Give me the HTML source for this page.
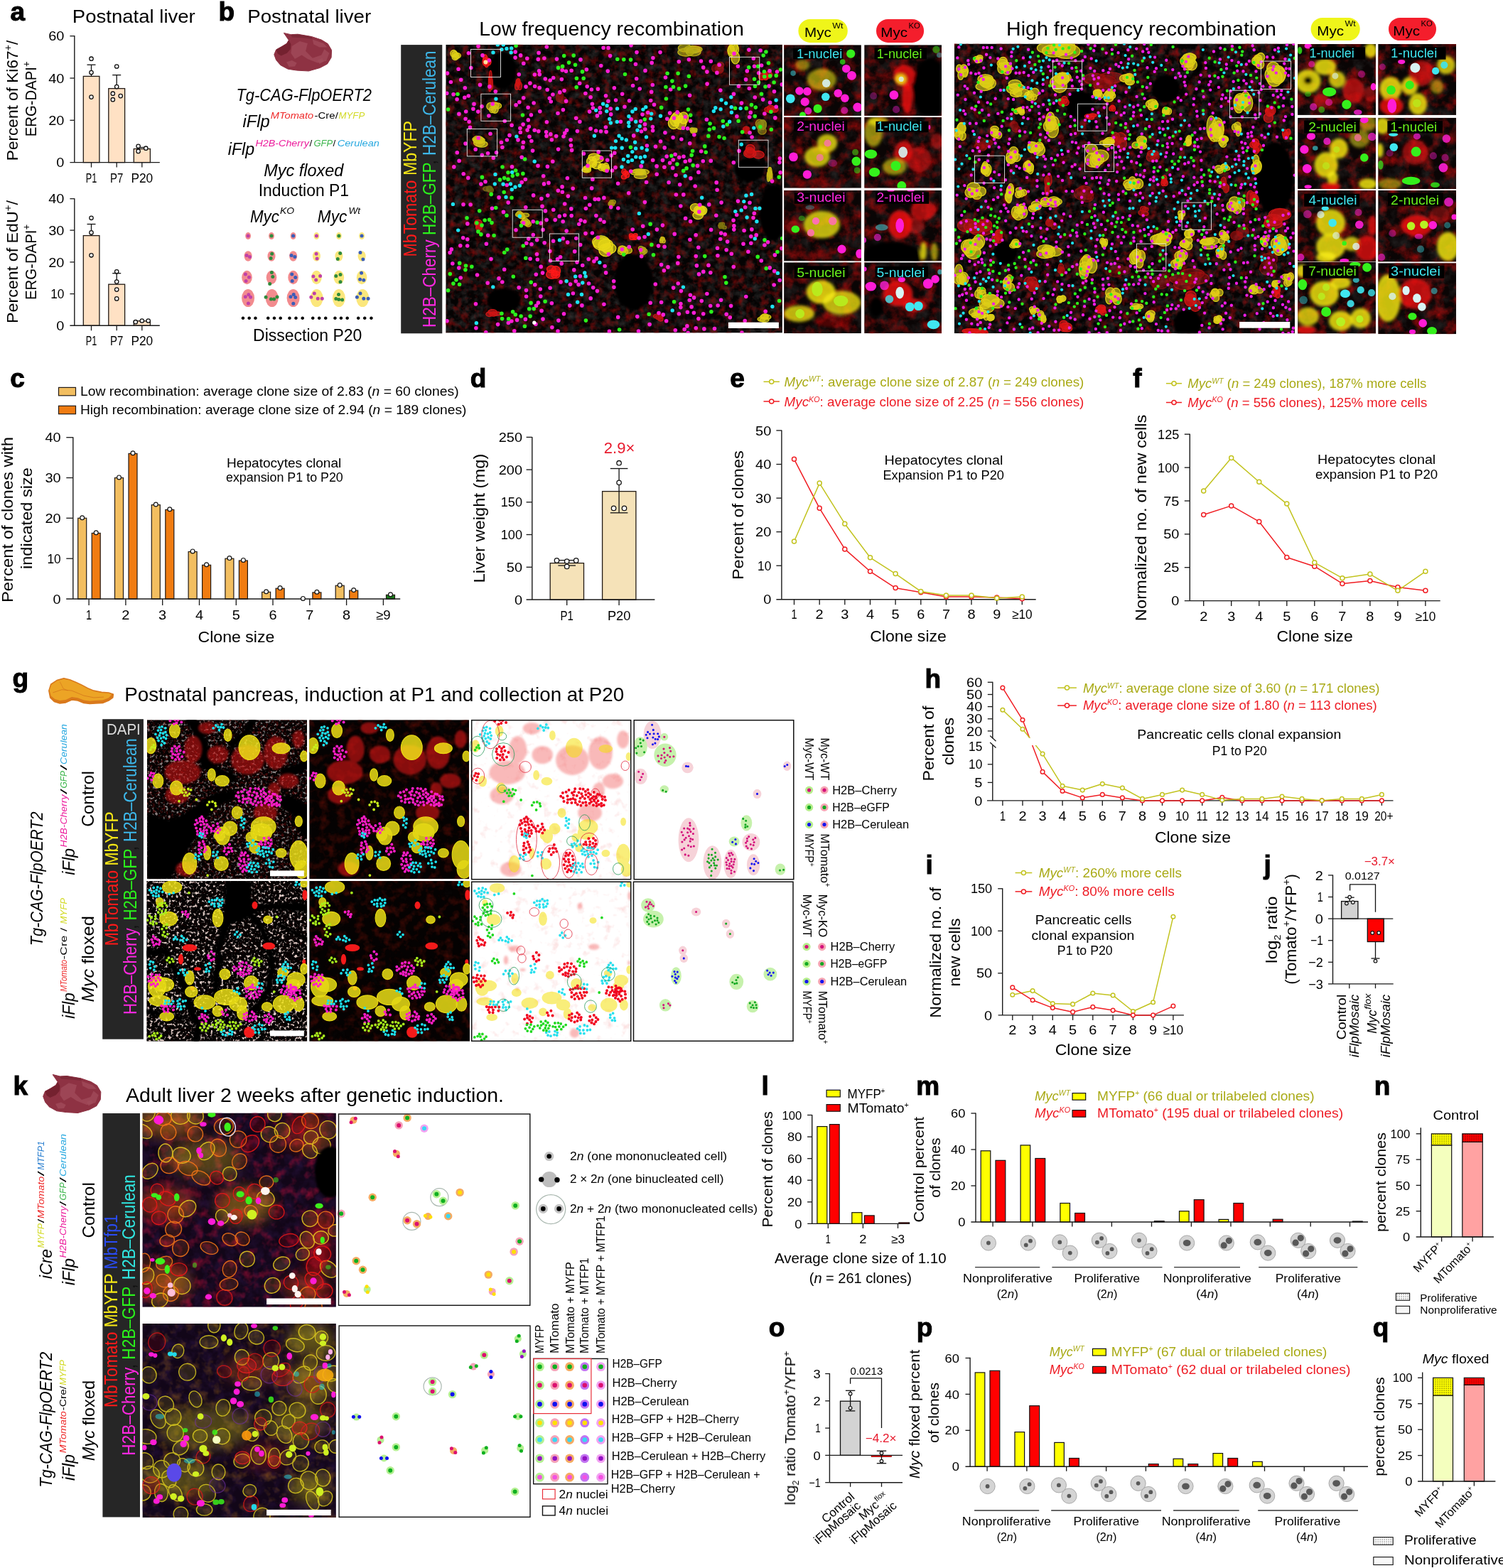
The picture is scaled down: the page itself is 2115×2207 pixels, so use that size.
<!DOCTYPE html>
<html><head><meta charset="utf-8"><title>Figure</title>
<style>html,body{margin:0;padding:0;background:#fff}svg{display:block}text{font-family:'Liberation Sans', sans-serif;white-space:pre}</style>
</head><body>
<svg width="2115" height="2207" viewBox="0 0 2115 2207">
<text x="14.5" y="29.1" font-size="37" fill="#000" font-weight="bold" stroke="#000" stroke-width="1">a</text>
<text x="101.8" y="31.8" font-size="25.6" textLength="173" lengthAdjust="spacingAndGlyphs">Postnatal liver</text>
<rect x="117.3" y="107.4" width="22.6" height="121.2" fill="#FFE1C4" stroke="#221a14" stroke-width="1.3"/>
<rect x="152.8" y="124.6" width="22.8" height="104" fill="#FFE1C4" stroke="#221a14" stroke-width="1.3"/>
<rect x="188.3" y="209.5" width="23.1" height="19.1" fill="#FFE1C4" stroke="#221a14" stroke-width="1.3"/>
<line x1="128.5" y1="91.2" x2="128.5" y2="107.4" stroke="#111" stroke-width="1.3"/>
<line x1="122.5" y1="91.2" x2="134.5" y2="91.2" stroke="#111" stroke-width="1.3"/>
<line x1="164.2" y1="105.6" x2="164.2" y2="124.6" stroke="#111" stroke-width="1.3"/>
<line x1="158.2" y1="105.6" x2="170.2" y2="105.6" stroke="#111" stroke-width="1.3"/>
<line x1="194.6" y1="207.5" x2="205.3" y2="207.5" stroke="#111" stroke-width="1.3"/>
<circle cx="128.5" cy="82.7" r="2.7" fill="#fff" stroke="#111" stroke-width="1.3"/>
<circle cx="128.5" cy="102" r="2.7" fill="#fff" stroke="#111" stroke-width="1.3"/>
<circle cx="128.5" cy="136.6" r="2.7" fill="#fff" stroke="#111" stroke-width="1.3"/>
<circle cx="164.2" cy="93.5" r="2.7" fill="#fff" stroke="#111" stroke-width="1.3"/>
<circle cx="164.2" cy="122.1" r="2.7" fill="#fff" stroke="#111" stroke-width="1.3"/>
<circle cx="158.8" cy="131.7" r="2.7" fill="#fff" stroke="#111" stroke-width="1.3"/>
<circle cx="169.7" cy="135.1" r="2.7" fill="#fff" stroke="#111" stroke-width="1.3"/>
<circle cx="158.8" cy="140.2" r="2.7" fill="#fff" stroke="#111" stroke-width="1.3"/>
<circle cx="194.6" cy="205.8" r="2.7" fill="#fff" stroke="#111" stroke-width="1.3"/>
<circle cx="205.3" cy="208.7" r="2.7" fill="#fff" stroke="#111" stroke-width="1.3"/>
<circle cx="194.6" cy="212.9" r="2.7" fill="#fff" stroke="#111" stroke-width="1.3"/>
<line x1="104.8" y1="50.1" x2="104.8" y2="228.6" stroke="#1a1a1a" stroke-width="1.4"/>
<line x1="98.4" y1="228.6" x2="224.8" y2="228.6" stroke="#1a1a1a" stroke-width="1.4"/>
<line x1="98.4" y1="169.3" x2="104.8" y2="169.3" stroke="#1a1a1a" stroke-width="1.3"/>
<line x1="98.4" y1="110" x2="104.8" y2="110" stroke="#1a1a1a" stroke-width="1.3"/>
<line x1="98.4" y1="50.7" x2="104.8" y2="50.7" stroke="#1a1a1a" stroke-width="1.3"/>
<text x="79.3" y="235.2" font-size="18.5" textLength="11.1" lengthAdjust="spacingAndGlyphs">0</text>
<text x="68.2" y="175.9" font-size="18.5" textLength="22.2" lengthAdjust="spacingAndGlyphs">20</text>
<text x="68.2" y="116.6" font-size="18.5" textLength="22.2" lengthAdjust="spacingAndGlyphs">40</text>
<text x="68.2" y="57.3" font-size="18.5" textLength="22.2" lengthAdjust="spacingAndGlyphs">60</text>
<line x1="128.5" y1="228.6" x2="128.5" y2="235.6" stroke="#1a1a1a" stroke-width="1.3"/>
<text x="120.8" y="256.9" font-size="17.5" textLength="15.5" lengthAdjust="spacingAndGlyphs">P1</text>
<line x1="164.2" y1="228.6" x2="164.2" y2="235.6" stroke="#1a1a1a" stroke-width="1.3"/>
<text x="155" y="256.9" font-size="17.5" textLength="18.3" lengthAdjust="spacingAndGlyphs">P7</text>
<line x1="199.8" y1="228.6" x2="199.8" y2="235.6" stroke="#1a1a1a" stroke-width="1.3"/>
<text x="184.4" y="256.9" font-size="17.5" textLength="30.8" lengthAdjust="spacingAndGlyphs">P20</text>
<text font-size="22" textLength="169.5" lengthAdjust="spacingAndGlyphs" transform="translate(25 226.2) rotate(-90)"><tspan>Percent of Ki67</tspan><tspan font-size="14" dy="-9">+</tspan><tspan dy="9">/</tspan></text>
<text font-size="22" textLength="105.8" lengthAdjust="spacingAndGlyphs" transform="translate(51 192.3) rotate(-90)"><tspan>ERG-DAPI</tspan><tspan font-size="14" dy="-9">+</tspan><tspan dy="9"></tspan></text>
<rect x="117.3" y="331.6" width="22.6" height="126.7" fill="#FFE1C4" stroke="#221a14" stroke-width="1.3"/>
<rect x="152.8" y="400.2" width="22.8" height="58.1" fill="#FFE1C4" stroke="#221a14" stroke-width="1.3"/>
<rect x="188.3" y="451.8" width="23.1" height="6.5" fill="#FFE1C4" stroke="#221a14" stroke-width="1.3"/>
<line x1="128.5" y1="315.5" x2="128.5" y2="331.6" stroke="#111" stroke-width="1.3"/>
<line x1="122.5" y1="315.5" x2="134.5" y2="315.5" stroke="#111" stroke-width="1.3"/>
<line x1="164.2" y1="384.7" x2="164.2" y2="400.2" stroke="#111" stroke-width="1.3"/>
<line x1="158.2" y1="384.7" x2="170.2" y2="384.7" stroke="#111" stroke-width="1.3"/>
<circle cx="128.5" cy="306.8" r="2.7" fill="#fff" stroke="#111" stroke-width="1.3"/>
<circle cx="128.5" cy="327.4" r="2.7" fill="#fff" stroke="#111" stroke-width="1.3"/>
<circle cx="128.5" cy="359.3" r="2.7" fill="#fff" stroke="#111" stroke-width="1.3"/>
<circle cx="164.2" cy="382.3" r="2.7" fill="#fff" stroke="#111" stroke-width="1.3"/>
<circle cx="164.2" cy="396.6" r="2.7" fill="#fff" stroke="#111" stroke-width="1.3"/>
<circle cx="164.2" cy="407.6" r="2.7" fill="#fff" stroke="#111" stroke-width="1.3"/>
<circle cx="164.2" cy="420.4" r="2.7" fill="#fff" stroke="#111" stroke-width="1.3"/>
<circle cx="190.8" cy="453.2" r="2.7" fill="#fff" stroke="#111" stroke-width="1.3"/>
<circle cx="199.8" cy="451.5" r="2.7" fill="#fff" stroke="#111" stroke-width="1.3"/>
<circle cx="208.7" cy="451.5" r="2.7" fill="#fff" stroke="#111" stroke-width="1.3"/>
<line x1="104.8" y1="279.2" x2="104.8" y2="458.3" stroke="#1a1a1a" stroke-width="1.4"/>
<line x1="98.4" y1="458.3" x2="224.8" y2="458.3" stroke="#1a1a1a" stroke-width="1.4"/>
<line x1="98.4" y1="413.6" x2="104.8" y2="413.6" stroke="#1a1a1a" stroke-width="1.3"/>
<line x1="98.4" y1="368.9" x2="104.8" y2="368.9" stroke="#1a1a1a" stroke-width="1.3"/>
<line x1="98.4" y1="324.1" x2="104.8" y2="324.1" stroke="#1a1a1a" stroke-width="1.3"/>
<line x1="98.4" y1="279.7" x2="104.8" y2="279.7" stroke="#1a1a1a" stroke-width="1.3"/>
<text x="79.3" y="464.9" font-size="18.5" textLength="11.1" lengthAdjust="spacingAndGlyphs">0</text>
<text x="71.2" y="420.2" font-size="18.5" textLength="19.2" lengthAdjust="spacingAndGlyphs">10</text>
<text x="68.2" y="375.5" font-size="18.5" textLength="22.2" lengthAdjust="spacingAndGlyphs">20</text>
<text x="68.2" y="330.7" font-size="18.5" textLength="22.2" lengthAdjust="spacingAndGlyphs">30</text>
<text x="68.2" y="286.3" font-size="18.5" textLength="22.2" lengthAdjust="spacingAndGlyphs">40</text>
<line x1="128.5" y1="458.3" x2="128.5" y2="465.3" stroke="#1a1a1a" stroke-width="1.3"/>
<text x="120.8" y="486.4" font-size="17.5" textLength="15.5" lengthAdjust="spacingAndGlyphs">P1</text>
<line x1="164.2" y1="458.3" x2="164.2" y2="465.3" stroke="#1a1a1a" stroke-width="1.3"/>
<text x="155" y="486.4" font-size="17.5" textLength="18.3" lengthAdjust="spacingAndGlyphs">P7</text>
<line x1="199.8" y1="458.3" x2="199.8" y2="465.3" stroke="#1a1a1a" stroke-width="1.3"/>
<text x="184.4" y="486.4" font-size="17.5" textLength="30.8" lengthAdjust="spacingAndGlyphs">P20</text>
<text font-size="22" textLength="173" lengthAdjust="spacingAndGlyphs" transform="translate(25 455) rotate(-90)"><tspan>Percent of EdU</tspan><tspan font-size="14" dy="-9">+</tspan><tspan dy="9">/</tspan></text>
<text font-size="22" textLength="106" lengthAdjust="spacingAndGlyphs" transform="translate(51 422) rotate(-90)"><tspan>ERG-DAPI</tspan><tspan font-size="14" dy="-9">+</tspan><tspan dy="9"></tspan></text>
<text x="307.4" y="29.1" font-size="37" fill="#000" font-weight="bold" stroke="#000" stroke-width="1">b</text>
<text x="348.2" y="31.6" font-size="25.6" textLength="174" lengthAdjust="spacingAndGlyphs">Postnatal liver</text>
<polygon points="399.4,46.4 409.4,48.7 419.1,48.2 438.4,51.5 452.3,56.1 461.3,61.6 466.6,70.6 466.1,81 460.6,90 450.2,95.5 434.3,100 417.7,99.1 405.2,97.2 394.8,91.7 388.6,84.5 385.8,76.8 388.6,69.9 396.9,65.3 403.6,61.2 406.3,56.5 402.7,51.2" fill="#8E3243" stroke="#8E3243" stroke-width="1" stroke-linejoin="round"/>
<polygon points="410.8,65.1 421.8,58.1 432.9,60.9 430.1,72 439.8,81.7 452.3,77.5 456.4,69.2 463.4,74.8 459.2,85.8 446.8,88.6 432.9,83.1 424.6,77.5 414.9,83.1 409.4,74.8" fill="#A24C5B" opacity="0.75"/>
<polygon points="439.8,55.4 455.1,60.9 460.6,66.5 449.5,66.5 441.2,62.3" fill="#A24C5B" opacity="0.75"/>
<polygon points="403.1,87.2 410.8,85.1 417.7,88.6 414.9,93.5 406.6,94.1" fill="#A24C5B" opacity="0.75"/>
<polygon points="446.8,84.5 453.7,81.7 455.8,86.5 449.5,90" fill="#A24C5B" opacity="0.75"/>
<polygon points="388.6,69.9 396.9,65.3 403.6,61.2 406.3,56.5 409.4,62.3 408.7,69.2 403.8,74.8 395.5,78.6 390.7,75.5" fill="#74212F"/>
<polygon points="409.4,48.7 419.1,48.2 438.4,51.5 439.8,54.7 424.6,53.3 410.8,52.6" fill="#7D2938"/>
<text x="332.5" y="141.9" font-size="24" font-style="italic" textLength="190.4" lengthAdjust="spacingAndGlyphs">Tg-CAG-FlpOERT2</text>
<text x="341.5" y="179.3" font-size="24" font-style="italic" textLength="38.1" lengthAdjust="spacingAndGlyphs">iFlp</text>
<text x="380.7" y="166.8" font-size="13.5" fill="#ee2a2a" font-style="italic" textLength="60.5" lengthAdjust="spacingAndGlyphs">MTomato</text>
<text x="442.6" y="166.8" font-size="13.5" textLength="33.2" lengthAdjust="spacingAndGlyphs">-Cre/</text>
<text x="476.5" y="166.8" font-size="13.5" fill="#d2da26" font-style="italic" textLength="36.7" lengthAdjust="spacingAndGlyphs">MYFP</text>
<text x="320.8" y="217.6" font-size="24" font-style="italic" textLength="37.3" lengthAdjust="spacingAndGlyphs">iFlp</text>
<text x="359.5" y="205.6" font-size="13.5" fill="#ec1c9c" font-style="italic" textLength="75.5" lengthAdjust="spacingAndGlyphs">H2B-Cherry</text>
<text x="435.6" y="205.6" font-size="13.5">/</text>
<text x="441.5" y="205.6" font-size="13.5" fill="#3ab54a" font-style="italic" textLength="26.7" lengthAdjust="spacingAndGlyphs">GFP</text>
<text x="468.6" y="205.6" font-size="13.5">/</text>
<text x="474.7" y="205.6" font-size="13.5" fill="#29a9e0" font-style="italic" textLength="59.3" lengthAdjust="spacingAndGlyphs">Cerulean</text>
<text x="371.3" y="248.4" font-size="24" font-style="italic" textLength="112.1" lengthAdjust="spacingAndGlyphs">Myc floxed</text>
<text x="363.7" y="276.3" font-size="23" textLength="127.4" lengthAdjust="spacingAndGlyphs">Induction P1</text>
<text x="351.9" y="313" font-size="24" font-style="italic" textLength="40.9" lengthAdjust="spacingAndGlyphs">Myc</text>
<text x="394.1" y="301.2" font-size="13.5" font-style="italic" textLength="20.1" lengthAdjust="spacingAndGlyphs">KO</text>
<text x="446.8" y="313" font-size="24" font-style="italic" textLength="41.5" lengthAdjust="spacingAndGlyphs">Myc</text>
<text x="490.4" y="301.2" font-size="13.5" font-style="italic" textLength="16.6" lengthAdjust="spacingAndGlyphs">Wt</text>
<ellipse cx="349.1" cy="332.1" rx="3.9" ry="5" fill="#F28B8E"/>
<ellipse cx="382" cy="332.1" rx="3.9" ry="5" fill="#F28B8E"/>
<ellipse cx="412.6" cy="332.1" rx="3.9" ry="5" fill="#F28B8E"/>
<ellipse cx="445.4" cy="332.1" rx="3.9" ry="5" fill="#FBE77C"/>
<ellipse cx="476.9" cy="332.1" rx="3.9" ry="5" fill="#FBE77C"/>
<ellipse cx="509.1" cy="332.1" rx="3.9" ry="5" fill="#FBE77C"/>
<ellipse cx="349.1" cy="360.5" rx="5.5" ry="7.3" fill="#F28B8E"/>
<ellipse cx="382" cy="360.5" rx="5.5" ry="7.3" fill="#F28B8E"/>
<ellipse cx="412.6" cy="360.5" rx="5.5" ry="7.3" fill="#F28B8E"/>
<ellipse cx="445.4" cy="360.5" rx="5.5" ry="7.3" fill="#FBE77C"/>
<ellipse cx="476.9" cy="360.5" rx="5.5" ry="7.3" fill="#FBE77C"/>
<ellipse cx="509.1" cy="360.5" rx="5.5" ry="7.3" fill="#FBE77C"/>
<ellipse cx="347.5" cy="390.5" rx="7.3" ry="9.7" fill="#F28B8E"/>
<ellipse cx="382" cy="390.5" rx="7.3" ry="9.7" fill="#F28B8E"/>
<ellipse cx="412.6" cy="390.5" rx="7.3" ry="9.7" fill="#F28B8E"/>
<ellipse cx="445.4" cy="390.5" rx="7.3" ry="9.7" fill="#FBE77C"/>
<ellipse cx="476.9" cy="390.5" rx="7.3" ry="9.7" fill="#FBE77C"/>
<ellipse cx="509.1" cy="390.5" rx="7.3" ry="9.7" fill="#FBE77C"/>
<ellipse cx="349.1" cy="419.6" rx="9" ry="12.5" fill="#F28B8E"/>
<ellipse cx="382.7" cy="419.6" rx="9" ry="12.5" fill="#F28B8E"/>
<ellipse cx="412.6" cy="419.6" rx="9" ry="12.5" fill="#F28B8E"/>
<ellipse cx="445.6" cy="419.6" rx="9" ry="12.5" fill="#FBE77C"/>
<ellipse cx="476.9" cy="419.6" rx="9" ry="12.5" fill="#FBE77C"/>
<ellipse cx="510.2" cy="419.6" rx="9" ry="12.5" fill="#FBE77C"/>
<path d="M349.1 332.1h0M347.1 359.4h0M351.5 361.4h0M345.4 386.1h0M350.5 390.2h0M346.1 395.4h0M345.3 417.8h0M349.8 414.8h0M352.6 418.2h0M349.4 426.9h0" stroke="#C040A8" stroke-width="5" stroke-linecap="round" fill="none"/>
<path d="M382 332.1h0M382.7 357.3h0M381.1 363.5h0M382.4 383.6h0M383.8 389.4h0M379.7 399.5h0M374.1 418.2h0M381.4 421h0M385.6 421h0M390 417.9h0" stroke="#2E8B3C" stroke-width="5" stroke-linecap="round" fill="none"/>
<path d="M412.6 332.1h0M410.1 359.4h0M414.9 361.4h0M410.8 386.1h0M415.7 390.5h0M411.2 395.4h0M409 417.8h0M413.2 414.5h0M415.7 418.5h0M412.8 427.2h0" stroke="#3A5DB8" stroke-width="5" stroke-linecap="round" fill="none"/>
<path d="M445.4 332.1h0M445.1 357.3h0M446.1 363.9h0M440.9 389.1h0M450.6 388.4h0M444.7 394h0M437.8 418.2h0M442.3 413h0M447.2 420.3h0M453.3 420.3h0" stroke="#C040A8" stroke-width="5" stroke-linecap="round" fill="none"/>
<path d="M476.9 332.1h0M478.7 356.6h0M475.3 364.5h0M472.8 388.4h0M479 386.4h0M479 396.8h0M476.5 414.5h0M472.8 420.6h0M476.8 421.4h0M481.6 422h0" stroke="#2E8B3C" stroke-width="5" stroke-linecap="round" fill="none"/>
<path d="M509.1 332.1h0M507 355.5h0M510.9 364.9h0M508.6 384.3h0M506.6 393.3h0M511.8 394.3h0M502.4 418.2h0M507 413h0M511.8 420.3h0M518.1 420.3h0" stroke="#3A5DB8" stroke-width="5" stroke-linecap="round" fill="none"/>
<text x="350.7" y="453.4" font-size="17" text-anchor="middle" fill="#000" textLength="23.6" lengthAdjust="spacing">•••</text>
<text x="386" y="453.4" font-size="17" text-anchor="middle" fill="#000" textLength="23.6" lengthAdjust="spacing">•••</text>
<text x="416.6" y="453.4" font-size="17" text-anchor="middle" fill="#000" textLength="24" lengthAdjust="spacing">•••</text>
<text x="449.2" y="453.4" font-size="17" text-anchor="middle" fill="#000" textLength="24" lengthAdjust="spacing">•••</text>
<text x="480" y="453.4" font-size="17" text-anchor="middle" fill="#000" textLength="23.2" lengthAdjust="spacing">•••</text>
<text x="513.3" y="453.4" font-size="17" text-anchor="middle" fill="#000" textLength="24.3" lengthAdjust="spacing">•••</text>
<text x="356.1" y="479.8" font-size="23" textLength="153.2" lengthAdjust="spacingAndGlyphs">Dissection P20</text>
<text x="674.2" y="49.8" font-size="27.5" textLength="372.6" lengthAdjust="spacingAndGlyphs">Low frequency recombination</text>
<rect x="564.2" y="63.1" width="58.1" height="406.2" fill="#262626"/>
<text font-size="25" textLength="191.5" lengthAdjust="spacingAndGlyphs" transform="translate(586 361.5) rotate(-90)"><tspan fill="#ff1a1a">MbTomato</tspan><tspan fill="#f5e616"> MbYFP</tspan></text>
<text font-size="25" textLength="389.5" lengthAdjust="spacingAndGlyphs" transform="translate(613.3 461) rotate(-90)"><tspan fill="#ff28e0">H2B–Cherry</tspan><tspan fill="#2bf21c"> H2B–GFP</tspan><tspan fill="#111">,</tspan><tspan fill="#3db7e9"> H2B–Cerulean</tspan></text>
<rect x="1123.4" y="27" width="69.4" height="32.9" fill="#eff51a" rx="16.45"/>
<text x="1132.1" y="52.3" font-size="18.5" fill="#000" textLength="37.8" lengthAdjust="spacingAndGlyphs">Myc</text>
<text x="1171.3" y="39.5" font-size="11" fill="#000" textLength="15.3" lengthAdjust="spacingAndGlyphs">Wt</text>
<rect x="1233" y="27" width="67.1" height="32.9" fill="#f41e2c" rx="16.45"/>
<text x="1239.3" y="52.3" font-size="18.5" fill="#000" textLength="37.8" lengthAdjust="spacingAndGlyphs">Myc</text>
<text x="1278.5" y="39.5" font-size="11" fill="#000" textLength="16.4" lengthAdjust="spacingAndGlyphs">KO</text>
<defs><filter id="texlow" x="0" y="0" width="100%" height="100%" color-interpolation-filters="sRGB"><feTurbulence type="fractalNoise" baseFrequency="0.1" numOctaves="3" seed="3" result="n"/><feColorMatrix in="n" type="matrix" values="0 0 0 0 0.25  0 0 0 0 0.25  0 0 0 0 0.25  0 1.3 0 0 -0.5" result="g"/><feColorMatrix in="n" type="matrix" values="0 0 0 0 0.5  0 0 0 0 0.04  0 0 0 0 0.04  2.0 0 0 0 -0.92" result="r"/><feMerge><feMergeNode in="g"/><feMergeNode in="r"/></feMerge></filter></defs>
<defs><filter id="bl1" x="-20%" y="-20%" width="140%" height="140%"><feGaussianBlur stdDeviation="0.7"/></filter><filter id="bl2" x="-30%" y="-30%" width="160%" height="160%"><feGaussianBlur stdDeviation="1.6"/></filter></defs>
<clipPath id="m1"><rect x="627.3" y="62.8" width="473.6" height="405.8"/></clipPath>
<g clip-path="url(#m1)">
<rect x="627.3" y="62.8" width="473.6" height="405.8" fill="#050303"/>
<rect x="627.3" y="62.8" width="473.6" height="405.8" filter="url(#texlow)"/>
<ellipse cx="707.4" cy="99.4" rx="19.6" ry="26.1" fill="#000" filter="url(#bl2)"/>
<ellipse cx="1054.4" cy="238.9" rx="20.9" ry="17" fill="#000" filter="url(#bl2)"/>
<ellipse cx="1088.3" cy="299" rx="19.6" ry="39.1" fill="#000" filter="url(#bl2)"/>
<ellipse cx="891.3" cy="396.8" rx="27.4" ry="39.1" fill="#000" filter="url(#bl2)"/>
<ellipse cx="708.7" cy="422.9" rx="23.5" ry="17" fill="#000" filter="url(#bl2)"/>
<ellipse cx="956.6" cy="62.8" rx="15.7" ry="4.7" fill="#000" filter="url(#bl2)"/>
<g fill="#ff1a1a" opacity="0.8" filter="url(#bl1)" stroke="#ff1a1a" stroke-width="1.3" fill-opacity="0.65"><ellipse cx="1055.2" cy="215.7" rx="8.6" ry="6.4"/><ellipse cx="1054.8" cy="213.9" rx="6.4" ry="6.6"/><ellipse cx="1055.8" cy="209.3" rx="6.1" ry="6"/><ellipse cx="1067.3" cy="217.8" rx="7.9" ry="5.3"/></g>
<g fill="#ff1a1a" opacity="0.9" filter="url(#bl1)" stroke="#ff1a1a" stroke-width="1.3" fill-opacity="0.65"><ellipse cx="1081.9" cy="105.3" rx="4.8" ry="4.8"/><ellipse cx="1077.4" cy="107.1" rx="4.6" ry="3.8"/><ellipse cx="1077.5" cy="108.1" rx="3.7" ry="4.5"/><ellipse cx="1072.1" cy="107.6" rx="4.6" ry="4.8"/></g>
<g fill="#ff1a1a" opacity="0.8" filter="url(#bl1)" stroke="#ff1a1a" stroke-width="1.3" fill-opacity="0.65"><ellipse cx="1080.3" cy="154.2" rx="4.5" ry="3.3"/><ellipse cx="1089.9" cy="154.1" rx="5.2" ry="3.9"/><ellipse cx="1083.5" cy="155.9" rx="4.2" ry="3"/><ellipse cx="1084.7" cy="151.7" rx="5.2" ry="3.4"/></g>
<g fill="#ff1a1a" opacity="0.7" filter="url(#bl1)" stroke="#ff1a1a" stroke-width="1.3" fill-opacity="0.65"><ellipse cx="1051.6" cy="181.9" rx="2.9" ry="3.2"/><ellipse cx="1050.1" cy="181.4" rx="4.3" ry="3.4"/><ellipse cx="1050.7" cy="184.2" rx="4" ry="3.3"/><ellipse cx="1049.8" cy="184" rx="4.3" ry="4"/></g>
<g fill="#ff1a1a" opacity="0.8" filter="url(#bl1)" stroke="#ff1a1a" stroke-width="1.3" fill-opacity="0.65"><ellipse cx="674.2" cy="317.6" rx="4.4" ry="3.8"/><ellipse cx="672.9" cy="313.8" rx="5.3" ry="4.5"/><ellipse cx="674" cy="320" rx="4.4" ry="4.8"/><ellipse cx="674.9" cy="318" rx="4.6" ry="4.1"/></g>
<g fill="#ff1a1a" opacity="1" filter="url(#bl1)" stroke="#ff1a1a" stroke-width="1.3" fill-opacity="0.65"><ellipse cx="782.2" cy="381.4" rx="6.3" ry="6.8"/><ellipse cx="776.4" cy="386.2" rx="7.8" ry="6.2"/><ellipse cx="781.8" cy="386.6" rx="6.1" ry="5.3"/><ellipse cx="775.8" cy="378.9" rx="6.3" ry="4.9"/></g>
<g fill="#ff1a1a" opacity="1" filter="url(#bl1)" stroke="#ff1a1a" stroke-width="1.3" fill-opacity="0.65"><ellipse cx="893.6" cy="334.2" rx="2.9" ry="3.1"/><ellipse cx="889.7" cy="334.4" rx="3.9" ry="2.9"/><ellipse cx="888.2" cy="331.4" rx="2.8" ry="2.5"/><ellipse cx="894.2" cy="331.2" rx="2.9" ry="2.6"/></g>
<g fill="#ff1a1a" opacity="1" filter="url(#bl1)" stroke="#ff1a1a" stroke-width="1.3" fill-opacity="0.65"><ellipse cx="878" cy="241.7" rx="3.2" ry="3.8"/><ellipse cx="880.6" cy="243.6" rx="3.5" ry="2.7"/><ellipse cx="882.4" cy="246.4" rx="3.2" ry="3.5"/><ellipse cx="878.1" cy="248.9" rx="3.7" ry="3"/></g>
<g fill="#ff1a1a" opacity="0.7" filter="url(#bl1)" stroke="#ff1a1a" stroke-width="1.3" fill-opacity="0.65"><ellipse cx="929.6" cy="449.1" rx="3.4" ry="2.9"/><ellipse cx="923.8" cy="445.1" rx="4.3" ry="3"/><ellipse cx="929.6" cy="445.6" rx="3.3" ry="3"/><ellipse cx="926.4" cy="446.8" rx="3.5" ry="3.1"/></g>
<g fill="#ff1a1a" opacity="1" filter="url(#bl1)" stroke="#ff1a1a" stroke-width="1.3" fill-opacity="0.65"><ellipse cx="682.5" cy="86.7" rx="3.4" ry="5.7"/><ellipse cx="687.1" cy="87.1" rx="3.9" ry="5.1"/><ellipse cx="684.7" cy="88.9" rx="2.9" ry="5.7"/><ellipse cx="682.7" cy="82.2" rx="2.9" ry="5.2"/></g>
<g fill="#ff1a1a" opacity="0.8" filter="url(#bl1)" stroke="#ff1a1a" stroke-width="1.3" fill-opacity="0.65"><ellipse cx="688.9" cy="115.8" rx="1.5" ry="8.8"/><ellipse cx="691.6" cy="117.7" rx="1.8" ry="8.5"/><ellipse cx="690.3" cy="108.1" rx="1.8" ry="8.6"/><ellipse cx="689.5" cy="120.4" rx="1.9" ry="8.4"/></g>
<g fill="#ff1a1a" opacity="0.8" filter="url(#bl1)" stroke="#ff1a1a" stroke-width="1.3" fill-opacity="0.65"><ellipse cx="727.4" cy="121.4" rx="2.8" ry="5"/><ellipse cx="728.4" cy="116.7" rx="2.5" ry="5.1"/><ellipse cx="731.5" cy="121" rx="2.9" ry="5.6"/><ellipse cx="729.4" cy="115.7" rx="2.7" ry="5.1"/></g>
<g fill="#ff1a1a" opacity="0.8" filter="url(#bl1)" stroke="#ff1a1a" stroke-width="1.3" fill-opacity="0.65"><ellipse cx="688.7" cy="442.3" rx="4.8" ry="3.2"/><ellipse cx="699.1" cy="441.6" rx="5.7" ry="2.6"/><ellipse cx="693" cy="439" rx="6" ry="3.4"/><ellipse cx="694.3" cy="442.1" rx="5.3" ry="3.1"/></g>
<g fill="#ff1a1a" opacity="0.5" filter="url(#bl1)" stroke="#ff1a1a" stroke-width="1.3" fill-opacity="0.65"><ellipse cx="1012" cy="96.3" rx="5.7" ry="5.2"/><ellipse cx="1006.3" cy="96.1" rx="4.6" ry="5.2"/><ellipse cx="1012.5" cy="97.4" rx="5.5" ry="5.7"/><ellipse cx="1013.7" cy="91.9" rx="5.1" ry="4.5"/></g>
<g fill="#ff1a1a" opacity="0.45" filter="url(#bl1)" stroke="#ff1a1a" stroke-width="1.3" fill-opacity="0.65"><ellipse cx="792" cy="140.8" rx="5.6" ry="4.6"/><ellipse cx="788.2" cy="133.9" rx="4.5" ry="3.5"/><ellipse cx="787" cy="139.2" rx="4.3" ry="3.9"/><ellipse cx="787" cy="136.3" rx="4.5" ry="4.6"/></g>
<g fill="#ff1a1a" opacity="0.4" filter="url(#bl1)" stroke="#ff1a1a" stroke-width="1.3" fill-opacity="0.65"><ellipse cx="918.3" cy="159" rx="4.1" ry="4"/><ellipse cx="916" cy="158.1" rx="5.3" ry="5"/><ellipse cx="913" cy="164" rx="4" ry="4.2"/><ellipse cx="913.2" cy="159.8" rx="5.5" ry="4.4"/></g>
<g fill="#f2e31a" opacity="0.9" filter="url(#bl1)" stroke="#f2e31a" stroke-width="1.3" fill-opacity="0.65"><ellipse cx="641.8" cy="79.1" rx="4.3" ry="4"/><ellipse cx="638.4" cy="75.3" rx="4.6" ry="4.8"/><ellipse cx="640.1" cy="76.1" rx="4" ry="3.6"/><ellipse cx="643.9" cy="78.2" rx="4.4" ry="3.6"/><ellipse cx="640.5" cy="80.5" rx="4.4" ry="4.1"/></g>
<g fill="#f2e31a" opacity="0.75" filter="url(#bl1)" stroke="#f2e31a" stroke-width="1.3" fill-opacity="0.65"><ellipse cx="963.7" cy="67.5" rx="9.4" ry="5.5"/><ellipse cx="974.2" cy="69.6" rx="11.5" ry="5.3"/><ellipse cx="975.7" cy="73.2" rx="10.3" ry="5.7"/><ellipse cx="965.2" cy="73.5" rx="11.3" ry="5.5"/><ellipse cx="977.6" cy="69.4" rx="10.4" ry="4.3"/></g>
<g fill="#f2e31a" opacity="0.9" filter="url(#bl1)" stroke="#f2e31a" stroke-width="1.3" fill-opacity="0.65"><ellipse cx="1032.7" cy="65.7" rx="5.2" ry="8"/><ellipse cx="1034.8" cy="81.2" rx="5.8" ry="8.7"/><ellipse cx="1028.7" cy="71.5" rx="4.5" ry="8.5"/><ellipse cx="1035.4" cy="69.6" rx="4.1" ry="7.2"/><ellipse cx="1028.9" cy="71" rx="4.9" ry="6"/></g>
<g fill="#f2e31a" opacity="0.85" filter="url(#bl1)" stroke="#f2e31a" stroke-width="1.3" fill-opacity="0.65"><ellipse cx="696.4" cy="148.5" rx="5.8" ry="4.3"/><ellipse cx="693" cy="154.5" rx="4.5" ry="4.2"/><ellipse cx="690.7" cy="149.7" rx="5.9" ry="5.3"/><ellipse cx="699.4" cy="149" rx="6.2" ry="4.1"/><ellipse cx="696.4" cy="154" rx="4.8" ry="5.3"/></g>
<g fill="#f2e31a" opacity="0.85" filter="url(#bl1)" stroke="#f2e31a" stroke-width="1.3" fill-opacity="0.65"><ellipse cx="672.7" cy="196" rx="7.8" ry="4.3"/><ellipse cx="674.4" cy="201.1" rx="7.8" ry="4.9"/><ellipse cx="678" cy="202.9" rx="8.1" ry="4.3"/><ellipse cx="673" cy="197.6" rx="6.9" ry="4.2"/><ellipse cx="674.2" cy="197.6" rx="8.1" ry="4.3"/></g>
<g fill="#f2e31a" opacity="0.95" filter="url(#bl1)" stroke="#f2e31a" stroke-width="1.3" fill-opacity="0.65"><ellipse cx="947.9" cy="173.4" rx="7.5" ry="8.1"/><ellipse cx="953" cy="165.6" rx="7.5" ry="7.9"/><ellipse cx="962" cy="166" rx="6.7" ry="8.1"/><ellipse cx="957.6" cy="172.6" rx="8.3" ry="9.5"/><ellipse cx="949.6" cy="169.2" rx="6.4" ry="8.5"/></g>
<g fill="#f2e31a" opacity="0.8" filter="url(#bl1)" stroke="#f2e31a" stroke-width="1.3" fill-opacity="0.65"><ellipse cx="977.4" cy="182.3" rx="3.6" ry="2.1"/><ellipse cx="976.7" cy="184.1" rx="3.5" ry="2.4"/><ellipse cx="974.4" cy="184.6" rx="2.7" ry="2.9"/><ellipse cx="977.9" cy="184.2" rx="2.9" ry="2.3"/><ellipse cx="973.9" cy="182.5" rx="3.1" ry="2.5"/></g>
<g fill="#f2e31a" opacity="0.55" filter="url(#bl1)" stroke="#f2e31a" stroke-width="1.3" fill-opacity="0.65"><ellipse cx="1069.2" cy="177.1" rx="4.3" ry="6"/><ellipse cx="1068.9" cy="174.2" rx="5.6" ry="6"/><ellipse cx="1073" cy="175.3" rx="5.4" ry="6.4"/><ellipse cx="1073.8" cy="175.7" rx="4.5" ry="6.7"/><ellipse cx="1072.5" cy="184.3" rx="5.7" ry="4.9"/></g>
<g fill="#f2e31a" opacity="0.95" filter="url(#bl1)" stroke="#f2e31a" stroke-width="1.3" fill-opacity="0.65"><ellipse cx="839.6" cy="232.8" rx="6.2" ry="4.9"/><ellipse cx="841.5" cy="223.7" rx="7.6" ry="5"/><ellipse cx="834" cy="230.3" rx="5.5" ry="5.2"/><ellipse cx="836" cy="221.2" rx="8.1" ry="5"/><ellipse cx="832.4" cy="227" rx="6.9" ry="6.3"/></g>
<g fill="#f2e31a" opacity="0.9" filter="url(#bl1)" stroke="#f2e31a" stroke-width="1.3" fill-opacity="0.65"><ellipse cx="851.6" cy="236.5" rx="4.1" ry="3.3"/><ellipse cx="847.3" cy="234" rx="5" ry="3.5"/><ellipse cx="851.9" cy="236.9" rx="5.6" ry="4.9"/><ellipse cx="852.7" cy="234.3" rx="4" ry="4.8"/><ellipse cx="846.2" cy="236" rx="4.6" ry="4"/></g>
<g fill="#f2e31a" opacity="0.9" filter="url(#bl1)" stroke="#f2e31a" stroke-width="1.3" fill-opacity="0.65"><ellipse cx="824" cy="239.5" rx="5.1" ry="2.4"/><ellipse cx="825.9" cy="236.8" rx="4.3" ry="2.9"/><ellipse cx="827.2" cy="237.7" rx="4.3" ry="2.5"/><ellipse cx="825.8" cy="239.6" rx="5.7" ry="3.3"/><ellipse cx="825.9" cy="236.7" rx="5.1" ry="2.8"/></g>
<g fill="#f2e31a" opacity="0.85" filter="url(#bl1)" stroke="#f2e31a" stroke-width="1.3" fill-opacity="0.65"><ellipse cx="896.7" cy="242.7" rx="9.7" ry="3.7"/><ellipse cx="901.3" cy="247.8" rx="9" ry="3.6"/><ellipse cx="904" cy="242.1" rx="9.4" ry="3.8"/><ellipse cx="899" cy="241.1" rx="9" ry="3.1"/><ellipse cx="901.3" cy="242.9" rx="7.6" ry="3.2"/></g>
<g fill="#f2e31a" opacity="0.95" filter="url(#bl1)" stroke="#f2e31a" stroke-width="1.3" fill-opacity="0.65"><ellipse cx="985.7" cy="296.6" rx="7.2" ry="6.2"/><ellipse cx="982.2" cy="303.1" rx="7.3" ry="5.5"/><ellipse cx="978.3" cy="292.3" rx="6.9" ry="5.6"/><ellipse cx="987.4" cy="296.3" rx="7.4" ry="6.5"/><ellipse cx="983.7" cy="296.1" rx="7.2" ry="6.4"/></g>
<g fill="#f2e31a" opacity="0.8" filter="url(#bl1)" stroke="#f2e31a" stroke-width="1.3" fill-opacity="0.65"><ellipse cx="734.7" cy="305.1" rx="4" ry="2.9"/><ellipse cx="733.4" cy="303.8" rx="4.4" ry="3.8"/><ellipse cx="731.2" cy="302.1" rx="5.8" ry="3.4"/><ellipse cx="739.1" cy="302.8" rx="5.5" ry="2.7"/><ellipse cx="730.8" cy="301" rx="4" ry="3.8"/></g>
<g fill="#f2e31a" opacity="0.8" filter="url(#bl1)" stroke="#f2e31a" stroke-width="1.3" fill-opacity="0.65"><ellipse cx="743.3" cy="315.5" rx="4.2" ry="3.6"/><ellipse cx="739.9" cy="312.4" rx="5.8" ry="3.5"/><ellipse cx="737.2" cy="312.8" rx="4.6" ry="3.3"/><ellipse cx="739.1" cy="310.9" rx="4.5" ry="3.9"/><ellipse cx="740.9" cy="314.4" rx="4.4" ry="2.9"/></g>
<g fill="#f2e31a" opacity="0.95" filter="url(#bl1)" stroke="#f2e31a" stroke-width="1.3" fill-opacity="0.65"><ellipse cx="852.5" cy="352.1" rx="9.7" ry="8.7"/><ellipse cx="847" cy="343.2" rx="12.1" ry="8.8"/><ellipse cx="857.1" cy="349.7" rx="9.8" ry="7.4"/><ellipse cx="852.3" cy="345.2" rx="10.2" ry="8.8"/><ellipse cx="845.7" cy="340.5" rx="12" ry="8.5"/></g>
<g fill="#f2e31a" opacity="0.85" filter="url(#bl1)" stroke="#f2e31a" stroke-width="1.3" fill-opacity="0.65"><ellipse cx="876.7" cy="351.2" rx="5.1" ry="4.8"/><ellipse cx="878.8" cy="354.2" rx="4.9" ry="4.2"/><ellipse cx="874.1" cy="354" rx="4.8" ry="4.4"/><ellipse cx="875.4" cy="350.8" rx="5.4" ry="5"/><ellipse cx="884" cy="352.4" rx="5.4" ry="4.4"/></g>
<g fill="#f2e31a" opacity="0.7" filter="url(#bl1)" stroke="#f2e31a" stroke-width="1.3" fill-opacity="0.65"><ellipse cx="907.1" cy="353.5" rx="3.6" ry="3.4"/><ellipse cx="903.2" cy="352.5" rx="3.5" ry="3.3"/><ellipse cx="902" cy="349.6" rx="3.6" ry="2.9"/><ellipse cx="904.4" cy="355" rx="3.8" ry="3.8"/><ellipse cx="905.6" cy="351.4" rx="3" ry="3.2"/></g>
<g fill="#f2e31a" opacity="0.8" filter="url(#bl1)" stroke="#f2e31a" stroke-width="1.3" fill-opacity="0.65"><ellipse cx="931.1" cy="337.4" rx="2.5" ry="2"/><ellipse cx="933.7" cy="339.2" rx="2.5" ry="2.6"/><ellipse cx="930.5" cy="339.4" rx="2.2" ry="2.3"/><ellipse cx="931.7" cy="335.5" rx="2" ry="2.1"/><ellipse cx="932.6" cy="336.1" rx="2.7" ry="2.2"/></g>
<g fill="#f2e31a" opacity="0.5" filter="url(#bl1)" stroke="#f2e31a" stroke-width="1.3" fill-opacity="0.65"><ellipse cx="1015" cy="319.2" rx="3.7" ry="2.5"/><ellipse cx="1014.4" cy="316" rx="3" ry="2.7"/><ellipse cx="1016.5" cy="315.6" rx="3.2" ry="2.5"/><ellipse cx="1019.5" cy="320.2" rx="2.7" ry="2.2"/><ellipse cx="1014.3" cy="317.8" rx="3.5" ry="2.4"/></g>
<g fill="#f2e31a" opacity="0.6" filter="url(#bl1)" stroke="#f2e31a" stroke-width="1.3" fill-opacity="0.65"><ellipse cx="860.2" cy="284.8" rx="2.6" ry="3.1"/><ellipse cx="861.5" cy="286.8" rx="3.2" ry="3.2"/><ellipse cx="859.8" cy="287.2" rx="2.8" ry="3.2"/><ellipse cx="859.2" cy="286.8" rx="3.2" ry="3"/><ellipse cx="863" cy="284.3" rx="3.4" ry="2.9"/></g>
<g fill="#f2e31a" opacity="0.9" filter="url(#bl1)" stroke="#f2e31a" stroke-width="1.3" fill-opacity="0.65"><ellipse cx="1075.1" cy="445.9" rx="5.3" ry="3.1"/><ellipse cx="1079.8" cy="446.2" rx="5.1" ry="3.1"/><ellipse cx="1071.6" cy="449.2" rx="5.5" ry="3.1"/><ellipse cx="1075.6" cy="450.2" rx="6.4" ry="3.3"/><ellipse cx="1076.4" cy="445.4" rx="5" ry="3.6"/></g>
<g fill="#f2e31a" opacity="0.4" filter="url(#bl1)" stroke="#f2e31a" stroke-width="1.3" fill-opacity="0.65"><ellipse cx="689.5" cy="265.2" rx="3.3" ry="3"/><ellipse cx="684.6" cy="265.7" rx="4.8" ry="3.1"/><ellipse cx="688.4" cy="265.3" rx="4.2" ry="3.3"/><ellipse cx="689.2" cy="266.9" rx="4.5" ry="3.4"/><ellipse cx="690.9" cy="267.6" rx="3.5" ry="3.2"/></g>
<g fill="#f2e31a" opacity="0.8" filter="url(#bl1)" stroke="#f2e31a" stroke-width="1.3" fill-opacity="0.65"><ellipse cx="1082.5" cy="246.2" rx="1.7" ry="8.1"/><ellipse cx="1081.2" cy="248.4" rx="1.9" ry="6.9"/><ellipse cx="1084.9" cy="248.1" rx="2" ry="7.4"/><ellipse cx="1082.8" cy="242.6" rx="2.3" ry="7.1"/><ellipse cx="1083.9" cy="243.5" rx="2.2" ry="8.2"/></g>
<g filter="url(#bl1)">
<path d="M1048.2 451.5h0M875.4 351h0M827 233.4h0M829.8 288.3h0M645.8 377.1h0M731.9 180.5h0M962 220.3h0M678 149.8h0M775.3 143h0M764 323.4h0M655.1 167.2h0M964.6 307.3h0M852.6 383.9h0M940 375.9h0M773.8 353.6h0M1000.3 86.3h0M1049.8 417.5h0M840.4 162.9h0M761.1 314.1h0M901.6 170.6h0M804.6 211.4h0M964.3 227.2h0M953.2 157.9h0M1029.3 357.2h0M743.3 168.9h0M833.4 146.3h0M774.8 188.9h0M1052.9 354.3h0M732.3 186.3h0M645.1 97.3h0M739.8 291.7h0M1054.3 124.5h0M1071.3 367h0M984.8 288.3h0M686.2 398.2h0M839.4 363.9h0M1089.5 128.7h0M814.8 315.5h0M908 99.4h0M789.1 396.9h0M693.2 146.2h0M1013.8 127.1h0M971.6 311.6h0M769.1 309.6h0M968.2 468.6h0M1083.6 144.4h0M907.5 174.9h0M1055 285.3h0M942.6 229.3h0M1100.1 349.6h0M896 73.6h0M995.1 118.1h0M841.4 125.3h0M798.4 250.7h0M961.8 273.9h0M717 190.4h0M1097.2 394.5h0M715.2 285.1h0M736.4 200.3h0M1100.4 118.9h0M1028.6 430.6h0M930.6 372.6h0M834.4 152h0M1092.2 150.3h0M1005.5 462.5h0M1000.3 226.4h0M891.7 190.9h0M953.8 370.4h0M857.4 466.4h0M1032.3 228.8h0M948.4 166.3h0M844.2 151.9h0M1038.4 93.3h0M739.3 252.5h0M750.3 330.6h0M1044 468.3h0M1040 212.4h0M810.8 335.5h0M777.8 227.3h0M667 146.4h0M1080.6 340.8h0M1043.5 145.1h0M955.3 86.7h0M754.5 430.3h0M957.8 290h0M810.3 395.8h0M902.2 233.9h0M757 233.4h0M785.9 451.1h0M823.9 131.5h0M684.4 343.3h0M766.2 341.8h0M791.4 270.3h0M669.9 461.7h0M729 196.9h0M982.8 348.2h0M792.3 335.7h0M1061.3 300.2h0M1060 306.6h0M1058.1 193h0M951.4 274h0M709.7 379.2h0M852.4 179h0M999.8 383.8h0M997.8 287.9h0M751.1 145h0M652.2 244.8h0M781.2 309.6h0M1009.1 267.2h0M1033 75.4h0M770.8 275.1h0M740 122.1h0M759.2 123.6h0M997 373.4h0M787.3 304.4h0M672.8 157.1h0M652 287.7h0M978.2 262h0M645.9 160.4h0M694.3 222.2h0M918.3 119.5h0M966.9 458.9h0M767.3 111h0M825.4 97.7h0M970.3 422.5h0M646.1 226.4h0M655 202.1h0M1036.7 302.5h0M846.4 222.3h0M807.8 379.9h0M854.7 225.2h0M979.3 360.6h0M713.3 260.5h0M888.1 167.9h0M856.4 357.8h0M869.8 293h0M730.3 104.8h0M764 449.1h0M683.8 467.8h0M840.4 409.6h0M885.3 347.5h0M1051.3 99.9h0M982.9 242.4h0M924.1 233.9h0M638.1 132.7h0M851.1 374.5h0M753.9 456.3h0M706.8 397h0M856 67.4h0M979.2 330.8h0M647.8 345.7h0M873.4 171.2h0M1090.8 165.9h0M743.8 336.1h0M1008.2 256.9h0M1009.5 349.3h0M802.6 400.1h0M1039.4 121.3h0M967.4 439.3h0M987.3 423.6h0M785.4 268.3h0M793.5 441.8h0M710.2 170.5h0M859.3 153h0M950.1 217.2h0M788.6 361.7h0M989.7 94.9h0M1046 343.3h0M752.4 105h0M657.8 314.9h0M859.7 291.6h0M983.5 385.9h0M761.2 375.4h0M976.6 418.9h0M1014.6 422.2h0M855.9 142.2h0M1075.9 160h0M932.5 225.6h0M922.3 400h0M686.6 215.8h0M736.7 137.7h0M956.7 259.8h0M799.4 276.1h0M989.8 382.4h0M818.9 429.9h0M1032.5 132.3h0M662.8 95.5h0M1071.6 92h0M1067.7 102.8h0M909.6 256.5h0M902.7 360.8h0M745.9 117.1h0M1073.6 140.1h0M769.3 66h0M794.7 303h0M1096.9 228.6h0M760.3 407h0M869.7 446.4h0M1098.2 242.7h0M970.6 134.2h0M761.9 279.6h0M758.1 74.4h0M899.2 335h0M816.4 388.7h0M990.9 462.9h0M1014.7 328.1h0M765.9 82h0M924.2 245.3h0M757.8 184.7h0M963.2 463.6h0M918.7 225.5h0M935.2 207.9h0M783.5 83.1h0M1010.2 430h0M740.8 342.2h0M1012.1 91.2h0M994.9 413.5h0M774.2 113h0M785.6 210.1h0M1032.9 317.9h0M833.9 252.4h0M864.8 215.2h0M769.4 171.7h0M838.9 303.6h0M976.8 189.8h0M814.1 400.6h0M964.3 164.5h0M842.3 280.4h0M720.1 176.3h0M662.1 288h0M859.7 160.9h0M1032.3 375.6h0M742.1 183.1h0M887.7 241.1h0M812.4 184.6h0M1027.3 446.7h0M726.1 147.8h0M708.5 298.4h0M930.6 425.5h0M796.6 142.4h0M954.9 361.6h0M1013.7 336.5h0M834.7 404.8h0M655.7 157h0M853.1 185.6h0M1022.2 351.7h0M734.2 256.6h0M831.1 181.1h0M816.6 344.6h0M863.7 395.8h0M907.8 181.8h0M669.2 210.3h0M801.8 430.1h0M943.7 126h0M778.8 295.2h0M914.1 456.6h0M1097.4 223.1h0M935.1 347.3h0M658.8 250.4h0M635.3 350.9h0M946.7 236.4h0M629 451.7h0M999.7 430.5h0M1086.6 255.1h0M832.4 126h0M806.4 413h0M719.8 452h0M994.9 101.1h0M894.4 90.3h0M713.4 197h0M790.2 370.9h0M657.7 346h0M700.6 456.6h0M796.5 100.3h0M915.7 141.5h0M904 161.1h0M723.8 465.8h0M749.6 212.1h0M1020.2 329.7h0M970.7 201.8h0M1049.6 111.9h0M918.4 178.5h0M755.6 337.7h0M804.2 303.6h0M776.4 426.8h0M760.8 417.1h0M653.8 137.3h0M762.1 437.4h0M904.7 318.3h0M804.1 99.2h0M989.3 226.7h0M782.7 191.6h0M1000.6 323.4h0M955.4 441.8h0M983.8 298.1h0M1061.5 93.2h0M835.9 367.8h0M773.3 138.2h0M911.8 158.5h0M936.5 109h0M673.2 194.3h0M866.6 141h0M861.5 240h0M869.6 258.3h0M806.2 265.3h0M951.1 246.5h0M1056.2 158.4h0M863.9 404.3h0M744.4 178.2h0M636.8 371h0M875.6 132.3h0M864.4 123.8h0M794 127.6h0M1090.4 358.9h0M1008.9 102.4h0M730.8 143.7h0M785 466.1h0M740.5 408.6h0M967.6 180.8h0M971.5 170.2h0M777.9 133h0M763 290.4h0M734.2 221.2h0M970.8 225.9h0M1032.1 310.1h0M994.4 168.2h0M730.2 404.8h0M739.4 449.4h0M755.5 357.7h0M757.4 426.1h0M659.4 74.8h0M698.5 214.8h0M702 391.9h0M675.5 119.4h0M669.5 427.8h0M1077.2 438.3h0M1070.1 71h0M794.8 187.3h0M736.8 89.3h0M747.9 198.5h0M1089.2 401h0M741.8 82.2h0M933.3 442.9h0M671.5 387h0M785 159.5h0M750.6 274.9h0M758.6 99.7h0M957.9 427.5h0M778.6 339.2h0M743.1 151.2h0M941.1 256.7h0M763.6 384.1h0M949.2 329.4h0M757.3 83.4h0M854 240.5h0M976.4 440.2h0M822.9 311.7h0M842.2 213.9h0M915.2 426.2h0M970.9 337.3h0M648.7 112.2h0M665.9 153.3h0M1075.9 345h0M715.4 454.5h0M676.9 259.1h0M910.4 205h0M858.6 78.6h0M817 83.9h0M638.8 234.9h0M917.2 88.4h0M982.9 448.6h0M901.7 351.8h0M746.1 364.3h0M986.7 213h0M643.3 214.7h0M767.4 296.9h0M989.7 441.8h0M918.6 183.8h0M1060.3 82.3h0M1015.1 285.1h0M720.5 234.7h0M981.5 233.4h0M735.7 207.4h0M1083 99.7h0M866 235.7h0M705.4 200.5h0M838.6 184h0M687.9 163h0M683 255.8h0M648.2 391h0M947.2 225h0M1037.2 459h0M765.5 258.9h0M958.9 196h0M855.3 100.1h0M896.8 445.6h0M860.3 218.8h0M736.6 313.7h0M934.9 235.2h0M824.4 293.5h0M1083.2 376.9h0M898.5 466h0M942.6 159.1h0M774.1 405.2h0M844.6 158.4h0M879 150.2h0M810.7 166.3h0M890.2 323h0M1054.7 164.7h0M732.6 77.9h0M654.3 123.8h0M754.3 386.3h0M1057.9 322.9h0M888 63.7h0M756.3 365.2h0M918.9 81.6h0M688.2 85h0M920.5 147.2h0M929.5 199h0M845.7 92.5h0M787.8 129.9h0M740.6 417.2h0M651.7 334.8h0M706.9 207.3h0M1089.7 381.6h0M736.1 175.1h0M833.4 328h0M661.5 179.4h0M750.2 311.8h0M1055.1 186.8h0M832.7 264.9h0M686.7 331.2h0M958.4 409.6h0M770.2 126.2h0M971.4 415.3h0M927 440.6h0M1038.5 283.1h0M826.2 121.7h0M797.6 183.2h0M954.2 399h0M727.6 450.4h0M725.2 73.1h0M929 73.6h0M1023.6 340.1h0M688.9 121.9h0M659.3 135h0M973.1 431.9h0M748 343.8h0M980.4 373.9h0M752.8 400.8h0M794.7 287h0M1009.9 359.7h0M831.1 136.8h0M634.4 115.5h0M1062.3 137h0M784.5 364.9h0M759.8 156.7h0M629.5 103.1h0M691 364.6h0M884.7 271.7h0M926.5 346.1h0M935.9 186.8h0M907.4 284.6h0M844.7 309.2h0M1056.8 332.7h0M1022.2 442.3h0M633.1 355.6h0M837.2 280.4h0M798.7 341.1h0M986.5 86h0M1047.1 324.5h0M778.7 109.5h0M792.4 154.6h0M938.2 220.1h0M824 328.6h0M961.4 180.2h0M808.7 353.9h0M745 192.3h0M803.1 196.7h0M803.8 293.9h0M932.4 317.1h0M1048.7 291.7h0M643.1 139.7h0M815.7 117.3h0M969.4 83.7h0M697.3 128.7h0M752.6 121.5h0M793 192h0M1007.8 303.3h0M850 312.3h0M821.4 216.3h0M673 65.1h0M759.3 104.8h0M752.2 183.3h0M900.2 125h0M1093.5 101h0M916.7 129.4h0M934.4 380.8h0M1082.1 121.1h0M770.4 234.4h0M828.6 399h0M957.8 432.6h0M924.4 323.1h0M791.2 98.8h0M1064.2 330.9h0M845.5 184.7h0M937.7 451.8h0M791.1 262.9h0M885.6 141.8h0M797.2 325.1h0M803.5 204.7h0M828.2 364.8h0M776.9 460.8h0M790.4 111.6h0M817.1 310.1h0M849.1 67.2h0M950.3 464.8h0M764.7 247.7h0M831.2 419.9h0M1053.9 70.1h0M947.1 193.6h0M792.2 311.8h0M628.8 131.3h0M841.3 334.2h0M657.8 336.8h0M678.3 218.3h0M768.6 185.8h0M679 77.9h0M849.9 428.3h0M725.1 81.1h0M726 323.8h0M890.6 120.5h0M812 369.1h0M1036.9 163.8h0M774.4 367h0M971.9 250.9h0M922.5 206.2h0M1032.8 323.1h0M819.7 373.5h0M815.9 171.3h0M852.5 134.8h0M947.6 405.1h0M776.4 196.8h0M823.6 278.5h0M895.7 110.8h0M690 188.2h0M938.8 167.3h0M692.5 293.3h0M772 257.4h0M747.4 161.8h0M829.6 157.1h0M955.8 221.6h0M902.5 185h0M769 191.4h0M1056.8 342.3h0M702.1 277.9h0M849.9 278.4h0M979.3 461.7h0M660.1 171.2h0M907.1 333.5h0" stroke="#ff1fd6" stroke-width="5.6" stroke-linecap="round" fill="none"/>
<path d="M682.2 310h0M1034.6 152.2h0M1057.5 147.6h0M746.1 445.1h0M973.2 218.3h0M709.7 355.5h0M678 317.1h0M1044.6 185.8h0M807.2 78.1h0M1042.1 457.1h0M657 306.7h0M821.2 110.3h0M744.7 434.7h0M637.9 399.1h0M733.4 317.6h0M1039.1 170.3h0M1092.2 106.4h0M1071.5 132.2h0M722.3 389.3h0M811.2 122.8h0M868.8 83.3h0M1081.5 88.7h0M955.6 124.8h0M1061.6 111.2h0M998.3 182.2h0M676.9 329.9h0M1075.4 100.8h0M721.3 247.6h0M993.3 214.2h0M871.6 464h0M1021.8 398.1h0M728.1 245.6h0M964.6 121.1h0M630.6 154h0M811.4 110.3h0M975.2 232.7h0M709.6 250.6h0M713 303.2h0M735.5 162h0M715.7 448.8h0M1084.9 157.3h0M939.1 103.3h0M654.9 379.8h0M1098.5 98h0M1066.2 361.4h0M707 235h0M1050.2 152.4h0M936.9 122.5h0M747.1 426.4h0M969.4 107.3h0M954.1 103.3h0M674.7 296.7h0M1066.7 93.4h0M887.6 84.1h0M1096.2 249.3h0M1004.5 180.4h0M800.6 88.1h0M691.2 273.4h0M819.5 100.9h0M945.9 114.1h0M720 278.2h0M670.9 313.8h0M785.6 95.4h0M1078.2 377.7h0M725.7 240h0M996.9 191.4h0M791.6 93.4h0M809.5 91.2h0M1083.7 106.8h0M937.4 139h0M1096.6 423.5h0M747.2 397.2h0M1017.3 170.5h0M688.6 309.3h0M991.8 360.6h0M705.9 441.2h0M642 394h0M738.6 224h0M1062.5 121.5h0M1075.8 107.8h0M695.1 331.5h0M735.9 244.4h0M879.5 104.5h0M999.1 174h0M739.8 363.2h0M971.7 162.1h0M991.8 205.9h0M736.3 346h0M713.7 351.1h0M646.6 400.3h0M1069.8 178.6h0M633.3 385.6h0M877.8 83.7h0M974.6 212.5h0M726.1 64.5h0M630.6 408.7h0M824.4 451.1h0M1089.1 116h0M1019.1 194.5h0M944.8 219.3h0M706.6 448.6h0M1020 389.8h0M1077.9 73h0M756 313.1h0M751.3 434.6h0M646.7 370.4h0M655.5 374h0M692 313.6h0M721.6 438.8h0M907.3 168.1h0M709.2 270.5h0M947.5 122.3h0M877.7 358.2h0M948.6 424.7h0M715 242.7h0M1074.2 78h0M697.8 292.5h0M913.2 442.3h0M1077 122h0M968.5 154.1h0M767.1 424.2h0M644 132.5h0M1012 192.6h0M916.9 344.4h0M1093.9 354.5h0M703.5 252.9h0M1053.8 94.7h0M887.4 207.3h0M678.4 249.4h0M793.7 78.6h0M733.1 445h0M1076 337.8h0M1063.3 151.1h0M930.6 151.4h0M1067.5 116.1h0M738.4 459.2h0M966.1 236.9h0M1023.3 175.3h0M725.3 442.7h0M1100.8 335.5h0M915.1 315.4h0M952.9 231.1h0M715 252.2h0M1085.3 182.2h0M1000.9 438.8h0M672.9 325.9h0M919.5 358.7h0M663.8 375.2h0M961.7 240.4h0M1062.3 163.6h0" stroke="#2bf21c" stroke-width="5.6" stroke-linecap="round" fill="none"/>
<path d="M836.4 191.3h0M875.1 195.1h0M857.7 167.5h0M889.9 157h0M812.7 425.2h0M706 69.6h0M752.2 227.2h0M1046.8 283.6h0M819.8 398h0M865.8 208.1h0M885 177.6h0M881.3 197h0M894.8 220.9h0M712 277.4h0M1015.1 140.8h0M1004.3 156.5h0M866.5 198.6h0M818.5 414.5h0M1043.2 295.9h0M719.2 73.9h0M637.4 287.4h0M903.9 228h0M1026.6 171.2h0M822.8 384h0M696.3 259h0M883.9 227.5h0M912.3 329.5h0M883.7 219.5h0M848.6 146.2h0M910.3 211h0M1029.4 158.3h0M1049.9 275.2h0M1021.6 145.2h0M897 183.3h0M875 235h0M961.4 404.1h0M915.8 167.1h0M1068.9 293.3h0M1042.1 152.6h0M797.1 395.7h0M1051.1 306h0M908.8 150.7h0M720.3 266.7h0M946.2 436.9h0M853.7 156.6h0M894.2 153.4h0M964.2 247.7h0M719.7 67.9h0M904.9 154.1h0M1014.1 153.7h0M838.7 155.3h0M1028.8 136.7h0M1034.8 297.6h0M694 73.9h0M884.7 172.5h0M884.9 163.8h0M868.6 152.9h0M903.2 208.2h0M889.4 225.4h0M868.3 171.5h0M809.7 389.2h0M712.9 68.5h0M854.1 148.7h0M1086.9 431.5h0M1043.3 203.3h0M1060.8 180.1h0M693.8 403.9h0M731.3 261.2h0M893.6 200.3h0M1092.1 141h0M1094.4 384.4h0M1062.3 336h0M987.7 278.2h0M894.7 171.2h0M787.5 337.9h0M875.2 208.3h0M889.8 213.6h0M1017.8 178h0M731.3 304.2h0M1063 293.4h0M799.5 414.5h0M644.7 324.1h0M877.4 224.5h0M901.2 221.7h0M720.7 242.4h0M871.1 191.2h0M708.1 259.3h0M1057.6 273.5h0M1006.8 151.8h0M1029.2 150.7h0M697 245.4h0M670.4 454.7h0M909.5 192.9h0M708.3 62.9h0M1064.9 311.8h0M894.6 208.9h0M697.9 139.3h0M725 263.2h0M899.4 300.4h0M916.7 160.1h0M907.5 220.3h0M929.5 163.3h0M900.2 177.8h0M860.6 208.1h0M700.3 62.9h0M824.1 388.9h0M859.4 173h0M726.9 192.1h0M843.9 369.5h0M718.4 259h0" stroke="#1fe3f2" stroke-width="5.4" stroke-linecap="round" fill="none"/>
</g>
<circle cx="751.8" cy="454.2" r="2.6" fill="#fff"/>
<circle cx="683.4" cy="87.6" r="3" fill="#ffe0a0"/>
<rect x="662.5" y="69.4" width="42" height="39.1" fill="none" stroke="#e8e8e8" stroke-width="0.9"/>
<rect x="676.9" y="132.2" width="41.7" height="38.1" fill="none" stroke="#e8e8e8" stroke-width="0.9"/>
<rect x="657.3" y="181.5" width="42.3" height="38.4" fill="none" stroke="#e8e8e8" stroke-width="0.9"/>
<rect x="819.3" y="212.1" width="41.2" height="38.1" fill="none" stroke="#e8e8e8" stroke-width="0.9"/>
<rect x="721.2" y="295.3" width="42" height="38.9" fill="none" stroke="#e8e8e8" stroke-width="0.9"/>
<rect x="773.4" y="329" width="41.2" height="38.4" fill="none" stroke="#e8e8e8" stroke-width="0.9"/>
<rect x="1026.5" y="80.3" width="42.3" height="38.9" fill="none" stroke="#e8e8e8" stroke-width="0.9"/>
<rect x="1039.3" y="197.2" width="41.7" height="38.1" fill="none" stroke="#e8e8e8" stroke-width="0.9"/>
<rect x="1024.9" y="453.7" width="71" height="8.3" fill="#fff"/>
</g>
<text x="1416" y="49.8" font-size="27.5" textLength="380" lengthAdjust="spacingAndGlyphs">High frequency recombination</text>
<rect x="1844.6" y="24.9" width="69.1" height="32.2" fill="#eff51a" rx="16.1"/>
<text x="1853.3" y="49.5" font-size="18.5" fill="#000" textLength="37.8" lengthAdjust="spacingAndGlyphs">Myc</text>
<text x="1892.5" y="36.7" font-size="11" fill="#000" textLength="15.3" lengthAdjust="spacingAndGlyphs">Wt</text>
<rect x="1954" y="24.9" width="67" height="32.2" fill="#f41e2c" rx="16.1"/>
<text x="1960.3" y="49.5" font-size="18.5" fill="#000" textLength="37.8" lengthAdjust="spacingAndGlyphs">Myc</text>
<text x="1999.5" y="36.7" font-size="11" fill="#000" textLength="16.4" lengthAdjust="spacingAndGlyphs">KO</text>
<defs><filter id="texhigh" x="0" y="0" width="100%" height="100%" color-interpolation-filters="sRGB"><feTurbulence type="fractalNoise" baseFrequency="0.1" numOctaves="3" seed="9" result="n"/><feColorMatrix in="n" type="matrix" values="0 0 0 0 0.25  0 0 0 0 0.25  0 0 0 0 0.25  0 1.3 0 0 -0.5" result="g"/><feColorMatrix in="n" type="matrix" values="0 0 0 0 0.55  0 0 0 0 0.04  0 0 0 0 0.05  2.0 0 0 0 -0.92" result="r"/><feMerge><feMergeNode in="g"/><feMergeNode in="r"/></feMerge></filter></defs>
<clipPath id="m2"><rect x="1342.9" y="61.6" width="479.2" height="407.7"/></clipPath>
<g clip-path="url(#m2)">
<rect x="1342.9" y="61.6" width="479.2" height="407.7" fill="#050303"/>
<rect x="1342.9" y="61.6" width="479.2" height="407.7" filter="url(#texhigh)"/>
<ellipse cx="1640.7" cy="124.8" rx="19.8" ry="19.8" fill="#000" filter="url(#bl2)"/>
<ellipse cx="1519.5" cy="147.3" rx="18.5" ry="19.8" fill="#000" filter="url(#bl2)"/>
<ellipse cx="1793.6" cy="251.4" rx="26.4" ry="51.4" fill="#000" filter="url(#bl2)"/>
<ellipse cx="1415.4" cy="355.5" rx="15.8" ry="17.1" fill="#000" filter="url(#bl2)"/>
<ellipse cx="1671.1" cy="455.6" rx="19.8" ry="19.8" fill="#000" filter="url(#bl2)"/>
<ellipse cx="1516.9" cy="470.1" rx="13.2" ry="7.9" fill="#000" filter="url(#bl2)"/>
<ellipse cx="1686.9" cy="94.5" rx="6.6" ry="6.6" fill="#000" filter="url(#bl2)"/>
<g fill="#ff1a1a" opacity="0.51" filter="url(#bl1)" stroke="#ff1a1a" stroke-width="1.3" fill-opacity="0.65"><ellipse cx="1563.7" cy="109.5" rx="17.2" ry="7.6"/><ellipse cx="1539.9" cy="110.9" rx="15" ry="7.7"/><ellipse cx="1552.3" cy="120.3" rx="13.2" ry="8.9"/><ellipse cx="1554.3" cy="114.9" rx="16.1" ry="8.8"/></g>
<g fill="#ff1a1a" opacity="0.85" filter="url(#bl1)" stroke="#ff1a1a" stroke-width="1.3" fill-opacity="0.65"><ellipse cx="1493.1" cy="144.2" rx="3.9" ry="4.1"/><ellipse cx="1497.8" cy="140.6" rx="4.4" ry="5.2"/><ellipse cx="1499.7" cy="144" rx="4.5" ry="4.7"/><ellipse cx="1493.8" cy="142.7" rx="3.8" ry="4.1"/></g>
<g fill="#ff1a1a" opacity="0.85" filter="url(#bl1)" stroke="#ff1a1a" stroke-width="1.3" fill-opacity="0.65"><ellipse cx="1563.3" cy="153" rx="2.6" ry="3.2"/><ellipse cx="1564.9" cy="151.3" rx="2.2" ry="3.1"/><ellipse cx="1566.1" cy="151" rx="2.1" ry="2.8"/><ellipse cx="1567" cy="153" rx="2.5" ry="3.7"/></g>
<g fill="#ff1a1a" opacity="0.85" filter="url(#bl1)" stroke="#ff1a1a" stroke-width="1.3" fill-opacity="0.65"><ellipse cx="1535.1" cy="165.8" rx="4.5" ry="2.3"/><ellipse cx="1537.3" cy="162.4" rx="4.5" ry="2.1"/><ellipse cx="1537.6" cy="162.1" rx="5.6" ry="2.2"/><ellipse cx="1531.3" cy="163.6" rx="5.1" ry="2.9"/></g>
<g fill="#ff1a1a" opacity="0.85" filter="url(#bl1)" stroke="#ff1a1a" stroke-width="1.3" fill-opacity="0.65"><ellipse cx="1767.5" cy="211.6" rx="4.1" ry="4.8"/><ellipse cx="1769.7" cy="207.3" rx="5.3" ry="5.9"/><ellipse cx="1766.6" cy="201.2" rx="5" ry="5.9"/><ellipse cx="1764.6" cy="203.5" rx="5.9" ry="4.7"/></g>
<g fill="#ff1a1a" opacity="0.85" filter="url(#bl1)" stroke="#ff1a1a" stroke-width="1.3" fill-opacity="0.65"><ellipse cx="1809.9" cy="189.9" rx="3.2" ry="4.3"/><ellipse cx="1812.9" cy="185.8" rx="2.9" ry="4.2"/><ellipse cx="1807.9" cy="187.7" rx="3.4" ry="5.6"/><ellipse cx="1809.4" cy="191.5" rx="3.8" ry="4.8"/></g>
<g fill="#ff1a1a" opacity="0.765" filter="url(#bl1)" stroke="#ff1a1a" stroke-width="1.3" fill-opacity="0.65"><ellipse cx="1784.8" cy="165.7" rx="6.5" ry="6.7"/><ellipse cx="1786.8" cy="156.8" rx="6.2" ry="6.5"/><ellipse cx="1786.4" cy="158.1" rx="5.3" ry="5.6"/><ellipse cx="1789" cy="155.8" rx="5.9" ry="6.5"/></g>
<g fill="#ff1a1a" opacity="0.68" filter="url(#bl1)" stroke="#ff1a1a" stroke-width="1.3" fill-opacity="0.65"><ellipse cx="1579.3" cy="201.9" rx="6.1" ry="8.4"/><ellipse cx="1576.7" cy="193.5" rx="7.8" ry="6.8"/><ellipse cx="1570" cy="194.8" rx="5.9" ry="8.4"/><ellipse cx="1570.2" cy="198.4" rx="7.2" ry="6.6"/></g>
<g fill="#ff1a1a" opacity="0.85" filter="url(#bl1)" stroke="#ff1a1a" stroke-width="1.3" fill-opacity="0.65"><ellipse cx="1637" cy="256.9" rx="2.8" ry="4.7"/><ellipse cx="1640.3" cy="257.6" rx="2.9" ry="4"/><ellipse cx="1638.3" cy="254.8" rx="3.6" ry="4.1"/><ellipse cx="1638.4" cy="251" rx="3.4" ry="4.2"/></g>
<g fill="#ff1a1a" opacity="0.68" filter="url(#bl1)" stroke="#ff1a1a" stroke-width="1.3" fill-opacity="0.65"><ellipse cx="1473.6" cy="266.7" rx="2.7" ry="9.5"/><ellipse cx="1476.3" cy="253.2" rx="3.7" ry="8.8"/><ellipse cx="1473.2" cy="255" rx="3.1" ry="7.7"/><ellipse cx="1473.5" cy="267" rx="3.1" ry="7.9"/></g>
<g fill="#ff1a1a" opacity="0.425" filter="url(#bl1)" stroke="#ff1a1a" stroke-width="1.3" fill-opacity="0.65"><ellipse cx="1521.1" cy="272.6" rx="9.8" ry="8.4"/><ellipse cx="1529.9" cy="273.1" rx="8.3" ry="7.3"/><ellipse cx="1529.1" cy="277.3" rx="9.9" ry="7"/><ellipse cx="1525.9" cy="269.3" rx="10.1" ry="8"/></g>
<g fill="#ff1a1a" opacity="0.595" filter="url(#bl1)" stroke="#ff1a1a" stroke-width="1.3" fill-opacity="0.65"><ellipse cx="1621.9" cy="216.3" rx="7.5" ry="4.4"/><ellipse cx="1625.4" cy="217.9" rx="5.4" ry="5.5"/><ellipse cx="1619" cy="221.5" rx="5.7" ry="5.6"/><ellipse cx="1625" cy="221" rx="6.3" ry="5.3"/></g>
<g fill="#ff1a1a" opacity="0.68" filter="url(#bl1)" stroke="#ff1a1a" stroke-width="1.3" fill-opacity="0.65"><ellipse cx="1371.8" cy="319" rx="15.4" ry="8.7"/><ellipse cx="1380.7" cy="324.4" rx="15.3" ry="7.2"/><ellipse cx="1384.4" cy="316.8" rx="11.3" ry="9"/><ellipse cx="1361" cy="317.4" rx="13.5" ry="9.1"/></g>
<g fill="#ff1a1a" opacity="0.765" filter="url(#bl1)" stroke="#ff1a1a" stroke-width="1.3" fill-opacity="0.65"><ellipse cx="1405.4" cy="329.3" rx="5.1" ry="6.1"/><ellipse cx="1404.8" cy="336.4" rx="5.6" ry="5.8"/><ellipse cx="1400.9" cy="336.1" rx="5.2" ry="6.7"/><ellipse cx="1405.7" cy="330.8" rx="4.7" ry="7"/></g>
<g fill="#ff1a1a" opacity="0.595" filter="url(#bl1)" stroke="#ff1a1a" stroke-width="1.3" fill-opacity="0.65"><ellipse cx="1477.1" cy="313" rx="4.6" ry="5.7"/><ellipse cx="1483.1" cy="317.9" rx="4.2" ry="4.7"/><ellipse cx="1478.1" cy="313.4" rx="4" ry="4.7"/><ellipse cx="1476.5" cy="313.8" rx="5" ry="4.4"/></g>
<g fill="#ff1a1a" opacity="0.765" filter="url(#bl1)" stroke="#ff1a1a" stroke-width="1.3" fill-opacity="0.65"><ellipse cx="1792.2" cy="309.7" rx="12.2" ry="8"/><ellipse cx="1801.1" cy="301.8" rx="12.7" ry="7.4"/><ellipse cx="1791.5" cy="314.9" rx="12.9" ry="7.2"/><ellipse cx="1801" cy="301.9" rx="15.6" ry="8.4"/></g>
<g fill="#ff1a1a" opacity="0.765" filter="url(#bl1)" stroke="#ff1a1a" stroke-width="1.3" fill-opacity="0.65"><ellipse cx="1759.5" cy="277.7" rx="5.2" ry="9.6"/><ellipse cx="1766.4" cy="280.8" rx="4.8" ry="6.8"/><ellipse cx="1763.8" cy="277.1" rx="4.7" ry="6.8"/><ellipse cx="1765.2" cy="282.8" rx="5.9" ry="9"/></g>
<g fill="#ff1a1a" opacity="0.765" filter="url(#bl1)" stroke="#ff1a1a" stroke-width="1.3" fill-opacity="0.65"><ellipse cx="1675.7" cy="416.8" rx="7.5" ry="7.1"/><ellipse cx="1675.2" cy="422.1" rx="8.5" ry="8.3"/><ellipse cx="1674.3" cy="423.1" rx="6.8" ry="8.1"/><ellipse cx="1682.1" cy="429.8" rx="7.6" ry="8.6"/></g>
<g fill="#ff1a1a" opacity="0.51" filter="url(#bl1)" stroke="#ff1a1a" stroke-width="1.3" fill-opacity="0.65"><ellipse cx="1677.7" cy="385.3" rx="16.7" ry="7.2"/><ellipse cx="1666.5" cy="400.3" rx="14.9" ry="7.5"/><ellipse cx="1664.5" cy="392.7" rx="18.4" ry="7.6"/><ellipse cx="1683.1" cy="391.7" rx="18.4" ry="8.5"/></g>
<g fill="#ff1a1a" opacity="0.85" filter="url(#bl1)" stroke="#ff1a1a" stroke-width="1.3" fill-opacity="0.65"><ellipse cx="1550.3" cy="436.1" rx="5.3" ry="4.9"/><ellipse cx="1547.5" cy="435.7" rx="5.8" ry="4.9"/><ellipse cx="1552.5" cy="440" rx="4.1" ry="3.4"/><ellipse cx="1549.8" cy="433.4" rx="5.8" ry="4.3"/></g>
<g fill="#ff1a1a" opacity="0.85" filter="url(#bl1)" stroke="#ff1a1a" stroke-width="1.3" fill-opacity="0.65"><ellipse cx="1497.4" cy="460.7" rx="6.8" ry="5.9"/><ellipse cx="1496.7" cy="456.6" rx="5.8" ry="5.4"/><ellipse cx="1500.8" cy="459" rx="7.4" ry="4.3"/><ellipse cx="1501.6" cy="462.7" rx="7" ry="4.2"/></g>
<g fill="#ff1a1a" opacity="0.85" filter="url(#bl1)" stroke="#ff1a1a" stroke-width="1.3" fill-opacity="0.65"><ellipse cx="1377.7" cy="466.1" rx="11.1" ry="2.7"/><ellipse cx="1367.2" cy="465.3" rx="11.1" ry="2.6"/><ellipse cx="1381" cy="468.1" rx="9.3" ry="2.6"/><ellipse cx="1363.5" cy="466" rx="9.5" ry="2.8"/></g>
<g fill="#ff1a1a" opacity="0.68" filter="url(#bl1)" stroke="#ff1a1a" stroke-width="1.3" fill-opacity="0.65"><ellipse cx="1454.5" cy="402.2" rx="7" ry="6.9"/><ellipse cx="1452.6" cy="397.4" rx="7.4" ry="7.4"/><ellipse cx="1452.8" cy="402.6" rx="6.8" ry="7.8"/><ellipse cx="1447.5" cy="397.3" rx="6.6" ry="7.4"/></g>
<g fill="#ff1a1a" opacity="0.85" filter="url(#bl1)" stroke="#ff1a1a" stroke-width="1.3" fill-opacity="0.65"><ellipse cx="1793.7" cy="411.6" rx="3.4" ry="5.8"/><ellipse cx="1797.3" cy="407.2" rx="3" ry="5.1"/><ellipse cx="1797.6" cy="407.9" rx="3.9" ry="5.8"/><ellipse cx="1798" cy="414.9" rx="3.1" ry="4.4"/></g>
<g fill="#ff1a1a" opacity="0.68" filter="url(#bl1)" stroke="#ff1a1a" stroke-width="1.3" fill-opacity="0.65"><ellipse cx="1721.2" cy="260.5" rx="3.6" ry="5.5"/><ellipse cx="1725.1" cy="264.8" rx="3.8" ry="6.5"/><ellipse cx="1726.5" cy="265.1" rx="3" ry="5.4"/><ellipse cx="1721.8" cy="256.3" rx="3.7" ry="7.2"/></g>
<g fill="#ff1a1a" opacity="0.595" filter="url(#bl1)" stroke="#ff1a1a" stroke-width="1.3" fill-opacity="0.65"><ellipse cx="1494.7" cy="382.5" rx="3.5" ry="5.5"/><ellipse cx="1492" cy="379.8" rx="3.9" ry="4.5"/><ellipse cx="1493" cy="375.6" rx="3.7" ry="4.6"/><ellipse cx="1495.1" cy="381.1" rx="3.3" ry="5.5"/></g>
<g fill="#ff1a1a" opacity="0.68" filter="url(#bl1)" stroke="#ff1a1a" stroke-width="1.3" fill-opacity="0.65"><ellipse cx="1606" cy="299.2" rx="3.9" ry="3.6"/><ellipse cx="1611.2" cy="300.7" rx="4.9" ry="2.7"/><ellipse cx="1611.7" cy="294.9" rx="4.4" ry="2.8"/><ellipse cx="1608.7" cy="294.2" rx="4.3" ry="3.9"/></g>
<g fill="#ff1a1a" opacity="0.425" filter="url(#bl1)" stroke="#ff1a1a" stroke-width="1.3" fill-opacity="0.65"><ellipse cx="1389.2" cy="201.2" rx="7.7" ry="4.2"/><ellipse cx="1382.2" cy="206.3" rx="6.6" ry="5.8"/><ellipse cx="1380" cy="199.4" rx="6.9" ry="5.8"/><ellipse cx="1378.6" cy="205.4" rx="6.9" ry="4.7"/></g>
<g fill="#ff1a1a" opacity="0.425" filter="url(#bl1)" stroke="#ff1a1a" stroke-width="1.3" fill-opacity="0.65"><ellipse cx="1738.9" cy="331.7" rx="6.6" ry="6.2"/><ellipse cx="1739.9" cy="331.6" rx="8.2" ry="6.2"/><ellipse cx="1748.3" cy="326.1" rx="8.8" ry="7.5"/><ellipse cx="1740.4" cy="331.9" rx="8.6" ry="5.9"/></g>
<g fill="#ff1a1a" opacity="0.34" filter="url(#bl1)" stroke="#ff1a1a" stroke-width="1.3" fill-opacity="0.65"><ellipse cx="1631.8" cy="397.2" rx="11.4" ry="5.9"/><ellipse cx="1632.1" cy="400.8" rx="10.6" ry="5.9"/><ellipse cx="1635.4" cy="394.2" rx="10.6" ry="7.9"/><ellipse cx="1629.4" cy="397.3" rx="10.8" ry="7.2"/></g>
<g fill="#ff1a1a" opacity="0.425" filter="url(#bl1)" stroke="#ff1a1a" stroke-width="1.3" fill-opacity="0.65"><ellipse cx="1426.9" cy="175.8" rx="5" ry="5.1"/><ellipse cx="1428.3" cy="177.4" rx="4.7" ry="4.6"/><ellipse cx="1427.8" cy="176.9" rx="4.1" ry="4.2"/><ellipse cx="1429.8" cy="181.2" rx="5.7" ry="4.7"/></g>
<g fill="#ff1a1a" opacity="0.3825" filter="url(#bl1)" stroke="#ff1a1a" stroke-width="1.3" fill-opacity="0.65"><ellipse cx="1789.1" cy="375.7" rx="7.7" ry="8.5"/><ellipse cx="1783" cy="365.3" rx="9" ry="8.6"/><ellipse cx="1787.9" cy="364.7" rx="9.6" ry="9"/><ellipse cx="1781.8" cy="377.5" rx="9.1" ry="9.2"/></g>
<g fill="#ff1a1a" opacity="0.2975" filter="url(#bl1)" stroke="#ff1a1a" stroke-width="1.3" fill-opacity="0.65"><ellipse cx="1570.9" cy="377.5" rx="11.2" ry="6.7"/><ellipse cx="1570" cy="382.6" rx="9.8" ry="7.2"/><ellipse cx="1581.2" cy="380.8" rx="9.6" ry="5.9"/><ellipse cx="1578.9" cy="380.6" rx="8.7" ry="5.4"/></g>
<g fill="#f2e31a" opacity="0.9" filter="url(#bl1)" stroke="#f2e31a" stroke-width="1.3" fill-opacity="0.65"><ellipse cx="1499.9" cy="67" rx="13.3" ry="10.6"/><ellipse cx="1477.2" cy="67.6" rx="17.8" ry="8"/><ellipse cx="1483.1" cy="71.5" rx="16.5" ry="8.7"/><ellipse cx="1492.2" cy="68.5" rx="14" ry="8.5"/><ellipse cx="1501.2" cy="72.2" rx="18.7" ry="10.2"/></g>
<g fill="#f2e31a" opacity="0.9" filter="url(#bl1)" stroke="#f2e31a" stroke-width="1.3" fill-opacity="0.65"><ellipse cx="1417.2" cy="98.1" rx="6.2" ry="7.1"/><ellipse cx="1411.5" cy="87.1" rx="6.1" ry="6.6"/><ellipse cx="1415.6" cy="94" rx="8.1" ry="6.5"/><ellipse cx="1410.7" cy="89.6" rx="7.5" ry="6.3"/><ellipse cx="1409.4" cy="96.1" rx="5.6" ry="7.6"/></g>
<g fill="#f2e31a" opacity="0.9" filter="url(#bl1)" stroke="#f2e31a" stroke-width="1.3" fill-opacity="0.65"><ellipse cx="1375.8" cy="85.3" rx="4.2" ry="3.3"/><ellipse cx="1378.6" cy="81" rx="4.4" ry="3.4"/><ellipse cx="1378.8" cy="83.8" rx="3.3" ry="3.6"/><ellipse cx="1378.2" cy="83.9" rx="4.5" ry="4"/><ellipse cx="1374.1" cy="82.7" rx="4.4" ry="3.2"/></g>
<g fill="#f2e31a" opacity="0.9" filter="url(#bl1)" stroke="#f2e31a" stroke-width="1.3" fill-opacity="0.65"><ellipse cx="1357.7" cy="102.6" rx="4" ry="5.9"/><ellipse cx="1349.7" cy="96.7" rx="4" ry="5.7"/><ellipse cx="1351.9" cy="105.7" rx="4" ry="6.5"/><ellipse cx="1357.3" cy="99.9" rx="5.3" ry="6.7"/><ellipse cx="1356.3" cy="96" rx="4.9" ry="5"/></g>
<g fill="#f2e31a" opacity="0.9" filter="url(#bl1)" stroke="#f2e31a" stroke-width="1.3" fill-opacity="0.65"><ellipse cx="1386.7" cy="111.2" rx="10.7" ry="6.4"/><ellipse cx="1392.2" cy="117.3" rx="9.1" ry="7.7"/><ellipse cx="1384.6" cy="121.9" rx="11.5" ry="5.7"/><ellipse cx="1388.3" cy="114.9" rx="10.2" ry="7.4"/><ellipse cx="1387.9" cy="116.2" rx="8.3" ry="7"/></g>
<g fill="#f2e31a" opacity="0.9" filter="url(#bl1)" stroke="#f2e31a" stroke-width="1.3" fill-opacity="0.65"><ellipse cx="1429.7" cy="130.9" rx="8.3" ry="5.8"/><ellipse cx="1425.3" cy="125.1" rx="9" ry="6.6"/><ellipse cx="1437" cy="130.2" rx="11.5" ry="5.6"/><ellipse cx="1430.2" cy="123.1" rx="10.8" ry="5.7"/><ellipse cx="1428.2" cy="118.3" rx="8.9" ry="6"/></g>
<g fill="#f2e31a" opacity="0.9" filter="url(#bl1)" stroke="#f2e31a" stroke-width="1.3" fill-opacity="0.65"><ellipse cx="1449.4" cy="137.2" rx="5.5" ry="4.3"/><ellipse cx="1456.2" cy="130" rx="5.8" ry="5.9"/><ellipse cx="1454.9" cy="136.7" rx="4" ry="4.3"/><ellipse cx="1449.8" cy="132.2" rx="4.4" ry="4.7"/><ellipse cx="1446.9" cy="134.2" rx="5.1" ry="5.1"/></g>
<g fill="#f2e31a" opacity="0.9" filter="url(#bl1)" stroke="#f2e31a" stroke-width="1.3" fill-opacity="0.65"><ellipse cx="1495" cy="110.5" rx="10" ry="8.7"/><ellipse cx="1498.3" cy="109.1" rx="9" ry="6.6"/><ellipse cx="1488.2" cy="116.1" rx="10.5" ry="9.2"/><ellipse cx="1491.1" cy="120.9" rx="10.2" ry="9.4"/><ellipse cx="1493.5" cy="109.9" rx="10.2" ry="6.4"/></g>
<g fill="#f2e31a" opacity="0.9" filter="url(#bl1)" stroke="#f2e31a" stroke-width="1.3" fill-opacity="0.65"><ellipse cx="1583.5" cy="110.2" rx="8" ry="5.2"/><ellipse cx="1589" cy="113.9" rx="5.6" ry="5.4"/><ellipse cx="1589" cy="108.5" rx="6.2" ry="5.1"/><ellipse cx="1589.9" cy="115.3" rx="6.5" ry="4.6"/><ellipse cx="1586.7" cy="109.2" rx="6.5" ry="5.1"/></g>
<g fill="#f2e31a" opacity="0.9" filter="url(#bl1)" stroke="#f2e31a" stroke-width="1.3" fill-opacity="0.65"><ellipse cx="1564.2" cy="134.6" rx="5.5" ry="4.5"/><ellipse cx="1559.9" cy="138.8" rx="6.7" ry="4.3"/><ellipse cx="1560.9" cy="132" rx="6.1" ry="4.9"/><ellipse cx="1559.4" cy="134" rx="6.2" ry="4.7"/><ellipse cx="1562.7" cy="131.3" rx="5.7" ry="5.9"/></g>
<g fill="#f2e31a" opacity="0.9" filter="url(#bl1)" stroke="#f2e31a" stroke-width="1.3" fill-opacity="0.65"><ellipse cx="1545.2" cy="133.9" rx="4.2" ry="4.3"/><ellipse cx="1548.5" cy="134.8" rx="4.1" ry="3.6"/><ellipse cx="1543.3" cy="131.8" rx="4.8" ry="4.7"/><ellipse cx="1544.1" cy="130.2" rx="5.7" ry="4.1"/><ellipse cx="1545.7" cy="130.5" rx="4.7" ry="4.3"/></g>
<g fill="#f2e31a" opacity="0.9" filter="url(#bl1)" stroke="#f2e31a" stroke-width="1.3" fill-opacity="0.65"><ellipse cx="1674.3" cy="81.5" rx="7.7" ry="6.7"/><ellipse cx="1671.8" cy="91.2" rx="7.5" ry="7.6"/><ellipse cx="1677.2" cy="91.3" rx="7.2" ry="7.5"/><ellipse cx="1671.3" cy="86" rx="10.5" ry="8.3"/><ellipse cx="1673.7" cy="80.8" rx="9.6" ry="5.6"/></g>
<g fill="#f2e31a" opacity="0.9" filter="url(#bl1)" stroke="#f2e31a" stroke-width="1.3" fill-opacity="0.65"><ellipse cx="1624.5" cy="148.5" rx="4.8" ry="5.2"/><ellipse cx="1621.7" cy="144.2" rx="6.5" ry="4.4"/><ellipse cx="1624.5" cy="148" rx="5.3" ry="5.6"/><ellipse cx="1619.2" cy="146.2" rx="6.8" ry="5.3"/><ellipse cx="1620.5" cy="150.4" rx="4.9" ry="4.8"/></g>
<g fill="#f2e31a" opacity="0.9" filter="url(#bl1)" stroke="#f2e31a" stroke-width="1.3" fill-opacity="0.65"><ellipse cx="1644.8" cy="156.7" rx="3.7" ry="4.5"/><ellipse cx="1642.3" cy="155.3" rx="3.6" ry="4.2"/><ellipse cx="1639.7" cy="155.6" rx="4" ry="4.6"/><ellipse cx="1641.7" cy="157.2" rx="4.1" ry="3.5"/><ellipse cx="1640.3" cy="157.5" rx="4.7" ry="3.7"/></g>
<g fill="#f2e31a" opacity="0.9" filter="url(#bl1)" stroke="#f2e31a" stroke-width="1.3" fill-opacity="0.65"><ellipse cx="1774.1" cy="80.6" rx="5.6" ry="6.1"/><ellipse cx="1772.9" cy="90.5" rx="5.8" ry="6.4"/><ellipse cx="1769.8" cy="86.5" rx="6.3" ry="6"/><ellipse cx="1768.4" cy="86" rx="6.8" ry="6.3"/><ellipse cx="1770.2" cy="82.8" rx="5.7" ry="5.8"/></g>
<g fill="#f2e31a" opacity="0.9" filter="url(#bl1)" stroke="#f2e31a" stroke-width="1.3" fill-opacity="0.65"><ellipse cx="1791.6" cy="96.8" rx="9" ry="9.7"/><ellipse cx="1798.7" cy="105.1" rx="10.3" ry="10.3"/><ellipse cx="1789.7" cy="105.2" rx="9.7" ry="10.6"/><ellipse cx="1793.4" cy="109.5" rx="10.8" ry="12"/><ellipse cx="1798.3" cy="105.1" rx="10.6" ry="12.6"/></g>
<g fill="#f2e31a" opacity="0.9" filter="url(#bl1)" stroke="#f2e31a" stroke-width="1.3" fill-opacity="0.65"><ellipse cx="1745.4" cy="143.4" rx="9.4" ry="11.7"/><ellipse cx="1752.6" cy="138.3" rx="6.4" ry="9.5"/><ellipse cx="1750.1" cy="141.6" rx="9.2" ry="9"/><ellipse cx="1755.1" cy="145" rx="7.6" ry="12.3"/><ellipse cx="1743.2" cy="146.8" rx="6.9" ry="12.1"/></g>
<g fill="#f2e31a" opacity="0.9" filter="url(#bl1)" stroke="#f2e31a" stroke-width="1.3" fill-opacity="0.65"><ellipse cx="1712.1" cy="187.9" rx="6.6" ry="11.2"/><ellipse cx="1708.4" cy="186.3" rx="7.8" ry="13"/><ellipse cx="1715" cy="182.7" rx="7.2" ry="12.4"/><ellipse cx="1704.6" cy="179.3" rx="6.5" ry="16.2"/><ellipse cx="1713.4" cy="180.2" rx="8.4" ry="14.3"/></g>
<g fill="#f2e31a" opacity="0.9" filter="url(#bl1)" stroke="#f2e31a" stroke-width="1.3" fill-opacity="0.65"><ellipse cx="1721.2" cy="202.6" rx="4.5" ry="4.5"/><ellipse cx="1719.4" cy="199.2" rx="4.4" ry="5.9"/><ellipse cx="1721.5" cy="195.6" rx="5.9" ry="4.6"/><ellipse cx="1722.9" cy="196.2" rx="5.7" ry="4.8"/><ellipse cx="1722.6" cy="197.1" rx="4.7" ry="4.6"/></g>
<g fill="#f2e31a" opacity="0.9" filter="url(#bl1)" stroke="#f2e31a" stroke-width="1.3" fill-opacity="0.65"><ellipse cx="1673.2" cy="194.5" rx="3.4" ry="3.8"/><ellipse cx="1673.1" cy="200" rx="3.4" ry="3.3"/><ellipse cx="1671.5" cy="201.3" rx="4.6" ry="4.2"/><ellipse cx="1672.5" cy="196.2" rx="3.7" ry="3.8"/><ellipse cx="1672.5" cy="200" rx="3.6" ry="4.6"/></g>
<g fill="#f2e31a" opacity="0.9" filter="url(#bl1)" stroke="#f2e31a" stroke-width="1.3" fill-opacity="0.65"><ellipse cx="1742.5" cy="182.7" rx="3.5" ry="5.5"/><ellipse cx="1742.5" cy="182.4" rx="4.3" ry="4.9"/><ellipse cx="1742.3" cy="185.8" rx="3.2" ry="5.8"/><ellipse cx="1741.4" cy="176.6" rx="4.5" ry="4.7"/><ellipse cx="1737.6" cy="178.9" rx="4.1" ry="4.7"/></g>
<g fill="#f2e31a" opacity="0.9" filter="url(#bl1)" stroke="#f2e31a" stroke-width="1.3" fill-opacity="0.65"><ellipse cx="1435.3" cy="154.6" rx="4.1" ry="3.3"/><ellipse cx="1437.9" cy="158" rx="3.7" ry="3.8"/><ellipse cx="1437.6" cy="156.1" rx="3.4" ry="4"/><ellipse cx="1430.5" cy="156.8" rx="3.6" ry="3.6"/><ellipse cx="1437" cy="155.3" rx="4" ry="4.3"/></g>
<g fill="#f2e31a" opacity="0.9" filter="url(#bl1)" stroke="#f2e31a" stroke-width="1.3" fill-opacity="0.65"><ellipse cx="1478.7" cy="172.8" rx="7.7" ry="9.8"/><ellipse cx="1481.1" cy="182.4" rx="8.3" ry="11.2"/><ellipse cx="1483" cy="173.3" rx="7.3" ry="9.5"/><ellipse cx="1478.1" cy="169.8" rx="6.5" ry="11.8"/><ellipse cx="1476.2" cy="177.5" rx="7.8" ry="8.3"/></g>
<g fill="#f2e31a" opacity="0.9" filter="url(#bl1)" stroke="#f2e31a" stroke-width="1.3" fill-opacity="0.65"><ellipse cx="1457.9" cy="210.1" rx="6.1" ry="6.8"/><ellipse cx="1453.8" cy="207.2" rx="7.3" ry="7.4"/><ellipse cx="1462.4" cy="206.4" rx="5.9" ry="6.5"/><ellipse cx="1451.7" cy="207.2" rx="5.6" ry="7.8"/><ellipse cx="1462.6" cy="210.8" rx="7.9" ry="8.3"/></g>
<g fill="#f2e31a" opacity="0.9" filter="url(#bl1)" stroke="#f2e31a" stroke-width="1.3" fill-opacity="0.65"><ellipse cx="1400.6" cy="186" rx="4.5" ry="4.8"/><ellipse cx="1399.6" cy="181.6" rx="5.7" ry="4.1"/><ellipse cx="1405.3" cy="190" rx="4.4" ry="5.1"/><ellipse cx="1398.3" cy="186.6" rx="4.6" ry="5.8"/><ellipse cx="1401.4" cy="189.8" rx="4.3" ry="4.5"/></g>
<g fill="#f2e31a" opacity="0.9" filter="url(#bl1)" stroke="#f2e31a" stroke-width="1.3" fill-opacity="0.65"><ellipse cx="1354.3" cy="191.3" rx="4.8" ry="6.2"/><ellipse cx="1353.1" cy="179.9" rx="5.6" ry="7.6"/><ellipse cx="1352.8" cy="181" rx="6.2" ry="7.6"/><ellipse cx="1349.3" cy="190.6" rx="5.4" ry="6.2"/><ellipse cx="1346.1" cy="186.3" rx="5.2" ry="5.8"/></g>
<g fill="#f2e31a" opacity="0.9" filter="url(#bl1)" stroke="#f2e31a" stroke-width="1.3" fill-opacity="0.65"><ellipse cx="1427.6" cy="219" rx="5.1" ry="7.3"/><ellipse cx="1426.4" cy="213.4" rx="6.3" ry="6.7"/><ellipse cx="1429.8" cy="221.5" rx="6.6" ry="5.9"/><ellipse cx="1422.6" cy="224.3" rx="6.4" ry="6"/><ellipse cx="1421.6" cy="221.4" rx="6" ry="7.8"/></g>
<g fill="#f2e31a" opacity="0.9" filter="url(#bl1)" stroke="#f2e31a" stroke-width="1.3" fill-opacity="0.65"><ellipse cx="1449.9" cy="235.2" rx="4.6" ry="6"/><ellipse cx="1450.1" cy="237.9" rx="4.1" ry="6.9"/><ellipse cx="1446.9" cy="232.3" rx="4.2" ry="6.3"/><ellipse cx="1444.1" cy="234.4" rx="3.9" ry="6.6"/><ellipse cx="1447" cy="234.8" rx="4.1" ry="7.5"/></g>
<g fill="#f2e31a" opacity="0.9" filter="url(#bl1)" stroke="#f2e31a" stroke-width="1.3" fill-opacity="0.65"><ellipse cx="1388.9" cy="241.2" rx="4.7" ry="6.8"/><ellipse cx="1385.9" cy="237.4" rx="5" ry="7.8"/><ellipse cx="1390.6" cy="238.7" rx="4.5" ry="7.4"/><ellipse cx="1386.3" cy="236" rx="4.4" ry="8.6"/><ellipse cx="1385.9" cy="238.9" rx="5.6" ry="6.7"/></g>
<g fill="#f2e31a" opacity="0.9" filter="url(#bl1)" stroke="#f2e31a" stroke-width="1.3" fill-opacity="0.65"><ellipse cx="1537" cy="225.2" rx="9.7" ry="9.8"/><ellipse cx="1544.6" cy="224.8" rx="8.6" ry="7.5"/><ellipse cx="1536.1" cy="210" rx="8.3" ry="7.2"/><ellipse cx="1541.8" cy="225.4" rx="8" ry="10.5"/><ellipse cx="1548.8" cy="219.4" rx="11.1" ry="8.5"/></g>
<g fill="#f2e31a" opacity="0.9" filter="url(#bl1)" stroke="#f2e31a" stroke-width="1.3" fill-opacity="0.65"><ellipse cx="1558.8" cy="199.6" rx="6.6" ry="4.1"/><ellipse cx="1561.3" cy="198" rx="6.6" ry="4.5"/><ellipse cx="1557.7" cy="202.7" rx="5.2" ry="4.3"/><ellipse cx="1553.3" cy="201" rx="5.9" ry="3.2"/><ellipse cx="1562.1" cy="199.8" rx="6.1" ry="3.9"/></g>
<g fill="#f2e31a" opacity="0.9" filter="url(#bl1)" stroke="#f2e31a" stroke-width="1.3" fill-opacity="0.65"><ellipse cx="1607.1" cy="198.9" rx="6" ry="5.5"/><ellipse cx="1607.5" cy="205.4" rx="6.2" ry="4.6"/><ellipse cx="1606.6" cy="204.4" rx="5.4" ry="4"/><ellipse cx="1606.5" cy="197" rx="6.9" ry="5.5"/><ellipse cx="1598.3" cy="204.4" rx="5.3" ry="4.5"/></g>
<g fill="#f2e31a" opacity="0.9" filter="url(#bl1)" stroke="#f2e31a" stroke-width="1.3" fill-opacity="0.65"><ellipse cx="1588.4" cy="261.8" rx="5.8" ry="5.7"/><ellipse cx="1596.7" cy="259.6" rx="7.6" ry="6.8"/><ellipse cx="1601.8" cy="258.7" rx="6.8" ry="7"/><ellipse cx="1593.4" cy="257" rx="5.6" ry="8.3"/><ellipse cx="1587.8" cy="258.7" rx="7" ry="5.7"/></g>
<g fill="#f2e31a" opacity="0.9" filter="url(#bl1)" stroke="#f2e31a" stroke-width="1.3" fill-opacity="0.65"><ellipse cx="1769.3" cy="234.1" rx="5.9" ry="8.9"/><ellipse cx="1766.3" cy="237" rx="5.9" ry="7.9"/><ellipse cx="1765.7" cy="237.3" rx="4.3" ry="8.1"/><ellipse cx="1770.7" cy="234.3" rx="4.2" ry="6.4"/><ellipse cx="1767.4" cy="225.6" rx="4.3" ry="7.6"/></g>
<g fill="#f2e31a" opacity="0.9" filter="url(#bl1)" stroke="#f2e31a" stroke-width="1.3" fill-opacity="0.65"><ellipse cx="1722.2" cy="235.2" rx="4.5" ry="3.9"/><ellipse cx="1723.2" cy="234.8" rx="4.9" ry="4.2"/><ellipse cx="1716.4" cy="240.5" rx="4.5" ry="3.5"/><ellipse cx="1714.8" cy="237.2" rx="5.5" ry="4.2"/><ellipse cx="1724.9" cy="236.9" rx="5.8" ry="3.4"/></g>
<g fill="#f2e31a" opacity="0.9" filter="url(#bl1)" stroke="#f2e31a" stroke-width="1.3" fill-opacity="0.65"><ellipse cx="1374.6" cy="274.5" rx="6.7" ry="5.9"/><ellipse cx="1365.9" cy="271" rx="7.8" ry="7"/><ellipse cx="1370" cy="264.5" rx="9.4" ry="7.5"/><ellipse cx="1370.3" cy="271.2" rx="7.3" ry="6.1"/><ellipse cx="1380.6" cy="269.4" rx="6.7" ry="6.5"/></g>
<g fill="#f2e31a" opacity="0.9" filter="url(#bl1)" stroke="#f2e31a" stroke-width="1.3" fill-opacity="0.65"><ellipse cx="1418.9" cy="277" rx="4.7" ry="7.4"/><ellipse cx="1421.1" cy="268.6" rx="4.6" ry="7.9"/><ellipse cx="1422.3" cy="267.2" rx="4.3" ry="8.7"/><ellipse cx="1419.8" cy="277.3" rx="4.1" ry="8.6"/><ellipse cx="1419.9" cy="271" rx="3.9" ry="7.9"/></g>
<g fill="#f2e31a" opacity="0.9" filter="url(#bl1)" stroke="#f2e31a" stroke-width="1.3" fill-opacity="0.65"><ellipse cx="1434.7" cy="272.7" rx="3.3" ry="3.3"/><ellipse cx="1437.4" cy="272.4" rx="3.8" ry="4.7"/><ellipse cx="1432.9" cy="273.7" rx="4.3" ry="4.6"/><ellipse cx="1433.8" cy="267.4" rx="4.4" ry="3.3"/><ellipse cx="1441.1" cy="271.2" rx="3.7" ry="4.2"/></g>
<g fill="#f2e31a" opacity="0.9" filter="url(#bl1)" stroke="#f2e31a" stroke-width="1.3" fill-opacity="0.65"><ellipse cx="1486.3" cy="283.9" rx="8" ry="4.6"/><ellipse cx="1471.1" cy="283.1" rx="6.6" ry="5.5"/><ellipse cx="1482.6" cy="285.7" rx="9" ry="5.7"/><ellipse cx="1482.9" cy="281.6" rx="7.8" ry="4.8"/><ellipse cx="1471.3" cy="286.1" rx="7" ry="4.7"/></g>
<g fill="#f2e31a" opacity="0.9" filter="url(#bl1)" stroke="#f2e31a" stroke-width="1.3" fill-opacity="0.65"><ellipse cx="1455.6" cy="292.4" rx="6.1" ry="3.3"/><ellipse cx="1455.5" cy="291.7" rx="5.2" ry="3.9"/><ellipse cx="1458" cy="287.5" rx="6.6" ry="4.5"/><ellipse cx="1453.3" cy="293.4" rx="6" ry="4.7"/><ellipse cx="1458.7" cy="291.1" rx="6.4" ry="4.3"/></g>
<g fill="#f2e31a" opacity="0.9" filter="url(#bl1)" stroke="#f2e31a" stroke-width="1.3" fill-opacity="0.65"><ellipse cx="1437.7" cy="293.8" rx="5.7" ry="6.7"/><ellipse cx="1432.8" cy="302.2" rx="6.8" ry="7.6"/><ellipse cx="1434.3" cy="295.1" rx="6.6" ry="5.6"/><ellipse cx="1429" cy="298.8" rx="5.5" ry="8.3"/><ellipse cx="1439.4" cy="299" rx="6.3" ry="8.3"/></g>
<g fill="#f2e31a" opacity="0.9" filter="url(#bl1)" stroke="#f2e31a" stroke-width="1.3" fill-opacity="0.65"><ellipse cx="1733.2" cy="289.9" rx="7.1" ry="7.1"/><ellipse cx="1736.9" cy="282.9" rx="7.2" ry="6"/><ellipse cx="1746.1" cy="287" rx="5.6" ry="8.1"/><ellipse cx="1740.7" cy="293.3" rx="6.4" ry="7.5"/><ellipse cx="1736.2" cy="291.1" rx="6" ry="6.2"/></g>
<g fill="#f2e31a" opacity="0.9" filter="url(#bl1)" stroke="#f2e31a" stroke-width="1.3" fill-opacity="0.65"><ellipse cx="1661.5" cy="306.1" rx="3.4" ry="3.8"/><ellipse cx="1665.1" cy="300.3" rx="2.5" ry="4.1"/><ellipse cx="1662.3" cy="303.8" rx="2.7" ry="3.5"/><ellipse cx="1660.5" cy="300.4" rx="2.8" ry="3.4"/><ellipse cx="1661.5" cy="305.4" rx="2.7" ry="4.7"/></g>
<g fill="#f2e31a" opacity="0.9" filter="url(#bl1)" stroke="#f2e31a" stroke-width="1.3" fill-opacity="0.65"><ellipse cx="1639.7" cy="333.3" rx="9.8" ry="7"/><ellipse cx="1634.1" cy="336.1" rx="12" ry="7.4"/><ellipse cx="1637.4" cy="339.3" rx="10.3" ry="7.1"/><ellipse cx="1629.9" cy="337" rx="11.2" ry="6.9"/><ellipse cx="1638.8" cy="334.1" rx="9.8" ry="7.9"/></g>
<g fill="#f2e31a" opacity="0.9" filter="url(#bl1)" stroke="#f2e31a" stroke-width="1.3" fill-opacity="0.65"><ellipse cx="1677.4" cy="327.6" rx="3.3" ry="4.3"/><ellipse cx="1676.6" cy="328.3" rx="3.8" ry="4.1"/><ellipse cx="1672.5" cy="329.2" rx="4.7" ry="5.9"/><ellipse cx="1670.8" cy="329" rx="4.2" ry="4.9"/><ellipse cx="1675.2" cy="327.4" rx="3.4" ry="5.6"/></g>
<g fill="#f2e31a" opacity="0.9" filter="url(#bl1)" stroke="#f2e31a" stroke-width="1.3" fill-opacity="0.65"><ellipse cx="1666.9" cy="343.1" rx="6.2" ry="5.6"/><ellipse cx="1672.3" cy="346" rx="5.4" ry="5.7"/><ellipse cx="1666.5" cy="343.5" rx="6.6" ry="4.6"/><ellipse cx="1671.9" cy="338.6" rx="6" ry="5"/><ellipse cx="1668.2" cy="344.3" rx="5.2" ry="5.1"/></g>
<g fill="#f2e31a" opacity="0.9" filter="url(#bl1)" stroke="#f2e31a" stroke-width="1.3" fill-opacity="0.65"><ellipse cx="1707" cy="338.9" rx="8.6" ry="4.7"/><ellipse cx="1701.1" cy="346.4" rx="9.7" ry="4.1"/><ellipse cx="1698.5" cy="340.7" rx="8.4" ry="4.2"/><ellipse cx="1699.5" cy="339.1" rx="9.5" ry="4.2"/><ellipse cx="1697.7" cy="340.6" rx="9.4" ry="4.1"/></g>
<g fill="#f2e31a" opacity="0.9" filter="url(#bl1)" stroke="#f2e31a" stroke-width="1.3" fill-opacity="0.65"><ellipse cx="1723.4" cy="330.6" rx="4.5" ry="4.3"/><ellipse cx="1723.1" cy="332.9" rx="5.1" ry="4.6"/><ellipse cx="1719.3" cy="339.2" rx="4.2" ry="4.3"/><ellipse cx="1725.6" cy="334.6" rx="4.1" ry="4"/><ellipse cx="1720.1" cy="329.2" rx="4.3" ry="5.1"/></g>
<g fill="#f2e31a" opacity="0.9" filter="url(#bl1)" stroke="#f2e31a" stroke-width="1.3" fill-opacity="0.65"><ellipse cx="1800.4" cy="339.9" rx="7.7" ry="9.9"/><ellipse cx="1803.3" cy="343.6" rx="10.1" ry="11.4"/><ellipse cx="1801.7" cy="346.2" rx="8.9" ry="9.7"/><ellipse cx="1799.3" cy="348.7" rx="7.7" ry="10.6"/><ellipse cx="1798.7" cy="342.7" rx="10.2" ry="9.2"/></g>
<g fill="#f2e31a" opacity="0.9" filter="url(#bl1)" stroke="#f2e31a" stroke-width="1.3" fill-opacity="0.65"><ellipse cx="1777.9" cy="341.3" rx="3.9" ry="3.2"/><ellipse cx="1782.4" cy="335.4" rx="3.6" ry="3.6"/><ellipse cx="1779.8" cy="343.2" rx="4" ry="4"/><ellipse cx="1778.8" cy="338.3" rx="4" ry="4"/><ellipse cx="1778" cy="337.2" rx="4.7" ry="3.4"/></g>
<g fill="#f2e31a" opacity="0.9" filter="url(#bl1)" stroke="#f2e31a" stroke-width="1.3" fill-opacity="0.65"><ellipse cx="1361" cy="347" rx="8.5" ry="9.4"/><ellipse cx="1369.5" cy="355.5" rx="10.7" ry="9"/><ellipse cx="1364.4" cy="348.7" rx="9.5" ry="11.8"/><ellipse cx="1374.1" cy="343.5" rx="9.3" ry="8.6"/><ellipse cx="1377.5" cy="340" rx="8.1" ry="9.7"/></g>
<g fill="#f2e31a" opacity="0.9" filter="url(#bl1)" stroke="#f2e31a" stroke-width="1.3" fill-opacity="0.65"><ellipse cx="1427.8" cy="343.5" rx="5.3" ry="4.5"/><ellipse cx="1425.9" cy="345.7" rx="5.2" ry="3.5"/><ellipse cx="1429" cy="340.7" rx="4.8" ry="4.1"/><ellipse cx="1430.7" cy="343.8" rx="4.7" ry="4.5"/><ellipse cx="1430.9" cy="345.1" rx="5.2" ry="3.5"/></g>
<g fill="#f2e31a" opacity="0.9" filter="url(#bl1)" stroke="#f2e31a" stroke-width="1.3" fill-opacity="0.65"><ellipse cx="1469.8" cy="357.4" rx="11" ry="6.1"/><ellipse cx="1475.1" cy="351.5" rx="8.8" ry="5.6"/><ellipse cx="1484" cy="354.3" rx="10.3" ry="6.3"/><ellipse cx="1471.4" cy="350" rx="11.2" ry="5.3"/><ellipse cx="1475.8" cy="355.8" rx="9.1" ry="6.8"/></g>
<g fill="#f2e31a" opacity="0.9" filter="url(#bl1)" stroke="#f2e31a" stroke-width="1.3" fill-opacity="0.65"><ellipse cx="1594.8" cy="363.4" rx="5.9" ry="8.5"/><ellipse cx="1599.7" cy="358.7" rx="5.9" ry="8.4"/><ellipse cx="1597.2" cy="361.4" rx="6.3" ry="9.4"/><ellipse cx="1605.8" cy="360.8" rx="5.7" ry="8.4"/><ellipse cx="1603.6" cy="369.2" rx="5.2" ry="8"/></g>
<g fill="#f2e31a" opacity="0.9" filter="url(#bl1)" stroke="#f2e31a" stroke-width="1.3" fill-opacity="0.65"><ellipse cx="1654.3" cy="371.6" rx="6.9" ry="6"/><ellipse cx="1658.8" cy="368.7" rx="7.8" ry="5.5"/><ellipse cx="1658.2" cy="371.3" rx="5.8" ry="7.2"/><ellipse cx="1660.5" cy="360.4" rx="7.5" ry="7.1"/><ellipse cx="1663.9" cy="359.2" rx="7.2" ry="7.5"/></g>
<g fill="#f2e31a" opacity="0.9" filter="url(#bl1)" stroke="#f2e31a" stroke-width="1.3" fill-opacity="0.65"><ellipse cx="1718.7" cy="350.5" rx="3.8" ry="5.2"/><ellipse cx="1716.2" cy="358.2" rx="4.5" ry="4.6"/><ellipse cx="1715.3" cy="353.9" rx="4.3" ry="4.4"/><ellipse cx="1718.3" cy="355.7" rx="3.6" ry="5.5"/><ellipse cx="1721.3" cy="359.3" rx="4.4" ry="5.8"/></g>
<g fill="#f2e31a" opacity="0.9" filter="url(#bl1)" stroke="#f2e31a" stroke-width="1.3" fill-opacity="0.65"><ellipse cx="1526.1" cy="378" rx="7.7" ry="9.4"/><ellipse cx="1529.3" cy="367" rx="6.5" ry="8.7"/><ellipse cx="1528.2" cy="371.6" rx="8.9" ry="10.6"/><ellipse cx="1525.5" cy="383.2" rx="6.5" ry="9.5"/><ellipse cx="1536.3" cy="373.9" rx="7.4" ry="10.4"/></g>
<g fill="#f2e31a" opacity="0.9" filter="url(#bl1)" stroke="#f2e31a" stroke-width="1.3" fill-opacity="0.65"><ellipse cx="1556.2" cy="341.1" rx="2.4" ry="4.8"/><ellipse cx="1553.6" cy="343.1" rx="3.4" ry="5.6"/><ellipse cx="1552.4" cy="340.5" rx="3" ry="4.4"/><ellipse cx="1551.2" cy="339.6" rx="3.5" ry="4.4"/><ellipse cx="1553.6" cy="343.4" rx="3.5" ry="5.5"/></g>
<g fill="#f2e31a" opacity="0.9" filter="url(#bl1)" stroke="#f2e31a" stroke-width="1.3" fill-opacity="0.65"><ellipse cx="1417.3" cy="402.3" rx="5.6" ry="6.1"/><ellipse cx="1416.5" cy="396.9" rx="5.1" ry="4.7"/><ellipse cx="1421.7" cy="404.6" rx="5.8" ry="6.1"/><ellipse cx="1417.5" cy="395.5" rx="4.7" ry="6.1"/><ellipse cx="1420.4" cy="392.5" rx="4.5" ry="5.8"/></g>
<g fill="#f2e31a" opacity="0.9" filter="url(#bl1)" stroke="#f2e31a" stroke-width="1.3" fill-opacity="0.65"><ellipse cx="1376.2" cy="413.9" rx="4.5" ry="5.9"/><ellipse cx="1378.2" cy="408.5" rx="3.3" ry="4.1"/><ellipse cx="1383.2" cy="412.7" rx="4.1" ry="4"/><ellipse cx="1382.5" cy="409.1" rx="4.3" ry="4.4"/><ellipse cx="1378.8" cy="415.9" rx="3.7" ry="5"/></g>
<g fill="#f2e31a" opacity="0.9" filter="url(#bl1)" stroke="#f2e31a" stroke-width="1.3" fill-opacity="0.65"><ellipse cx="1349.3" cy="381.6" rx="5.5" ry="9.5"/><ellipse cx="1352" cy="393.5" rx="5.7" ry="6.4"/><ellipse cx="1348.9" cy="392.8" rx="6.8" ry="7.6"/><ellipse cx="1354.9" cy="392.9" rx="4.9" ry="8"/><ellipse cx="1356.3" cy="392" rx="6.5" ry="8.8"/></g>
<g fill="#f2e31a" opacity="0.9" filter="url(#bl1)" stroke="#f2e31a" stroke-width="1.3" fill-opacity="0.65"><ellipse cx="1388.8" cy="433.3" rx="9.9" ry="7.1"/><ellipse cx="1393" cy="422.7" rx="11.7" ry="8.9"/><ellipse cx="1403.4" cy="427.1" rx="9.7" ry="6.5"/><ellipse cx="1386.1" cy="427.8" rx="8" ry="6.8"/><ellipse cx="1394.9" cy="422.3" rx="11.3" ry="7.6"/></g>
<g fill="#f2e31a" opacity="0.9" filter="url(#bl1)" stroke="#f2e31a" stroke-width="1.3" fill-opacity="0.65"><ellipse cx="1377" cy="437.1" rx="6.4" ry="5.3"/><ellipse cx="1378.2" cy="443.7" rx="8.5" ry="5"/><ellipse cx="1381.2" cy="441.9" rx="8.9" ry="5.7"/><ellipse cx="1376.3" cy="443.5" rx="9.4" ry="4.3"/><ellipse cx="1371.8" cy="439.6" rx="8.4" ry="5.1"/></g>
<g fill="#f2e31a" opacity="0.9" filter="url(#bl1)" stroke="#f2e31a" stroke-width="1.3" fill-opacity="0.65"><ellipse cx="1455.6" cy="435.3" rx="3.5" ry="2.7"/><ellipse cx="1453.8" cy="439.1" rx="3.4" ry="3.4"/><ellipse cx="1452.7" cy="435" rx="4.2" ry="3.3"/><ellipse cx="1452.9" cy="437.7" rx="3.5" ry="2.5"/><ellipse cx="1458.5" cy="436.6" rx="4.2" ry="3.1"/></g>
<g fill="#f2e31a" opacity="0.9" filter="url(#bl1)" stroke="#f2e31a" stroke-width="1.3" fill-opacity="0.65"><ellipse cx="1490.3" cy="421.3" rx="3.2" ry="4.3"/><ellipse cx="1491.7" cy="420.7" rx="4.7" ry="4"/><ellipse cx="1495.2" cy="420.3" rx="3.7" ry="3.9"/><ellipse cx="1495.8" cy="420.1" rx="4.2" ry="4.2"/><ellipse cx="1491.1" cy="423.2" rx="3.4" ry="3.2"/></g>
<g fill="#f2e31a" opacity="0.9" filter="url(#bl1)" stroke="#f2e31a" stroke-width="1.3" fill-opacity="0.65"><ellipse cx="1568.4" cy="417.8" rx="6.7" ry="6.4"/><ellipse cx="1570.4" cy="413.7" rx="6.6" ry="8.2"/><ellipse cx="1562.4" cy="412.3" rx="6.7" ry="7.4"/><ellipse cx="1560.7" cy="420.2" rx="4.9" ry="7.7"/><ellipse cx="1571.9" cy="420.5" rx="6.3" ry="8.1"/></g>
<g fill="#f2e31a" opacity="0.9" filter="url(#bl1)" stroke="#f2e31a" stroke-width="1.3" fill-opacity="0.65"><ellipse cx="1764.7" cy="404.8" rx="5.9" ry="3.9"/><ellipse cx="1772.5" cy="409.2" rx="5.1" ry="3.5"/><ellipse cx="1764.6" cy="410.1" rx="5.7" ry="3.7"/><ellipse cx="1764.2" cy="405.7" rx="5.2" ry="4.4"/><ellipse cx="1762" cy="407.9" rx="4.8" ry="4.7"/></g>
<g fill="#f2e31a" opacity="0.9" filter="url(#bl1)" stroke="#f2e31a" stroke-width="1.3" fill-opacity="0.65"><ellipse cx="1813.7" cy="397.3" rx="4.3" ry="4.6"/><ellipse cx="1812.8" cy="389.9" rx="5.9" ry="4.2"/><ellipse cx="1816" cy="389.8" rx="4.6" ry="5.8"/><ellipse cx="1811.3" cy="398.3" rx="4.6" ry="5"/><ellipse cx="1808.4" cy="389.9" rx="4.6" ry="4.1"/></g>
<g fill="#f2e31a" opacity="0.9" filter="url(#bl1)" stroke="#f2e31a" stroke-width="1.3" fill-opacity="0.65"><ellipse cx="1711" cy="419.5" rx="4.6" ry="4.9"/><ellipse cx="1710" cy="412" rx="5.7" ry="4.8"/><ellipse cx="1706.6" cy="415.3" rx="4.1" ry="4.7"/><ellipse cx="1709.8" cy="410.9" rx="4.8" ry="4.8"/><ellipse cx="1716.5" cy="411.8" rx="4.5" ry="4.8"/></g>
<g fill="#f2e31a" opacity="0.9" filter="url(#bl1)" stroke="#f2e31a" stroke-width="1.3" fill-opacity="0.65"><ellipse cx="1619.1" cy="446.5" rx="4.6" ry="4.7"/><ellipse cx="1616.4" cy="444.3" rx="4.8" ry="5.6"/><ellipse cx="1618.9" cy="448.1" rx="4.7" ry="5.1"/><ellipse cx="1619.3" cy="445.5" rx="4.9" ry="5.1"/><ellipse cx="1619.5" cy="441.4" rx="5.7" ry="4.3"/></g>
<g fill="#f2e31a" opacity="0.9" filter="url(#bl1)" stroke="#f2e31a" stroke-width="1.3" fill-opacity="0.65"><ellipse cx="1599" cy="432.8" rx="4" ry="2.8"/><ellipse cx="1596" cy="432.9" rx="5.8" ry="2.5"/><ellipse cx="1604.4" cy="431.3" rx="4.2" ry="3.2"/><ellipse cx="1601.3" cy="432.7" rx="5.3" ry="2.5"/><ellipse cx="1598.1" cy="430.1" rx="5.3" ry="2.7"/></g>
<g fill="#f2e31a" opacity="0.9" filter="url(#bl1)" stroke="#f2e31a" stroke-width="1.3" fill-opacity="0.65"><ellipse cx="1794" cy="398.2" rx="3.4" ry="3.3"/><ellipse cx="1793.2" cy="401" rx="2.5" ry="3.1"/><ellipse cx="1795.2" cy="402.4" rx="2.5" ry="2.4"/><ellipse cx="1797.1" cy="397.2" rx="3.1" ry="2.5"/><ellipse cx="1792.3" cy="400" rx="2.5" ry="3.3"/></g>
<g fill="#f2e31a" opacity="0.9" filter="url(#bl1)" stroke="#f2e31a" stroke-width="1.3" fill-opacity="0.65"><ellipse cx="1713.1" cy="450.8" rx="4" ry="3.8"/><ellipse cx="1715.5" cy="448.6" rx="4.5" ry="4.4"/><ellipse cx="1712.6" cy="451.7" rx="4.7" ry="3.7"/><ellipse cx="1711.7" cy="448.6" rx="3.5" ry="3.2"/><ellipse cx="1715.5" cy="448" rx="3.4" ry="3.6"/></g>
<g fill="#f2e31a" opacity="0.9" filter="url(#bl1)" stroke="#f2e31a" stroke-width="1.3" fill-opacity="0.65"><ellipse cx="1464.4" cy="442.3" rx="4.5" ry="4.9"/><ellipse cx="1468.3" cy="449.6" rx="3.8" ry="4.5"/><ellipse cx="1468.1" cy="447.2" rx="3.4" ry="4.3"/><ellipse cx="1465.1" cy="444.9" rx="3.4" ry="5.3"/><ellipse cx="1468.4" cy="449.5" rx="3.2" ry="4.6"/></g>
<g fill="#f2e31a" opacity="0.9" filter="url(#bl1)" stroke="#f2e31a" stroke-width="1.3" fill-opacity="0.65"><ellipse cx="1393.5" cy="447.6" rx="3.9" ry="4.3"/><ellipse cx="1387.8" cy="446.8" rx="3.3" ry="4.1"/><ellipse cx="1394" cy="446" rx="4.6" ry="3.5"/><ellipse cx="1396" cy="446.8" rx="3.2" ry="4.1"/><ellipse cx="1393.7" cy="447.8" rx="4.5" ry="3.4"/></g>
<g filter="url(#bl1)">
<path d="M1783.6 337.9h0M1400.7 138.8h0M1530.1 381.9h0M1757.6 137h0M1759.7 312.4h0M1359.7 279.6h0M1477.8 293.8h0M1714.3 109.3h0M1380.2 85.3h0M1600.3 361.8h0M1472.3 356.2h0M1759.9 260h0M1389 66.9h0M1394.1 366.6h0M1733.9 64.9h0M1647.7 434.8h0M1485.4 452.7h0M1719 139.3h0M1432.5 404.3h0M1482.6 74.4h0M1350.8 338.6h0M1669.2 132.6h0M1778 204.7h0M1462.4 159.7h0M1655.2 372.8h0M1753.8 90.5h0M1645.8 193.6h0M1384 328.3h0M1424.5 96.5h0M1808.5 83h0M1575.3 221.1h0M1426.9 463.5h0M1374.1 86.2h0M1496.9 301.2h0M1611.6 350.4h0M1618.7 252.7h0M1813.2 106.2h0M1567.3 193.5h0M1582.4 382.5h0M1816.4 334.5h0M1361.2 124.8h0M1404.3 82.5h0M1359.9 449.7h0M1538.8 366.3h0M1468.1 147.3h0M1814.5 96.7h0M1757.9 86h0M1572.1 242.1h0M1613.9 309.4h0M1403.5 415.5h0M1440.3 165.4h0M1367.5 152.2h0M1623.3 254.4h0M1800 396.4h0M1513.1 187.9h0M1584.1 174h0M1514.8 327.4h0M1450.6 447.5h0M1766.4 335.2h0M1687.9 467.8h0M1572.4 231.8h0M1654 378.3h0M1553.8 151.5h0M1820.5 353.6h0M1667 97.3h0M1538.9 314.5h0M1760.8 186.3h0M1384.9 355.7h0M1754.7 285.2h0M1684.6 196.2h0M1495.1 109.5h0M1392.3 384.8h0M1734.5 294.5h0M1604.7 271.8h0M1726 96.4h0M1446.6 123.2h0M1681.4 186.6h0M1731.5 379.2h0M1532.6 468.1h0M1815.1 370.9h0M1506.4 447.4h0M1515.8 316.8h0M1488.3 218.5h0M1574.1 281h0M1787 325.3h0M1559 259.3h0M1723.1 320.1h0M1543.3 215.2h0M1697.9 327.5h0M1508.9 121.1h0M1423.5 73.4h0M1686.9 404.8h0M1616.3 73.7h0M1389.4 311.1h0M1752.5 404.3h0M1731.6 164.5h0M1694.6 180.8h0M1509.2 375.3h0M1352.3 313.5h0M1495 254h0M1452.4 143.5h0M1444.5 326.1h0M1765.3 263.2h0M1623.2 396.2h0M1766.4 251.8h0M1613.7 123.3h0M1417.4 454.4h0M1458.9 282.1h0M1447.4 106.2h0M1470.4 234.6h0M1460.4 436.6h0M1484.5 433.4h0M1658.2 430.5h0M1564.8 69.8h0M1415.1 93.5h0M1459.5 262.2h0M1661.8 141.2h0M1393.5 346.4h0M1383.9 67h0M1714.5 279.9h0M1631.4 180.5h0M1415.6 293.1h0M1490.1 464.6h0M1723.9 426.5h0M1428.6 213.7h0M1524.6 110.8h0M1573 307.5h0M1485.1 133.5h0M1356.1 155.9h0M1576.9 465h0M1684.7 163.5h0M1762.6 64.2h0M1779.6 376.4h0M1485.7 289.3h0M1393.1 456.6h0M1540.8 320.3h0M1805 428.7h0M1736.6 312.9h0M1522.1 277.8h0M1704.5 190.6h0M1793.6 312.7h0M1787.2 122.5h0M1580.5 269.5h0M1581.8 209.8h0M1467.8 272.2h0M1530.2 163.6h0M1366.8 246.5h0M1666.6 115.6h0M1772.9 117.6h0M1393.4 81.1h0M1731.5 138.1h0M1372.4 343.9h0M1458.1 205.4h0M1617.4 178h0M1766.5 233.4h0M1646 332.1h0M1605.8 366.5h0M1560.4 400.6h0M1571.2 255h0M1772.1 405.1h0M1798.2 352.8h0M1667.2 230.5h0M1455.6 412.2h0M1442.3 364.9h0M1552.2 401.2h0M1636.8 181.7h0M1694.3 319.1h0M1699.6 414.3h0M1409.1 418.1h0M1704.3 387.9h0M1805.5 303h0M1716.5 262.5h0M1599.2 68.6h0M1539.6 111.3h0M1346.7 274.6h0M1377.5 103h0M1805.8 149h0M1504.1 359h0M1360 412.8h0M1570.4 90.7h0M1389.2 191.1h0M1659.8 271.5h0M1490.2 89.8h0M1560 232.6h0M1616.4 445.2h0M1473.5 322.5h0M1666.3 370.6h0M1542.5 437.6h0M1573.5 420.2h0M1569.8 353.9h0M1449 155h0M1601.1 318.1h0M1585.2 406h0M1755.1 237.1h0M1378.3 212.9h0M1419.2 398.1h0M1471.9 336.1h0M1690.6 249.5h0M1764.9 213h0M1566.2 446.6h0M1435.3 343h0M1358.3 160.5h0M1577.3 439.3h0M1760 382.8h0M1408.3 297.6h0M1478.2 99.6h0M1697.1 395.2h0M1552.9 298.7h0M1508.9 199.9h0M1381.4 365h0M1689 181.2h0M1483.4 464.7h0M1447 269.6h0M1377.5 438.7h0M1705.9 278.4h0M1522.1 125.3h0M1421.7 327.5h0M1564.6 208h0M1601.3 148.1h0M1405.6 207.3h0M1399.1 264.3h0M1557.9 146.3h0M1814.1 348.6h0M1522.6 313.1h0M1650.3 98.1h0M1590 303.8h0M1654.8 323.9h0M1773.3 141.3h0M1516.5 417.8h0M1384.4 95.5h0M1373.7 173.8h0M1419.1 213h0M1577.7 161.9h0M1620.8 346.9h0M1495.7 120h0M1380.7 107.1h0M1690.6 239.1h0M1792.1 366h0M1382.2 369.8h0M1805.3 468.9h0M1750.3 316.9h0M1784.5 385.8h0M1543.6 178.7h0M1349.4 97.2h0M1534.4 95.9h0M1406 246h0M1465.8 455h0M1431.8 288.5h0M1592.1 227.2h0M1721.5 450h0M1742.8 87.8h0M1512.7 231.7h0M1780.2 343h0M1521.3 353.5h0M1809.8 96.5h0M1809.1 102.7h0M1347.3 81.4h0M1756 187.9h0M1367.3 455.6h0M1420.2 447.4h0M1769.4 283.8h0M1701.9 146.6h0M1552.3 99.2h0M1747.2 200.2h0M1355 359.4h0M1672.6 265h0M1730.3 390.8h0M1568.8 370.7h0M1484.9 284.5h0M1641.3 84.8h0M1630 391.7h0M1813.3 469.2h0M1540.7 303.8h0M1391.6 461.1h0M1365.9 323.3h0M1559 391.8h0M1787.8 441h0M1809.4 432.7h0M1352.2 105.1h0M1573.3 333.2h0M1752.2 396.5h0M1702.7 254.8h0M1439.8 151.3h0M1377.6 336.2h0M1621 339.5h0M1571 158.7h0M1616.5 329.9h0M1347.8 133.6h0M1632.4 235.1h0M1697.4 418.9h0M1717.3 67.8h0M1756 207.7h0M1746 264.3h0M1583.1 400.9h0M1494.5 399.9h0M1413.2 288.5h0M1353 363.9h0M1384.9 236h0M1486.5 340.6h0M1608.7 303.4h0M1364.4 367.7h0M1355.7 432.7h0M1542.3 171.2h0M1391.3 161.9h0M1731.6 128h0M1539.5 423.2h0M1483.6 407.3h0M1398.9 196.2h0M1523.5 85.3h0M1418.6 297.7h0M1531.4 62.3h0M1462.9 167.8h0M1541 288.1h0M1552.6 406.8h0M1746.5 349.5h0M1561.6 437.2h0M1482 232.1h0M1819.9 461.8h0M1489.1 248.1h0M1459.4 254.2h0M1716.7 176h0M1818.8 466.9h0M1701.2 119.2h0M1375.8 457h0M1807.4 315.3h0M1468.5 164.5h0M1752.3 128h0M1584.5 129.8h0M1433.7 421.5h0M1771.7 308.8h0M1383.7 111.8h0M1482 86h0M1483.7 122.2h0M1662.9 353.1h0M1803.4 127.6h0M1740 398.8h0M1770.5 332.9h0M1728.8 405.7h0M1751.7 443.8h0M1646.4 246.3h0M1522.8 284.9h0M1530.5 230.3h0M1742.3 352h0M1554.1 349.3h0M1576.3 212h0M1818.4 161h0M1453.2 461.4h0M1704.2 167.6h0M1691.8 426.1h0M1636.1 171.1h0M1473.4 272.3h0M1546.6 469h0M1500.1 76.8h0M1375.1 449.3h0M1542 346.4h0M1599 245.8h0M1581.5 236.5h0M1753.8 117.6h0M1487.2 84.8h0M1761.4 191.4h0M1708 72.5h0M1702 107h0M1503.1 213h0M1604.1 394.3h0M1785.1 363.1h0M1654.8 434.4h0M1524.7 205.7h0M1374.7 268.3h0M1725.8 90.5h0M1595.4 334.6h0M1557.4 165.8h0M1788.8 376.8h0M1364.9 173.8h0M1578.3 227.4h0M1661.5 195.4h0M1461.4 149.7h0M1540.5 411.2h0M1595.2 150.5h0M1568.1 127.1h0M1440.9 287.3h0M1767.7 400.3h0M1791.9 433.2h0M1771.6 428.3h0M1389.6 144.4h0M1474.2 386.7h0M1467.7 118.7h0M1730.8 447.2h0M1539 209.6h0M1390.9 218.4h0M1706.7 159.1h0M1401.6 344.1h0M1718.5 149.7h0M1680.1 233.5h0M1636.7 326.3h0M1778.6 333.3h0M1371.7 154.3h0M1388 76.7h0M1393.6 337.7h0M1649.6 202h0M1791.4 80.8h0M1582.3 455.7h0M1778.7 407.3h0M1665.8 339.8h0M1749.5 100.2h0M1778.3 454.2h0M1786.2 370.4h0M1445.4 151.1h0M1608.2 72.5h0M1479.3 269h0M1798.3 136.4h0M1689.1 289.7h0M1680.8 375.9h0M1731.7 354.5h0M1460.6 468.1h0M1422.8 240.4h0M1788.3 417.1h0M1505.5 132.7h0M1420.9 411.8h0M1515.4 372.4h0M1398.2 330.1h0M1455.8 431.7h0M1473.9 372.6h0M1351.4 381.3h0M1785.2 316.8h0M1575.8 447.3h0M1429.7 102.8h0M1725 137.9h0M1763.9 323.4h0M1750.1 370h0M1610.1 323h0M1685.8 338.3h0M1532.3 361.6h0M1514.1 200.9h0M1595.3 158.1h0M1349.3 66.4h0M1587.2 184.7h0M1376.1 295.8h0M1695.8 306.9h0M1716.9 83.4h0M1358.5 140h0M1668.2 290.1h0M1614.2 68.9h0M1382 155h0M1494.8 92.5h0M1367.8 415.5h0M1659.8 317.1h0M1481.1 115.1h0M1440.7 102h0M1625.1 80.6h0M1754.7 455.7h0M1545.9 109.5h0M1643.3 449.4h0M1651.2 216.5h0M1794 70.2h0M1779.9 193.4h0M1748 164.6h0M1654 109.4h0M1543.1 250h0M1508.6 234.4h0M1365.6 406.3h0M1712.5 301.3h0M1623.7 425.3h0M1416.8 109.7h0M1726.4 220.6h0M1559.4 210h0M1391.9 206.5h0M1649.3 429.1h0M1540 428.2h0M1818.3 150h0M1741.2 99.8h0M1680.5 260.3h0M1774.8 87.1h0M1353.3 303h0M1373 104.1h0M1434.2 399.3h0M1659.4 348.6h0M1583.8 195.1h0M1807.2 89.5h0M1729.1 399.6h0M1811 63.1h0M1500 383.7h0M1678.7 367h0M1798.8 67.8h0M1379.8 453.9h0M1695.8 348.6h0M1363 391h0M1680.3 249.8h0M1548.3 450.4h0M1451.8 420.8h0M1650.4 326.9h0M1814.9 435.2h0M1428.7 434.1h0M1383.4 315.9h0M1776.1 350.2h0M1683.5 125.2h0M1684.9 256.8h0M1465.1 333.8h0M1604.5 246.4h0M1743.5 224.7h0M1629.8 465h0M1422.6 221.4h0M1372.6 396.8h0M1694.8 334h0M1601.8 256.4h0M1422 89.5h0M1605.6 339.9h0M1530.6 212.3h0M1636.7 268.7h0M1796.1 325h0M1415 253.2h0M1395.7 66.9h0M1539.2 71.2h0M1722.4 379.7h0M1692.2 261.3h0M1528.6 257.9h0M1669.4 318.5h0M1406.8 188.5h0M1785.2 332.2h0M1526.1 431.2h0M1592 427.6h0M1667.7 107.7h0M1767.1 166.6h0M1684.1 156.6h0M1494.2 310.6h0M1549.9 316h0M1761.5 115h0M1527 169.1h0M1594.7 163.2h0M1750.3 113.5h0M1597.2 376h0M1641.6 214.9h0M1519.5 237.8h0M1609.1 380.4h0M1643.4 400.8h0M1743 272.2h0M1574.6 142.2h0M1368.9 212.3h0M1512.7 449.5h0M1721.4 196.2h0M1468.6 420.1h0M1803.1 444.4h0M1611.4 413.1h0M1767.9 458.7h0M1434.7 236.6h0M1448.2 378.5h0M1364 266.9h0M1574 273.7h0M1409.7 177.7h0M1474 187.3h0M1606.9 462.2h0M1563.6 371.6h0M1681.4 397.3h0M1529.1 387.5h0M1642.6 202.2h0M1371.8 372.4h0M1718.8 328.8h0M1532.7 421h0M1503.2 347.2h0M1813.1 424.5h0M1722.7 172.1h0M1504 402h0M1559.9 102.1h0M1417.6 166.6h0M1644.1 311.7h0M1714.9 122.9h0M1599.6 136h0M1803.4 389.7h0M1573.6 74.2h0M1354.2 414.7h0M1643.2 337.7h0M1661.2 311.5h0M1454.3 101.7h0M1357.9 407h0M1763.3 179h0M1390.4 291.7h0M1357.7 350.6h0M1369.3 184.6h0M1669.2 356.7h0M1379.5 382.5h0M1809.9 193.7h0M1544 337.2h0M1376.8 199h0M1500.4 269.1h0M1665.7 435.6h0M1732.5 286h0M1390.1 226.4h0M1561.9 96.9h0M1394.6 251.8h0M1661.5 161.3h0M1821.7 246.6h0M1813.7 392.2h0M1574.4 93.5h0M1537.5 136h0M1463.6 290.3h0M1476.4 459.1h0M1608.1 278.5h0M1671.5 282.6h0M1627 96.3h0M1587.5 364.4h0M1496.6 228.8h0M1770.7 92.1h0M1399.3 242.1h0M1512.2 169.3h0M1504.6 244.2h0M1509 269.2h0M1640.7 357.6h0M1733.5 152.7h0M1357.3 261.1h0M1552.2 126.9h0M1629.5 198.2h0M1526.9 80h0M1408.4 267.3h0M1407.4 464.9h0M1730.4 248.7h0M1560.6 253.7h0M1506.8 163.9h0M1517.6 208.3h0M1727.8 326.5h0M1772.6 463.2h0M1478.4 281.5h0M1519.3 114.3h0M1733.4 85.1h0M1481.7 414.8h0M1768.2 270.5h0M1711.8 371.3h0M1634.8 465.7h0M1445.1 249.9h0M1408.6 68.5h0M1572.8 364h0M1780.2 306.1h0M1632.6 387.1h0M1382.1 440.9h0M1420.7 195.8h0M1690.4 225.8h0M1659 103.1h0M1547.4 139h0M1679.6 147.4h0M1813.3 301h0M1756 192.7h0M1803.7 417.1h0M1795.9 339h0M1737.9 224.4h0M1657.7 137.7h0M1790.9 411.2h0M1403.8 410.2h0M1602.4 219.9h0M1521.2 99.8h0M1706.6 419.9h0M1560.8 174.8h0M1434.6 102.7h0M1669 86.7h0M1750 300.7h0M1729.4 372.3h0M1442.9 292.5h0M1590.7 374.5h0M1643.1 207.1h0M1796.7 127.9h0M1819.6 328.2h0M1408 127h0M1703.2 126.6h0M1474 154.4h0M1755.6 369.4h0M1477.5 161.2h0M1789.5 387.3h0M1687.7 115.4h0M1754.5 415.6h0M1418.7 139.1h0M1627 456.1h0M1456.6 216h0M1697 95.9h0M1619.8 325.4h0M1468.7 220h0M1794.5 423h0M1448.4 200.6h0M1555.7 323.1h0M1743.3 123.3h0M1439.8 325.3h0M1357.7 121.3h0M1420.3 263.7h0M1482.8 145.2h0M1808.9 164.1h0M1623.5 249.4h0M1564.9 343.4h0M1786.7 402.5h0M1606.7 188.4h0M1695.1 440.6h0M1441.1 301.3h0M1419.4 202.2h0M1486.5 347.5h0M1418.4 431.9h0M1551.3 219.5h0M1602.3 399.4h0M1743.3 219.5h0M1525.4 268.7h0M1479.6 223h0M1488.2 396.4h0M1454.3 366.7h0M1522.1 118.9h0M1423.2 160.6h0M1820.1 61.7h0M1802.6 133.3h0M1689 213.6h0M1660.8 360.3h0M1556.7 74.6h0M1719.8 430.5h0M1589.7 453.1h0M1564.3 314.5h0M1605.7 214h0M1541.9 463h0M1748.6 208.5h0M1363.1 90.5h0M1507 439.7h0M1462.7 443.3h0M1445.6 403.5h0M1772.9 160.2h0M1448.9 463.1h0M1526 250.1h0M1387.2 283.3h0M1767.5 100.5h0M1753.8 390.9h0M1599.6 440.4h0M1506.2 177.9h0M1643.2 298.2h0M1560.5 274.2h0M1555.2 239.8h0M1545.5 158.8h0M1780.6 327h0M1783.1 80.3h0M1642 436.3h0M1640.3 220.6h0M1384.6 257.8h0M1440 81.4h0M1475.9 197.8h0M1721.2 295.8h0M1524 398.3h0M1677 329.9h0M1765.7 345.8h0M1809 325h0M1777.4 121.4h0M1504.8 461.5h0M1705.4 347.8h0M1359.8 311.2h0M1672.4 228.8h0M1358.1 94.9h0M1690.6 194.7h0M1528.3 395.5h0M1533.5 448.7h0M1540.3 446h0M1400.6 201.5h0M1544.9 366.7h0M1687.2 325.2h0M1570.2 214.4h0M1419.3 379.6h0M1771.5 130.5h0M1704.4 399h0M1664.8 248.3h0M1796.9 192.7h0M1531 225.1h0M1507.1 189.3h0M1388.4 336.5h0M1637.7 377.8h0M1766.2 161.5h0M1464.4 321h0M1506.2 331.4h0M1703.7 182.3h0M1651.7 276.3h0M1703.4 115h0M1537 393.7h0M1792.2 93.8h0M1610.6 240h0M1364.5 468.5h0M1467.3 127.7h0M1653.4 348.2h0M1740.9 299.5h0M1615.3 385.1h0M1668.4 273.8h0M1547.3 257.2h0M1599.4 229.3h0M1786.4 177.4h0M1508.4 96h0M1655.5 397.7h0M1448.5 87.7h0M1806.5 137.9h0M1515.7 332.3h0M1447.1 69.8h0M1701.5 461.4h0M1789.4 151.5h0M1462.5 131.2h0M1577.5 88.1h0M1378.2 193.8h0M1614.5 95.3h0M1376.9 369.1h0M1494.8 217.3h0M1687.9 432.9h0M1618.8 117.7h0M1737.7 184.9h0M1448.4 231.9h0M1806.8 169.5h0M1595.6 339.4h0M1795.8 102.6h0M1368 272.7h0M1468.4 246.4h0M1749.5 214.5h0M1532.4 201.3h0M1557.8 468.3h0M1720.4 289h0M1375.8 207.9h0M1350.8 206.2h0M1588.2 83.2h0M1452.8 318.9h0M1537.1 250.8h0M1377.7 224.8h0M1569.2 120.9h0M1621.7 272.1h0M1475.5 93.8h0M1446.5 167.1h0M1774.7 126.1h0M1680 139h0M1711.4 346.8h0M1580 306.1h0M1595.2 400.5h0M1621.6 371.2h0M1551.5 187.8h0M1404.2 277.8h0M1742.5 186.1h0M1667.9 120.5h0M1398.1 427.6h0M1581.8 158.9h0M1524 443.2h0M1429.5 321h0M1758.2 145.1h0M1471.4 193.5h0M1623.6 241.7h0M1508.1 112.8h0M1720.5 133.5h0M1759.9 409.3h0M1563.4 424.3h0M1552 392.9h0M1689.7 105.6h0M1546.5 224.6h0M1349.2 195.7h0M1811.4 450.3h0M1476.3 169h0M1604.5 325h0M1598.3 274.1h0M1683.1 392.7h0M1657.7 238h0M1768.8 441.3h0M1629.4 259.8h0M1740.2 140.5h0M1560.4 126.4h0M1749.7 294h0M1475.1 287.1h0M1535.7 82.4h0M1650 167.7h0M1673.6 176.5h0M1583.2 150.4h0M1451.5 332.3h0M1672.3 79.6h0M1728.9 142.6h0M1380.7 128.8h0M1513.4 85.3h0M1692.7 410.6h0M1643.5 465.8h0M1372.8 319.9h0M1415.2 310.8h0M1766.1 351.4h0M1542.2 355.3h0M1372.6 314.7h0M1464 189.4h0M1691.3 457.9h0M1540.7 64.4h0M1664.4 93.1h0M1716.2 274.3h0M1606 162.3h0M1581.4 333.4h0M1791.7 134h0M1434.8 184.5h0M1627.4 226.4h0M1569.3 417.6h0M1515.6 215.5h0M1549.1 250.3h0M1476.2 245.1h0M1574 206.4h0M1484.3 315.4h0M1593.8 317.2h0M1377.1 143.8h0M1470.3 280.5h0M1590 282.9h0M1467.9 463h0M1506.1 304.4h0M1735.7 114.8h0M1454.2 300.7h0M1760.7 417.3h0M1421.1 270.9h0M1553.7 272.4h0M1537.5 153.7h0M1470.8 396.3h0M1764 198h0M1435.7 265.2h0M1722.5 259.7h0M1610.2 62h0M1536.1 270.2h0M1610.6 138.6h0M1725.1 440.7h0M1360 422.8h0M1718 455.4h0M1543.9 235h0M1775.5 190.4h0M1395.3 186.8h0M1464 358.2h0M1791 98.3h0M1764.7 70.2h0M1619.2 390.7h0M1752.3 201.9h0M1532.1 375.9h0M1587.4 70.2h0M1661.1 107.3h0M1590.3 207.4h0M1540.2 100h0M1362.3 85.3h0M1681 205.4h0M1732.9 429.7h0M1408.8 430.9h0M1441.8 238h0M1494.9 354.7h0M1720.7 463.4h0M1418 102h0M1491 201.5h0M1783.7 424.8h0M1350 416.5h0M1709.7 255.6h0M1442.3 185.8h0M1558 369.6h0M1544.9 117.9h0M1453 306.9h0M1747.3 259.7h0M1812 321.2h0M1696.3 88.2h0M1410.5 337.9h0M1440 355.2h0M1423.3 79.2h0M1471.2 223.9h0M1515.8 108.7h0M1374.4 384.6h0M1437.3 387.8h0M1568.5 432.2h0M1430.4 233.9h0M1624.7 100.9h0M1600.7 176.2h0M1404.3 159.9h0M1398 281.1h0M1578.1 341.9h0M1492.4 333.4h0M1507.8 81.6h0M1366.3 102.8h0M1662.1 209.7h0M1426.1 140h0M1643.2 170.7h0M1643.4 323.8h0M1665.6 298.1h0M1574.9 375.6h0M1570.2 221.6h0M1396.2 393.8h0M1606.2 207.7h0M1418.8 231.9h0M1343.6 387.6h0M1371 130.7h0M1730.3 290.7h0M1609.4 248.8h0M1538 106.5h0M1415.6 392.6h0M1693.7 136.3h0M1685.9 206.4h0M1707.8 235.5h0M1617.6 286.5h0M1783.4 107.5h0M1713.4 360.3h0M1791.7 445.1h0M1622.3 226.7h0" stroke="#f01fe6" stroke-width="4.4" stroke-linecap="round" fill="none"/>
<path d="M1588.8 400.3h0M1700.7 364.3h0M1631.9 367.5h0M1345.9 342.8h0M1571.4 312.6h0M1569.4 319.1h0M1450.5 369.5h0M1438.5 427.7h0M1591.3 167.4h0M1419.1 373.2h0M1363.6 401.5h0M1523.2 390.7h0M1792.6 381.8h0M1452 150.1h0M1544.5 417.8h0M1638.9 439.9h0M1357.3 297.8h0M1588.5 308.8h0M1636.8 364.5h0M1447.9 315.3h0M1743 279.6h0M1397.9 369.3h0M1534.6 68.2h0M1610.2 150.3h0M1640.3 389.5h0M1598.8 423.4h0M1602.9 450.4h0M1526.3 424h0M1522.1 72h0M1691.7 255.7h0M1747.3 77.6h0M1777.3 318h0M1650.7 191.6h0M1452.9 73.8h0M1548.5 265.6h0M1783.9 149.5h0M1520.1 408.2h0M1663.3 85.8h0M1723 307.6h0M1626.3 149.9h0M1373.9 433.8h0M1409.1 327.3h0M1604.6 155h0M1524.1 106.1h0M1384.8 170h0M1764.4 88h0M1483.1 63.3h0M1504.1 89.1h0M1767.6 294h0M1372.4 228.2h0M1406.4 384.8h0M1709.6 87.2h0M1458.1 372.8h0M1430.3 343.8h0M1753.3 134.6h0M1570 62.8h0M1679.5 226.3h0M1636.1 205.1h0M1462.6 86.3h0M1392.9 412.9h0M1693.1 155.5h0M1684 408.5h0M1477.2 120.7h0M1803 463.2h0M1730.9 305.4h0M1607.1 424.1h0M1642.9 430.4h0M1740.3 92.6h0M1419.9 183.5h0M1569.8 299h0M1658.1 384.6h0M1565 75.9h0M1709.4 106.8h0M1640.1 98.1h0M1485.5 428.5h0M1594.3 110.9h0M1394.3 372.9h0M1670.9 101.9h0M1425.1 154.3h0M1420.3 425.5h0M1660.7 377.3h0M1659.7 184.6h0M1434.4 362.3h0M1447.6 352.9h0M1701.9 455.6h0M1603.7 436.7h0M1637.5 162.3h0M1768.3 109.6h0M1750.7 275.7h0M1394.1 303.1h0M1610.8 198.7h0M1511.8 431.6h0M1410.1 157.7h0M1472.4 74.2h0M1417.2 407.5h0M1365.7 341.8h0M1583.8 179.6h0M1641.1 329.3h0M1649.3 227.1h0M1516.1 426.9h0M1509.3 324.3h0M1485.7 69.7h0M1645.2 381.3h0M1456.4 91h0M1397.2 433.7h0M1667 202.9h0M1403.1 312.8h0M1414.9 380.8h0M1765.5 360.1h0M1577.2 175.9h0M1750.9 321.6h0M1623.3 417.7h0M1403.3 320.2h0M1677.7 190.3h0M1760 105.9h0M1803.5 402.4h0M1463.3 197.2h0M1626.3 406.8h0M1750.2 282.1h0M1484.6 94.6h0M1641.7 239.3h0M1669.5 396h0M1462.2 449h0M1817.4 139.6h0M1743.7 317.9h0M1619.8 62.9h0M1721.9 345.5h0M1702.2 267h0M1692.6 128.1h0M1488 155.7h0M1503.9 426.1h0M1720.4 107.8h0M1658.6 226.7h0M1816.5 194.8h0M1376.6 360.6h0M1591.2 342.4h0M1424.5 390.7h0M1595.4 326.9h0M1405.8 307.3h0M1582.2 250.7h0M1639.2 190.3h0M1366.6 354.4h0M1808.7 335h0M1450.1 186.9h0M1763 459.6h0M1343.8 323.5h0M1791.7 321.9h0M1498.2 330.2h0M1398.1 338.9h0M1552.4 331.2h0M1766.3 309.3h0M1799.5 150.8h0M1702 272h0M1660.8 221.5h0M1594.3 452.4h0M1551.5 69h0M1676.3 221.9h0M1746.8 391h0M1762.9 288.2h0M1586 108.9h0M1618.3 192.6h0M1821.8 82h0M1604.9 457.5h0M1754.5 212.3h0M1390.9 379.8h0M1373.3 149.5h0M1744.4 66.7h0M1410.5 101.3h0M1491.2 140.6h0M1496 148.5h0M1617.2 375.7h0M1657.1 366.1h0M1611.2 331.7h0M1664.1 385.1h0M1370.9 82.1h0M1515.3 100.6h0M1593.5 389.9h0M1613.3 426.8h0M1495.7 68.4h0M1520.8 378.4h0M1574.9 384.3h0M1411.6 169.9h0M1512.9 413.4h0M1742.4 113h0M1694.2 246.3h0M1604.6 232.2h0M1783.8 311.6h0M1586.4 441.2h0M1629.5 240.6h0M1418.2 123.2h0M1650.2 386.4h0M1640.8 152.5h0M1408.8 396.6h0M1650.6 66h0M1494.2 386.9h0M1701.3 239.5h0M1376.5 331.5h0M1777.5 427.3h0M1558.5 310.6h0M1590 189.6h0M1570.2 172.9h0M1484.9 225.5h0M1628.1 321.8h0M1565.5 327h0M1599.5 382.6h0M1361.4 326.1h0M1632.8 358.5h0M1607.7 85.8h0M1540.4 406.3h0M1584.3 272.2h0M1691.2 330.1h0M1512.7 176.8h0M1490.7 175.4h0M1474.6 412.5h0M1633.6 447.1h0M1667.1 409.1h0M1429.6 376.8h0M1429.1 156.9h0M1775 340.2h0M1380.5 417.2h0M1701.7 81.8h0M1498.1 160.6h0M1540 293.5h0M1346.5 168.8h0M1600.9 115.4h0M1557.1 443.7h0M1526.4 329.3h0M1395.3 326.2h0M1699.7 287.1h0M1593.2 434h0M1738.7 260.8h0M1577.9 313.1h0M1601.5 462.7h0M1621.5 385.7h0M1793.9 172.6h0M1504.3 67.2h0M1762.4 331.2h0M1397.4 381.9h0M1438.2 460.6h0M1534.2 119.9h0M1595.7 257.8h0M1653 230.9h0M1464.2 174.8h0M1776 211.1h0M1399.1 317.9h0M1387.2 320.1h0M1624.2 236h0M1430.3 85.2h0M1634.7 414.2h0M1382 405.8h0M1579.3 323h0M1565.6 186.8h0M1681.3 200.2h0M1596.5 98.9h0M1545.6 455.6h0M1533.1 297.5h0M1546.8 445.1h0M1615.3 109h0M1376.5 116h0M1382.5 306.6h0M1526.9 404.7h0M1607.8 122h0M1736.6 102.6h0M1738.4 368.7h0M1562.1 288.9h0M1602.3 389.4h0M1551.9 358.6h0M1607.7 132.5h0M1563.3 414.4h0M1349.2 333.9h0M1462.3 179.5h0M1344.6 434.3h0M1467.9 104h0M1474.3 67.8h0M1611.8 390h0M1536.6 398.4h0M1573.6 425.7h0M1652.6 143.5h0M1726.9 127.8h0M1394.2 146.5h0M1403.3 394.7h0M1512.4 73.8h0M1434.7 120.1h0M1527.8 351.9h0M1693.4 323.7h0M1378.2 158.6h0M1376.3 311.3h0M1565.7 285.7h0M1612.1 181.2h0M1599.5 203.8h0M1765 280.7h0M1705.2 283.5h0M1371.7 309.1h0M1733.9 69.7h0M1680.9 210.7h0M1514.3 95.1h0M1723.6 69.5h0M1442.9 375.5h0M1536.2 306h0M1561.8 381.8h0M1620.8 168h0M1699.4 359h0M1584.1 326.8h0M1588.7 195.5h0M1748.4 151.3h0M1468.5 339.5h0M1718.4 97.9h0M1504.4 379.4h0M1461.1 79.1h0M1409.2 273.4h0M1515.8 385.7h0M1621 380.3h0M1555 460.1h0M1379.4 462.6h0M1415 412.6h0M1385.7 373.2h0M1530 315.9h0M1629.5 402.9h0M1427.6 408.1h0M1748.2 72.6h0M1636.4 249.8h0M1793.7 144.4h0M1394.8 294.3h0M1593.2 78.7h0M1703.1 247.8h0M1477.3 146.5h0M1577 457.5h0M1364.5 223.1h0M1729 309.8h0M1475.4 258.6h0M1662 422.4h0M1723.3 240.2h0M1717.2 257.2h0M1497.1 446.7h0M1689.8 351.8h0M1641.8 414.7h0M1674.4 387.6h0M1427.7 371h0M1435 191.2h0M1400.2 304.4h0" stroke="#2bf21c" stroke-width="4.4" stroke-linecap="round" fill="none"/>
<path d="M1702.8 371.2h0M1379.9 136.5h0M1734 234.6h0M1735.5 388h0M1509.1 342.2h0M1613.8 168h0M1762.9 237.8h0M1485 380.2h0M1753.4 104.8h0M1590.5 256.8h0M1728.6 80.5h0M1490.3 319.7h0M1351.8 444.7h0M1655.9 312.3h0M1464.5 306.6h0M1649.1 407.8h0M1807.1 358.4h0M1589.7 293.4h0M1746.9 90.9h0M1688.2 310.7h0M1695.5 283h0M1672.1 293.5h0M1437.3 219.3h0M1609.7 447h0M1799.2 72.5h0M1554.6 289.8h0M1618.5 275.5h0M1478.1 306.7h0M1451.1 96.6h0M1559.9 137.7h0M1465.3 94.9h0M1458.7 406.1h0M1796.4 405.7h0M1584.4 393.9h0M1756.3 331.7h0M1623.5 319.1h0M1617.8 260.2h0M1449.7 468.5h0M1793.6 347.2h0M1632.3 186.6h0M1657.5 284.7h0M1633.5 216.9h0M1799.8 342.5h0M1739 73.3h0M1590.2 66.1h0M1621.7 189.1h0M1822 109.9h0M1810 406.3h0M1671.2 313.3h0M1544.4 310.1h0M1472.5 81.1h0M1775.9 366.1h0M1371.2 391.2h0M1621.4 217.2h0M1532.8 170.5h0M1358.5 399.2h0M1753.3 244.7h0M1391.1 390.9h0M1763.6 243.5h0M1805.2 183.1h0M1535.5 335.4h0M1692.9 70.1h0M1425.7 68.8h0M1595.2 89.5h0M1662.9 253.6h0M1589.1 123.2h0M1380.9 291.3h0M1640.8 276.6h0M1812.5 355.9h0M1486.7 141.9h0M1377.8 424.2h0M1435.4 456.3h0M1454.9 444.5h0M1426.3 243.6h0M1454.5 344.9h0M1603.7 282.7h0M1714.2 352.5h0M1371 189.2h0M1438.1 320.5h0M1587.6 89.7h0M1680.2 289.9h0M1647.8 256.4h0M1597.3 104.9h0M1493.7 211.5h0M1667 169.6h0M1628.4 203.8h0M1491 63.5h0M1758.8 122.5h0M1474 109.2h0M1566.3 304.4h0M1814.2 84.2h0M1582 61.7h0M1623.7 213.1h0M1717.5 317.1h0M1543.4 361.8h0M1722.4 102.5h0M1749.1 144.1h0M1750.2 232.7h0M1386.1 463h0M1620.9 160.3h0M1616.4 209h0M1739.6 212.8h0M1442 92.9h0M1640.8 459.8h0M1360.3 219h0M1522.9 298h0M1738.2 148h0M1432.4 65.8h0M1476 141.3h0M1463 395.8h0M1595.1 177.4h0M1673.7 434h0M1467.9 112.2h0M1442.7 136.4h0M1739.4 231.3h0M1542.6 85.7h0M1535.5 325h0M1820.7 374.9h0M1634.3 91.9h0M1430.4 94.7h0M1489.3 329.5h0M1457.6 98.4h0M1622.2 87.8h0M1652.6 294h0M1579.8 95.6h0M1705.2 242h0M1780.1 363.6h0M1353.5 230.7h0M1812.5 129.5h0M1383.8 392.9h0M1627.8 252.6h0M1682.9 430h0M1764.3 132.8h0M1452.5 113.4h0M1776.3 434.4h0M1767.2 258.2h0M1756.9 250.4h0M1744.1 284.8h0M1348.9 402.3h0M1348.3 262.5h0M1708.9 273.1h0M1579.8 412.6h0M1654.3 185.8h0M1351.9 62.3h0M1645.8 373.2h0M1787 348h0M1464.9 99.5h0M1350 455.7h0M1611.6 400.8h0M1376.5 322.8h0M1654.9 306.1h0M1643.5 180.6h0M1615.7 319.9h0M1715.7 88.5h0M1775.3 361.5h0M1618.5 80h0M1547.1 163.3h0M1719.3 350.6h0M1523.1 188.3h0M1682 297.6h0M1398.4 254.6h0M1448.2 207.6h0M1449.8 80.3h0M1687.4 296.5h0M1390.4 438.9h0M1595.5 267.4h0M1713.7 249h0M1507.2 250.2h0M1752.1 258.8h0M1587.3 216.1h0M1690.2 358.9h0M1345.8 183.7h0M1647.8 251.8h0M1794.9 333.6h0M1554.8 137.4h0M1650.1 235.9h0M1552.3 282.8h0M1456.9 145.8h0M1509.5 402.2h0M1724.5 230.2h0M1563.7 349.9h0M1502.3 103.5h0M1476.8 84.3h0M1709.9 330.1h0M1663.4 268.2h0M1756.8 223h0M1412.7 126.9h0M1441 123.1h0M1725.8 235.4h0M1442 210.5h0M1494.1 407.8h0M1762.7 222.2h0M1586.8 221.5h0M1387.5 395.8h0M1790.8 355.1h0M1459.3 116.9h0M1594.5 293.1h0M1636.5 352.5h0M1459.3 293h0M1627.2 278h0M1379.6 399.8h0M1414 402.2h0M1761.8 126.8h0M1784.7 188.7h0M1355.6 440.7h0M1517 127.2h0M1662 176.3h0M1693.3 160.6h0M1732.6 260.1h0M1397.6 403.9h0M1814.4 343.6h0M1580 407.2h0M1687.8 420.5h0M1682.2 304.2h0M1816.1 77.5h0M1397.4 357.7h0M1626.6 283.3h0M1492.8 367.6h0M1560.8 281.8h0M1750.5 227.2h0M1423.3 167.2h0M1680.7 420.9h0M1696.2 372h0M1804.9 351.3h0M1684.6 268.1h0M1589.8 148h0M1729.2 339.9h0M1631.2 271.8h0M1711.2 166.1h0M1586.2 94.7h0M1459.5 221.3h0M1667.1 221.5h0M1468 85.6h0M1675.4 279.6h0M1451 124.7h0M1565.1 123.1h0M1709.6 289.1h0M1407.8 370.8h0M1746.9 188.6h0M1556.3 378.1h0M1783.2 396.8h0M1408.9 261.6h0M1583.6 78.1h0M1438.6 173.9h0M1610 81.7h0M1369.4 238.3h0M1522.4 178.6h0M1797.3 444.1h0M1501.7 444.2h0M1344.2 224.6h0M1737.6 243h0M1755.5 158.7h0M1351.1 155h0M1389.2 199h0M1542.5 137.7h0M1497.6 88.6h0M1356.8 173.9h0M1743.5 240.2h0M1486 103.7h0M1442.6 398.8h0M1601.4 91.4h0M1451.4 382.9h0M1394.9 91.6h0M1810.1 68.5h0M1460.2 244.9h0M1547.8 331.4h0M1676.1 272h0M1735.9 124.9h0M1485.6 304.2h0M1349.5 237.8h0" stroke="#1fe3f2" stroke-width="4.2" stroke-linecap="round" fill="none"/>
</g>
<rect x="1481.5" y="86.1" width="41.1" height="38.5" fill="none" stroke="#e8e8e8" stroke-width="0.9"/>
<rect x="1516.6" y="146.2" width="41.1" height="38" fill="none" stroke="#e8e8e8" stroke-width="0.9"/>
<rect x="1526.4" y="203.4" width="41.1" height="38.2" fill="none" stroke="#e8e8e8" stroke-width="0.9"/>
<rect x="1371.4" y="219.2" width="42.2" height="38.2" fill="none" stroke="#e8e8e8" stroke-width="0.9"/>
<rect x="1730.4" y="127.2" width="41.4" height="38.5" fill="none" stroke="#e8e8e8" stroke-width="0.9"/>
<rect x="1774.4" y="86.1" width="42.2" height="39.3" fill="none" stroke="#e8e8e8" stroke-width="0.9"/>
<rect x="1663.1" y="285.1" width="41.4" height="38.2" fill="none" stroke="#e8e8e8" stroke-width="0.9"/>
<rect x="1599.4" y="343.1" width="41.4" height="38.2" fill="none" stroke="#e8e8e8" stroke-width="0.9"/>
<rect x="1744.1" y="453" width="71.2" height="8.7" fill="#fff"/>
</g>
<defs><filter id="texsm" x="0" y="0" width="100%" height="100%" color-interpolation-filters="sRGB"><feTurbulence type="fractalNoise" baseFrequency="0.06" numOctaves="4" seed="5" result="n"/><feColorMatrix in="n" type="matrix" values="0 0 0 0 0.25  0 0 0 0 0.25  0 0 0 0 0.25  0 1.0 0 0 -0.42" result="g"/><feColorMatrix in="n" type="matrix" values="0 0 0 0 0.6  0 0 0 0 0.04  0 0 0 0 0.04  2.0 0 0 0 -0.85" result="r"/><feMerge><feMergeNode in="g"/><feMergeNode in="r"/></feMerge></filter><filter id="bl3" x="-30%" y="-30%" width="160%" height="160%"><feGaussianBlur stdDeviation="2.2"/></filter></defs>
<clipPath id="m3"><rect x="1103.1" y="63.2" width="108.8" height="99.7"/></clipPath>
<g clip-path="url(#m3)">
<rect x="1103.1" y="63.2" width="108.8" height="99.7" fill="#0a0505"/>
<rect x="1103.1" y="63.2" width="108.8" height="99.7" filter="url(#texsm)"/>
<g filter="url(#bl3)">
<ellipse cx="1156.3" cy="112" rx="19.2" ry="14.1" fill="#f8ec14" stroke="#f8ec14" stroke-width="2" opacity="0.69" fill-opacity="0.8"/>
<ellipse cx="1129.5" cy="91.6" rx="8.9" ry="6.4" fill="#f8ec14" stroke="#f8ec14" stroke-width="2" opacity="0.575" fill-opacity="0.8"/>
</g>
<g filter="url(#bl1)">
<ellipse cx="1162.7" cy="117.1" rx="5.8" ry="5.8" fill="#d8f4f4" opacity="0.9"/>
<ellipse cx="1190.8" cy="96.7" rx="5.8" ry="5.8" fill="#ff1fd6"/>
<ellipse cx="1198.5" cy="106.3" rx="6.4" ry="6.4" fill="#ff1fd6"/>
<ellipse cx="1125" cy="128" rx="5.8" ry="5.8" fill="#ff1fd6"/>
<ellipse cx="1135.9" cy="128.6" rx="5.8" ry="5.8" fill="#ff1fd6"/>
<ellipse cx="1132.7" cy="143.3" rx="6.1" ry="6.1" fill="#ff1fd6"/>
<ellipse cx="1179.3" cy="131.2" rx="5.8" ry="5.8" fill="#ff1fd6"/>
<ellipse cx="1188.9" cy="138.2" rx="5.8" ry="5.8" fill="#ff1fd6"/>
<ellipse cx="1206.8" cy="151" rx="6.4" ry="6.4" fill="#ff1fd6"/>
<ellipse cx="1137.2" cy="156.1" rx="5.1" ry="5.1" fill="#ff1fd6" opacity="0.8"/>
<ellipse cx="1188.3" cy="155.5" rx="5.1" ry="5.1" fill="#ff1fd6" opacity="0.6"/>
<ellipse cx="1112.3" cy="138.8" rx="6.4" ry="6.4" fill="#3fe6f0"/>
<ellipse cx="1161.8" cy="136.3" rx="5.8" ry="5.8" fill="#3fe6f0"/>
<ellipse cx="1116.1" cy="103.1" rx="3.8" ry="3.8" fill="#3fe6f0" opacity="0.5"/>
<ellipse cx="1197.2" cy="75.6" rx="6.1" ry="6.1" fill="#35f01c"/>
<ellipse cx="1150.6" cy="152.9" rx="6.1" ry="6.1" fill="#35f01c"/>
<ellipse cx="1185.7" cy="87.1" rx="3.8" ry="3.8" fill="#35f01c" opacity="0.7"/>
<ellipse cx="1129.5" cy="161.9" rx="4.5" ry="4.5" fill="#35f01c"/>
</g>
<rect x="1116.1" y="67.9" width="70.3" height="15.3" fill="#000"/>
<text x="1120.9" y="82" font-size="17.5" fill="#3fe6f0" textLength="64.5" lengthAdjust="spacingAndGlyphs">1-nuclei</text>
</g>
<clipPath id="m4"><rect x="1216.2" y="63.2" width="108.8" height="99.7"/></clipPath>
<g clip-path="url(#m4)">
<rect x="1216.2" y="63.2" width="108.8" height="99.7" fill="#0a0505"/>
<rect x="1216.2" y="63.2" width="108.8" height="99.7" filter="url(#texsm)"/>
<g filter="url(#bl3)">
<ellipse cx="1272.6" cy="106.9" rx="14.1" ry="14.1" fill="#f41414" stroke="#f41414" stroke-width="2" opacity="1" fill-opacity="0.8"/>
<ellipse cx="1276.5" cy="137.6" rx="6.4" ry="20.4" fill="#f41414" stroke="#f41414" stroke-width="2" opacity="1" fill-opacity="0.8"/>
<ellipse cx="1309.7" cy="124.8" rx="25.6" ry="43.5" fill="#000"/>
<ellipse cx="1267.5" cy="111.4" rx="6.4" ry="5.8" fill="#f8ec14" stroke="#f8ec14" stroke-width="2" opacity="1" fill-opacity="0.8"/>
</g>
<g filter="url(#bl1)">
<ellipse cx="1268.2" cy="111.4" rx="3.6" ry="3.6" fill="#d8f4f4" opacity="0.8"/>
<ellipse cx="1257.9" cy="133.7" rx="6.4" ry="6.4" fill="#ff1fd6"/>
<ellipse cx="1261.1" cy="154.2" rx="5.1" ry="5.1" fill="#ff1fd6" opacity="0.4"/>
<ellipse cx="1229.2" cy="135" rx="5.1" ry="5.1" fill="#ff1fd6" opacity="0.3"/>
<ellipse cx="1317.4" cy="69.8" rx="5.1" ry="5.1" fill="#35f01c" opacity="0.5"/>
<ellipse cx="1321.8" cy="77.5" rx="3.8" ry="3.8" fill="#3fe6f0" opacity="0.4"/>
</g>
<rect x="1230.5" y="67.3" width="73.5" height="16" fill="#000"/>
<text x="1233.7" y="82" font-size="17.5" fill="#6af01c" textLength="63.9" lengthAdjust="spacingAndGlyphs">1-nuclei</text>
</g>
<clipPath id="m5"><rect x="1103.1" y="165" width="108.8" height="99.7"/></clipPath>
<g clip-path="url(#m5)">
<rect x="1103.1" y="165" width="108.8" height="99.7" fill="#0a0505"/>
<rect x="1103.1" y="165" width="108.8" height="99.7" filter="url(#texsm)"/>
<g filter="url(#bl3)">
<ellipse cx="1164" cy="201.5" rx="12.8" ry="11.5" fill="#f8ec14" stroke="#f8ec14" stroke-width="2" opacity="0.9199999999999999" fill-opacity="0.8"/>
<ellipse cx="1150" cy="220.6" rx="16.6" ry="12.8" fill="#f8ec14" stroke="#f8ec14" stroke-width="2" opacity="0.9199999999999999" fill-opacity="0.8"/>
</g>
<g filter="url(#bl1)">
<ellipse cx="1164.6" cy="201.5" rx="5.1" ry="5.1" fill="#ff70b0" opacity="0.8"/>
<ellipse cx="1153.8" cy="221.9" rx="5.1" ry="5.1" fill="#ff70b0" opacity="0.7"/>
<ellipse cx="1116.5" cy="220.9" rx="6.4" ry="6.4" fill="#ff1fd6"/>
<ellipse cx="1135.9" cy="245.6" rx="6.1" ry="6.1" fill="#ff1fd6"/>
<ellipse cx="1204.9" cy="227" rx="6.4" ry="6.4" fill="#35f01c"/>
<ellipse cx="1203.6" cy="214.2" rx="4.5" ry="4.5" fill="#35f01c" opacity="0.5"/>
<ellipse cx="1206.2" cy="239.8" rx="4.5" ry="4.5" fill="#35f01c" opacity="0.5"/>
<ellipse cx="1171.7" cy="229.6" rx="6.4" ry="5.1" fill="#ff1fd6" opacity="0.3"/>
</g>
<rect x="1117.4" y="169.5" width="74.8" height="15.3" fill="#000"/>
<text x="1121.2" y="183.6" font-size="17.5" fill="#ff28e0" textLength="67.7" lengthAdjust="spacingAndGlyphs">2-nuclei</text>
</g>
<clipPath id="m6"><rect x="1216.2" y="165" width="108.8" height="99.7"/></clipPath>
<g clip-path="url(#m6)">
<rect x="1216.2" y="165" width="108.8" height="99.7" fill="#0a0505"/>
<rect x="1216.2" y="165" width="108.8" height="99.7" filter="url(#texsm)"/>
<g filter="url(#bl3)">
<ellipse cx="1229.2" cy="186.1" rx="11.5" ry="19.2" fill="#f8ec14" stroke="#f8ec14" stroke-width="2" opacity="0.69" fill-opacity="0.8"/>
<ellipse cx="1235.6" cy="170.8" rx="12.8" ry="5.1" fill="#f8ec14" stroke="#f8ec14" stroke-width="2" opacity="0.8049999999999999" fill-opacity="0.8"/>
<ellipse cx="1293.1" cy="224.5" rx="16.6" ry="16.6" fill="#f41414" stroke="#f41414" stroke-width="2" opacity="0.69" fill-opacity="0.8"/>
<ellipse cx="1271.4" cy="214.2" rx="11.5" ry="14.1" fill="#f41414" stroke="#f41414" stroke-width="2" opacity="0.8049999999999999" fill-opacity="0.8"/>
<ellipse cx="1258.6" cy="234.7" rx="15.3" ry="10.2" fill="#f8ec14" stroke="#f8ec14" stroke-width="2" opacity="0.69" fill-opacity="0.8"/>
<ellipse cx="1318.6" cy="198.9" rx="7.7" ry="10.2" fill="#f41414" stroke="#f41414" stroke-width="2" opacity="0.575" fill-opacity="0.8"/>
</g>
<g filter="url(#bl1)">
<ellipse cx="1270.7" cy="214.2" rx="6.4" ry="7.7" fill="#d8f4f4" opacity="0.9"/>
<ellipse cx="1225.4" cy="216.8" rx="8.9" ry="6.4" fill="#35f01c"/>
<ellipse cx="1260.5" cy="233.4" rx="7" ry="7" fill="#35f01c"/>
<ellipse cx="1230.5" cy="242.4" rx="7.7" ry="6.4" fill="#35f01c"/>
<ellipse cx="1268.8" cy="261.5" rx="6.4" ry="6.4" fill="#35f01c"/>
<ellipse cx="1307.8" cy="179.1" rx="1.5" ry="3.2" fill="#ff1fd6"/>
</g>
<rect x="1232.4" y="170.8" width="74.1" height="15.3" fill="#000"/>
<text x="1233.7" y="183.6" font-size="17.5" fill="#3fe6f0" textLength="63.9" lengthAdjust="spacingAndGlyphs">1-nuclei</text>
</g>
<clipPath id="m7"><rect x="1103.1" y="267.9" width="108.8" height="99.7"/></clipPath>
<g clip-path="url(#m7)">
<rect x="1103.1" y="267.9" width="108.8" height="99.7" fill="#0a0505"/>
<rect x="1103.1" y="267.9" width="108.8" height="99.7" filter="url(#texsm)"/>
<g filter="url(#bl3)">
<ellipse cx="1156.3" cy="316.2" rx="24.3" ry="17.9" fill="#f8ec14" stroke="#f8ec14" stroke-width="2" opacity="0.9199999999999999" fill-opacity="0.8"/>
<ellipse cx="1116.7" cy="320.1" rx="8.9" ry="8.9" fill="#f41414" stroke="#f41414" stroke-width="2" opacity="0.575" fill-opacity="0.8"/>
</g>
<g filter="url(#bl1)">
<ellipse cx="1148" cy="311.1" rx="5.1" ry="5.1" fill="#ff70b0"/>
<ellipse cx="1171.7" cy="311.1" rx="5.8" ry="5.8" fill="#ff70b0" opacity="0.9"/>
<ellipse cx="1141" cy="327.7" rx="5.1" ry="5.1" fill="#ff70b0" opacity="0.9"/>
<ellipse cx="1119.3" cy="322.6" rx="5.8" ry="5.1" fill="#35f01c"/>
<ellipse cx="1184.5" cy="350.7" rx="6.1" ry="6.1" fill="#ff1fd6"/>
<ellipse cx="1209.4" cy="357.1" rx="5.1" ry="6.4" fill="#ff1fd6"/>
<ellipse cx="1139.7" cy="291.9" rx="6.4" ry="3.2" fill="#3fe6f0" opacity="0.3"/>
<ellipse cx="1128.2" cy="307.3" rx="4.5" ry="3.8" fill="#35f01c" opacity="0.4"/>
</g>
<rect x="1117.7" y="271.2" width="72.5" height="15.6" fill="#000"/>
<text x="1121.2" y="284.3" font-size="17.5" fill="#ff28e0" textLength="68.4" lengthAdjust="spacingAndGlyphs">3-nuclei</text>
</g>
<clipPath id="m8"><rect x="1216.2" y="267.9" width="108.8" height="99.7"/></clipPath>
<g clip-path="url(#m8)">
<rect x="1216.2" y="267.9" width="108.8" height="99.7" fill="#0a0505"/>
<rect x="1216.2" y="267.9" width="108.8" height="99.7" filter="url(#texsm)"/>
<g filter="url(#bl3)">
<ellipse cx="1266.2" cy="316.2" rx="15.3" ry="19.2" fill="#f41414" stroke="#f41414" stroke-width="2" opacity="1" fill-opacity="0.8"/>
<ellipse cx="1299.5" cy="295.8" rx="16.6" ry="12.8" fill="#f41414" stroke="#f41414" stroke-width="2" opacity="0.8049999999999999" fill-opacity="0.8"/>
<ellipse cx="1286.7" cy="317.5" rx="12.8" ry="10.2" fill="#f41414" stroke="#f41414" stroke-width="2" opacity="0.575" fill-opacity="0.8"/>
<ellipse cx="1254.7" cy="362.2" rx="42.2" ry="23" fill="#000"/>
<ellipse cx="1299.5" cy="353.3" rx="3.2" ry="11.5" fill="#f8ec14" stroke="#f8ec14" stroke-width="2" opacity="0.9199999999999999" fill-opacity="0.8"/>
<ellipse cx="1314.8" cy="354.6" rx="3.8" ry="11.5" fill="#f8ec14" stroke="#f8ec14" stroke-width="2" opacity="0.69" fill-opacity="0.8"/>
</g>
<g filter="url(#bl1)">
<ellipse cx="1266.2" cy="317.5" rx="5.8" ry="10.2" fill="#ff1fd6"/>
<ellipse cx="1240.7" cy="320.1" rx="8.9" ry="4.5" fill="#3fe6f0" opacity="0.5"/>
<ellipse cx="1234.9" cy="334.1" rx="5.1" ry="5.1" fill="#ff1fd6" opacity="0.6"/>
<ellipse cx="1216.4" cy="338" rx="2.6" ry="3.8" fill="#ff1fd6" opacity="0.8"/>
<ellipse cx="1253.5" cy="267.9" rx="5.1" ry="1.5" fill="#ff1fd6"/>
<ellipse cx="1281.6" cy="267.9" rx="5.1" ry="1.5" fill="#ff1fd6"/>
</g>
<rect x="1232.4" y="270.2" width="74.8" height="16.6" fill="#000"/>
<text x="1233.4" y="284.3" font-size="17.5" fill="#ff28e0" textLength="67.3" lengthAdjust="spacingAndGlyphs">2-nuclei</text>
</g>
<clipPath id="m9"><rect x="1103.1" y="369.3" width="108.8" height="99.9"/></clipPath>
<g clip-path="url(#m9)">
<rect x="1103.1" y="369.3" width="108.8" height="99.9" fill="#0a0505"/>
<rect x="1103.1" y="369.3" width="108.8" height="99.9" filter="url(#texsm)"/>
<g filter="url(#bl3)">
<ellipse cx="1155.1" cy="410.8" rx="19.2" ry="15.3" fill="#f8ec14" stroke="#f8ec14" stroke-width="2" opacity="1" fill-opacity="0.8"/>
<ellipse cx="1184.5" cy="426.1" rx="25.6" ry="15.3" fill="#f8ec14" stroke="#f8ec14" stroke-width="2" opacity="0.9199999999999999" fill-opacity="0.8"/>
<ellipse cx="1124.4" cy="441.5" rx="20.4" ry="10.2" fill="#f8ec14" stroke="#f8ec14" stroke-width="2" opacity="0.9199999999999999" fill-opacity="0.8"/>
<ellipse cx="1171.7" cy="451.7" rx="25.6" ry="7.7" fill="#f41414" stroke="#f41414" stroke-width="2" opacity="0.345" fill-opacity="0.8"/>
</g>
<g filter="url(#bl1)">
<ellipse cx="1150" cy="407" rx="7.7" ry="10.2" fill="#b8f020" opacity="0.9"/>
<ellipse cx="1183.2" cy="423.6" rx="10.2" ry="7.7" fill="#b8f020" opacity="0.9"/>
<ellipse cx="1125.7" cy="441.5" rx="6.4" ry="6.4" fill="#b8f020" opacity="0.9"/>
</g>
<rect x="1117.7" y="374.4" width="75.7" height="17.3" fill="#000"/>
<text x="1121.2" y="390.4" font-size="17.5" fill="#6af01c" textLength="68.4" lengthAdjust="spacingAndGlyphs">5-nuclei</text>
</g>
<clipPath id="m10"><rect x="1216.2" y="369.3" width="108.8" height="99.9"/></clipPath>
<g clip-path="url(#m10)">
<rect x="1216.2" y="369.3" width="108.8" height="99.9" fill="#0a0505"/>
<rect x="1216.2" y="369.3" width="108.8" height="99.9" filter="url(#texsm)"/>
<g filter="url(#bl3)">
<ellipse cx="1263.7" cy="413.4" rx="19.2" ry="16.6" fill="#f41414" stroke="#f41414" stroke-width="2" opacity="1" fill-opacity="0.8"/>
<ellipse cx="1286.7" cy="430" rx="15.3" ry="7.7" fill="#f41414" stroke="#f41414" stroke-width="2" opacity="0.9199999999999999" fill-opacity="0.8"/>
<ellipse cx="1233" cy="432.5" rx="10.2" ry="15.3" fill="#000"/>
</g>
<g filter="url(#bl1)">
<ellipse cx="1266.2" cy="412.1" rx="5.8" ry="8.3" fill="#d8f4f4"/>
<ellipse cx="1251.5" cy="421" rx="5.8" ry="5.8" fill="#3fe6f0" opacity="0.8"/>
<ellipse cx="1280.3" cy="431.9" rx="6.4" ry="6.4" fill="#3fe6f0"/>
<ellipse cx="1292.4" cy="430.6" rx="6.4" ry="6.4" fill="#3fe6f0"/>
<ellipse cx="1313.5" cy="456.8" rx="8.9" ry="6.4" fill="#3fe6f0"/>
<ellipse cx="1225.4" cy="403.1" rx="7.7" ry="6.4" fill="#ff1fd6"/>
<ellipse cx="1244.5" cy="401.9" rx="6.4" ry="6.4" fill="#ff1fd6" opacity="0.8"/>
<ellipse cx="1305.9" cy="399.3" rx="7" ry="7" fill="#ff1fd6"/>
<ellipse cx="1316.1" cy="392.9" rx="5.8" ry="5.8" fill="#ff1fd6"/>
<ellipse cx="1268.8" cy="393.5" rx="5.1" ry="3.8" fill="#ff1fd6"/>
<ellipse cx="1216.4" cy="378.8" rx="3.2" ry="3.2" fill="#ff1fd6"/>
<ellipse cx="1322.5" cy="382.7" rx="3.2" ry="3.8" fill="#3fe6f0" opacity="0.6"/>
</g>
<rect x="1231.7" y="375" width="74.1" height="15.3" fill="#000"/>
<text x="1233.4" y="390.4" font-size="17.5" fill="#3fe6f0" textLength="68" lengthAdjust="spacingAndGlyphs">5-nuclei</text>
</g>
<clipPath id="m11"><rect x="1826.1" y="61.9" width="109.9" height="100"/></clipPath>
<g clip-path="url(#m11)">
<rect x="1826.1" y="61.9" width="109.9" height="100" fill="#0a0505"/>
<rect x="1826.1" y="61.9" width="109.9" height="100" filter="url(#texsm)"/>
<g filter="url(#bl3)">
<ellipse cx="1840.6" cy="114.6" rx="16.6" ry="15.3" fill="#f8ec14" stroke="#f8ec14" stroke-width="2" opacity="1" fill-opacity="0.8"/>
<ellipse cx="1864.8" cy="94.1" rx="14.1" ry="10.2" fill="#f8ec14" stroke="#f8ec14" stroke-width="2" opacity="1" fill-opacity="0.8"/>
<ellipse cx="1881.5" cy="112" rx="10.2" ry="10.2" fill="#f8ec14" stroke="#f8ec14" stroke-width="2" opacity="0.9199999999999999" fill-opacity="0.8"/>
<ellipse cx="1928.7" cy="71.1" rx="7.7" ry="8.9" fill="#f8ec14" stroke="#f8ec14" stroke-width="2" opacity="1" fill-opacity="0.8"/>
<ellipse cx="1904.5" cy="127.3" rx="14.1" ry="16.6" fill="#f41414" stroke="#f41414" stroke-width="2" opacity="0.8049999999999999" fill-opacity="0.8"/>
<ellipse cx="1859.7" cy="142.7" rx="10.2" ry="10.2" fill="#f41414" stroke="#f41414" stroke-width="2" opacity="0.575" fill-opacity="0.8"/>
<ellipse cx="1927.5" cy="132.5" rx="6.4" ry="10.2" fill="#f41414" stroke="#f41414" stroke-width="2" opacity="0.575" fill-opacity="0.8"/>
<ellipse cx="1840.6" cy="113.3" rx="6.4" ry="5.8" fill="#000"/>
</g>
<g filter="url(#bl1)">
<ellipse cx="1870.6" cy="129.3" rx="9.6" ry="6.4" fill="#35f01c"/>
<ellipse cx="1894.9" cy="147.2" rx="6.6" ry="6.6" fill="#35f01c"/>
<ellipse cx="1845.7" cy="90.3" rx="4.5" ry="4.5" fill="#ff1fd6" opacity="0.5"/>
<ellipse cx="1916" cy="104.3" rx="5.1" ry="5.1" fill="#ff1fd6" opacity="0.4"/>
<ellipse cx="1870" cy="144" rx="5.1" ry="5.1" fill="#ff1fd6" opacity="0.5"/>
<ellipse cx="1848.2" cy="150.4" rx="5.1" ry="5.1" fill="#ff1fd6" opacity="0.6"/>
<ellipse cx="1910.8" cy="158" rx="5.8" ry="3.8" fill="#ff1fd6" opacity="0.8"/>
<ellipse cx="1932.6" cy="122.2" rx="3.8" ry="5.1" fill="#ff1fd6"/>
<ellipse cx="1840.6" cy="64.7" rx="5.1" ry="3.8" fill="#ff1fd6"/>
<ellipse cx="1840.6" cy="132.5" rx="4.5" ry="3.8" fill="#35f01c" opacity="0.4"/>
<ellipse cx="1859.7" cy="154.2" rx="4.5" ry="4.5" fill="#35f01c" opacity="0.5"/>
<ellipse cx="1878.9" cy="106.9" rx="4.5" ry="4.5" fill="#d8f4f4" opacity="0.6"/>
<ellipse cx="1829.1" cy="71.1" rx="3.2" ry="5.1" fill="#35f01c" opacity="0.8"/>
</g>
<rect x="1843.1" y="66.3" width="78" height="17.4" fill="#000"/>
<text x="1842.5" y="80.7" font-size="17.5" fill="#3fe6f0" textLength="63.3" lengthAdjust="spacingAndGlyphs">1-nuclei</text>
</g>
<clipPath id="m12"><rect x="1939.2" y="61.9" width="109.9" height="100"/></clipPath>
<g clip-path="url(#m12)">
<rect x="1939.2" y="61.9" width="109.9" height="100" fill="#0a0505"/>
<rect x="1939.2" y="61.9" width="109.9" height="100" filter="url(#texsm)"/>
<g filter="url(#bl3)">
<ellipse cx="1956.9" cy="124.8" rx="14.1" ry="15.3" fill="#f8ec14" stroke="#f8ec14" stroke-width="2" opacity="1" fill-opacity="0.8"/>
<ellipse cx="1983.7" cy="121" rx="10.2" ry="11.5" fill="#f8ec14" stroke="#f8ec14" stroke-width="2" opacity="1" fill-opacity="0.8"/>
<ellipse cx="1995.2" cy="146.5" rx="11.5" ry="14.1" fill="#f8ec14" stroke="#f8ec14" stroke-width="2" opacity="1" fill-opacity="0.8"/>
<ellipse cx="2034.8" cy="91.6" rx="11.5" ry="11.5" fill="#f8ec14" stroke="#f8ec14" stroke-width="2" opacity="0.9199999999999999" fill-opacity="0.8"/>
<ellipse cx="2022" cy="122.2" rx="7.7" ry="8.9" fill="#f8ec14" stroke="#f8ec14" stroke-width="2" opacity="0.575" fill-opacity="0.8"/>
<ellipse cx="2000.3" cy="103.1" rx="16.6" ry="16.6" fill="#f41414" stroke="#f41414" stroke-width="2" opacity="0.8049999999999999" fill-opacity="0.8"/>
<ellipse cx="1958.1" cy="149.1" rx="15.3" ry="11.5" fill="#f41414" stroke="#f41414" stroke-width="2" opacity="1" fill-opacity="0.8"/>
</g>
<g filter="url(#bl1)">
<ellipse cx="1957.5" cy="126.7" rx="6.4" ry="6.4" fill="#35f01c"/>
<ellipse cx="1983.7" cy="119.7" rx="6.1" ry="6.1" fill="#35f01c"/>
<ellipse cx="1993.9" cy="145.2" rx="5.8" ry="5.8" fill="#b8f020" opacity="0.7"/>
<ellipse cx="2032.3" cy="91.6" rx="5.1" ry="5.1" fill="#3fe6f0" opacity="0.9"/>
<ellipse cx="1991.4" cy="95.4" rx="7" ry="7" fill="#d8f4f4"/>
<ellipse cx="2020.1" cy="99.9" rx="5.1" ry="5.1" fill="#3fe6f0"/>
<ellipse cx="1958.8" cy="149.1" rx="6.4" ry="10.2" fill="#ff1fd6"/>
<ellipse cx="1972.2" cy="87.1" rx="5.1" ry="3.2" fill="#ff1fd6"/>
<ellipse cx="1945.4" cy="94.1" rx="4.5" ry="4.5" fill="#ff1fd6" opacity="0.4"/>
</g>
<rect x="1957.1" y="66.3" width="77.4" height="17.4" fill="#000"/>
<text x="1957.1" y="80.7" font-size="17.5" fill="#3fe6f0" textLength="65.2" lengthAdjust="spacingAndGlyphs">1-nuclei</text>
</g>
<clipPath id="m13"><rect x="1826.1" y="165.7" width="109.9" height="100.3"/></clipPath>
<g clip-path="url(#m13)">
<rect x="1826.1" y="165.7" width="109.9" height="100.3" fill="#0a0505"/>
<rect x="1826.1" y="165.7" width="109.9" height="100.3" filter="url(#texsm)"/>
<g filter="url(#bl3)">
<ellipse cx="1884" cy="209.1" rx="11.5" ry="12.8" fill="#f8ec14" stroke="#f8ec14" stroke-width="2" opacity="1" fill-opacity="0.8"/>
<ellipse cx="1866.1" cy="232.1" rx="15.3" ry="16.6" fill="#f8ec14" stroke="#f8ec14" stroke-width="2" opacity="1" fill-opacity="0.8"/>
<ellipse cx="1875.1" cy="250" rx="6.4" ry="7.7" fill="#f8ec14" stroke="#f8ec14" stroke-width="2" opacity="1" fill-opacity="0.8"/>
<ellipse cx="1913.4" cy="195.1" rx="12.8" ry="11.5" fill="#f8ec14" stroke="#f8ec14" stroke-width="2" opacity="0.575" fill-opacity="0.8"/>
<ellipse cx="1924.9" cy="173.4" rx="10.2" ry="10.2" fill="#f8ec14" stroke="#f8ec14" stroke-width="2" opacity="0.575" fill-opacity="0.8"/>
<ellipse cx="1924.9" cy="259" rx="11.5" ry="6.4" fill="#f8ec14" stroke="#f8ec14" stroke-width="2" opacity="1" fill-opacity="0.8"/>
<ellipse cx="1872.5" cy="262.8" rx="12.8" ry="5.1" fill="#f41414" stroke="#f41414" stroke-width="2" opacity="1" fill-opacity="0.8"/>
</g>
<g filter="url(#bl1)">
<ellipse cx="1880.8" cy="210.4" rx="4.5" ry="4.5" fill="#b8f020" opacity="0.6"/>
<ellipse cx="1866.1" cy="233.4" rx="5.1" ry="5.1" fill="#b8f020" opacity="0.6"/>
<ellipse cx="1919.8" cy="221.9" rx="5.8" ry="5.8" fill="#35f01c"/>
<ellipse cx="1845" cy="191.9" rx="6.1" ry="5.1" fill="#ff1fd6"/>
<ellipse cx="1835.4" cy="210.4" rx="6.1" ry="6.1" fill="#ff1fd6"/>
<ellipse cx="1867.4" cy="198.9" rx="5.1" ry="5.1" fill="#ff1fd6" opacity="0.8"/>
<ellipse cx="1839.3" cy="237.3" rx="6.4" ry="6.4" fill="#ff1fd6"/>
<ellipse cx="1919.8" cy="168.9" rx="5.8" ry="4.5" fill="#ff1fd6"/>
<ellipse cx="1930.7" cy="192.5" rx="5.8" ry="5.8" fill="#ff1fd6" opacity="0.7"/>
<ellipse cx="1910.8" cy="193.8" rx="5.1" ry="5.1" fill="#ff70b0" opacity="0.7"/>
<ellipse cx="1850.8" cy="208.5" rx="3.8" ry="3.2" fill="#3fe6f0" opacity="0.6"/>
<ellipse cx="1840.6" cy="262.8" rx="5.1" ry="2.6" fill="#ff1fd6"/>
</g>
<rect x="1835.2" y="169.5" width="78" height="17.9" fill="#000"/>
<text x="1841.2" y="184.9" font-size="17.5" fill="#6af01c" textLength="67.7" lengthAdjust="spacingAndGlyphs">2-nuclei</text>
</g>
<clipPath id="m14"><rect x="1939.2" y="165.7" width="109.9" height="100.3"/></clipPath>
<g clip-path="url(#m14)">
<rect x="1939.2" y="165.7" width="109.9" height="100.3" fill="#0a0505"/>
<rect x="1939.2" y="165.7" width="109.9" height="100.3" filter="url(#texsm)"/>
<g filter="url(#bl3)">
<ellipse cx="1991.4" cy="214.2" rx="16.6" ry="16.6" fill="#f41414" stroke="#f41414" stroke-width="2" opacity="0.69" fill-opacity="0.8"/>
<ellipse cx="1945.4" cy="177.2" rx="8.9" ry="10.2" fill="#f8ec14" stroke="#f8ec14" stroke-width="2" opacity="1" fill-opacity="0.8"/>
<ellipse cx="1941.5" cy="211.7" rx="3.8" ry="8.9" fill="#f8ec14" stroke="#f8ec14" stroke-width="2" opacity="1" fill-opacity="0.8"/>
<ellipse cx="1955.6" cy="259" rx="15.3" ry="6.4" fill="#f8ec14" stroke="#f8ec14" stroke-width="2" opacity="0.575" fill-opacity="0.8"/>
</g>
<g filter="url(#bl1)">
<ellipse cx="1992.6" cy="213.6" rx="7" ry="7" fill="#35f01c"/>
<ellipse cx="1961.3" cy="207.2" rx="5.8" ry="5.8" fill="#3fe6f0"/>
<ellipse cx="1960.7" cy="189.3" rx="6.4" ry="2.6" fill="#3fe6f0"/>
<ellipse cx="1985.6" cy="254.5" rx="12.8" ry="5.8" fill="#35f01c"/>
<ellipse cx="1942.8" cy="232.1" rx="3.8" ry="6.4" fill="#35f01c" opacity="0.7"/>
<ellipse cx="1993.9" cy="191.9" rx="5.1" ry="4.5" fill="#ff1fd6" opacity="0.7"/>
<ellipse cx="2035.4" cy="195.1" rx="5.8" ry="5.8" fill="#ff1fd6" opacity="0.8"/>
<ellipse cx="2031" cy="236" rx="6.4" ry="6.4" fill="#ff1fd6" opacity="0.9"/>
<ellipse cx="2016.9" cy="219.4" rx="5.1" ry="5.1" fill="#ff1fd6" opacity="0.4"/>
<ellipse cx="2033.5" cy="221.9" rx="5.1" ry="5.1" fill="#ff1fd6" opacity="0.4"/>
<ellipse cx="1955.6" cy="215.5" rx="5.1" ry="5.1" fill="#ff1fd6" opacity="0.3"/>
<ellipse cx="2019.5" cy="260.3" rx="6.4" ry="3.8" fill="#35f01c" opacity="0.8"/>
</g>
<rect x="1952.4" y="170.2" width="77.6" height="17.3" fill="#000"/>
<text x="1956.6" y="184.9" font-size="17.5" fill="#6af01c" textLength="65.7" lengthAdjust="spacingAndGlyphs">1-nuclei</text>
</g>
<clipPath id="m15"><rect x="1826.1" y="267.9" width="109.9" height="100.7"/></clipPath>
<g clip-path="url(#m15)">
<rect x="1826.1" y="267.9" width="109.9" height="100.7" fill="#0a0505"/>
<rect x="1826.1" y="267.9" width="109.9" height="100.7" filter="url(#texsm)"/>
<g filter="url(#bl3)">
<ellipse cx="1872.5" cy="313.7" rx="19.2" ry="17.9" fill="#f8ec14" stroke="#f8ec14" stroke-width="2" opacity="1" fill-opacity="0.8"/>
<ellipse cx="1872.5" cy="346.9" rx="19.2" ry="16.6" fill="#f8ec14" stroke="#f8ec14" stroke-width="2" opacity="1" fill-opacity="0.8"/>
<ellipse cx="1901.9" cy="343.1" rx="10.2" ry="8.9" fill="#f8ec14" stroke="#f8ec14" stroke-width="2" opacity="0.9199999999999999" fill-opacity="0.8"/>
<ellipse cx="1866.1" cy="362.2" rx="12.8" ry="6.4" fill="#f8ec14" stroke="#f8ec14" stroke-width="2" opacity="1" fill-opacity="0.8"/>
<ellipse cx="1923.6" cy="349.5" rx="15.3" ry="16.6" fill="#f41414" stroke="#f41414" stroke-width="2" opacity="0.9199999999999999" fill-opacity="0.8"/>
<ellipse cx="1931.3" cy="317.5" rx="5.1" ry="12.8" fill="#f41414" stroke="#f41414" stroke-width="2" opacity="0.9199999999999999" fill-opacity="0.8"/>
</g>
<g filter="url(#bl1)">
<ellipse cx="1875.1" cy="313.7" rx="5.8" ry="5.8" fill="#3fe6f0"/>
<ellipse cx="1858.5" cy="302.2" rx="5.1" ry="5.1" fill="#d8f4f4" opacity="0.7"/>
<ellipse cx="1880.2" cy="331.6" rx="5.1" ry="5.1" fill="#d8f4f4" opacity="0.6"/>
<ellipse cx="1908.3" cy="346.9" rx="5.1" ry="5.1" fill="#d8f4f4" opacity="0.8"/>
<ellipse cx="1864.8" cy="293.2" rx="5.1" ry="3.2" fill="#3fe6f0"/>
<ellipse cx="1912.8" cy="316.2" rx="5.8" ry="5.8" fill="#ff1fd6" opacity="0.9"/>
<ellipse cx="1911.5" cy="299" rx="5.1" ry="5.1" fill="#ff1fd6" opacity="0.5"/>
<ellipse cx="1839.9" cy="301.5" rx="5.8" ry="5.8" fill="#ff1fd6" opacity="0.5"/>
<ellipse cx="1830.3" cy="362.2" rx="5.1" ry="5.1" fill="#ff1fd6" opacity="0.7"/>
<ellipse cx="1891.7" cy="366.7" rx="6.4" ry="2.6" fill="#ff1fd6"/>
<ellipse cx="1891.7" cy="342.4" rx="3.2" ry="3.2" fill="#35f01c"/>
</g>
<rect x="1835.2" y="272.8" width="78" height="17.9" fill="#000"/>
<text x="1841.6" y="287.9" font-size="17.5" fill="#3fe6f0" textLength="68" lengthAdjust="spacingAndGlyphs">4-nuclei</text>
</g>
<clipPath id="m16"><rect x="1939.2" y="267.9" width="109.9" height="100.7"/></clipPath>
<g clip-path="url(#m16)">
<rect x="1939.2" y="267.9" width="109.9" height="100.7" fill="#0a0505"/>
<rect x="1939.2" y="267.9" width="109.9" height="100.7" filter="url(#texsm)"/>
<g filter="url(#bl3)">
<ellipse cx="1993.9" cy="317.5" rx="20.4" ry="14.1" fill="#f41414" stroke="#f41414" stroke-width="2" opacity="1" fill-opacity="0.8"/>
<ellipse cx="2037.4" cy="346.9" rx="14.1" ry="19.2" fill="#f8ec14" stroke="#f8ec14" stroke-width="2" opacity="1" fill-opacity="0.8"/>
<ellipse cx="2025.9" cy="302.2" rx="12.8" ry="10.2" fill="#f41414" stroke="#f41414" stroke-width="2" opacity="0.45999999999999996" fill-opacity="0.8"/>
</g>
<g filter="url(#bl1)">
<ellipse cx="1985.6" cy="318.1" rx="5.8" ry="5.8" fill="#b8f020"/>
<ellipse cx="2003.9" cy="316.2" rx="5.8" ry="5.8" fill="#b8f020"/>
<ellipse cx="2016.3" cy="316.9" rx="5.8" ry="5.8" fill="#ff1fd6"/>
<ellipse cx="2038.6" cy="284.3" rx="6.4" ry="6.4" fill="#ff1fd6" opacity="0.8"/>
<ellipse cx="2046.3" cy="305.4" rx="3.8" ry="3.8" fill="#ff1fd6"/>
<ellipse cx="1959.4" cy="328.4" rx="5.1" ry="5.1" fill="#ff1fd6" opacity="0.4"/>
<ellipse cx="1996.5" cy="332.8" rx="5.8" ry="3.8" fill="#ff1fd6" opacity="0.6"/>
<ellipse cx="1944.1" cy="362.2" rx="5.1" ry="5.1" fill="#ff1fd6" opacity="0.6"/>
<ellipse cx="2036.7" cy="316.9" rx="4.5" ry="4.5" fill="#3fe6f0" opacity="0.4"/>
<ellipse cx="1999" cy="350.7" rx="5.1" ry="5.1" fill="#3fe6f0" opacity="0.4"/>
</g>
<rect x="1953" y="271.5" width="78" height="18.1" fill="#000"/>
<text x="1957.1" y="287.9" font-size="17.5" fill="#6af01c" textLength="68.1" lengthAdjust="spacingAndGlyphs">2-nuclei</text>
</g>
<clipPath id="m17"><rect x="1826.1" y="368.9" width="109.9" height="100.7"/></clipPath>
<g clip-path="url(#m17)">
<rect x="1826.1" y="368.9" width="109.9" height="100.7" fill="#0a0505"/>
<rect x="1826.1" y="368.9" width="109.9" height="100.7" filter="url(#texsm)"/>
<g filter="url(#bl3)">
<ellipse cx="1863.6" cy="413.4" rx="19.2" ry="16.6" fill="#f8ec14" stroke="#f8ec14" stroke-width="2" opacity="1" fill-opacity="0.8"/>
<ellipse cx="1886.6" cy="398" rx="12.8" ry="7.7" fill="#f8ec14" stroke="#f8ec14" stroke-width="2" opacity="1" fill-opacity="0.8"/>
<ellipse cx="1840.6" cy="445.3" rx="14.1" ry="11.5" fill="#f8ec14" stroke="#f8ec14" stroke-width="2" opacity="0.9199999999999999" fill-opacity="0.8"/>
<ellipse cx="1886.6" cy="451.7" rx="15.3" ry="12.8" fill="#f8ec14" stroke="#f8ec14" stroke-width="2" opacity="1" fill-opacity="0.8"/>
<ellipse cx="1914.7" cy="447.9" rx="12.8" ry="12.8" fill="#f8ec14" stroke="#f8ec14" stroke-width="2" opacity="1" fill-opacity="0.8"/>
<ellipse cx="1831.6" cy="381.4" rx="6.4" ry="7.7" fill="#f8ec14" stroke="#f8ec14" stroke-width="2" opacity="1" fill-opacity="0.8"/>
<ellipse cx="1838" cy="464.5" rx="12.8" ry="5.1" fill="#f41414" stroke="#f41414" stroke-width="2" opacity="1" fill-opacity="0.8"/>
</g>
<g filter="url(#bl1)">
<ellipse cx="1832.9" cy="400.6" rx="6.4" ry="7.7" fill="#35f01c"/>
<ellipse cx="1923.6" cy="376.3" rx="6.4" ry="6.4" fill="#35f01c"/>
<ellipse cx="1907" cy="372.5" rx="7.7" ry="3.8" fill="#35f01c"/>
<ellipse cx="1866.1" cy="438.9" rx="7" ry="7" fill="#35f01c"/>
<ellipse cx="1886.6" cy="453" rx="6.4" ry="6.4" fill="#b8f020"/>
<ellipse cx="1913.4" cy="449.1" rx="5.1" ry="5.1" fill="#b8f020"/>
<ellipse cx="1866.1" cy="404.4" rx="5.1" ry="5.1" fill="#b8f020" opacity="0.8"/>
<ellipse cx="1859.7" cy="417.2" rx="5.1" ry="5.1" fill="#b8f020" opacity="0.8"/>
<ellipse cx="1893" cy="413.4" rx="7" ry="5.8" fill="#3fe6f0"/>
<ellipse cx="1914.7" cy="408.2" rx="5.1" ry="5.1" fill="#3fe6f0" opacity="0.9"/>
<ellipse cx="1900.6" cy="427.4" rx="5.1" ry="5.1" fill="#3fe6f0" opacity="0.9"/>
<ellipse cx="1930" cy="412.1" rx="5.1" ry="5.1" fill="#3fe6f0" opacity="0.8"/>
<ellipse cx="1908.3" cy="394.2" rx="4.5" ry="3.8" fill="#3fe6f0" opacity="0.7"/>
<ellipse cx="1834.2" cy="422.3" rx="5.8" ry="5.8" fill="#3fe6f0" opacity="0.4"/>
</g>
<rect x="1833.5" y="373.7" width="78" height="17.9" fill="#000"/>
<text x="1841.2" y="388.4" font-size="17.5" fill="#6af01c" textLength="67.7" lengthAdjust="spacingAndGlyphs">7-nuclei</text>
</g>
<clipPath id="m18"><rect x="1939.2" y="370.2" width="109.9" height="100"/></clipPath>
<g clip-path="url(#m18)">
<rect x="1939.2" y="370.2" width="109.9" height="100" fill="#0a0505"/>
<rect x="1939.2" y="370.2" width="109.9" height="100" filter="url(#texsm)"/>
<g filter="url(#bl3)">
<ellipse cx="1953" cy="419.7" rx="16.6" ry="31.9" fill="#f8ec14" stroke="#f8ec14" stroke-width="2" opacity="1" fill-opacity="0.8"/>
<ellipse cx="1991.4" cy="413.4" rx="21.7" ry="20.4" fill="#f41414" stroke="#f41414" stroke-width="2" opacity="0.9199999999999999" fill-opacity="0.8"/>
</g>
<g filter="url(#bl1)">
<ellipse cx="1978.6" cy="408.9" rx="5.1" ry="6.4" fill="#d8f4f4"/>
<ellipse cx="1993.9" cy="419.7" rx="5.8" ry="6.4" fill="#d8f4f4"/>
<ellipse cx="2000.9" cy="431.9" rx="5.8" ry="5.8" fill="#d8f4f4"/>
<ellipse cx="1959.4" cy="417.2" rx="5.1" ry="5.1" fill="#d8f4f4" opacity="0.8"/>
<ellipse cx="2018.2" cy="409.5" rx="4.5" ry="4.5" fill="#3fe6f0" opacity="0.5"/>
<ellipse cx="1987.5" cy="445.3" rx="6.1" ry="5.1" fill="#35f01c"/>
<ellipse cx="2015" cy="465.8" rx="7" ry="5.8" fill="#35f01c"/>
<ellipse cx="2002.2" cy="454.9" rx="5.8" ry="5.8" fill="#ff1fd6"/>
<ellipse cx="1987.5" cy="467" rx="4.5" ry="3.2" fill="#ff1fd6"/>
</g>
<rect x="1954.3" y="373.7" width="78" height="17.9" fill="#000"/>
<text x="1957.1" y="388.4" font-size="17.5" fill="#3fe6f0" textLength="69.8" lengthAdjust="spacingAndGlyphs">3-nuclei</text>
</g>
<text x="14.2" y="544.6" font-size="37" fill="#000" font-weight="bold" stroke="#000" stroke-width="1.0">c</text>
<rect x="82.5" y="545.4" width="24" height="11.4" fill="#F2BE60" stroke="#221a14" stroke-width="1.2"/>
<rect x="82.5" y="571.3" width="24" height="11.4" fill="#F07C12" stroke="#221a14" stroke-width="1.2"/>
<text x="112.9" y="556.8" font-size="18" textLength="532.7" lengthAdjust="spacingAndGlyphs"><tspan>Low recombination: average clone size of 2.83 (</tspan><tspan font-style="italic">n</tspan><tspan font-style="normal"> = 60 clones)</tspan></text>
<text x="112.9" y="582.7" font-size="18" textLength="543.5" lengthAdjust="spacingAndGlyphs"><tspan>High recombination: average clone size of 2.94 (</tspan><tspan font-style="italic">n</tspan><tspan font-style="normal"> = 189 clones)</tspan></text>
<rect x="109.7" y="729.3" width="12" height="113.7" fill="#F2BE60" stroke="#221a14" stroke-width="1.2"/>
<rect x="129.2" y="750.4" width="12" height="92.6" fill="#F07C12" stroke="#221a14" stroke-width="1.2"/>
<rect x="161.5" y="672.5" width="12" height="170.5" fill="#F2BE60" stroke="#221a14" stroke-width="1.2"/>
<rect x="181" y="638.4" width="12" height="204.6" fill="#F07C12" stroke="#221a14" stroke-width="1.2"/>
<rect x="213.3" y="710.6" width="12" height="132.4" fill="#F2BE60" stroke="#221a14" stroke-width="1.2"/>
<rect x="232.8" y="717.4" width="12" height="125.6" fill="#F07C12" stroke="#221a14" stroke-width="1.2"/>
<rect x="265.1" y="776.5" width="12" height="66.5" fill="#F2BE60" stroke="#221a14" stroke-width="1.2"/>
<rect x="284.6" y="795.3" width="12" height="47.7" fill="#F07C12" stroke="#221a14" stroke-width="1.2"/>
<rect x="316.9" y="786.2" width="12" height="56.8" fill="#F2BE60" stroke="#221a14" stroke-width="1.2"/>
<rect x="336.4" y="789" width="12" height="54" fill="#F07C12" stroke="#221a14" stroke-width="1.2"/>
<rect x="368.6" y="833.3" width="12" height="9.7" fill="#F2BE60" stroke="#221a14" stroke-width="1.2"/>
<rect x="388.1" y="828.2" width="12" height="14.8" fill="#F07C12" stroke="#221a14" stroke-width="1.2"/>
<rect x="439.9" y="833.9" width="12" height="9.1" fill="#F07C12" stroke="#221a14" stroke-width="1.2"/>
<rect x="472.2" y="824.2" width="12" height="18.8" fill="#F2BE60" stroke="#221a14" stroke-width="1.2"/>
<rect x="491.7" y="831.1" width="12" height="11.9" fill="#F07C12" stroke="#221a14" stroke-width="1.2"/>
<rect x="543.5" y="837.3" width="12" height="5.7" fill="#1b7a1b" stroke="#221a14" stroke-width="1.2"/>
<line x1="102.8" y1="615.2" x2="102.8" y2="843" stroke="#1a1a1a" stroke-width="1.4"/>
<line x1="93.3" y1="786.2" x2="102.8" y2="786.2" stroke="#1a1a1a" stroke-width="1.3299999999999998"/>
<line x1="93.3" y1="729.3" x2="102.8" y2="729.3" stroke="#1a1a1a" stroke-width="1.3299999999999998"/>
<line x1="93.3" y1="672.5" x2="102.8" y2="672.5" stroke="#1a1a1a" stroke-width="1.3299999999999998"/>
<line x1="93.3" y1="615.7" x2="102.8" y2="615.7" stroke="#1a1a1a" stroke-width="1.3299999999999998"/>
<line x1="93.2" y1="843" x2="563.2" y2="843" stroke="#1a1a1a" stroke-width="1.4"/>
<line x1="125.1" y1="843" x2="125.1" y2="852" stroke="#1a1a1a" stroke-width="1.3299999999999998"/>
<line x1="176.9" y1="843" x2="176.9" y2="852" stroke="#1a1a1a" stroke-width="1.3299999999999998"/>
<line x1="228.7" y1="843" x2="228.7" y2="852" stroke="#1a1a1a" stroke-width="1.3299999999999998"/>
<line x1="280.5" y1="843" x2="280.5" y2="852" stroke="#1a1a1a" stroke-width="1.3299999999999998"/>
<line x1="332.3" y1="843" x2="332.3" y2="852" stroke="#1a1a1a" stroke-width="1.3299999999999998"/>
<line x1="384" y1="843" x2="384" y2="852" stroke="#1a1a1a" stroke-width="1.3299999999999998"/>
<line x1="435.8" y1="843" x2="435.8" y2="852" stroke="#1a1a1a" stroke-width="1.3299999999999998"/>
<line x1="487.6" y1="843" x2="487.6" y2="852" stroke="#1a1a1a" stroke-width="1.3299999999999998"/>
<line x1="539.4" y1="843" x2="539.4" y2="852" stroke="#1a1a1a" stroke-width="1.3299999999999998"/>
<circle cx="115.7" cy="728.7" r="2.9" fill="#fff" stroke="#111" stroke-width="1.2"/>
<circle cx="135.2" cy="749.8" r="2.9" fill="#fff" stroke="#111" stroke-width="1.2"/>
<circle cx="167.5" cy="671.9" r="2.9" fill="#fff" stroke="#111" stroke-width="1.2"/>
<circle cx="187" cy="637.8" r="2.9" fill="#fff" stroke="#111" stroke-width="1.2"/>
<circle cx="219.3" cy="710" r="2.9" fill="#fff" stroke="#111" stroke-width="1.2"/>
<circle cx="238.8" cy="716.8" r="2.9" fill="#fff" stroke="#111" stroke-width="1.2"/>
<circle cx="271.1" cy="775.9" r="2.9" fill="#fff" stroke="#111" stroke-width="1.2"/>
<circle cx="290.6" cy="794.7" r="2.9" fill="#fff" stroke="#111" stroke-width="1.2"/>
<circle cx="322.9" cy="785.6" r="2.9" fill="#fff" stroke="#111" stroke-width="1.2"/>
<circle cx="342.4" cy="788.4" r="2.9" fill="#fff" stroke="#111" stroke-width="1.2"/>
<circle cx="374.6" cy="832.7" r="2.9" fill="#fff" stroke="#111" stroke-width="1.2"/>
<circle cx="394.1" cy="827.6" r="2.9" fill="#fff" stroke="#111" stroke-width="1.2"/>
<circle cx="426.4" cy="842.4" r="2.9" fill="#fff" stroke="#111" stroke-width="1.2"/>
<circle cx="445.9" cy="833.3" r="2.9" fill="#fff" stroke="#111" stroke-width="1.2"/>
<circle cx="478.2" cy="823.6" r="2.9" fill="#fff" stroke="#111" stroke-width="1.2"/>
<circle cx="497.7" cy="830.5" r="2.9" fill="#fff" stroke="#111" stroke-width="1.2"/>
<circle cx="549.5" cy="836.7" r="2.9" fill="#fff" stroke="#111" stroke-width="1.2"/>
<text x="74.6" y="849.6" font-size="18.5" textLength="11.1" lengthAdjust="spacingAndGlyphs">0</text>
<text x="66.5" y="792.8" font-size="18.5" textLength="19.2" lengthAdjust="spacingAndGlyphs">10</text>
<text x="63.5" y="735.9" font-size="18.5" textLength="22.2" lengthAdjust="spacingAndGlyphs">20</text>
<text x="63.5" y="679.1" font-size="18.5" textLength="22.2" lengthAdjust="spacingAndGlyphs">30</text>
<text x="63.5" y="622.3" font-size="18.5" textLength="22.2" lengthAdjust="spacingAndGlyphs">40</text>
<text x="121" y="871.7" font-size="18.5" textLength="8.1" lengthAdjust="spacingAndGlyphs">1</text>
<text x="171.3" y="871.7" font-size="18.5" textLength="11.1" lengthAdjust="spacingAndGlyphs">2</text>
<text x="223.1" y="871.7" font-size="18.5" textLength="11.1" lengthAdjust="spacingAndGlyphs">3</text>
<text x="274.9" y="871.7" font-size="18.5" textLength="11.1" lengthAdjust="spacingAndGlyphs">4</text>
<text x="326.7" y="871.7" font-size="18.5" textLength="11.1" lengthAdjust="spacingAndGlyphs">5</text>
<text x="378.5" y="871.7" font-size="18.5" textLength="11.1" lengthAdjust="spacingAndGlyphs">6</text>
<text x="430.3" y="871.7" font-size="18.5" textLength="11.1" lengthAdjust="spacingAndGlyphs">7</text>
<text x="482.1" y="871.7" font-size="18.5" textLength="11.1" lengthAdjust="spacingAndGlyphs">8</text>
<text x="529.1" y="871.7" font-size="18.5" textLength="20.6" lengthAdjust="spacingAndGlyphs">≥9</text>
<text x="278.5" y="903.8" font-size="22" textLength="107.9" lengthAdjust="spacingAndGlyphs">Clone size</text>
<text font-size="22" textLength="233.1" lengthAdjust="spacingAndGlyphs" transform="translate(18.2 848.1) rotate(-90)">Percent of clones with</text>
<text font-size="22" textLength="142.9" lengthAdjust="spacingAndGlyphs" transform="translate(45 801) rotate(-90)">indicated size</text>
<text x="319" y="657.5" font-size="18" textLength="161.3" lengthAdjust="spacingAndGlyphs">Hepatocytes clonal</text>
<text x="318" y="677.8" font-size="18" textLength="164.8" lengthAdjust="spacingAndGlyphs">expansion P1 to P20</text>
<text x="661.8" y="544.7" font-size="37" fill="#000" font-weight="bold" stroke="#000" stroke-width="1.0">d</text>
<rect x="774.2" y="792.6" width="47.3" height="51.4" fill="#F5E2B8" stroke="#221a14" stroke-width="1.3"/>
<rect x="847.6" y="691.6" width="47.3" height="152.4" fill="#F5E2B8" stroke="#221a14" stroke-width="1.3"/>
<line x1="797.7" y1="788.6" x2="797.7" y2="796" stroke="#111" stroke-width="1.3"/>
<line x1="785.4" y1="788.6" x2="810" y2="788.6" stroke="#111" stroke-width="1.3"/>
<line x1="785.4" y1="796" x2="810" y2="796" stroke="#111" stroke-width="1.3"/>
<line x1="871.1" y1="659.5" x2="871.1" y2="721.8" stroke="#111" stroke-width="1.3"/>
<line x1="858.8" y1="659.5" x2="883.4" y2="659.5" stroke="#111" stroke-width="1.3"/>
<line x1="858.8" y1="721.8" x2="883.4" y2="721.8" stroke="#111" stroke-width="1.3"/>
<circle cx="783.5" cy="788.9" r="3.2" fill="#fff" stroke="#111" stroke-width="1.3"/>
<circle cx="797.7" cy="790" r="3.2" fill="#fff" stroke="#111" stroke-width="1.3"/>
<circle cx="810.7" cy="788.9" r="3.2" fill="#fff" stroke="#111" stroke-width="1.3"/>
<circle cx="797.7" cy="797.4" r="3.2" fill="#fff" stroke="#111" stroke-width="1.3"/>
<circle cx="871.1" cy="651.7" r="3.2" fill="#fff" stroke="#111" stroke-width="1.3"/>
<circle cx="871.1" cy="679.3" r="3.2" fill="#fff" stroke="#111" stroke-width="1.3"/>
<circle cx="863.6" cy="715.4" r="3.2" fill="#fff" stroke="#111" stroke-width="1.3"/>
<circle cx="878.5" cy="715.4" r="3.2" fill="#fff" stroke="#111" stroke-width="1.3"/>
<line x1="748.8" y1="615" x2="748.8" y2="844" stroke="#1a1a1a" stroke-width="1.4"/>
<line x1="740.6" y1="798.3" x2="748.8" y2="798.3" stroke="#1a1a1a" stroke-width="1.3299999999999998"/>
<line x1="740.6" y1="752.5" x2="748.8" y2="752.5" stroke="#1a1a1a" stroke-width="1.3299999999999998"/>
<line x1="740.6" y1="706.8" x2="748.8" y2="706.8" stroke="#1a1a1a" stroke-width="1.3299999999999998"/>
<line x1="740.6" y1="661.1" x2="748.8" y2="661.1" stroke="#1a1a1a" stroke-width="1.3299999999999998"/>
<line x1="740.6" y1="615.4" x2="748.8" y2="615.4" stroke="#1a1a1a" stroke-width="1.3299999999999998"/>
<line x1="740.6" y1="844" x2="921.4" y2="844" stroke="#1a1a1a" stroke-width="1.4"/>
<line x1="797.7" y1="844" x2="797.7" y2="852" stroke="#1a1a1a" stroke-width="1.3299999999999998"/>
<line x1="871.1" y1="844" x2="871.1" y2="852" stroke="#1a1a1a" stroke-width="1.3299999999999998"/>
<text x="723.9" y="850.6" font-size="18.5" textLength="11.1" lengthAdjust="spacingAndGlyphs">0</text>
<text x="712.8" y="804.9" font-size="18.5" textLength="22.2" lengthAdjust="spacingAndGlyphs">50</text>
<text x="704.7" y="759.1" font-size="18.5" textLength="30.3" lengthAdjust="spacingAndGlyphs">100</text>
<text x="704.7" y="713.4" font-size="18.5" textLength="30.3" lengthAdjust="spacingAndGlyphs">150</text>
<text x="701.7" y="667.7" font-size="18.5" textLength="33.3" lengthAdjust="spacingAndGlyphs">200</text>
<text x="701.7" y="622" font-size="18.5" textLength="33.3" lengthAdjust="spacingAndGlyphs">250</text>
<text x="788.5" y="872.7" font-size="18.5" textLength="18.4" lengthAdjust="spacingAndGlyphs">P1</text>
<text x="854.9" y="872.7" font-size="18.5" textLength="32.5" lengthAdjust="spacingAndGlyphs">P20</text>
<text x="849.8" y="637.9" font-size="22" fill="#e8192c" textLength="43.6" lengthAdjust="spacingAndGlyphs">2.9×</text>
<text font-size="22" textLength="181.8" lengthAdjust="spacingAndGlyphs" transform="translate(681.7 820.5) rotate(-90)">Liver weight (mg)</text>
<text x="1027.2" y="544.7" font-size="37" fill="#000" font-weight="bold" stroke="#000" stroke-width="1.0">e</text>
<line x1="1074.5" y1="537.3" x2="1096.9" y2="537.3" stroke="#c2c31e" stroke-width="1.5"/>
<circle cx="1085.7" cy="537.3" r="3" fill="#fff" stroke="#c2c31e" stroke-width="1.5"/>
<line x1="1074.5" y1="565" x2="1096.9" y2="565" stroke="#f01d23" stroke-width="1.5"/>
<circle cx="1085.7" cy="565" r="3" fill="#fff" stroke="#f01d23" stroke-width="1.5"/>
<text x="1103.5" y="544.1" font-size="18.5" fill="#a9aa16" textLength="421.9" lengthAdjust="spacingAndGlyphs"><tspan font-style="italic">Myc</tspan><tspan font-style="italic" font-size="10.5" dy="-6.7">WT</tspan><tspan font-style="normal" dy="6.7">: average clone size of 2.87 (</tspan><tspan font-style="italic">n</tspan><tspan font-style="normal"> = 249 clones)</tspan></text>
<text x="1103.5" y="572.2" font-size="18.5" fill="#ee1c25" textLength="421.9" lengthAdjust="spacingAndGlyphs"><tspan font-style="italic">Myc</tspan><tspan font-style="italic" font-size="10.5" dy="-6.7">KO</tspan><tspan font-style="normal" dy="6.7">: average clone size of 2.25 (</tspan><tspan font-style="italic">n</tspan><tspan font-style="normal"> = 556 clones)</tspan></text>
<line x1="1099.9" y1="605.4" x2="1099.9" y2="843.8" stroke="#1a1a1a" stroke-width="1.4"/>
<line x1="1092.4" y1="796.2" x2="1099.9" y2="796.2" stroke="#1a1a1a" stroke-width="1.3299999999999998"/>
<line x1="1092.4" y1="748.6" x2="1099.9" y2="748.6" stroke="#1a1a1a" stroke-width="1.3299999999999998"/>
<line x1="1092.4" y1="701.1" x2="1099.9" y2="701.1" stroke="#1a1a1a" stroke-width="1.3299999999999998"/>
<line x1="1092.4" y1="653.5" x2="1099.9" y2="653.5" stroke="#1a1a1a" stroke-width="1.3299999999999998"/>
<line x1="1092.4" y1="605.9" x2="1099.9" y2="605.9" stroke="#1a1a1a" stroke-width="1.3299999999999998"/>
<line x1="1092.4" y1="843.8" x2="1457.7" y2="843.8" stroke="#1a1a1a" stroke-width="1.4"/>
<line x1="1117.5" y1="843.8" x2="1117.5" y2="851.3" stroke="#1a1a1a" stroke-width="1.3299999999999998"/>
<line x1="1153.2" y1="843.8" x2="1153.2" y2="851.3" stroke="#1a1a1a" stroke-width="1.3299999999999998"/>
<line x1="1188.8" y1="843.8" x2="1188.8" y2="851.3" stroke="#1a1a1a" stroke-width="1.3299999999999998"/>
<line x1="1224.5" y1="843.8" x2="1224.5" y2="851.3" stroke="#1a1a1a" stroke-width="1.3299999999999998"/>
<line x1="1260.1" y1="843.8" x2="1260.1" y2="851.3" stroke="#1a1a1a" stroke-width="1.3299999999999998"/>
<line x1="1295.8" y1="843.8" x2="1295.8" y2="851.3" stroke="#1a1a1a" stroke-width="1.3299999999999998"/>
<line x1="1331.4" y1="843.8" x2="1331.4" y2="851.3" stroke="#1a1a1a" stroke-width="1.3299999999999998"/>
<line x1="1367" y1="843.8" x2="1367" y2="851.3" stroke="#1a1a1a" stroke-width="1.3299999999999998"/>
<line x1="1402.7" y1="843.8" x2="1402.7" y2="851.3" stroke="#1a1a1a" stroke-width="1.3299999999999998"/>
<line x1="1438.3" y1="843.8" x2="1438.3" y2="851.3" stroke="#1a1a1a" stroke-width="1.3299999999999998"/>
<polyline points="1117.5,646.3 1153.2,715.3 1188.8,772.9 1224.5,804.3 1260.1,827.6 1295.8,833.8 1331.4,840 1367,840 1402.7,840.9 1438.3,842.8" fill="none" stroke="#f01d23" stroke-width="1.5" stroke-linejoin="round"/>
<circle cx="1117.5" cy="646.3" r="3" fill="#fff" stroke="#f01d23" stroke-width="1.5"/>
<circle cx="1153.2" cy="715.3" r="3" fill="#fff" stroke="#f01d23" stroke-width="1.5"/>
<circle cx="1188.8" cy="772.9" r="3" fill="#fff" stroke="#f01d23" stroke-width="1.5"/>
<circle cx="1224.5" cy="804.3" r="3" fill="#fff" stroke="#f01d23" stroke-width="1.5"/>
<circle cx="1260.1" cy="827.6" r="3" fill="#fff" stroke="#f01d23" stroke-width="1.5"/>
<circle cx="1295.8" cy="833.8" r="3" fill="#fff" stroke="#f01d23" stroke-width="1.5"/>
<circle cx="1331.4" cy="840" r="3" fill="#fff" stroke="#f01d23" stroke-width="1.5"/>
<circle cx="1367" cy="840" r="3" fill="#fff" stroke="#f01d23" stroke-width="1.5"/>
<circle cx="1402.7" cy="840.9" r="3" fill="#fff" stroke="#f01d23" stroke-width="1.5"/>
<circle cx="1438.3" cy="842.8" r="3" fill="#fff" stroke="#f01d23" stroke-width="1.5"/>
<polyline points="1117.5,762 1153.2,680.1 1188.8,737.2 1224.5,784.8 1260.1,807.6 1295.8,832.4 1331.4,838.1 1367,838.1 1402.7,841.9 1438.3,840" fill="none" stroke="#c2c31e" stroke-width="1.5" stroke-linejoin="round"/>
<circle cx="1117.5" cy="762" r="3" fill="#fff" stroke="#c2c31e" stroke-width="1.5"/>
<circle cx="1153.2" cy="680.1" r="3" fill="#fff" stroke="#c2c31e" stroke-width="1.5"/>
<circle cx="1188.8" cy="737.2" r="3" fill="#fff" stroke="#c2c31e" stroke-width="1.5"/>
<circle cx="1224.5" cy="784.8" r="3" fill="#fff" stroke="#c2c31e" stroke-width="1.5"/>
<circle cx="1260.1" cy="807.6" r="3" fill="#fff" stroke="#c2c31e" stroke-width="1.5"/>
<circle cx="1295.8" cy="832.4" r="3" fill="#fff" stroke="#c2c31e" stroke-width="1.5"/>
<circle cx="1331.4" cy="838.1" r="3" fill="#fff" stroke="#c2c31e" stroke-width="1.5"/>
<circle cx="1367" cy="838.1" r="3" fill="#fff" stroke="#c2c31e" stroke-width="1.5"/>
<circle cx="1402.7" cy="841.9" r="3" fill="#fff" stroke="#c2c31e" stroke-width="1.5"/>
<circle cx="1438.3" cy="840" r="3" fill="#fff" stroke="#c2c31e" stroke-width="1.5"/>
<text x="1074.2" y="850.4" font-size="18.5" textLength="11.1" lengthAdjust="spacingAndGlyphs">0</text>
<text x="1066.1" y="802.8" font-size="18.5" textLength="19.2" lengthAdjust="spacingAndGlyphs">10</text>
<text x="1063.1" y="755.2" font-size="18.5" textLength="22.2" lengthAdjust="spacingAndGlyphs">20</text>
<text x="1063.1" y="707.7" font-size="18.5" textLength="22.2" lengthAdjust="spacingAndGlyphs">30</text>
<text x="1063.1" y="660.1" font-size="18.5" textLength="22.2" lengthAdjust="spacingAndGlyphs">40</text>
<text x="1063.1" y="612.5" font-size="18.5" textLength="22.2" lengthAdjust="spacingAndGlyphs">50</text>
<text x="1113.5" y="871.2" font-size="18.5" textLength="8.1" lengthAdjust="spacingAndGlyphs">1</text>
<text x="1147.6" y="871.2" font-size="18.5" textLength="11.1" lengthAdjust="spacingAndGlyphs">2</text>
<text x="1183.2" y="871.2" font-size="18.5" textLength="11.1" lengthAdjust="spacingAndGlyphs">3</text>
<text x="1218.9" y="871.2" font-size="18.5" textLength="11.1" lengthAdjust="spacingAndGlyphs">4</text>
<text x="1254.5" y="871.2" font-size="18.5" textLength="11.1" lengthAdjust="spacingAndGlyphs">5</text>
<text x="1290.2" y="871.2" font-size="18.5" textLength="11.1" lengthAdjust="spacingAndGlyphs">6</text>
<text x="1325.9" y="871.2" font-size="18.5" textLength="11.1" lengthAdjust="spacingAndGlyphs">7</text>
<text x="1361.5" y="871.2" font-size="18.5" textLength="11.1" lengthAdjust="spacingAndGlyphs">8</text>
<text x="1397.2" y="871.2" font-size="18.5" textLength="11.1" lengthAdjust="spacingAndGlyphs">9</text>
<text x="1424" y="871.2" font-size="18.5" textLength="28.7" lengthAdjust="spacingAndGlyphs">≥10</text>
<text x="1224.2" y="902.6" font-size="22" textLength="107.7" lengthAdjust="spacingAndGlyphs">Clone size</text>
<text font-size="22" textLength="181.9" lengthAdjust="spacingAndGlyphs" transform="translate(1046.2 816.1) rotate(-90)">Percent of clones</text>
<text x="1244.5" y="653.6" font-size="18" textLength="167" lengthAdjust="spacingAndGlyphs">Hepatocytes clonal</text>
<text x="1242.4" y="675" font-size="18" textLength="170.6" lengthAdjust="spacingAndGlyphs">Expansion P1 to P20</text>
<text x="1594.3" y="544.7" font-size="37" fill="#000" font-weight="bold" stroke="#000" stroke-width="1.0">f</text>
<line x1="1640.9" y1="539.7" x2="1663" y2="539.7" stroke="#c2c31e" stroke-width="1.5"/>
<circle cx="1652" cy="539.7" r="3" fill="#fff" stroke="#c2c31e" stroke-width="1.5"/>
<line x1="1640.9" y1="566.5" x2="1663" y2="566.5" stroke="#f01d23" stroke-width="1.5"/>
<circle cx="1652" cy="566.5" r="3" fill="#fff" stroke="#f01d23" stroke-width="1.5"/>
<text x="1671.3" y="546.2" font-size="18.5" fill="#a9aa16" textLength="336" lengthAdjust="spacingAndGlyphs"><tspan font-style="italic">Myc</tspan><tspan font-style="italic" font-size="10.5" dy="-6.7">WT</tspan><tspan font-style="normal" dy="6.7"> (</tspan><tspan font-style="italic">n</tspan><tspan font-style="normal"> = 249 clones), 187% more cells</tspan></text>
<text x="1671.3" y="573.1" font-size="18.5" fill="#ee1c25" textLength="336.9" lengthAdjust="spacingAndGlyphs"><tspan font-style="italic">Myc</tspan><tspan font-style="italic" font-size="10.5" dy="-6.7">KO</tspan><tspan font-style="normal" dy="6.7"> (</tspan><tspan font-style="italic">n</tspan><tspan font-style="normal"> = 556 clones), 125% more cells</tspan></text>
<line x1="1674.3" y1="610.7" x2="1674.3" y2="845.6" stroke="#1a1a1a" stroke-width="1.4"/>
<line x1="1666.8" y1="798.7" x2="1674.3" y2="798.7" stroke="#1a1a1a" stroke-width="1.3299999999999998"/>
<line x1="1666.8" y1="751.8" x2="1674.3" y2="751.8" stroke="#1a1a1a" stroke-width="1.3299999999999998"/>
<line x1="1666.8" y1="705" x2="1674.3" y2="705" stroke="#1a1a1a" stroke-width="1.3299999999999998"/>
<line x1="1666.8" y1="658.1" x2="1674.3" y2="658.1" stroke="#1a1a1a" stroke-width="1.3299999999999998"/>
<line x1="1666.8" y1="611.2" x2="1674.3" y2="611.2" stroke="#1a1a1a" stroke-width="1.3299999999999998"/>
<line x1="1666.8" y1="845.6" x2="2026.7" y2="845.6" stroke="#1a1a1a" stroke-width="1.4"/>
<line x1="1693.7" y1="845.6" x2="1693.7" y2="853.1" stroke="#1a1a1a" stroke-width="1.3299999999999998"/>
<line x1="1732.7" y1="845.6" x2="1732.7" y2="853.1" stroke="#1a1a1a" stroke-width="1.3299999999999998"/>
<line x1="1771.8" y1="845.6" x2="1771.8" y2="853.1" stroke="#1a1a1a" stroke-width="1.3299999999999998"/>
<line x1="1810.8" y1="845.6" x2="1810.8" y2="853.1" stroke="#1a1a1a" stroke-width="1.3299999999999998"/>
<line x1="1849.8" y1="845.6" x2="1849.8" y2="853.1" stroke="#1a1a1a" stroke-width="1.3299999999999998"/>
<line x1="1888.9" y1="845.6" x2="1888.9" y2="853.1" stroke="#1a1a1a" stroke-width="1.3299999999999998"/>
<line x1="1927.9" y1="845.6" x2="1927.9" y2="853.1" stroke="#1a1a1a" stroke-width="1.3299999999999998"/>
<line x1="1966.9" y1="845.6" x2="1966.9" y2="853.1" stroke="#1a1a1a" stroke-width="1.3299999999999998"/>
<line x1="2005.9" y1="845.6" x2="2005.9" y2="853.1" stroke="#1a1a1a" stroke-width="1.3299999999999998"/>
<polyline points="1693.7,724.5 1732.7,711.9 1771.8,734.2 1810.8,784.5 1849.8,797.2 1888.9,821.4 1927.9,817.5 1966.9,826.5 2005.9,831.3" fill="none" stroke="#f01d23" stroke-width="1.5" stroke-linejoin="round"/>
<circle cx="1693.7" cy="724.5" r="3" fill="#fff" stroke="#f01d23" stroke-width="1.5"/>
<circle cx="1732.7" cy="711.9" r="3" fill="#fff" stroke="#f01d23" stroke-width="1.5"/>
<circle cx="1771.8" cy="734.2" r="3" fill="#fff" stroke="#f01d23" stroke-width="1.5"/>
<circle cx="1810.8" cy="784.5" r="3" fill="#fff" stroke="#f01d23" stroke-width="1.5"/>
<circle cx="1849.8" cy="797.2" r="3" fill="#fff" stroke="#f01d23" stroke-width="1.5"/>
<circle cx="1888.9" cy="821.4" r="3" fill="#fff" stroke="#f01d23" stroke-width="1.5"/>
<circle cx="1927.9" cy="817.5" r="3" fill="#fff" stroke="#f01d23" stroke-width="1.5"/>
<circle cx="1966.9" cy="826.5" r="3" fill="#fff" stroke="#f01d23" stroke-width="1.5"/>
<circle cx="2005.9" cy="831.3" r="3" fill="#fff" stroke="#f01d23" stroke-width="1.5"/>
<polyline points="1693.7,690.9 1732.7,644.4 1771.8,678.3 1810.8,709.1 1849.8,791.8 1888.9,813.7 1927.9,808.1 1966.9,831.3 2005.9,804.3" fill="none" stroke="#c2c31e" stroke-width="1.5" stroke-linejoin="round"/>
<circle cx="1693.7" cy="690.9" r="3" fill="#fff" stroke="#c2c31e" stroke-width="1.5"/>
<circle cx="1732.7" cy="644.4" r="3" fill="#fff" stroke="#c2c31e" stroke-width="1.5"/>
<circle cx="1771.8" cy="678.3" r="3" fill="#fff" stroke="#c2c31e" stroke-width="1.5"/>
<circle cx="1810.8" cy="709.1" r="3" fill="#fff" stroke="#c2c31e" stroke-width="1.5"/>
<circle cx="1849.8" cy="791.8" r="3" fill="#fff" stroke="#c2c31e" stroke-width="1.5"/>
<circle cx="1888.9" cy="813.7" r="3" fill="#fff" stroke="#c2c31e" stroke-width="1.5"/>
<circle cx="1927.9" cy="808.1" r="3" fill="#fff" stroke="#c2c31e" stroke-width="1.5"/>
<circle cx="1966.9" cy="831.3" r="3" fill="#fff" stroke="#c2c31e" stroke-width="1.5"/>
<circle cx="2005.9" cy="804.3" r="3" fill="#fff" stroke="#c2c31e" stroke-width="1.5"/>
<text x="1648.3" y="852.2" font-size="18.5" textLength="11.1" lengthAdjust="spacingAndGlyphs">0</text>
<text x="1637.2" y="805.3" font-size="18.5" textLength="22.2" lengthAdjust="spacingAndGlyphs">25</text>
<text x="1637.2" y="758.4" font-size="18.5" textLength="22.2" lengthAdjust="spacingAndGlyphs">50</text>
<text x="1637.2" y="711.6" font-size="18.5" textLength="22.2" lengthAdjust="spacingAndGlyphs">75</text>
<text x="1629.1" y="664.7" font-size="18.5" textLength="30.3" lengthAdjust="spacingAndGlyphs">100</text>
<text x="1629.1" y="617.8" font-size="18.5" textLength="30.3" lengthAdjust="spacingAndGlyphs">125</text>
<text x="1688.2" y="873.6" font-size="18.5" textLength="11.1" lengthAdjust="spacingAndGlyphs">2</text>
<text x="1727.2" y="873.6" font-size="18.5" textLength="11.1" lengthAdjust="spacingAndGlyphs">3</text>
<text x="1766.2" y="873.6" font-size="18.5" textLength="11.1" lengthAdjust="spacingAndGlyphs">4</text>
<text x="1805.2" y="873.6" font-size="18.5" textLength="11.1" lengthAdjust="spacingAndGlyphs">5</text>
<text x="1844.3" y="873.6" font-size="18.5" textLength="11.1" lengthAdjust="spacingAndGlyphs">6</text>
<text x="1883.3" y="873.6" font-size="18.5" textLength="11.1" lengthAdjust="spacingAndGlyphs">7</text>
<text x="1922.3" y="873.6" font-size="18.5" textLength="11.1" lengthAdjust="spacingAndGlyphs">8</text>
<text x="1961.4" y="873.6" font-size="18.5" textLength="11.1" lengthAdjust="spacingAndGlyphs">9</text>
<text x="1991.6" y="873.6" font-size="18.5" textLength="28.7" lengthAdjust="spacingAndGlyphs">≥10</text>
<text x="1796.5" y="903.2" font-size="22" textLength="107.4" lengthAdjust="spacingAndGlyphs">Clone size</text>
<text font-size="22" textLength="290.7" lengthAdjust="spacingAndGlyphs" transform="translate(1612.5 874.2) rotate(-90)">Normalized no. of new cells</text>
<text x="1854.1" y="652.7" font-size="18" textLength="166.1" lengthAdjust="spacingAndGlyphs">Hepatocytes clonal</text>
<text x="1851.1" y="674.4" font-size="18" textLength="172.1" lengthAdjust="spacingAndGlyphs">expansion P1 to P20</text>
<text x="17.6" y="966.5" font-size="37" fill="#000" font-weight="bold" stroke="#000" stroke-width="1.0">g</text>
<polygon points="68.8,972.1 71.6,963.1 80,957.5 89.8,954.7 98.2,956.7 106.6,960.3 115.1,964.2 123.5,968.7 131.9,972.1 143.1,974.3 152.9,974.9 159.4,977.1 158.8,981.9 152.9,986.1 144.5,989.5 134.7,990.1 126.3,990.6 117.9,989.5 109.4,986.1 101,985 92.6,988.9 84.2,990.1 76.3,987.5 70.7,981.9" fill="#D9791C" stroke="#D9791C" stroke-width="1.5" stroke-linejoin="round"/>
<polygon points="69.6,971.5 72.4,963.7 80.5,958.3 89.8,955.8 98.2,957.5 106.6,961.1 115.1,965.1 123.5,969.6 131.9,972.9 143.1,975.2 152.9,975.7 157.1,977.7 152.9,982.2 144.5,985.6 134.7,986.1 126.3,986.7 117.9,985.6 109.4,982.2 101,981.1 92.6,985 84.2,986.1 77.2,983.9 71.8,979.4" fill="#ECA425"/>
<polyline points="74.4,974.9 87,970.7 101,972.1 117.9,979.1 131.9,981.9 145.9,981.1" fill="none" stroke="#D0701A" stroke-width="0.7"/>
<polyline points="84.2,959.5 89.2,969.3 95.4,972.1" fill="none" stroke="#D0701A" stroke-width="0.6"/>
<text x="175.2" y="987.2" font-size="28" textLength="703" lengthAdjust="spacingAndGlyphs">Postnatal pancreas, induction at P1 and collection at P20</text>
<text font-size="24" font-style="italic" textLength="188.9" lengthAdjust="spacingAndGlyphs" transform="translate(60.3 1331.3) rotate(-90)">Tg-CAG-FlpOERT2</text>
<text font-size="24" font-style="italic" textLength="37.9" lengthAdjust="spacingAndGlyphs" transform="translate(105.2 1231.7) rotate(-90)">iFlp</text>
<text font-size="13.5" fill="#ec1c9c" font-style="italic" textLength="73.8" lengthAdjust="spacingAndGlyphs" transform="translate(94 1192.4) rotate(-90)">H2B-Cherry</text>
<text font-size="13.5" textLength="7.9" lengthAdjust="spacingAndGlyphs" transform="translate(94 1118) rotate(-90)">/</text>
<text font-size="13.5" fill="#3ab54a" font-style="italic" textLength="24.7" lengthAdjust="spacingAndGlyphs" transform="translate(94 1109.6) rotate(-90)">GFP</text>
<text font-size="13.5" textLength="7.9" lengthAdjust="spacingAndGlyphs" transform="translate(94 1084.3) rotate(-90)">/</text>
<text font-size="13.5" fill="#29a9e0" font-style="italic" textLength="56.7" lengthAdjust="spacingAndGlyphs" transform="translate(94 1075.9) rotate(-90)">Cerulean</text>
<text font-size="24" font-style="italic" textLength="36.5" lengthAdjust="spacingAndGlyphs" transform="translate(105.2 1433.7) rotate(-90)">iFlp</text>
<text font-size="13.5" fill="#ee2a2a" font-style="italic" textLength="44.9" lengthAdjust="spacingAndGlyphs" transform="translate(94 1395.8) rotate(-90)">MTomato</text>
<text font-size="13.5" textLength="33.7" lengthAdjust="spacingAndGlyphs" transform="translate(94 1350.4) rotate(-90)">-Cre</text>
<text font-size="13.5" textLength="5.1" lengthAdjust="spacingAndGlyphs" transform="translate(94 1311.1) rotate(-90)">/</text>
<text font-size="13.5" fill="#d2da26" font-style="italic" textLength="36.5" lengthAdjust="spacingAndGlyphs" transform="translate(94 1300.4) rotate(-90)">MYFP</text>
<text font-size="24" textLength="78.6" lengthAdjust="spacingAndGlyphs" transform="translate(131.9 1163.8) rotate(-90)">Control</text>
<text font-size="24" textLength="121.2" lengthAdjust="spacingAndGlyphs" transform="translate(131.9 1410.4) rotate(-90)"><tspan font-style="italic">Myc</tspan><tspan font-style="normal"> floxed</tspan></text>
<rect x="144.2" y="1012.2" width="57.7" height="450.5" fill="#262626"/>
<text x="150.1" y="1033.8" font-size="22" fill="#dcdcdc" textLength="47.7" lengthAdjust="spacingAndGlyphs">DAPI</text>
<text font-size="25" textLength="188.9" lengthAdjust="spacingAndGlyphs" transform="translate(166.1 1331.3) rotate(-90)"><tspan fill="#ff1a1a">MbTomato</tspan><tspan fill="#f5e616"> MbYFP</tspan></text>
<text font-size="25" textLength="388.7" lengthAdjust="spacingAndGlyphs" transform="translate(192.2 1428.1) rotate(-90)"><tspan fill="#ff28e0">H2B–Cherry</tspan><tspan fill="#111">,</tspan><tspan fill="#2bf21c"> H2B–GFP</tspan><tspan fill="#111">,</tspan><tspan fill="#3db7e9"> H2B–Cerulean</tspan></text>
<defs><filter id="texdapi_t" x="0" y="0" width="100%" height="100%" color-interpolation-filters="sRGB"><feTurbulence type="fractalNoise" baseFrequency="0.27" numOctaves="2" seed="4" result="n"/><feColorMatrix in="n" type="matrix" values="0 0 0 0 0.55  0 0 0 0 0.53  0 0 0 0 0.53  0 5.0 0 0 -2.75" result="g"/><feColorMatrix in="n" type="matrix" values="0 0 0 0 0.5  0 0 0 0 0.05  0 0 0 0 0.05  1.6 0 0 0 -0.78" result="r"/><feMerge><feMergeNode in="g"/><feMergeNode in="r"/></feMerge></filter><filter id="texdapi_b" x="0" y="0" width="100%" height="100%" color-interpolation-filters="sRGB"><feTurbulence type="fractalNoise" baseFrequency="0.27" numOctaves="2" seed="7" result="n"/><feColorMatrix in="n" type="matrix" values="0 0 0 0 0.88  0 0 0 0 0.8  0 0 0 0 0.78  0 5.5 0 0 -3.0" result="g"/><feColorMatrix in="n" type="matrix" values="0 0 0 0 0.5  0 0 0 0 0.05  0 0 0 0 0.05  1.0 0 0 0 -0.6" result="r"/><feMerge><feMergeNode in="g"/><feMergeNode in="r"/></feMerge></filter><filter id="texdark" x="0" y="0" width="100%" height="100%" color-interpolation-filters="sRGB"><feTurbulence type="fractalNoise" baseFrequency="0.08" numOctaves="3" seed="8" result="n"/><feColorMatrix in="n" type="matrix" values="0 0 0 0 0.1  0 0 0 0 0.1  0 0 0 0 0.1  0 0.5 0 0 -0.3" result="g"/><feColorMatrix in="n" type="matrix" values="0 0 0 0 0.35  0 0 0 0 0.05  0 0 0 0 0.02  1.6 0 0 0 -0.72" result="r"/><feMerge><feMergeNode in="g"/><feMergeNode in="r"/></feMerge></filter><filter id="texinv" x="0" y="0" width="100%" height="100%" color-interpolation-filters="sRGB"><feTurbulence type="fractalNoise" baseFrequency="0.08" numOctaves="3" seed="8" result="n"/><feColorMatrix in="n" type="matrix" values="0 0 0 0 1  0 0 0 0 1  0 0 0 0 1  0 0.3 0 0 -0.3" result="g"/><feColorMatrix in="n" type="matrix" values="0 0 0 0 0.95  0 0 0 0 0.6  0 0 0 0 0.6  1.0 0 0 0 -0.58" result="r"/><feMerge><feMergeNode in="g"/><feMergeNode in="r"/></feMerge></filter></defs>
<clipPath id="m19"><rect x="206.9" y="1013.2" width="225.1" height="224.1"/></clipPath>
<g clip-path="url(#m19)">
<rect x="206.9" y="1013.2" width="225.1" height="224.1" fill="#050202"/>
<rect x="206.9" y="1013.2" width="225.1" height="224.1" filter="url(#texdapi_t)"/>
<polygon points="206.9,1144.4 236.6,1154.3 256.4,1146.9 281.2,1129.6 303.5,1114.7 330.7,1112.2 333.2,1122.1 301,1137 286.1,1161.8 266.3,1194 251.5,1218.7 239.1,1237.3 206.9,1237.3" fill="#000" filter="url(#bl2)"/>
<polyline points="268.8,1013.2 278.7,1030.5 286.1,1050.3 288.6,1075.1 310.9,1090 325.8,1094.9" fill="none" stroke="#000" stroke-width="14" stroke-linecap="round" stroke-linejoin="round" filter="url(#bl2)"/>
<polyline points="355.5,1013.2 345.6,1033 325.8,1047.9" fill="none" stroke="#000" stroke-width="10" stroke-linecap="round" stroke-linejoin="round" filter="url(#bl2)"/>
<polyline points="405,1129.6 424.8,1142 432,1166.7" fill="none" stroke="#000" stroke-width="22" stroke-linecap="round" stroke-linejoin="round" filter="url(#bl2)"/>
<polyline points="432,1075.1 417.4,1082.5 402.5,1087.5" fill="none" stroke="#000" stroke-width="14" stroke-linecap="round" stroke-linejoin="round" filter="url(#bl2)"/>
<g fill="#d81414" opacity="0.55" filter="url(#bl2)"><ellipse cx="256.9" cy="1086.7" rx="25.3" ry="16.8"/><ellipse cx="271.8" cy="1054.5" rx="12.6" ry="18.9"/><ellipse cx="306.4" cy="1062" rx="14.7" ry="12.6"/><ellipse cx="348.5" cy="1069.4" rx="23.2" ry="21"/><ellipse cx="388.1" cy="1059.5" rx="16.8" ry="23.2"/><ellipse cx="405.5" cy="1099.1" rx="14.7" ry="10.5"/><ellipse cx="249.5" cy="1118.9" rx="16.8" ry="12.6"/><ellipse cx="373.3" cy="1143.7" rx="16.8" ry="12.6"/><ellipse cx="385.7" cy="1111.5" rx="8.4" ry="10.5"/><ellipse cx="261.9" cy="1222.9" rx="14.7" ry="10.5"/><ellipse cx="291.6" cy="1024.8" rx="12.6" ry="8.4"/><ellipse cx="419.8" cy="1040.4" rx="8.4" ry="12.6"/></g>
<g fill="#f6ea14" opacity="0.92" filter="url(#bl1)" stroke="#f6ea14" stroke-width="1.2" fill-opacity="0.88"><ellipse cx="367.8" cy="1171.7" rx="14.9" ry="12.4"/><ellipse cx="313.4" cy="1176.6" rx="9.9" ry="12.4"/><ellipse cx="424.8" cy="1223.7" rx="9.9" ry="12.4"/><ellipse cx="212.3" cy="1049.6" rx="7.4" ry="11.1"/><ellipse cx="245.8" cy="1028.6" rx="7.4" ry="9.9"/><ellipse cx="320.6" cy="1034.7" rx="5.4" ry="8.7"/><ellipse cx="351" cy="1052.1" rx="14.9" ry="17.3"/><ellipse cx="395.6" cy="1053.3" rx="12.4" ry="7.4"/><ellipse cx="222.3" cy="1099.1" rx="7.4" ry="9.9"/><ellipse cx="297.8" cy="1090.5" rx="5.4" ry="8.7"/><ellipse cx="312.6" cy="1099.1" rx="9.9" ry="7.4"/><ellipse cx="248.2" cy="1109" rx="8.7" ry="9.9"/><ellipse cx="427.8" cy="1064.5" rx="5" ry="7.4"/><ellipse cx="333.7" cy="1143.7" rx="7.4" ry="8.7"/><ellipse cx="370.8" cy="1163.5" rx="17.3" ry="13.6"/><ellipse cx="420.3" cy="1156.1" rx="5" ry="7.4"/><ellipse cx="308.9" cy="1175.9" rx="7.4" ry="7.4"/><ellipse cx="323.8" cy="1166" rx="9.9" ry="9.9"/><ellipse cx="353.5" cy="1178.4" rx="7.4" ry="7.4"/><ellipse cx="266.8" cy="1215.5" rx="9.9" ry="14.9"/><ellipse cx="291.6" cy="1200.6" rx="5" ry="9.9"/><ellipse cx="311.4" cy="1215.5" rx="9.9" ry="9.9"/><ellipse cx="395.6" cy="1200.6" rx="7.4" ry="6.2"/><ellipse cx="420.3" cy="1203.1" rx="12.4" ry="19.8"/><ellipse cx="358.4" cy="1193.2" rx="7.4" ry="7.4"/></g>
<g filter="url(#bl1)">
<path d="M239.4 1014.4h0M250.4 1013.4h0M246.3 1013.3h0M255.3 1016.5h0M244.8 1019h0M248.5 1017.5h0M258.7 1058.5h0M247.1 1068.9h0M241.6 1057.5h0M252.2 1068.7h0M245.9 1050.4h0M253.7 1056.2h0M246.9 1062.6h0M251 1061.5h0M248.8 1057.2h0M256.2 1064.9h0M252.2 1050.7h0M242.2 1053.4h0M243.3 1061.3h0M242.4 1066.4h0M250.1 1065.5h0M249.1 1053.3h0M215.2 1093.1h0M207.8 1095.6h0M212.7 1088h0M210.9 1091.5h0M213.5 1097.7h0M216.4 1088.8h0M355 1119.6h0M382.1 1123h0M336.7 1127.4h0M370.4 1110.9h0M359.4 1109.7h0M372.8 1130.2h0M371.1 1121.2h0M346 1124.5h0M367.4 1128.7h0M373.5 1124.8h0M378.9 1114.4h0M359.7 1123h0M350.3 1118.7h0M360.6 1133.2h0M362.9 1120.6h0M356 1132.1h0M341.7 1129.2h0M366.1 1123.6h0M348.1 1115.5h0M335.1 1115.4h0M335.7 1122.6h0M339.8 1114.3h0M353 1129.3h0M343.7 1111.6h0M352.4 1109.7h0M384.2 1117.6h0M341.7 1120h0M363.3 1129.4h0M352.8 1125.3h0M357.7 1115.1h0M358.8 1127.8h0M371.3 1115.7h0M367.6 1118.3h0M367 1113.6h0M379.2 1125.4h0M351.4 1113.8h0M363.8 1110.3h0M378.4 1120.7h0M332.4 1120.3h0M347.6 1129.6h0M361.5 1116.7h0M342.3 1125.1h0M349.6 1123.4h0M374.1 1118.1h0M368.1 1132.9h0M391 1124.4h0M382.7 1133.8h0M376.1 1122.9h0M379.4 1127.1h0M389.4 1130.3h0M386.9 1118h0M382.3 1129.8h0M395.1 1125.8h0M375.3 1128.1h0M385.9 1132h0M381.9 1120.8h0M384.7 1126.8h0M390.1 1120.6h0M394.1 1121.3h0M392.9 1132.7h0M378.2 1132.7h0M389.5 1134.1h0M290.2 1155.3h0M283.3 1176.1h0M291.5 1160.4h0M286.8 1168.9h0M282.7 1161.1h0M290.8 1168.4h0M281.6 1156h0M277.9 1158.2h0M286 1152.6h0M291.1 1172.6h0M281.8 1167h0M277.9 1174.3h0M276.1 1165.5h0M287.1 1160h0M282.9 1170.7h0M281.1 1152.1h0M276.2 1154.6h0M294 1163.5h0M285.3 1156.5h0M286.3 1172.8h0M277.6 1170h0M288.5 1176.5h0M287.8 1164.8h0M274.6 1160.4h0M284 1149.4h0M301.8 1169.9h0M307.1 1163.8h0M300 1162.1h0M309.3 1167.8h0M306 1159.3h0M297.8 1169.4h0M306.6 1171.9h0M304.2 1166.8h0M296.9 1165.7h0M287.3 1188.2h0M287.4 1198.9h0M280.2 1190.3h0M280.7 1186.2h0M281 1200.2h0M288.5 1192.1h0M285.7 1184.6h0M283.5 1193.2h0M289.7 1195.9h0M279.8 1195.8h0M376 1192.6h0M367.3 1184.8h0M373.3 1184.3h0M381.2 1182.6h0M381.8 1187.4h0M368.3 1188.5h0M371.6 1179.7h0M378.2 1179.4h0M377.6 1186.4h0M364.6 1187.9h0M379.8 1190.8h0M373.1 1188.5h0M371.4 1192.5h0M343.1 1203.3h0M343.7 1213h0M349.8 1215.8h0M339.1 1212h0M341.5 1226.8h0M349.8 1209.4h0M345.4 1217.4h0M336.9 1216.7h0M348.8 1204.5h0M343.5 1223.6h0M343.2 1209.3h0M339.1 1204.2h0M340.2 1200.3h0M348.3 1220.3h0M346.7 1225.6h0M338.6 1222h0M341.5 1218.7h0M345.2 1200.2h0M336.9 1208.5h0M316.7 1194.1h0M325.1 1193.9h0M318.9 1202.4h0M322 1199.2h0M326.6 1198.1h0M323 1188.6h0M321.1 1193.2h0M315.5 1198.1h0" stroke="#ff1fc8" stroke-width="4" stroke-linecap="round" fill="none"/>
<path d="M234.4 1034.8h0M223.1 1042.5h0M226.6 1027.3h0M233.5 1039.5h0M232.9 1030.5h0M224.2 1023.8h0M228 1022.8h0M227.1 1048.7h0M222.5 1028.1h0M228.4 1043.4h0M224.4 1035.3h0M221.7 1038.5h0M230.3 1037.4h0M218.9 1033.3h0M229.6 1032.4h0M232.7 1024.8h0M225.6 1031.7h0M226.5 1039.1h0M231.3 1046h0M303.8 1021h0M307 1023.2h0M308.4 1027.5h0M310.8 1023.5h0M312 1019.4h0M300.1 1024.8h0M314.5 1024h0M340.5 1155.1h0M343.6 1158.8h0M339.7 1150.9h0M342.4 1164.7h0M343.8 1153h0M339.2 1161.4h0M280.8 1176.6h0M281.7 1172.6h0M285.3 1174h0M284 1178.5h0M351.4 1186.7h0M356.2 1182.8h0M359.4 1188.2h0M354.5 1190.1h0M347.7 1187.8h0M349 1191.5h0M382.2 1200.9h0M365.4 1198.3h0M370.5 1201.5h0M376.2 1203.8h0M370.2 1192.7h0M378.1 1193.8h0M384.3 1195.7h0M378.6 1199h0M366.5 1202.9h0M362.8 1201.6h0M371.2 1205.4h0M369.1 1197.5h0M374.3 1198.9h0M364 1194h0M374.1 1193h0M361.5 1196.9h0M357 1214.4h0M361.4 1227.2h0M363.8 1220h0M350.4 1217.3h0M354.4 1219.2h0M354.6 1227.8h0M358.1 1223.6h0M347.6 1220.9h0M350.6 1226.2h0M362.8 1215.3h0M360 1218.5h0M352.7 1214.2h0M353.4 1223.1h0M306.1 1199.1h0M300.2 1199.4h0M304.5 1203.1h0M299.9 1204.6h0M306.3 1207.3h0M275.4 1202.9h0M283 1202.4h0M280.2 1209.5h0M279.4 1205.1h0M274.8 1207.7h0M384.9 1213.1h0M383.5 1220.9h0M379.7 1220.1h0M374.5 1215.2h0M378.3 1210.5h0M379.4 1215.1h0" stroke="#1fe3f2" stroke-width="3.8" stroke-linecap="round" fill="none"/>
<path d="M256.8 1115.7h0M268.7 1111.8h0M266.5 1117.2h0M259.3 1111.5h0M261.3 1115.4h0M259.4 1119.7h0M264.9 1110.5h0M253.7 1112.6h0M263.6 1119.7h0M252 1127.7h0M276.3 1125.5h0M299 1128.4h0M297.8 1139.5h0M302.8 1130.5h0M291.9 1132.9h0M303.6 1134.2h0M294.4 1128.9h0M292.1 1232.1h0M217.6 1052.5h0M213.9 1051.6h0M216.4 1048.6h0M211.8 1055.2h0" stroke="#c8f01c" stroke-width="3.8" stroke-linecap="round" fill="none"/>
</g>
<rect x="380" y="1225.4" width="47.8" height="7.9" fill="#fff"/>
</g>
<clipPath id="m20"><rect x="435.2" y="1013.2" width="224.8" height="224.1"/></clipPath>
<g clip-path="url(#m20)">
<rect x="435.2" y="1013.2" width="224.8" height="224.1" fill="#050202"/>
<rect x="435.2" y="1013.2" width="224.8" height="224.1" filter="url(#texdark)"/>
<g fill="#d81414" opacity="0.62" filter="url(#bl2)"><ellipse cx="485.2" cy="1086.7" rx="25.3" ry="16.8"/><ellipse cx="500.1" cy="1054.5" rx="12.6" ry="18.9"/><ellipse cx="534.7" cy="1062" rx="14.7" ry="12.6"/><ellipse cx="576.8" cy="1069.4" rx="23.2" ry="21"/><ellipse cx="616.4" cy="1059.5" rx="16.8" ry="23.2"/><ellipse cx="633.8" cy="1099.1" rx="14.7" ry="10.5"/><ellipse cx="477.8" cy="1118.9" rx="16.8" ry="12.6"/><ellipse cx="601.6" cy="1143.7" rx="16.8" ry="12.6"/><ellipse cx="614" cy="1111.5" rx="8.4" ry="10.5"/><ellipse cx="490.2" cy="1222.9" rx="14.7" ry="10.5"/><ellipse cx="519.9" cy="1024.8" rx="12.6" ry="8.4"/><ellipse cx="648.1" cy="1040.4" rx="8.4" ry="12.6"/></g>
<g fill="#f6ea14" opacity="0.92" filter="url(#bl1)" stroke="#f6ea14" stroke-width="1.2" fill-opacity="0.88"><ellipse cx="596.1" cy="1171.7" rx="14.9" ry="12.4"/><ellipse cx="541.7" cy="1176.6" rx="9.9" ry="12.4"/><ellipse cx="653.1" cy="1223.7" rx="9.9" ry="12.4"/><ellipse cx="440.6" cy="1049.6" rx="7.4" ry="11.1"/><ellipse cx="474.1" cy="1028.6" rx="7.4" ry="9.9"/><ellipse cx="548.9" cy="1034.7" rx="5.4" ry="8.7"/><ellipse cx="579.3" cy="1052.1" rx="14.9" ry="17.3"/><ellipse cx="623.9" cy="1053.3" rx="12.4" ry="7.4"/><ellipse cx="450.6" cy="1099.1" rx="7.4" ry="9.9"/><ellipse cx="526.1" cy="1090.5" rx="5.4" ry="8.7"/><ellipse cx="540.9" cy="1099.1" rx="9.9" ry="7.4"/><ellipse cx="476.5" cy="1109" rx="8.7" ry="9.9"/><ellipse cx="656.1" cy="1064.5" rx="5" ry="7.4"/><ellipse cx="562" cy="1143.7" rx="7.4" ry="8.7"/><ellipse cx="599.1" cy="1163.5" rx="17.3" ry="13.6"/><ellipse cx="648.6" cy="1156.1" rx="5" ry="7.4"/><ellipse cx="537.2" cy="1175.9" rx="7.4" ry="7.4"/><ellipse cx="552.1" cy="1166" rx="9.9" ry="9.9"/><ellipse cx="581.8" cy="1178.4" rx="7.4" ry="7.4"/><ellipse cx="495.1" cy="1215.5" rx="9.9" ry="14.9"/><ellipse cx="519.9" cy="1200.6" rx="5" ry="9.9"/><ellipse cx="539.7" cy="1215.5" rx="9.9" ry="9.9"/><ellipse cx="623.9" cy="1200.6" rx="7.4" ry="6.2"/><ellipse cx="648.6" cy="1203.1" rx="12.4" ry="19.8"/><ellipse cx="586.7" cy="1193.2" rx="7.4" ry="7.4"/></g>
<g filter="url(#bl1)">
<path d="M467.7 1014.4h0M478.7 1013.4h0M474.6 1013.3h0M483.6 1016.5h0M473.1 1019h0M476.8 1017.5h0M487 1058.5h0M475.4 1068.9h0M469.9 1057.5h0M480.5 1068.7h0M474.2 1050.4h0M482 1056.2h0M475.2 1062.6h0M479.3 1061.5h0M477.1 1057.2h0M484.5 1064.9h0M480.5 1050.7h0M470.5 1053.4h0M471.6 1061.3h0M470.7 1066.4h0M478.4 1065.5h0M477.4 1053.3h0M443.5 1093.1h0M436.1 1095.6h0M441 1088h0M439.2 1091.5h0M441.8 1097.7h0M444.7 1088.8h0M583.3 1119.6h0M610.4 1123h0M565 1127.4h0M598.7 1110.9h0M587.7 1109.7h0M601.1 1130.2h0M599.4 1121.2h0M574.3 1124.5h0M595.7 1128.7h0M601.8 1124.8h0M607.2 1114.4h0M588 1123h0M578.6 1118.7h0M588.9 1133.2h0M591.2 1120.6h0M584.3 1132.1h0M570 1129.2h0M594.4 1123.6h0M576.4 1115.5h0M563.4 1115.4h0M564 1122.6h0M568.1 1114.3h0M581.3 1129.3h0M572 1111.6h0M580.7 1109.7h0M612.5 1117.6h0M570 1120h0M591.6 1129.4h0M581.1 1125.3h0M586 1115.1h0M587.1 1127.8h0M599.6 1115.7h0M595.9 1118.3h0M595.3 1113.6h0M607.5 1125.4h0M579.7 1113.8h0M592.1 1110.3h0M606.7 1120.7h0M560.7 1120.3h0M575.9 1129.6h0M589.8 1116.7h0M570.6 1125.1h0M577.9 1123.4h0M602.4 1118.1h0M596.4 1132.9h0M619.3 1124.4h0M611 1133.8h0M604.4 1122.9h0M607.7 1127.1h0M617.7 1130.3h0M615.2 1118h0M610.6 1129.8h0M623.4 1125.8h0M603.6 1128.1h0M614.2 1132h0M610.2 1120.8h0M613 1126.8h0M618.4 1120.6h0M622.4 1121.3h0M621.2 1132.7h0M606.5 1132.7h0M617.8 1134.1h0M518.5 1155.3h0M511.6 1176.1h0M519.8 1160.4h0M515.1 1168.9h0M511 1161.1h0M519.1 1168.4h0M509.9 1156h0M506.2 1158.2h0M514.3 1152.6h0M519.4 1172.6h0M510.1 1167h0M506.2 1174.3h0M504.4 1165.5h0M515.4 1160h0M511.2 1170.7h0M509.4 1152.1h0M504.5 1154.6h0M522.3 1163.5h0M513.6 1156.5h0M514.6 1172.8h0M505.9 1170h0M516.8 1176.5h0M516.1 1164.8h0M502.9 1160.4h0M512.3 1149.4h0M530.1 1169.9h0M535.4 1163.8h0M528.3 1162.1h0M537.6 1167.8h0M534.3 1159.3h0M526.1 1169.4h0M534.9 1171.9h0M532.5 1166.8h0M525.2 1165.7h0M515.6 1188.2h0M515.7 1198.9h0M508.5 1190.3h0M509 1186.2h0M509.3 1200.2h0M516.8 1192.1h0M514 1184.6h0M511.8 1193.2h0M518 1195.9h0M508.1 1195.8h0M604.3 1192.6h0M595.6 1184.8h0M601.6 1184.3h0M609.5 1182.6h0M610.1 1187.4h0M596.6 1188.5h0M599.9 1179.7h0M606.5 1179.4h0M605.9 1186.4h0M592.9 1187.9h0M608.1 1190.8h0M601.4 1188.5h0M599.7 1192.5h0M571.4 1203.3h0M572 1213h0M578.1 1215.8h0M567.4 1212h0M569.8 1226.8h0M578.1 1209.4h0M573.7 1217.4h0M565.2 1216.7h0M577.1 1204.5h0M571.8 1223.6h0M571.5 1209.3h0M567.4 1204.2h0M568.5 1200.3h0M576.6 1220.3h0M575 1225.6h0M566.9 1222h0M569.8 1218.7h0M573.5 1200.2h0M565.2 1208.5h0M545 1194.1h0M553.4 1193.9h0M547.2 1202.4h0M550.3 1199.2h0M554.9 1198.1h0M551.3 1188.6h0M549.4 1193.2h0M543.8 1198.1h0" stroke="#ff1fc8" stroke-width="4" stroke-linecap="round" fill="none"/>
<path d="M462.7 1034.8h0M451.4 1042.5h0M454.9 1027.3h0M461.8 1039.5h0M461.2 1030.5h0M452.5 1023.8h0M456.3 1022.8h0M455.4 1048.7h0M450.8 1028.1h0M456.7 1043.4h0M452.7 1035.3h0M450 1038.5h0M458.6 1037.4h0M447.2 1033.3h0M457.9 1032.4h0M461 1024.8h0M453.9 1031.7h0M454.8 1039.1h0M459.6 1046h0M532.1 1021h0M535.3 1023.2h0M536.7 1027.5h0M539.1 1023.5h0M540.3 1019.4h0M528.4 1024.8h0M542.8 1024h0M568.8 1155.1h0M571.9 1158.8h0M568 1150.9h0M570.7 1164.7h0M572.1 1153h0M567.5 1161.4h0M509.1 1176.6h0M510 1172.6h0M513.6 1174h0M512.3 1178.5h0M579.7 1186.7h0M584.5 1182.8h0M587.7 1188.2h0M582.8 1190.1h0M576 1187.8h0M577.3 1191.5h0M610.5 1200.9h0M593.7 1198.3h0M598.8 1201.5h0M604.5 1203.8h0M598.5 1192.7h0M606.4 1193.8h0M612.6 1195.7h0M606.9 1199h0M594.8 1202.9h0M591.1 1201.6h0M599.5 1205.4h0M597.4 1197.5h0M602.6 1198.9h0M592.3 1194h0M602.4 1193h0M589.8 1196.9h0M585.3 1214.4h0M589.7 1227.2h0M592.1 1220h0M578.7 1217.3h0M582.7 1219.2h0M582.9 1227.8h0M586.4 1223.6h0M575.9 1220.9h0M578.9 1226.2h0M591.1 1215.3h0M588.3 1218.5h0M581 1214.2h0M581.7 1223.1h0M534.4 1199.1h0M528.5 1199.4h0M532.8 1203.1h0M528.2 1204.6h0M534.6 1207.3h0M503.7 1202.9h0M511.3 1202.4h0M508.5 1209.5h0M507.7 1205.1h0M503.1 1207.7h0M613.2 1213.1h0M611.8 1220.9h0M608 1220.1h0M602.8 1215.2h0M606.6 1210.5h0M607.7 1215.1h0" stroke="#1fe3f2" stroke-width="3.8" stroke-linecap="round" fill="none"/>
<path d="M485.1 1115.7h0M497 1111.8h0M494.8 1117.2h0M487.6 1111.5h0M489.6 1115.4h0M487.7 1119.7h0M493.2 1110.5h0M482 1112.6h0M491.9 1119.7h0M480.3 1127.7h0M504.6 1125.5h0M527.3 1128.4h0M526.1 1139.5h0M531.1 1130.5h0M520.2 1132.9h0M531.9 1134.2h0M522.7 1128.9h0M520.4 1232.1h0M445.9 1052.5h0M442.2 1051.6h0M444.7 1048.6h0M440.1 1055.2h0" stroke="#c8f01c" stroke-width="3.8" stroke-linecap="round" fill="none"/>
</g>
</g>
<clipPath id="m21"><rect x="206.2" y="1240" width="226.1" height="225.8"/></clipPath>
<g clip-path="url(#m21)">
<rect x="206.2" y="1240" width="226.1" height="225.8" fill="#050202"/>
<rect x="206.2" y="1240" width="226.1" height="225.8" filter="url(#texdapi_b)"/>
<polygon points="317.6,1240 354.8,1240 352.3,1262.3 364.7,1272.2 429,1269.7 432.3,1284.6 379.5,1279.6 354.8,1287 339.9,1296.9 325.1,1299.4 317.6,1321.7 307.7,1344 301.5,1339 310.2,1309.3 315.1,1277.1" fill="#000" filter="url(#bl2)"/>
<polyline points="349.8,1284.6 367.1,1304.4 379.5,1334.1 383.2,1363.8 377,1393.5 364.7,1413.3 354.8,1423.2" fill="none" stroke="#000" stroke-width="9" stroke-linecap="round" stroke-linejoin="round" filter="url(#bl2)"/>
<polyline points="206.2,1341.5 233.4,1339 240.9,1356.4 255.7,1378.7 263.1,1403.4 270.6,1428.2 280.5,1443 275.5,1464.1" fill="none" stroke="#000" stroke-width="10" stroke-linecap="round" stroke-linejoin="round" filter="url(#bl2)"/>
<polyline points="310.2,1346.5 305.2,1368.8 302.8,1398.5 287.9,1423.2" fill="none" stroke="#000" stroke-width="9" stroke-linecap="round" stroke-linejoin="round" filter="url(#bl2)"/>
<polyline points="354.8,1423.2 384.5,1410.8 411.7,1378.7 432.3,1373.7" fill="none" stroke="#000" stroke-width="7" stroke-linecap="round" stroke-linejoin="round" filter="url(#bl2)"/>
<polyline points="206.2,1423.2 231,1428.2 255.7,1433.1" fill="none" stroke="#000" stroke-width="7" stroke-linecap="round" stroke-linejoin="round" filter="url(#bl2)"/>
<polyline points="432.3,1321.7 416.7,1314.3 394.4,1301.9" fill="none" stroke="#000" stroke-width="6" stroke-linecap="round" stroke-linejoin="round" filter="url(#bl2)"/>
<polyline points="287.9,1423.2 325.1,1438.1 354.8,1423.2" fill="none" stroke="#000" stroke-width="5" stroke-linecap="round" stroke-linejoin="round" filter="url(#bl2)"/>
<g fill="#ff1a1a" opacity="0.95" filter="url(#bl1)"><ellipse cx="358.5" cy="1274.2" rx="4" ry="5.4"/><ellipse cx="266.9" cy="1334.1" rx="10.4" ry="5"/><ellipse cx="254.5" cy="1350.2" rx="3.7" ry="7.4"/><ellipse cx="378.3" cy="1331.6" rx="8.9" ry="5"/><ellipse cx="429" cy="1259.8" rx="3.7" ry="7.4"/><ellipse cx="278" cy="1363.8" rx="5" ry="2.5"/><ellipse cx="351" cy="1452.9" rx="7.9" ry="7.9"/><ellipse cx="427.8" cy="1353.9" rx="2.5" ry="3.7"/><ellipse cx="270.6" cy="1391" rx="3" ry="3"/></g>
<g fill="#f6ea14" opacity="0.92" filter="url(#bl1)" stroke="#f6ea14" stroke-width="1.2" fill-opacity="0.88"><ellipse cx="221.1" cy="1388.6" rx="12.4" ry="14.9"/><ellipse cx="287.9" cy="1410.8" rx="14.9" ry="9.9"/><ellipse cx="335" cy="1413.3" rx="12.4" ry="9.9"/><ellipse cx="399.3" cy="1413.3" rx="14.9" ry="12.4"/><ellipse cx="416.7" cy="1378.7" rx="12.4" ry="9.9"/><ellipse cx="242.1" cy="1248.7" rx="13.6" ry="8.7"/><ellipse cx="237.2" cy="1293.2" rx="12.4" ry="9.9"/><ellipse cx="224.8" cy="1269.7" rx="5" ry="6.2"/><ellipse cx="306.5" cy="1292" rx="7.4" ry="12.4"/><ellipse cx="377" cy="1294.5" rx="6.2" ry="5.4"/><ellipse cx="266.9" cy="1376.2" rx="6.2" ry="9.9"/><ellipse cx="269.3" cy="1396" rx="8.7" ry="7.4"/><ellipse cx="229.7" cy="1386.1" rx="14.9" ry="9.9"/><ellipse cx="224.8" cy="1408.4" rx="14.9" ry="7.4"/><ellipse cx="316.4" cy="1371.2" rx="7.4" ry="7.4"/><ellipse cx="318.9" cy="1403.4" rx="17.3" ry="11.1"/><ellipse cx="353.5" cy="1383.6" rx="9.9" ry="9.9"/><ellipse cx="234.7" cy="1430.7" rx="9.9" ry="6.2"/><ellipse cx="412.9" cy="1386.1" rx="9.9" ry="7.4"/><ellipse cx="420.4" cy="1413.3" rx="7.4" ry="9.9"/><ellipse cx="375.8" cy="1417" rx="7.4" ry="6.2"/><ellipse cx="398.1" cy="1368.8" rx="7.4" ry="6.2"/><ellipse cx="427.8" cy="1363.8" rx="5" ry="7.4"/><ellipse cx="306.5" cy="1423.2" rx="7.4" ry="7.4"/><ellipse cx="341.1" cy="1425.7" rx="7.4" ry="9.9"/><ellipse cx="427.8" cy="1243.7" rx="5" ry="5"/></g>
<g filter="url(#bl1)">
<path d="M354.7 1424.2h0M347.2 1431h0M360.3 1430.7h0M346.2 1435.3h0M351 1437.2h0M354.9 1435.8h0M359.7 1434.3h0M347.2 1425.8h0M357.5 1427h0M351.9 1429.9h0M343.2 1432.8h0M356.3 1431.3h0M343.6 1427.8h0M412.4 1405h0M412.7 1389.4h0M418.1 1405.5h0M416.6 1400.7h0M421.7 1394.3h0M411.1 1394.2h0M410 1400h0M415.3 1394h0M416.3 1390.2h0M422.5 1398.2h0M408.5 1403.6h0M407 1395.4h0M405.3 1400.1h0M422.6 1403.5h0M413.8 1398.1h0M408.6 1391.3h0M414.9 1408h0M231 1416.6h0M236.1 1424.1h0M243.9 1421.6h0M229.6 1420.3h0M234.7 1416.5h0M231.3 1423.7h0M239.5 1416h0M236.5 1420.2h0M244.8 1416.4h0M227.3 1415.8h0M261.5 1282.9h0M264.9 1286.9h0M256.6 1283.8h0M260.8 1287h0M263.9 1290.5h0M219.9 1328.4h0M215.1 1326.5h0M218.3 1320.9h0M221.8 1322.4h0M215.8 1318.1h0M224.9 1325.5h0M223.8 1329.1h0M213.7 1322.6h0M216.4 1330.4h0M292.7 1344.9h0M293.7 1348.6h0M297.2 1351.7h0M297.4 1339.6h0M300.9 1343.1h0M300.7 1350.1h0M221.7 1385.3h0M214.2 1371.2h0M216.4 1376.6h0M208.5 1374.8h0M219.5 1372.4h0M216.1 1384.7h0M225.3 1379.4h0M213.1 1379.7h0M209.5 1380.9h0M224.2 1372.2h0M212.6 1385.9h0M219.5 1380.3h0M222.7 1376.6h0M218.8 1387.9h0M212.7 1375.2h0M334.8 1370.2h0M336.4 1360.7h0M342.3 1373.3h0M350.2 1359.3h0M341.2 1354.6h0M329.4 1360.7h0M336.9 1355.9h0M343.5 1365h0M346.2 1371.1h0M338.4 1368.1h0M338.5 1371.8h0M348.6 1366.2h0M329.6 1365.8h0M345 1360.9h0M346.5 1355.2h0M353.2 1362.3h0M340.4 1359.4h0M350.4 1370h0M332.7 1363.6h0M352.8 1366.4h0M342.1 1369.1h0M358.8 1396.3h0M360 1390.2h0M346.9 1395.7h0M348.7 1391h0M350.5 1399.3h0M356 1390h0M364.5 1390.4h0M355.3 1401.4h0M365.4 1400.3h0M368 1395.5h0M361.9 1403.6h0M364.3 1395.6h0M346.9 1402h0M360.8 1399.8h0M353.5 1397h0M357.4 1404.6h0M344.9 1391.8h0M351.3 1404.9h0M352.2 1389.2h0M355.2 1386.2h0M417.7 1393.4h0M406.4 1399.6h0M414 1395.8h0M396.6 1393h0M404.1 1392.7h0M403.4 1388.5h0M399.9 1399.3h0M410.4 1390h0M409.8 1397.1h0M414.4 1389.4h0M398.9 1388.1h0M395.6 1396.8h0M409 1386.5h0M401.6 1395.6h0M408.6 1393.3h0M284.4 1439.5h0M280.6 1433.3h0M284.6 1431.5h0M288.2 1429.3h0M287.7 1434h0M291.8 1431.6h0M290 1437.2h0M284.2 1427.8h0M312.6 1424.2h0M317.9 1421.6h0M320 1428.4h0M314.1 1428h0M378.3 1427.8h0M375.8 1434.4h0M371.8 1435.6h0M383.9 1433.8h0M381.2 1431.1h0M372.8 1429.5h0M380.9 1436.7h0M378.6 1440.1h0M374.9 1438.2h0" stroke="#ff1fc8" stroke-width="4" stroke-linecap="round" fill="none"/>
<path d="M358.2 1448.8h0M368.9 1443.1h0M372.9 1448.3h0M359.3 1453.2h0M368.9 1448.8h0M363.4 1448.8h0M364.4 1453.5h0M358.6 1443.6h0M364.9 1441.8h0M355.1 1446.6h0M261.2 1408.6h0M253 1406.5h0M258.9 1416.3h0M250.4 1416.8h0M251 1412.9h0M249.9 1408.9h0M257.5 1409.6h0M254.7 1420.4h0M254.4 1416.6h0M394.1 1379.4h0M390.5 1382.9h0M399.1 1378.5h0M391.9 1374.1h0M396.4 1382.8h0M389.6 1379.3h0M395.4 1372.7h0M400 1374.7h0M226 1250.5h0M219.9 1257.1h0M216.2 1249.5h0M215.4 1260.4h0M223.4 1261.2h0M221.7 1248.7h0M213.2 1256.4h0M224 1254.7h0M228.7 1255.5h0M210.4 1252.8h0M216.7 1254.6h0M220.3 1252.7h0M219.4 1261.4h0M244.2 1256.8h0M238.3 1258.4h0M302.3 1267h0M298.3 1266.9h0M308.9 1267h0M301.9 1275.6h0M306.9 1271.9h0M305.6 1264.5h0M297.5 1272.9h0M294.3 1269.2h0M312.8 1270.8h0M311 1274.6h0M307.5 1275.8h0M312.7 1266.2h0M301.7 1271.9h0M249.2 1322.1h0M258.5 1320.5h0M246.9 1318.9h0M257.6 1324.8h0M262.6 1322.8h0M255.8 1317.7h0M244.6 1322h0M253.9 1323.3h0M334.7 1318.6h0M330.6 1315.3h0M333.3 1311.8h0M338 1315.6h0M216.8 1365.1h0M215.5 1354.4h0M217.6 1360.5h0M210.5 1357.5h0M211.8 1353.3h0M211.5 1362.6h0M263.5 1369.1h0M258.2 1369.2h0M259.8 1365h0M253.9 1365.3h0M251.1 1369.9h0M259.9 1372.6h0M289.4 1358.4h0M290.8 1363.9h0M294.8 1355.9h0M296.1 1361.6h0M294.1 1367h0M289.9 1367.6h0M404.9 1357.2h0M402 1366.9h0M409.3 1362.3h0M401.8 1354.1h0M401.4 1361.7h0M399.1 1357.1h0M397.5 1360.5h0M405.4 1362.4h0M398.7 1364.5h0M241 1413h0M237.4 1408.6h0M232.1 1412.4h0M243.7 1409.3h0M237.1 1413h0M233 1408.4h0M329.3 1394.7h0M336.8 1398.5h0M334.3 1391.4h0M333.4 1396.2h0M289 1423h0M284.3 1418.7h0M323.5 1450.4h0M317.5 1457h0M315.3 1450.8h0M326.8 1452.3h0M322.5 1455.4h0M313.5 1456h0M311.2 1452.1h0M326.2 1456h0M405.1 1425h0M401.2 1431.1h0M403.9 1434.9h0M407.1 1431.7h0M401.4 1427.2h0M407.8 1435.4h0M362.2 1389h0M368.1 1390.9h0M368.8 1384.6h0M364.2 1384h0M416.1 1245.5h0M417.5 1241.6h0M421.2 1244.8h0" stroke="#1fe3f2" stroke-width="3.8" stroke-linecap="round" fill="none"/>
<path d="M331.7 1439.8h0M332.3 1447.5h0M327.9 1438.6h0M323.4 1438.8h0M326.4 1448.1h0M335.1 1444h0M324.2 1444.4h0M329.4 1443.8h0M320.6 1443.6h0M338.7 1441.4h0M294.3 1443.6h0M281.9 1446.6h0M289.9 1450.8h0M289.5 1441h0M284.7 1449.9h0M287.6 1445h0M284 1441.2h0M292.3 1447.2h0M228.5 1275.6h0M233.1 1284.7h0M233.4 1280.8h0M227.9 1282.3h0M222.8 1284.2h0M234.4 1274.6h0M224.3 1272.5h0M225.8 1287.3h0M227.8 1271.1h0M229.5 1286.3h0M221.9 1276.5h0M224.5 1279.8h0M232.1 1271.2h0M215.4 1297.2h0M218.7 1289.6h0M211.8 1299.4h0M207.5 1295.2h0M213.1 1291.7h0M218.4 1293.6h0M220.1 1299.7h0M210.4 1289h0M215.4 1301h0M230.7 1311.9h0M234.2 1306.2h0M232.3 1318h0M234.8 1301.1h0M230.4 1303.4h0M228 1307.6h0M235.8 1314.8h0M229 1316.1h0M243.9 1353.3h0M242 1349.8h0M237.4 1348.2h0M235.1 1351.5h0M238.9 1354.5h0M355.5 1351.9h0M364.4 1355.2h0M358.3 1358h0M362.6 1351.5h0M359.3 1353.6h0M367.8 1353h0M357.8 1348.7h0M364.5 1359.1h0M313.4 1438.3h0M314.3 1446.2h0M310.8 1442h0M315.8 1442.4h0M307 1439.7h0M307.3 1449h0M304 1442h0M302.3 1445.8h0M309.8 1445.8h0M311.5 1449.5h0M303.7 1436.9h0M310.2 1436h0M299.2 1442.5h0M224.1 1460.9h0M218.5 1458h0M210.3 1458.7h0M217 1454.3h0M226.6 1458h0M220.1 1462.7h0M221.4 1454.2h0M214.6 1457.4h0M389.4 1290.5h0M265.9 1256.7h0M385.7 1395.8h0" stroke="#a8f01c" stroke-width="3.8" stroke-linecap="round" fill="none"/>
</g>
<rect x="380" y="1450.5" width="47.8" height="7.9" fill="#fff"/>
</g>
<clipPath id="m22"><rect x="435.2" y="1240" width="225.8" height="225.8"/></clipPath>
<g clip-path="url(#m22)">
<rect x="435.2" y="1240" width="225.8" height="225.8" fill="#050202"/>
<rect x="435.2" y="1240" width="225.8" height="225.8" filter="url(#texdark)"/>
<g fill="#ff1a1a" opacity="0.95" filter="url(#bl1)"><ellipse cx="587.5" cy="1274.2" rx="4" ry="5.4"/><ellipse cx="495.9" cy="1334.1" rx="10.4" ry="5"/><ellipse cx="483.5" cy="1350.2" rx="3.7" ry="7.4"/><ellipse cx="607.3" cy="1331.6" rx="8.9" ry="5"/><ellipse cx="658" cy="1259.8" rx="3.7" ry="7.4"/><ellipse cx="507" cy="1363.8" rx="5" ry="2.5"/><ellipse cx="580" cy="1452.9" rx="7.9" ry="7.9"/><ellipse cx="656.8" cy="1353.9" rx="2.5" ry="3.7"/><ellipse cx="499.6" cy="1391" rx="3" ry="3"/></g>
<g fill="#f6ea14" opacity="0.92" filter="url(#bl1)" stroke="#f6ea14" stroke-width="1.2" fill-opacity="0.88"><ellipse cx="450.1" cy="1388.6" rx="12.4" ry="14.9"/><ellipse cx="516.9" cy="1410.8" rx="14.9" ry="9.9"/><ellipse cx="564" cy="1413.3" rx="12.4" ry="9.9"/><ellipse cx="628.3" cy="1413.3" rx="14.9" ry="12.4"/><ellipse cx="645.7" cy="1378.7" rx="12.4" ry="9.9"/><ellipse cx="471.1" cy="1248.7" rx="13.6" ry="8.7"/><ellipse cx="466.2" cy="1293.2" rx="12.4" ry="9.9"/><ellipse cx="453.8" cy="1269.7" rx="5" ry="6.2"/><ellipse cx="535.5" cy="1292" rx="7.4" ry="12.4"/><ellipse cx="606" cy="1294.5" rx="6.2" ry="5.4"/><ellipse cx="495.9" cy="1376.2" rx="6.2" ry="9.9"/><ellipse cx="498.3" cy="1396" rx="8.7" ry="7.4"/><ellipse cx="458.7" cy="1386.1" rx="14.9" ry="9.9"/><ellipse cx="453.8" cy="1408.4" rx="14.9" ry="7.4"/><ellipse cx="545.4" cy="1371.2" rx="7.4" ry="7.4"/><ellipse cx="547.9" cy="1403.4" rx="17.3" ry="11.1"/><ellipse cx="582.5" cy="1383.6" rx="9.9" ry="9.9"/><ellipse cx="463.7" cy="1430.7" rx="9.9" ry="6.2"/><ellipse cx="641.9" cy="1386.1" rx="9.9" ry="7.4"/><ellipse cx="649.4" cy="1413.3" rx="7.4" ry="9.9"/><ellipse cx="604.8" cy="1417" rx="7.4" ry="6.2"/><ellipse cx="627.1" cy="1368.8" rx="7.4" ry="6.2"/><ellipse cx="656.8" cy="1363.8" rx="5" ry="7.4"/><ellipse cx="535.5" cy="1423.2" rx="7.4" ry="7.4"/><ellipse cx="570.1" cy="1425.7" rx="7.4" ry="9.9"/><ellipse cx="656.8" cy="1243.7" rx="5" ry="5"/></g>
<g filter="url(#bl1)">
<path d="M583.7 1424.2h0M576.2 1431h0M589.3 1430.7h0M575.2 1435.3h0M580 1437.2h0M583.9 1435.8h0M588.7 1434.3h0M576.2 1425.8h0M586.5 1427h0M580.9 1429.9h0M572.2 1432.8h0M585.3 1431.3h0M572.6 1427.8h0M641.4 1405h0M641.7 1389.4h0M647.1 1405.5h0M645.6 1400.7h0M650.7 1394.3h0M640.1 1394.2h0M639 1400h0M644.3 1394h0M645.3 1390.2h0M651.5 1398.2h0M637.5 1403.6h0M636 1395.4h0M634.3 1400.1h0M651.6 1403.5h0M642.8 1398.1h0M637.6 1391.3h0M643.9 1408h0M460 1416.6h0M465.1 1424.1h0M472.9 1421.6h0M458.6 1420.3h0M463.7 1416.5h0M460.3 1423.7h0M468.5 1416h0M465.5 1420.2h0M473.8 1416.4h0M456.3 1415.8h0M490.5 1282.9h0M493.9 1286.9h0M485.6 1283.8h0M489.8 1287h0M492.9 1290.5h0M448.9 1328.4h0M444.1 1326.5h0M447.3 1320.9h0M450.8 1322.4h0M444.8 1318.1h0M453.9 1325.5h0M452.8 1329.1h0M442.7 1322.6h0M445.4 1330.4h0M521.7 1344.9h0M522.7 1348.6h0M526.2 1351.7h0M526.4 1339.6h0M529.9 1343.1h0M529.7 1350.1h0M450.7 1385.3h0M443.2 1371.2h0M445.4 1376.6h0M437.5 1374.8h0M448.5 1372.4h0M445.1 1384.7h0M454.3 1379.4h0M442.1 1379.7h0M438.5 1380.9h0M453.2 1372.2h0M441.6 1385.9h0M448.5 1380.3h0M451.7 1376.6h0M447.8 1387.9h0M441.7 1375.2h0M563.8 1370.2h0M565.4 1360.7h0M571.3 1373.3h0M579.2 1359.3h0M570.2 1354.6h0M558.4 1360.7h0M565.9 1355.9h0M572.5 1365h0M575.2 1371.1h0M567.4 1368.1h0M567.5 1371.8h0M577.6 1366.2h0M558.6 1365.8h0M574 1360.9h0M575.5 1355.2h0M582.2 1362.3h0M569.4 1359.4h0M579.4 1370h0M561.7 1363.6h0M581.8 1366.4h0M571.1 1369.1h0M587.8 1396.3h0M589 1390.2h0M575.9 1395.7h0M577.7 1391h0M579.5 1399.3h0M585 1390h0M593.5 1390.4h0M584.3 1401.4h0M594.4 1400.3h0M597 1395.5h0M590.9 1403.6h0M593.3 1395.6h0M575.9 1402h0M589.8 1399.8h0M582.5 1397h0M586.4 1404.6h0M573.9 1391.8h0M580.3 1404.9h0M581.2 1389.2h0M584.2 1386.2h0M646.7 1393.4h0M635.4 1399.6h0M643 1395.8h0M625.6 1393h0M633.1 1392.7h0M632.4 1388.5h0M628.9 1399.3h0M639.4 1390h0M638.8 1397.1h0M643.4 1389.4h0M627.9 1388.1h0M624.6 1396.8h0M638 1386.5h0M630.6 1395.6h0M637.6 1393.3h0M513.4 1439.5h0M509.6 1433.3h0M513.6 1431.5h0M517.2 1429.3h0M516.7 1434h0M520.8 1431.6h0M519 1437.2h0M513.2 1427.8h0M541.6 1424.2h0M546.9 1421.6h0M549 1428.4h0M543.1 1428h0M607.3 1427.8h0M604.8 1434.4h0M600.8 1435.6h0M612.9 1433.8h0M610.2 1431.1h0M601.8 1429.5h0M609.9 1436.7h0M607.6 1440.1h0M603.9 1438.2h0" stroke="#ff1fc8" stroke-width="4" stroke-linecap="round" fill="none"/>
<path d="M587.2 1448.8h0M597.9 1443.1h0M601.9 1448.3h0M588.3 1453.2h0M597.9 1448.8h0M592.4 1448.8h0M593.4 1453.5h0M587.6 1443.6h0M593.9 1441.8h0M584.1 1446.6h0M490.2 1408.6h0M482 1406.5h0M487.9 1416.3h0M479.4 1416.8h0M480 1412.9h0M478.9 1408.9h0M486.5 1409.6h0M483.7 1420.4h0M483.4 1416.6h0M623.1 1379.4h0M619.5 1382.9h0M628.1 1378.5h0M620.9 1374.1h0M625.4 1382.8h0M618.6 1379.3h0M624.4 1372.7h0M629 1374.7h0M455 1250.5h0M448.9 1257.1h0M445.2 1249.5h0M444.4 1260.4h0M452.4 1261.2h0M450.7 1248.7h0M442.2 1256.4h0M453 1254.7h0M457.7 1255.5h0M439.4 1252.8h0M445.7 1254.6h0M449.3 1252.7h0M448.4 1261.4h0M473.2 1256.8h0M467.3 1258.4h0M531.3 1267h0M527.3 1266.9h0M537.9 1267h0M530.9 1275.6h0M535.9 1271.9h0M534.6 1264.5h0M526.5 1272.9h0M523.3 1269.2h0M541.8 1270.8h0M540 1274.6h0M536.5 1275.8h0M541.7 1266.2h0M530.7 1271.9h0M478.2 1322.1h0M487.5 1320.5h0M475.9 1318.9h0M486.6 1324.8h0M491.6 1322.8h0M484.8 1317.7h0M473.6 1322h0M482.9 1323.3h0M563.7 1318.6h0M559.6 1315.3h0M562.3 1311.8h0M567 1315.6h0M445.8 1365.1h0M444.5 1354.4h0M446.6 1360.5h0M439.5 1357.5h0M440.8 1353.3h0M440.5 1362.6h0M492.5 1369.1h0M487.2 1369.2h0M488.8 1365h0M482.9 1365.3h0M480.1 1369.9h0M488.9 1372.6h0M518.4 1358.4h0M519.8 1363.9h0M523.8 1355.9h0M525.1 1361.6h0M523.1 1367h0M518.9 1367.6h0M633.9 1357.2h0M631 1366.9h0M638.3 1362.3h0M630.8 1354.1h0M630.4 1361.7h0M628.1 1357.1h0M626.5 1360.5h0M634.4 1362.4h0M627.7 1364.5h0M470 1413h0M466.4 1408.6h0M461.1 1412.4h0M472.7 1409.3h0M466.1 1413h0M462 1408.4h0M558.3 1394.7h0M565.8 1398.5h0M563.3 1391.4h0M562.4 1396.2h0M518 1423h0M513.3 1418.7h0M552.5 1450.4h0M546.5 1457h0M544.3 1450.8h0M555.8 1452.3h0M551.5 1455.4h0M542.5 1456h0M540.2 1452.1h0M555.2 1456h0M634.1 1425h0M630.2 1431.1h0M632.9 1434.9h0M636.1 1431.7h0M630.4 1427.2h0M636.8 1435.4h0M591.2 1389h0M597.1 1390.9h0M597.8 1384.6h0M593.2 1384h0M645.1 1245.5h0M646.5 1241.6h0M650.2 1244.8h0" stroke="#1fe3f2" stroke-width="3.8" stroke-linecap="round" fill="none"/>
<path d="M560.7 1439.8h0M561.3 1447.5h0M556.9 1438.6h0M552.4 1438.8h0M555.4 1448.1h0M564.1 1444h0M553.2 1444.4h0M558.4 1443.8h0M549.6 1443.6h0M567.7 1441.4h0M523.3 1443.6h0M510.9 1446.6h0M518.9 1450.8h0M518.5 1441h0M513.7 1449.9h0M516.6 1445h0M513 1441.2h0M521.3 1447.2h0M457.5 1275.6h0M462.1 1284.7h0M462.4 1280.8h0M456.9 1282.3h0M451.8 1284.2h0M463.4 1274.6h0M453.3 1272.5h0M454.8 1287.3h0M456.8 1271.1h0M458.5 1286.3h0M450.9 1276.5h0M453.5 1279.8h0M461.1 1271.2h0M444.4 1297.2h0M447.7 1289.6h0M440.8 1299.4h0M436.5 1295.2h0M442.1 1291.7h0M447.4 1293.6h0M449.1 1299.7h0M439.4 1289h0M444.4 1301h0M459.7 1311.9h0M463.2 1306.2h0M461.3 1318h0M463.8 1301.1h0M459.4 1303.4h0M457 1307.6h0M464.8 1314.8h0M458 1316.1h0M472.9 1353.3h0M471 1349.8h0M466.4 1348.2h0M464.1 1351.5h0M467.9 1354.5h0M584.5 1351.9h0M593.4 1355.2h0M587.3 1358h0M591.6 1351.5h0M588.3 1353.6h0M596.8 1353h0M586.8 1348.7h0M593.5 1359.1h0M542.4 1438.3h0M543.3 1446.2h0M539.8 1442h0M544.8 1442.4h0M536 1439.7h0M536.3 1449h0M533 1442h0M531.3 1445.8h0M538.8 1445.8h0M540.5 1449.5h0M532.7 1436.9h0M539.2 1436h0M528.2 1442.5h0M453.1 1460.9h0M447.5 1458h0M439.3 1458.7h0M446 1454.3h0M455.6 1458h0M449.1 1462.7h0M450.4 1454.2h0M443.6 1457.4h0M618.4 1290.5h0M494.9 1256.7h0M614.7 1395.8h0" stroke="#a8f01c" stroke-width="3.8" stroke-linecap="round" fill="none"/>
</g>
</g>
<clipPath id="m23"><rect x="663.7" y="1013.7" width="224" height="224"/></clipPath>
<g clip-path="url(#m23)">
<rect x="663.7" y="1013.7" width="224" height="224" fill="#fff"/>
<rect x="663.7" y="1013.7" width="224" height="224" filter="url(#texinv)"/>
<g fill="#f04848" opacity="0.38" filter="url(#bl2)"><ellipse cx="713.7" cy="1087.2" rx="25.3" ry="16.8"/><ellipse cx="728.6" cy="1055" rx="12.6" ry="18.9"/><ellipse cx="763.2" cy="1062.5" rx="14.7" ry="12.6"/><ellipse cx="805.3" cy="1069.9" rx="23.2" ry="21"/><ellipse cx="844.9" cy="1060" rx="16.8" ry="23.2"/><ellipse cx="862.3" cy="1099.6" rx="14.7" ry="10.5"/><ellipse cx="706.3" cy="1119.4" rx="16.8" ry="12.6"/><ellipse cx="830.1" cy="1144.2" rx="16.8" ry="12.6"/><ellipse cx="842.5" cy="1112" rx="8.4" ry="10.5"/><ellipse cx="718.7" cy="1223.4" rx="14.7" ry="10.5"/><ellipse cx="748.4" cy="1025.3" rx="12.6" ry="8.4"/><ellipse cx="876.6" cy="1040.9" rx="8.4" ry="12.6"/></g>
<g fill="#f5e010" opacity="0.55" filter="url(#bl1)"><ellipse cx="824.6" cy="1172.2" rx="11.9" ry="9.9"/><ellipse cx="770.2" cy="1177.1" rx="7.9" ry="9.9"/><ellipse cx="881.6" cy="1224.2" rx="7.9" ry="9.9"/><ellipse cx="669.1" cy="1050.1" rx="5.9" ry="8.9"/><ellipse cx="702.6" cy="1029.1" rx="5.9" ry="7.9"/><ellipse cx="777.4" cy="1035.2" rx="4.4" ry="6.9"/><ellipse cx="807.8" cy="1052.6" rx="11.9" ry="13.9"/><ellipse cx="852.4" cy="1053.8" rx="9.9" ry="5.9"/><ellipse cx="679.1" cy="1099.6" rx="5.9" ry="7.9"/><ellipse cx="754.6" cy="1091" rx="4.4" ry="6.9"/><ellipse cx="769.4" cy="1099.6" rx="7.9" ry="5.9"/><ellipse cx="705" cy="1109.5" rx="6.9" ry="7.9"/><ellipse cx="884.6" cy="1065" rx="4" ry="5.9"/><ellipse cx="790.5" cy="1144.2" rx="5.9" ry="6.9"/><ellipse cx="827.6" cy="1164" rx="13.9" ry="10.9"/><ellipse cx="877.1" cy="1156.6" rx="4" ry="5.9"/><ellipse cx="765.7" cy="1176.4" rx="5.9" ry="5.9"/><ellipse cx="780.6" cy="1166.5" rx="7.9" ry="7.9"/><ellipse cx="810.3" cy="1178.9" rx="5.9" ry="5.9"/><ellipse cx="723.6" cy="1216" rx="7.9" ry="11.9"/><ellipse cx="748.4" cy="1201.1" rx="4" ry="7.9"/><ellipse cx="768.2" cy="1216" rx="7.9" ry="7.9"/><ellipse cx="852.4" cy="1201.1" rx="5.9" ry="5"/><ellipse cx="877.1" cy="1203.6" rx="9.9" ry="15.8"/><ellipse cx="815.2" cy="1193.7" rx="5.9" ry="5.9"/></g>
<g>
<path d="M696.2 1014.9h0M707.2 1013.9h0M703.1 1013.8h0M712.1 1017h0M701.6 1019.5h0M705.3 1018h0M715.5 1059h0M703.9 1069.4h0M698.4 1058h0M709 1069.2h0M702.7 1050.9h0M710.5 1056.7h0M703.7 1063.1h0M707.8 1062h0M705.6 1057.7h0M713 1065.4h0M709 1051.2h0M699 1053.9h0M700.1 1061.8h0M699.2 1066.9h0M706.9 1066h0M705.9 1053.8h0M672 1093.6h0M664.6 1096.1h0M669.5 1088.5h0M667.7 1092h0M670.3 1098.2h0M673.2 1089.3h0M811.8 1120.1h0M838.9 1123.5h0M793.5 1127.9h0M827.2 1111.4h0M816.2 1110.2h0M829.6 1130.7h0M827.9 1121.7h0M802.8 1125h0M824.2 1129.2h0M830.3 1125.3h0M835.7 1114.9h0M816.5 1123.5h0M807.1 1119.2h0M817.4 1133.7h0M819.7 1121.1h0M812.8 1132.6h0M798.5 1129.7h0M822.9 1124.1h0M804.9 1116h0M791.9 1115.9h0M792.5 1123.1h0M796.6 1114.8h0M809.8 1129.8h0M800.5 1112.1h0M809.2 1110.2h0M841 1118.1h0M798.5 1120.5h0M820.1 1129.9h0M809.6 1125.8h0M814.5 1115.6h0M815.6 1128.3h0M828.1 1116.2h0M824.4 1118.8h0M823.8 1114.1h0M836 1125.9h0M808.2 1114.3h0M820.6 1110.8h0M835.2 1121.2h0M789.2 1120.8h0M804.4 1130.1h0M818.3 1117.2h0M799.1 1125.6h0M806.4 1123.9h0M830.9 1118.6h0M824.9 1133.4h0M847.8 1124.9h0M839.5 1134.3h0M832.9 1123.4h0M836.2 1127.6h0M846.2 1130.8h0M843.7 1118.5h0M839.1 1130.3h0M851.9 1126.3h0M832.1 1128.6h0M842.7 1132.5h0M838.7 1121.3h0M841.5 1127.3h0M846.9 1121.1h0M850.9 1121.8h0M849.7 1133.2h0M835 1133.2h0M846.3 1134.6h0M747 1155.8h0M740.1 1176.6h0M748.3 1160.9h0M743.6 1169.4h0M739.5 1161.6h0M747.6 1168.9h0M738.4 1156.5h0M734.7 1158.7h0M742.8 1153.1h0M747.9 1173.1h0M738.6 1167.5h0M734.7 1174.8h0M732.9 1166h0M743.9 1160.5h0M739.7 1171.2h0M737.9 1152.6h0M733 1155.1h0M750.8 1164h0M742.1 1157h0M743.1 1173.3h0M734.4 1170.5h0M745.3 1177h0M744.6 1165.3h0M731.4 1160.9h0M740.8 1149.9h0M758.6 1170.4h0M763.9 1164.3h0M756.8 1162.6h0M766.1 1168.3h0M762.8 1159.8h0M754.6 1169.9h0M763.4 1172.4h0M761 1167.3h0M753.7 1166.2h0M744.1 1188.7h0M744.2 1199.4h0M737 1190.8h0M737.5 1186.7h0M737.8 1200.7h0M745.3 1192.6h0M742.5 1185.1h0M740.3 1193.7h0M746.5 1196.4h0M736.6 1196.3h0M832.8 1193.1h0M824.1 1185.3h0M830.1 1184.8h0M838 1183.1h0M838.6 1187.9h0M825.1 1189h0M828.4 1180.2h0M835 1179.9h0M834.4 1186.9h0M821.4 1188.4h0M836.6 1191.3h0M829.9 1189h0M828.2 1193h0M799.9 1203.8h0M800.5 1213.5h0M806.6 1216.3h0M795.9 1212.5h0M798.3 1227.3h0M806.6 1209.9h0M802.2 1217.9h0M793.7 1217.2h0M805.6 1205h0M800.3 1224.1h0M800 1209.8h0M795.9 1204.7h0M797 1200.8h0M805.1 1220.8h0M803.5 1226.1h0M795.4 1222.5h0M798.3 1219.2h0M802 1200.7h0M793.7 1209h0M773.5 1194.6h0M781.9 1194.4h0M775.7 1202.9h0M778.8 1199.7h0M783.4 1198.6h0M779.8 1189.1h0M777.9 1193.7h0M772.3 1198.6h0" stroke="#f0001e" stroke-width="4" stroke-linecap="round" fill="none"/>
<path d="M691.2 1035.3h0M679.9 1043h0M683.4 1027.8h0M690.3 1040h0M689.7 1031h0M681 1024.3h0M684.8 1023.3h0M683.9 1049.2h0M679.3 1028.6h0M685.2 1043.9h0M681.2 1035.8h0M678.5 1039h0M687.1 1037.9h0M675.7 1033.8h0M686.4 1032.9h0M689.5 1025.3h0M682.4 1032.2h0M683.3 1039.6h0M688.1 1046.5h0M760.6 1021.5h0M763.8 1023.7h0M765.2 1028h0M767.6 1024h0M768.8 1019.9h0M756.9 1025.3h0M771.3 1024.5h0M797.3 1155.6h0M800.4 1159.3h0M796.5 1151.4h0M799.2 1165.2h0M800.6 1153.5h0M796 1161.9h0M737.6 1177.1h0M738.5 1173.1h0M742.1 1174.5h0M740.8 1179h0M808.2 1187.2h0M813 1183.3h0M816.2 1188.7h0M811.3 1190.6h0M804.5 1188.3h0M805.8 1192h0M839 1201.4h0M822.2 1198.8h0M827.3 1202h0M833 1204.3h0M827 1193.2h0M834.9 1194.3h0M841.1 1196.2h0M835.4 1199.5h0M823.3 1203.4h0M819.6 1202.1h0M828 1205.9h0M825.9 1198h0M831.1 1199.4h0M820.8 1194.5h0M830.9 1193.5h0M818.3 1197.4h0M813.8 1214.9h0M818.2 1227.7h0M820.6 1220.5h0M807.2 1217.8h0M811.2 1219.7h0M811.4 1228.3h0M814.9 1224.1h0M804.4 1221.4h0M807.4 1226.7h0M819.6 1215.8h0M816.8 1219h0M809.5 1214.7h0M810.2 1223.6h0M762.9 1199.6h0M757 1199.9h0M761.3 1203.6h0M756.7 1205.1h0M763.1 1207.8h0M732.2 1203.4h0M739.8 1202.9h0M737 1210h0M736.2 1205.6h0M731.6 1208.2h0M841.7 1213.6h0M840.3 1221.4h0M836.5 1220.6h0M831.3 1215.7h0M835.1 1211h0M836.2 1215.6h0" stroke="#28e0ee" stroke-width="3.8" stroke-linecap="round" fill="none"/>
<path d="M713.6 1116.2h0M725.5 1112.3h0M723.3 1117.7h0M716.1 1112h0M718.1 1115.9h0M716.2 1120.2h0M721.7 1111h0M710.5 1113.1h0M720.4 1120.2h0M708.8 1128.2h0M733.1 1126h0M755.8 1128.9h0M754.6 1140h0M759.6 1131h0M748.7 1133.4h0M760.4 1134.7h0M751.2 1129.4h0M748.9 1232.6h0M674.4 1053h0M670.7 1052.1h0M673.2 1049.1h0M668.6 1055.7h0" stroke="#20d820" stroke-width="3.8" stroke-linecap="round" fill="none"/>
</g>
</g>
<clipPath id="m24"><rect x="663.7" y="1241.2" width="224" height="224.1"/></clipPath>
<g clip-path="url(#m24)">
<rect x="663.7" y="1241.2" width="224" height="224.1" fill="#fff"/>
<rect x="663.7" y="1241.2" width="224" height="224.1" filter="url(#texinv)"/>
<g fill="#f04848" opacity="0.38" filter="url(#bl2)"><ellipse cx="816" cy="1275.4" rx="3.4" ry="4.6"/><ellipse cx="724.4" cy="1335.3" rx="8.8" ry="4.2"/><ellipse cx="712" cy="1351.4" rx="3.2" ry="6.3"/><ellipse cx="835.8" cy="1332.8" rx="7.6" ry="4.2"/><ellipse cx="886.5" cy="1261" rx="3.2" ry="6.3"/><ellipse cx="735.5" cy="1365" rx="4.2" ry="2.1"/><ellipse cx="808.5" cy="1454.1" rx="6.7" ry="6.7"/><ellipse cx="885.3" cy="1355.1" rx="2.1" ry="3.2"/><ellipse cx="728.1" cy="1392.2" rx="2.5" ry="2.5"/></g>
<g fill="#f5e010" opacity="0.55" filter="url(#bl1)"><ellipse cx="678.6" cy="1389.8" rx="9.9" ry="11.9"/><ellipse cx="745.4" cy="1412" rx="11.9" ry="7.9"/><ellipse cx="792.5" cy="1414.5" rx="9.9" ry="7.9"/><ellipse cx="856.8" cy="1414.5" rx="11.9" ry="9.9"/><ellipse cx="874.2" cy="1379.9" rx="9.9" ry="7.9"/><ellipse cx="699.6" cy="1249.9" rx="10.9" ry="6.9"/><ellipse cx="694.7" cy="1294.4" rx="9.9" ry="7.9"/><ellipse cx="682.3" cy="1270.9" rx="4" ry="5"/><ellipse cx="764" cy="1293.2" rx="5.9" ry="9.9"/><ellipse cx="834.5" cy="1295.7" rx="5" ry="4.4"/><ellipse cx="724.4" cy="1377.4" rx="5" ry="7.9"/><ellipse cx="726.8" cy="1397.2" rx="6.9" ry="5.9"/><ellipse cx="687.2" cy="1387.3" rx="11.9" ry="7.9"/><ellipse cx="682.3" cy="1409.6" rx="11.9" ry="5.9"/><ellipse cx="773.9" cy="1372.4" rx="5.9" ry="5.9"/><ellipse cx="776.4" cy="1404.6" rx="13.9" ry="8.9"/><ellipse cx="811" cy="1384.8" rx="7.9" ry="7.9"/><ellipse cx="692.2" cy="1431.9" rx="7.9" ry="5"/><ellipse cx="870.4" cy="1387.3" rx="7.9" ry="5.9"/><ellipse cx="877.9" cy="1414.5" rx="5.9" ry="7.9"/><ellipse cx="833.3" cy="1418.2" rx="5.9" ry="5"/><ellipse cx="855.6" cy="1370" rx="5.9" ry="5"/><ellipse cx="885.3" cy="1365" rx="4" ry="5.9"/><ellipse cx="764" cy="1424.4" rx="5.9" ry="5.9"/><ellipse cx="798.6" cy="1426.9" rx="5.9" ry="7.9"/><ellipse cx="885.3" cy="1244.9" rx="4" ry="4"/></g>
<g>
<path d="M812.2 1425.4h0M804.7 1432.2h0M817.8 1431.9h0M803.7 1436.5h0M808.5 1438.4h0M812.4 1437h0M817.2 1435.5h0M804.7 1427h0M815 1428.2h0M809.4 1431.1h0M800.7 1434h0M813.8 1432.5h0M801.1 1429h0M869.9 1406.2h0M870.2 1390.6h0M875.6 1406.7h0M874.1 1401.9h0M879.2 1395.5h0M868.6 1395.4h0M867.5 1401.2h0M872.8 1395.2h0M873.8 1391.4h0M880 1399.4h0M866 1404.8h0M864.5 1396.6h0M862.8 1401.3h0M880.1 1404.7h0M871.3 1399.3h0M866.1 1392.5h0M872.4 1409.2h0M688.5 1417.8h0M693.6 1425.3h0M701.4 1422.8h0M687.1 1421.5h0M692.2 1417.7h0M688.8 1424.9h0M697 1417.2h0M694 1421.4h0M702.3 1417.6h0M684.8 1417h0M719 1284.1h0M722.4 1288.1h0M714.1 1285h0M718.3 1288.2h0M721.4 1291.7h0M677.4 1329.6h0M672.6 1327.7h0M675.8 1322.1h0M679.3 1323.6h0M673.3 1319.3h0M682.4 1326.7h0M681.3 1330.3h0M671.2 1323.8h0M673.9 1331.6h0M750.2 1346.1h0M751.2 1349.8h0M754.7 1352.9h0M754.9 1340.8h0M758.4 1344.3h0M758.2 1351.3h0M679.2 1386.5h0M671.7 1372.4h0M673.9 1377.8h0M666 1376h0M677 1373.6h0M673.6 1385.9h0M682.8 1380.6h0M670.6 1380.9h0M667 1382.1h0M681.7 1373.4h0M670.1 1387.1h0M677 1381.5h0M680.2 1377.8h0M676.3 1389.1h0M670.2 1376.4h0M792.3 1371.4h0M793.9 1361.9h0M799.8 1374.5h0M807.7 1360.5h0M798.7 1355.8h0M786.9 1361.9h0M794.4 1357.1h0M801 1366.2h0M803.7 1372.3h0M795.9 1369.3h0M796 1373h0M806.1 1367.4h0M787.1 1367h0M802.5 1362.1h0M804 1356.4h0M810.7 1363.5h0M797.9 1360.6h0M807.9 1371.2h0M790.2 1364.8h0M810.3 1367.6h0M799.6 1370.3h0M816.3 1397.5h0M817.5 1391.4h0M804.4 1396.9h0M806.2 1392.2h0M808 1400.5h0M813.5 1391.2h0M822 1391.6h0M812.8 1402.6h0M822.9 1401.5h0M825.5 1396.7h0M819.4 1404.8h0M821.8 1396.8h0M804.4 1403.2h0M818.3 1401h0M811 1398.2h0M814.9 1405.8h0M802.4 1393h0M808.8 1406.1h0M809.7 1390.4h0M812.7 1387.4h0M875.2 1394.6h0M863.9 1400.8h0M871.5 1397h0M854.1 1394.2h0M861.6 1393.9h0M860.9 1389.7h0M857.4 1400.5h0M867.9 1391.2h0M867.3 1398.3h0M871.9 1390.6h0M856.4 1389.3h0M853.1 1398h0M866.5 1387.7h0M859.1 1396.8h0M866.1 1394.5h0M741.9 1440.7h0M738.1 1434.5h0M742.1 1432.7h0M745.7 1430.5h0M745.2 1435.2h0M749.3 1432.8h0M747.5 1438.4h0M741.7 1429h0M770.1 1425.4h0M775.4 1422.8h0M777.5 1429.6h0M771.6 1429.2h0M835.8 1429h0M833.3 1435.6h0M829.3 1436.8h0M841.4 1435h0M838.7 1432.3h0M830.3 1430.7h0M838.4 1437.9h0M836.1 1441.3h0M832.4 1439.4h0" stroke="#f0001e" stroke-width="4" stroke-linecap="round" fill="none"/>
<path d="M815.7 1450h0M826.4 1444.3h0M830.4 1449.5h0M816.8 1454.4h0M826.4 1450h0M820.9 1450h0M821.9 1454.7h0M816.1 1444.8h0M822.4 1443h0M812.6 1447.8h0M718.7 1409.8h0M710.5 1407.7h0M716.4 1417.5h0M707.9 1418h0M708.5 1414.1h0M707.4 1410.1h0M715 1410.8h0M712.2 1421.6h0M711.9 1417.8h0M851.6 1380.6h0M848 1384.1h0M856.6 1379.7h0M849.4 1375.3h0M853.9 1384h0M847.1 1380.5h0M852.9 1373.9h0M857.5 1375.9h0M683.5 1251.7h0M677.4 1258.3h0M673.7 1250.7h0M672.9 1261.6h0M680.9 1262.4h0M679.2 1249.9h0M670.7 1257.6h0M681.5 1255.9h0M686.2 1256.7h0M667.9 1254h0M674.2 1255.8h0M677.8 1253.9h0M676.9 1262.6h0M701.7 1258h0M695.8 1259.6h0M759.8 1268.2h0M755.8 1268.1h0M766.4 1268.2h0M759.4 1276.8h0M764.4 1273.1h0M763.1 1265.7h0M755 1274.1h0M751.8 1270.4h0M770.3 1272h0M768.5 1275.8h0M765 1277h0M770.2 1267.4h0M759.2 1273.1h0M706.7 1323.3h0M716 1321.7h0M704.4 1320.1h0M715.1 1326h0M720.1 1324h0M713.3 1318.9h0M702.1 1323.2h0M711.4 1324.5h0M792.2 1319.8h0M788.1 1316.5h0M790.8 1313h0M795.5 1316.8h0M674.3 1366.3h0M673 1355.6h0M675.1 1361.7h0M668 1358.7h0M669.3 1354.5h0M669 1363.8h0M721 1370.3h0M715.7 1370.4h0M717.3 1366.2h0M711.4 1366.5h0M708.6 1371.1h0M717.4 1373.8h0M746.9 1359.6h0M748.3 1365.1h0M752.3 1357.1h0M753.6 1362.8h0M751.6 1368.2h0M747.4 1368.8h0M862.4 1358.4h0M859.5 1368.1h0M866.8 1363.5h0M859.3 1355.3h0M858.9 1362.9h0M856.6 1358.3h0M855 1361.7h0M862.9 1363.6h0M856.2 1365.7h0M698.5 1414.2h0M694.9 1409.8h0M689.6 1413.6h0M701.2 1410.5h0M694.6 1414.2h0M690.5 1409.6h0M786.8 1395.9h0M794.3 1399.7h0M791.8 1392.6h0M790.9 1397.4h0M746.5 1424.2h0M741.8 1419.9h0M781 1451.6h0M775 1458.2h0M772.8 1452h0M784.3 1453.5h0M780 1456.6h0M771 1457.2h0M768.7 1453.3h0M783.7 1457.2h0M862.6 1426.2h0M858.7 1432.3h0M861.4 1436.1h0M864.6 1432.9h0M858.9 1428.4h0M865.3 1436.6h0M819.7 1390.2h0M825.6 1392.1h0M826.3 1385.8h0M821.7 1385.2h0M873.6 1246.7h0M875 1242.8h0M878.7 1246h0" stroke="#28e0ee" stroke-width="3.8" stroke-linecap="round" fill="none"/>
<path d="M789.2 1441h0M789.8 1448.7h0M785.4 1439.8h0M780.9 1440h0M783.9 1449.3h0M792.6 1445.2h0M781.7 1445.6h0M786.9 1445h0M778.1 1444.8h0M796.2 1442.6h0M751.8 1444.8h0M739.4 1447.8h0M747.4 1452h0M747 1442.2h0M742.2 1451.1h0M745.1 1446.2h0M741.5 1442.4h0M749.8 1448.4h0M686 1276.8h0M690.6 1285.9h0M690.9 1282h0M685.4 1283.5h0M680.3 1285.4h0M691.9 1275.8h0M681.8 1273.7h0M683.3 1288.5h0M685.3 1272.3h0M687 1287.5h0M679.4 1277.7h0M682 1281h0M689.6 1272.4h0M672.9 1298.4h0M676.2 1290.8h0M669.3 1300.6h0M665 1296.4h0M670.6 1292.9h0M675.9 1294.8h0M677.6 1300.9h0M667.9 1290.2h0M672.9 1302.2h0M688.2 1313.1h0M691.7 1307.4h0M689.8 1319.2h0M692.3 1302.3h0M687.9 1304.6h0M685.5 1308.8h0M693.3 1316h0M686.5 1317.3h0M701.4 1354.5h0M699.5 1351h0M694.9 1349.4h0M692.6 1352.7h0M696.4 1355.7h0M813 1353.1h0M821.9 1356.4h0M815.8 1359.2h0M820.1 1352.7h0M816.8 1354.8h0M825.3 1354.2h0M815.3 1349.9h0M822 1360.3h0M770.9 1439.5h0M771.8 1447.4h0M768.3 1443.2h0M773.3 1443.6h0M764.5 1440.9h0M764.8 1450.2h0M761.5 1443.2h0M759.8 1447h0M767.3 1447h0M769 1450.7h0M761.2 1438.1h0M767.7 1437.2h0M756.7 1443.7h0M681.6 1462.1h0M676 1459.2h0M667.8 1459.9h0M674.5 1455.5h0M684.1 1459.2h0M677.6 1463.9h0M678.9 1455.4h0M672.1 1458.6h0M846.9 1291.7h0M723.4 1257.9h0M843.2 1397h0" stroke="#20d820" stroke-width="3.8" stroke-linecap="round" fill="none"/>
</g>
</g>
<ellipse cx="690.2" cy="1034" rx="12.4" ry="19.8" fill="none" stroke="#e0283c" stroke-width="0.8"/>
<ellipse cx="671.8" cy="1050.3" rx="10.4" ry="14.1" fill="none" stroke="#2a9a5a" stroke-width="0.8"/>
<ellipse cx="706.5" cy="1036.4" rx="6.2" ry="5.4" fill="none" stroke="#2a9a5a" stroke-width="0.8"/>
<ellipse cx="708.2" cy="1061.9" rx="15.6" ry="16.3" fill="none" stroke="#2a9a5a" stroke-width="0.8"/>
<ellipse cx="739.2" cy="1079.5" rx="8.2" ry="7.9" fill="none" stroke="#e0283c" stroke-width="0.8"/>
<ellipse cx="672.3" cy="1092.2" rx="9.4" ry="11.1" fill="none" stroke="#e0283c" stroke-width="0.8"/>
<ellipse cx="706.7" cy="1110.2" rx="6.2" ry="5.4" fill="none" stroke="#2a9a5a" stroke-width="0.8"/>
<ellipse cx="879.8" cy="1077.8" rx="5.7" ry="6.7" fill="none" stroke="#e0283c" stroke-width="0.8"/>
<ellipse cx="837.7" cy="1116.7" rx="5.9" ry="6.7" fill="none" stroke="#e0283c" stroke-width="0.8"/>
<ellipse cx="740.9" cy="1181.5" rx="14.4" ry="31" fill="none" stroke="#e0283c" stroke-width="0.8"/>
<ellipse cx="822.6" cy="1157.8" rx="7.9" ry="11.1" fill="none" stroke="#2a9a5a" stroke-width="0.8"/>
<ellipse cx="805" cy="1183.8" rx="7.4" ry="6.9" fill="none" stroke="#2a9a5a" stroke-width="0.8"/>
<ellipse cx="829.1" cy="1184.8" rx="12.4" ry="12.4" fill="none" stroke="#e0283c" stroke-width="0.8"/>
<ellipse cx="774.6" cy="1213.7" rx="12.9" ry="24" fill="none" stroke="#e0283c" stroke-width="0.8"/>
<ellipse cx="800.6" cy="1215.5" rx="9.9" ry="20.3" fill="none" stroke="#e0283c" stroke-width="0.8"/>
<ellipse cx="832.3" cy="1216.7" rx="9.2" ry="14.9" fill="none" stroke="#e0283c" stroke-width="0.8"/>
<ellipse cx="869.9" cy="1222.9" rx="7.4" ry="8.2" fill="none" stroke="#2a9a5a" stroke-width="0.8"/>
<ellipse cx="684" cy="1274.1" rx="9.9" ry="9.9" fill="none" stroke="#2a9a5a" stroke-width="0.8"/>
<ellipse cx="691.6" cy="1293.7" rx="14.4" ry="11.9" fill="none" stroke="#2a9a5a" stroke-width="0.8"/>
<ellipse cx="751.8" cy="1283.5" rx="6.7" ry="5.9" fill="none" stroke="#e0283c" stroke-width="0.8"/>
<ellipse cx="793.7" cy="1300.1" rx="5.7" ry="6.4" fill="none" stroke="#e0283c" stroke-width="0.8"/>
<ellipse cx="799.4" cy="1314.5" rx="5.7" ry="6.4" fill="none" stroke="#e0283c" stroke-width="0.8"/>
<ellipse cx="733" cy="1337.8" rx="5.7" ry="6.2" fill="none" stroke="#e0283c" stroke-width="0.8"/>
<ellipse cx="734.5" cy="1348.9" rx="5.7" ry="6.2" fill="none" stroke="#e0283c" stroke-width="0.8"/>
<ellipse cx="723.1" cy="1373.7" rx="7.4" ry="12.4" fill="none" stroke="#2a9a5a" stroke-width="0.8"/>
<ellipse cx="808.3" cy="1381.8" rx="9.9" ry="11.1" fill="none" stroke="#2a9a5a" stroke-width="0.8"/>
<ellipse cx="855.8" cy="1371.2" rx="9.4" ry="9.4" fill="none" stroke="#2a9a5a" stroke-width="0.8"/>
<ellipse cx="708.5" cy="1414.8" rx="8.4" ry="8.7" fill="none" stroke="#2a9a5a" stroke-width="0.8"/>
<ellipse cx="831" cy="1416.5" rx="8.4" ry="8.7" fill="none" stroke="#2a9a5a" stroke-width="0.8"/>
<rect x="663.7" y="1013.7" width="224" height="224" fill="none" stroke="#111" stroke-width="1.5"/>
<rect x="663.7" y="1241.2" width="224" height="224.1" fill="none" stroke="#111" stroke-width="1.5"/>
<clipPath id="sc1"><rect x="892.2" y="1013.7" width="224.6" height="224"/></clipPath><g clip-path="url(#sc1)">
<ellipse cx="918" cy="1034.2" rx="12.4" ry="19.8" fill="#f6d2d8"/>
<ellipse cx="900.9" cy="1051.3" rx="9.9" ry="14.1" fill="#c6f1ac"/>
<ellipse cx="934.8" cy="1037.2" rx="5.4" ry="5.4" fill="#c6f1ac"/>
<ellipse cx="936" cy="1062.7" rx="15.6" ry="16.3" fill="#c6f1ac"/>
<ellipse cx="967.5" cy="1080.3" rx="8.2" ry="7.9" fill="#f6d2d8"/>
<ellipse cx="901.4" cy="1092.9" rx="9.4" ry="11.1" fill="#f6d2d8"/>
<ellipse cx="934.8" cy="1110.7" rx="6.2" ry="5.4" fill="#c6f1ac"/>
<ellipse cx="1107.6" cy="1078.3" rx="5.7" ry="6.7" fill="#f6d2d8"/>
<ellipse cx="1065.5" cy="1117.4" rx="5.9" ry="6.7" fill="#f6d2d8"/>
<ellipse cx="969" cy="1182.3" rx="14.4" ry="31" fill="#f6d2d8"/>
<ellipse cx="1050.4" cy="1158.3" rx="7.9" ry="11.1" fill="#c6f1ac"/>
<ellipse cx="1033.1" cy="1184.5" rx="7.4" ry="6.9" fill="#c6f1ac"/>
<ellipse cx="1056.9" cy="1185.3" rx="12.4" ry="12.4" fill="#f6d2d8"/>
<ellipse cx="1002.4" cy="1214.2" rx="12.9" ry="24" fill="#f6d2d8"/>
<ellipse cx="1028.4" cy="1216" rx="9.9" ry="20.3" fill="#f6d2d8"/>
<ellipse cx="1060.1" cy="1217.2" rx="9.2" ry="14.9" fill="#f6d2d8"/>
<ellipse cx="1098" cy="1223.6" rx="7.4" ry="8.2" fill="#c6f1ac"/>
<path d="M919.3 1027.4h0M918.5 1047.8h0M922.2 1040.2h0M911.6 1030.4h0M909.2 1034.2h0M927.4 1036.9h0M921.9 1046.1h0M914.5 1033h0M918.9 1038h0M911 1038.8h0M925.6 1040.6h0M925.7 1032.8h0M917.6 1020.3h0M920.1 1032.8h0M968.4 1078.8h0M965.5 1078.4h0M1104.2 1078.6h0M1107.8 1076.5h0M1065.5 1117.4h0M1035.5 1187.9h0M1034.9 1181.5h0M1030.7 1185.3h0M1061.1 1208.7h0M1063.7 1212.2h0M1060.5 1225.6h0M1057.9 1215.9h0M1061.6 1216.4h0M1066.9 1214.6h0M1055.9 1221.9h0" stroke="#1414f0" stroke-width="3.1" stroke-linecap="round" fill="none"/>
<path d="M934.8 1037.2h0M943.7 1057.2h0M942.7 1065.3h0M934.9 1059.5h0M935.1 1066h0M942.5 1052.6h0M926 1063.9h0M939.3 1062.9h0M930.5 1067.5h0M935.3 1073.3h0M947.9 1064.7h0M936.8 1070.4h0M927.1 1071.6h0M934 1054.1h0M931 1063h0M900.7 1097.8h0M902.7 1093.7h0M904.6 1089.2h0M898.7 1086.3h0M971.9 1170.6h0M968.9 1204.3h0M976 1166.5h0M964.2 1202.9h0M970.8 1158.4h0M959.9 1185h0M970.3 1167.4h0M963.1 1181.9h0M967.6 1171.8h0M976.4 1191h0M972.3 1191.7h0M969.5 1176.8h0M975.4 1173.5h0M961.1 1175.5h0M971.2 1184.1h0M967.6 1166.1h0M962.7 1166h0M968.5 1190.1h0M971.8 1180.5h0M959.6 1196h0M971.1 1161.9h0M974.7 1181.5h0M959.3 1171.3h0M962.7 1194h0M965.2 1179.3h0M1057.5 1194.7h0M1049.6 1186.2h0M1056.3 1188.5h0M1061.1 1185.5h0M1051.4 1180.3h0M1062.8 1179.4h0M1053.7 1177.6h0M1051.4 1183.8h0M1050.2 1191.1h0M1052.2 1193.7h0M1059.8 1181.7h0M1060.2 1189.6h0M1029 1225.3h0M1029.1 1209h0M1029 1229h0M1031.1 1220.9h0M1024.5 1210.6h0M1032.8 1213h0M1026.1 1218.9h0M1029.1 1212.6h0M1032.2 1216.7h0M1029 1200.6h0M1033.9 1209.4h0M1025.8 1201.1h0M1026.8 1215.5h0M1023.1 1222.5h0M1029.1 1218.7h0M1022.6 1217.2h0M1026.9 1204.4h0M1033.5 1227h0M1031 1203h0M1022.3 1207.6h0M1022 1213.7h0M1026.2 1222.7h0" stroke="#d4107c" stroke-width="3.1" stroke-linecap="round" fill="none"/>
<path d="M905.2 1042.1h0M900.9 1040.5h0M898 1050.5h0M894.7 1052.8h0M901.3 1045.7h0M902.5 1050.5h0M895.9 1060h0M906.6 1058.8h0M937.2 1114.3h0M932.7 1112.4h0M1049.7 1155.2h0M1045.7 1152.4h0M1048.8 1164.4h0M1051.8 1163.2h0M1049 1160.9h0M1005.2 1210.8h0M998 1214.6h0M1000.7 1218.2h0M1003.2 1208.1h0M997.1 1208.1h0M1000.9 1211.1h0M1004.6 1214.8h0M1001.5 1203.2h0M1001.3 1226h0M1006.7 1205.9h0M995.6 1212.8h0M1006.5 1200.2h0M1000.7 1232.4h0M1008.5 1218.2h0M997.3 1203.1h0M998.4 1220.9h0M1006.8 1222.1h0M1010.2 1210h0M1005.5 1217.9h0M1002.1 1195.3h0M1097.5 1225h0M1102.6 1224.3h0" stroke="#12a822" stroke-width="3.1" stroke-linecap="round" fill="none"/>
</g>
<ellipse cx="912" cy="1274.1" rx="9.9" ry="9.9" fill="#c6f1ac"/>
<ellipse cx="919.4" cy="1293.7" rx="14.4" ry="11.9" fill="#c6f1ac"/>
<ellipse cx="979.6" cy="1283.5" rx="6.7" ry="5.9" fill="#f6d2d8"/>
<ellipse cx="1021.7" cy="1300.1" rx="5.7" ry="6.4" fill="#f6d2d8"/>
<ellipse cx="1027.4" cy="1314.5" rx="5.7" ry="6.4" fill="#f6d2d8"/>
<ellipse cx="960.8" cy="1337.8" rx="5.7" ry="6.2" fill="#f6d2d8"/>
<ellipse cx="962.3" cy="1348.9" rx="5.7" ry="6.2" fill="#f6d2d8"/>
<ellipse cx="951.4" cy="1373.7" rx="7.4" ry="12.4" fill="#c6f1ac"/>
<ellipse cx="1036.3" cy="1381.8" rx="9.9" ry="11.1" fill="#c6f1ac"/>
<ellipse cx="1083.9" cy="1371.2" rx="9.4" ry="9.4" fill="#c6f1ac"/>
<ellipse cx="936.3" cy="1414.8" rx="8.4" ry="8.7" fill="#c6f1ac"/>
<ellipse cx="1059.1" cy="1416.5" rx="8.4" ry="8.7" fill="#c6f1ac"/>
<path d="M962.3 1348.9h0M950.4 1375.9h0M951.3 1383.1h0M949.5 1380.5h0M949 1367.6h0M950.3 1371.2h0M954.7 1374.6h0M952.9 1377.6h0M953.3 1368.1h0M945.9 1374.3h0M1083.2 1369.1h0M1081.1 1371.7h0M1088.3 1369.1h0M1085.1 1373.3h0M1079.7 1366.1h0" stroke="#1414f0" stroke-width="3.1" stroke-linecap="round" fill="none"/>
<path d="M912.6 1278.8h0M911.7 1275.6h0M908.5 1276.9h0M916.7 1273h0M914.7 1270.1h0M919.3 1275.2h0M910 1269.3h0M913.3 1272.8h0M979.6 1283.5h0M960.8 1337.8h0M942.9 1415h0M934 1418.7h0M940.5 1412.6h0M933.7 1414.6h0" stroke="#d4107c" stroke-width="3.1" stroke-linecap="round" fill="none"/>
<path d="M926.8 1298.6h0M918 1297.9h0M920.7 1289.5h0M913.1 1300.6h0M925 1295.6h0M910.8 1297.4h0M923.1 1301h0M910.1 1291.1h0M916 1292.6h0M925 1292.1h0M915.6 1288.9h0M912.6 1286.7h0M912.9 1294h0M921.5 1295.7h0M1021.7 1300.1h0M1027.4 1314.5h0M1030.7 1382.7h0M1038.3 1375.7h0M1036 1379.5h0M1036.8 1383.9h0M1033.8 1384.6h0M1055.3 1411.9h0M1064.4 1418.5h0M1057 1417.8h0M1064 1414.6h0M1062.4 1410.8h0M1059.1 1414.8h0M1060.6 1418.5h0" stroke="#12a822" stroke-width="3.1" stroke-linecap="round" fill="none"/>
<rect x="892.2" y="1013.7" width="224.6" height="224" fill="none" stroke="#111" stroke-width="1.5"/>
<rect x="891.5" y="1241.2" width="224.5" height="224.1" fill="none" stroke="#111" stroke-width="1.5"/>
<text font-size="17" textLength="59.7" lengthAdjust="spacingAndGlyphs" transform="translate(1133.4 1038.6) rotate(90)">Myc-WT</text>
<text font-size="17" textLength="59.7" lengthAdjust="spacingAndGlyphs" transform="translate(1154.8 1038.6) rotate(90)">Myc-WT</text>
<circle cx="1138.6" cy="1112.1" r="5.6" fill="#b6ee8c"/>
<circle cx="1138.6" cy="1112.1" r="2.6" fill="#d4107c"/>
<circle cx="1160" cy="1112.1" r="5.6" fill="#f5a6b4"/>
<circle cx="1160" cy="1112.1" r="2.6" fill="#d4107c"/>
<text x="1171.2" y="1117.9" font-size="17" textLength="90.9" lengthAdjust="spacingAndGlyphs">H2B–Cherry</text>
<circle cx="1138.6" cy="1136.4" r="5.6" fill="#b6ee8c"/>
<circle cx="1138.6" cy="1136.4" r="2.6" fill="#12a822"/>
<circle cx="1160" cy="1136.4" r="5.6" fill="#f5a6b4"/>
<circle cx="1160" cy="1136.4" r="2.6" fill="#12a822"/>
<text x="1171.2" y="1142.2" font-size="17" textLength="80.7" lengthAdjust="spacingAndGlyphs">H2B–eGFP</text>
<circle cx="1138.6" cy="1160.6" r="5.6" fill="#b6ee8c"/>
<circle cx="1138.6" cy="1160.6" r="2.6" fill="#1414f0"/>
<circle cx="1160" cy="1160.6" r="5.6" fill="#f5a6b4"/>
<circle cx="1160" cy="1160.6" r="2.6" fill="#1414f0"/>
<text x="1171.2" y="1166.4" font-size="17" textLength="107.9" lengthAdjust="spacingAndGlyphs">H2B–Cerulean</text>
<text font-size="17" textLength="46.3" lengthAdjust="spacingAndGlyphs" transform="translate(1133.4 1173.3) rotate(90)"><tspan>MYFP</tspan><tspan font-size="10" dy="-6">+</tspan><tspan dy="6"></tspan></text>
<text font-size="17" textLength="75.3" lengthAdjust="spacingAndGlyphs" transform="translate(1154.8 1173.3) rotate(90)"><tspan>MTomato</tspan><tspan font-size="10" dy="-6">+</tspan><tspan dy="6"></tspan></text>
<text font-size="17" textLength="60.5" lengthAdjust="spacingAndGlyphs" transform="translate(1129.8 1258.8) rotate(90)">Myc-WT</text>
<text font-size="17" textLength="60.5" lengthAdjust="spacingAndGlyphs" transform="translate(1151.5 1258.8) rotate(90)">Myc-KO</text>
<circle cx="1135" cy="1332.6" r="5.6" fill="#b6ee8c"/>
<circle cx="1135" cy="1332.6" r="2.6" fill="#d4107c"/>
<circle cx="1156.7" cy="1332.6" r="5.6" fill="#f5a6b4"/>
<circle cx="1156.7" cy="1332.6" r="2.6" fill="#d4107c"/>
<text x="1168.6" y="1338.4" font-size="17" textLength="90.6" lengthAdjust="spacingAndGlyphs">H2B–Cherry</text>
<circle cx="1135" cy="1356.5" r="5.6" fill="#b6ee8c"/>
<circle cx="1135" cy="1356.5" r="2.6" fill="#12a822"/>
<circle cx="1156.7" cy="1356.5" r="5.6" fill="#f5a6b4"/>
<circle cx="1156.7" cy="1356.5" r="2.6" fill="#12a822"/>
<text x="1168.6" y="1362.3" font-size="17" textLength="79.7" lengthAdjust="spacingAndGlyphs">H2B–eGFP</text>
<circle cx="1135" cy="1381.5" r="5.6" fill="#b6ee8c"/>
<circle cx="1135" cy="1381.5" r="2.6" fill="#1414f0"/>
<circle cx="1156.7" cy="1381.5" r="5.6" fill="#f5a6b4"/>
<circle cx="1156.7" cy="1381.5" r="2.6" fill="#1414f0"/>
<text x="1168.6" y="1387.3" font-size="17" textLength="107.6" lengthAdjust="spacingAndGlyphs">H2B–Cerulean</text>
<text font-size="17" textLength="46" lengthAdjust="spacingAndGlyphs" transform="translate(1129.8 1394.6) rotate(90)"><tspan>MYFP</tspan><tspan font-size="10" dy="-6">+</tspan><tspan dy="6"></tspan></text>
<text font-size="17" textLength="75" lengthAdjust="spacingAndGlyphs" transform="translate(1151.5 1394.6) rotate(90)"><tspan>MTomato</tspan><tspan font-size="10" dy="-6">+</tspan><tspan dy="6"></tspan></text>
<text x="1301.6" y="968.1" font-size="37" fill="#000" font-weight="bold" stroke="#000" stroke-width="1.0">h</text>
<line x1="1396.8" y1="959.8" x2="1396.8" y2="1039.5" stroke="#1a1a1a" stroke-width="1.4"/>
<line x1="1396.8" y1="1049" x2="1396.8" y2="1126.9" stroke="#1a1a1a" stroke-width="1.4"/>
<line x1="1389.8" y1="1028.9" x2="1396.8" y2="1028.9" stroke="#1a1a1a" stroke-width="1.3"/>
<line x1="1389.8" y1="1011.8" x2="1396.8" y2="1011.8" stroke="#1a1a1a" stroke-width="1.3"/>
<line x1="1389.8" y1="994.6" x2="1396.8" y2="994.6" stroke="#1a1a1a" stroke-width="1.3"/>
<line x1="1389.8" y1="977.5" x2="1396.8" y2="977.5" stroke="#1a1a1a" stroke-width="1.3"/>
<line x1="1389.8" y1="960.3" x2="1396.8" y2="960.3" stroke="#1a1a1a" stroke-width="1.3"/>
<line x1="1389.8" y1="1101.4" x2="1396.8" y2="1101.4" stroke="#1a1a1a" stroke-width="1.3"/>
<line x1="1389.8" y1="1075.8" x2="1396.8" y2="1075.8" stroke="#1a1a1a" stroke-width="1.3"/>
<line x1="1389" y1="1126.9" x2="1960.5" y2="1126.9" stroke="#1a1a1a" stroke-width="1.4"/>
<line x1="1410.9" y1="1126.9" x2="1410.9" y2="1133.9" stroke="#1a1a1a" stroke-width="1.3299999999999998"/>
<line x1="1439" y1="1126.9" x2="1439" y2="1133.9" stroke="#1a1a1a" stroke-width="1.3299999999999998"/>
<line x1="1467.1" y1="1126.9" x2="1467.1" y2="1133.9" stroke="#1a1a1a" stroke-width="1.3299999999999998"/>
<line x1="1495.1" y1="1126.9" x2="1495.1" y2="1133.9" stroke="#1a1a1a" stroke-width="1.3299999999999998"/>
<line x1="1523.2" y1="1126.9" x2="1523.2" y2="1133.9" stroke="#1a1a1a" stroke-width="1.3299999999999998"/>
<line x1="1551.3" y1="1126.9" x2="1551.3" y2="1133.9" stroke="#1a1a1a" stroke-width="1.3299999999999998"/>
<line x1="1579.4" y1="1126.9" x2="1579.4" y2="1133.9" stroke="#1a1a1a" stroke-width="1.3299999999999998"/>
<line x1="1607.5" y1="1126.9" x2="1607.5" y2="1133.9" stroke="#1a1a1a" stroke-width="1.3299999999999998"/>
<line x1="1635.5" y1="1126.9" x2="1635.5" y2="1133.9" stroke="#1a1a1a" stroke-width="1.3299999999999998"/>
<line x1="1663.6" y1="1126.9" x2="1663.6" y2="1133.9" stroke="#1a1a1a" stroke-width="1.3299999999999998"/>
<line x1="1691.7" y1="1126.9" x2="1691.7" y2="1133.9" stroke="#1a1a1a" stroke-width="1.3299999999999998"/>
<line x1="1719.8" y1="1126.9" x2="1719.8" y2="1133.9" stroke="#1a1a1a" stroke-width="1.3299999999999998"/>
<line x1="1747.9" y1="1126.9" x2="1747.9" y2="1133.9" stroke="#1a1a1a" stroke-width="1.3299999999999998"/>
<line x1="1775.9" y1="1126.9" x2="1775.9" y2="1133.9" stroke="#1a1a1a" stroke-width="1.3299999999999998"/>
<line x1="1804" y1="1126.9" x2="1804" y2="1133.9" stroke="#1a1a1a" stroke-width="1.3299999999999998"/>
<line x1="1832.1" y1="1126.9" x2="1832.1" y2="1133.9" stroke="#1a1a1a" stroke-width="1.3299999999999998"/>
<line x1="1860.2" y1="1126.9" x2="1860.2" y2="1133.9" stroke="#1a1a1a" stroke-width="1.3299999999999998"/>
<line x1="1888.3" y1="1126.9" x2="1888.3" y2="1133.9" stroke="#1a1a1a" stroke-width="1.3299999999999998"/>
<line x1="1916.3" y1="1126.9" x2="1916.3" y2="1133.9" stroke="#1a1a1a" stroke-width="1.3299999999999998"/>
<line x1="1944.4" y1="1126.9" x2="1944.4" y2="1133.9" stroke="#1a1a1a" stroke-width="1.3299999999999998"/>
<polyline points="1410.9,968.1 1439,1013.3 1467.1,1086.4 1495.1,1113.5 1523.2,1122.9 1551.3,1118.4 1579.4,1122.9 1607.5,1126.9 1635.5,1126.9 1663.6,1126.9 1691.7,1126.9 1719.8,1122.4 1747.9,1126.9 1775.9,1126.9 1804,1126.9 1832.1,1126.9 1860.2,1126.9 1888.3,1126.9 1916.3,1126.9 1944.4,1126.9" fill="none" stroke="#f01d23" stroke-width="1.5" stroke-linejoin="round"/>
<polyline points="1410.9,999.2 1439,1026.2 1467.1,1061.1 1495.1,1106.3 1523.2,1112.1 1551.3,1103.2 1579.4,1109 1607.5,1124.4 1635.5,1118.4 1663.6,1112.1 1691.7,1118.4 1719.8,1126.2 1747.9,1124.4 1775.9,1124.4 1804,1121.1 1832.1,1124.4 1860.2,1126.7 1888.3,1124.4 1916.3,1124.4 1944.4,1118.4" fill="none" stroke="#c2c31e" stroke-width="1.5" stroke-linejoin="round"/>
<rect x="1398" y="1038.8" width="80" height="10.2" fill="#fff"/>
<line x1="1393.2" y1="1035.6" x2="1401.5" y2="1043.2" stroke="#1a1a1a" stroke-width="1.3"/>
<line x1="1393.2" y1="1045" x2="1401.5" y2="1052.6" stroke="#1a1a1a" stroke-width="1.3"/>
<circle cx="1410.9" cy="968.1" r="2.8" fill="#fff" stroke="#f01d23" stroke-width="1.5"/>
<circle cx="1439" cy="1013.3" r="2.8" fill="#fff" stroke="#f01d23" stroke-width="1.5"/>
<circle cx="1467.1" cy="1086.4" r="2.8" fill="#fff" stroke="#f01d23" stroke-width="1.5"/>
<circle cx="1495.1" cy="1113.5" r="2.8" fill="#fff" stroke="#f01d23" stroke-width="1.5"/>
<circle cx="1523.2" cy="1122.9" r="2.8" fill="#fff" stroke="#f01d23" stroke-width="1.5"/>
<circle cx="1551.3" cy="1118.4" r="2.8" fill="#fff" stroke="#f01d23" stroke-width="1.5"/>
<circle cx="1579.4" cy="1122.9" r="2.8" fill="#fff" stroke="#f01d23" stroke-width="1.5"/>
<circle cx="1607.5" cy="1126.9" r="2.8" fill="#fff" stroke="#f01d23" stroke-width="1.5"/>
<circle cx="1635.5" cy="1126.9" r="2.8" fill="#fff" stroke="#f01d23" stroke-width="1.5"/>
<circle cx="1663.6" cy="1126.9" r="2.8" fill="#fff" stroke="#f01d23" stroke-width="1.5"/>
<circle cx="1691.7" cy="1126.9" r="2.8" fill="#fff" stroke="#f01d23" stroke-width="1.5"/>
<circle cx="1719.8" cy="1122.4" r="2.8" fill="#fff" stroke="#f01d23" stroke-width="1.5"/>
<circle cx="1747.9" cy="1126.9" r="2.8" fill="#fff" stroke="#f01d23" stroke-width="1.5"/>
<circle cx="1775.9" cy="1126.9" r="2.8" fill="#fff" stroke="#f01d23" stroke-width="1.5"/>
<circle cx="1804" cy="1126.9" r="2.8" fill="#fff" stroke="#f01d23" stroke-width="1.5"/>
<circle cx="1832.1" cy="1126.9" r="2.8" fill="#fff" stroke="#f01d23" stroke-width="1.5"/>
<circle cx="1860.2" cy="1126.9" r="2.8" fill="#fff" stroke="#f01d23" stroke-width="1.5"/>
<circle cx="1888.3" cy="1126.9" r="2.8" fill="#fff" stroke="#f01d23" stroke-width="1.5"/>
<circle cx="1916.3" cy="1126.9" r="2.8" fill="#fff" stroke="#f01d23" stroke-width="1.5"/>
<circle cx="1944.4" cy="1126.9" r="2.8" fill="#fff" stroke="#f01d23" stroke-width="1.5"/>
<circle cx="1410.9" cy="999.2" r="2.8" fill="#fff" stroke="#c2c31e" stroke-width="1.5"/>
<circle cx="1439" cy="1026.2" r="2.8" fill="#fff" stroke="#c2c31e" stroke-width="1.5"/>
<circle cx="1467.1" cy="1061.1" r="2.8" fill="#fff" stroke="#c2c31e" stroke-width="1.5"/>
<circle cx="1495.1" cy="1106.3" r="2.8" fill="#fff" stroke="#c2c31e" stroke-width="1.5"/>
<circle cx="1523.2" cy="1112.1" r="2.8" fill="#fff" stroke="#c2c31e" stroke-width="1.5"/>
<circle cx="1551.3" cy="1103.2" r="2.8" fill="#fff" stroke="#c2c31e" stroke-width="1.5"/>
<circle cx="1579.4" cy="1109" r="2.8" fill="#fff" stroke="#c2c31e" stroke-width="1.5"/>
<circle cx="1607.5" cy="1124.4" r="2.8" fill="#fff" stroke="#c2c31e" stroke-width="1.5"/>
<circle cx="1635.5" cy="1118.4" r="2.8" fill="#fff" stroke="#c2c31e" stroke-width="1.5"/>
<circle cx="1663.6" cy="1112.1" r="2.8" fill="#fff" stroke="#c2c31e" stroke-width="1.5"/>
<circle cx="1691.7" cy="1118.4" r="2.8" fill="#fff" stroke="#c2c31e" stroke-width="1.5"/>
<circle cx="1719.8" cy="1126.2" r="2.8" fill="#fff" stroke="#c2c31e" stroke-width="1.5"/>
<circle cx="1747.9" cy="1124.4" r="2.8" fill="#fff" stroke="#c2c31e" stroke-width="1.5"/>
<circle cx="1775.9" cy="1124.4" r="2.8" fill="#fff" stroke="#c2c31e" stroke-width="1.5"/>
<circle cx="1804" cy="1121.1" r="2.8" fill="#fff" stroke="#c2c31e" stroke-width="1.5"/>
<circle cx="1832.1" cy="1124.4" r="2.8" fill="#fff" stroke="#c2c31e" stroke-width="1.5"/>
<circle cx="1860.2" cy="1126.7" r="2.8" fill="#fff" stroke="#c2c31e" stroke-width="1.5"/>
<circle cx="1888.3" cy="1124.4" r="2.8" fill="#fff" stroke="#c2c31e" stroke-width="1.5"/>
<circle cx="1916.3" cy="1124.4" r="2.8" fill="#fff" stroke="#c2c31e" stroke-width="1.5"/>
<circle cx="1944.4" cy="1118.4" r="2.8" fill="#fff" stroke="#c2c31e" stroke-width="1.5"/>
<text x="1360.1" y="966.9" font-size="18.5" textLength="22.2" lengthAdjust="spacingAndGlyphs">60</text>
<text x="1360.1" y="984.1" font-size="18.5" textLength="22.2" lengthAdjust="spacingAndGlyphs">50</text>
<text x="1360.1" y="1001.1" font-size="18.5" textLength="22.2" lengthAdjust="spacingAndGlyphs">40</text>
<text x="1360.1" y="1018.3" font-size="18.5" textLength="22.2" lengthAdjust="spacingAndGlyphs">30</text>
<text x="1360.1" y="1035.5" font-size="18.5" textLength="22.2" lengthAdjust="spacingAndGlyphs">20</text>
<text x="1363.1" y="1056.8" font-size="18.5" textLength="19.2" lengthAdjust="spacingAndGlyphs">15</text>
<text x="1363.1" y="1082.3" font-size="18.5" textLength="19.2" lengthAdjust="spacingAndGlyphs">10</text>
<text x="1371.2" y="1108" font-size="18.5" textLength="11.1" lengthAdjust="spacingAndGlyphs">5</text>
<text x="1371.2" y="1133.5" font-size="18.5" textLength="11.1" lengthAdjust="spacingAndGlyphs">0</text>
<text x="1406.9" y="1155.3" font-size="18.5" textLength="8.1" lengthAdjust="spacingAndGlyphs">1</text>
<text x="1433.4" y="1155.3" font-size="18.5" textLength="11.1" lengthAdjust="spacingAndGlyphs">2</text>
<text x="1461.5" y="1155.3" font-size="18.5" textLength="11.1" lengthAdjust="spacingAndGlyphs">3</text>
<text x="1489.6" y="1155.3" font-size="18.5" textLength="11.1" lengthAdjust="spacingAndGlyphs">4</text>
<text x="1517.7" y="1155.3" font-size="18.5" textLength="11.1" lengthAdjust="spacingAndGlyphs">5</text>
<text x="1545.8" y="1155.3" font-size="18.5" textLength="11.1" lengthAdjust="spacingAndGlyphs">6</text>
<text x="1573.8" y="1155.3" font-size="18.5" textLength="11.1" lengthAdjust="spacingAndGlyphs">7</text>
<text x="1601.9" y="1155.3" font-size="18.5" textLength="11.1" lengthAdjust="spacingAndGlyphs">8</text>
<text x="1630" y="1155.3" font-size="18.5" textLength="11.1" lengthAdjust="spacingAndGlyphs">9</text>
<text x="1654" y="1155.3" font-size="18.5" textLength="19.2" lengthAdjust="spacingAndGlyphs">10</text>
<text x="1683.6" y="1155.3" font-size="18.5" textLength="16.2" lengthAdjust="spacingAndGlyphs">11</text>
<text x="1710.2" y="1155.3" font-size="18.5" textLength="19.2" lengthAdjust="spacingAndGlyphs">12</text>
<text x="1738.3" y="1155.3" font-size="18.5" textLength="19.2" lengthAdjust="spacingAndGlyphs">13</text>
<text x="1766.3" y="1155.3" font-size="18.5" textLength="19.2" lengthAdjust="spacingAndGlyphs">14</text>
<text x="1794.4" y="1155.3" font-size="18.5" textLength="19.2" lengthAdjust="spacingAndGlyphs">15</text>
<text x="1822.5" y="1155.3" font-size="18.5" textLength="19.2" lengthAdjust="spacingAndGlyphs">16</text>
<text x="1850.6" y="1155.3" font-size="18.5" textLength="19.2" lengthAdjust="spacingAndGlyphs">17</text>
<text x="1878.7" y="1155.3" font-size="18.5" textLength="19.2" lengthAdjust="spacingAndGlyphs">18</text>
<text x="1906.7" y="1155.3" font-size="18.5" textLength="19.2" lengthAdjust="spacingAndGlyphs">19</text>
<text x="1934.2" y="1155.3" font-size="18.5" textLength="26.3" lengthAdjust="spacingAndGlyphs">20+</text>
<text x="1625" y="1185.5" font-size="22" textLength="106.9" lengthAdjust="spacingAndGlyphs">Clone size</text>
<text font-size="22" textLength="105.8" lengthAdjust="spacingAndGlyphs" transform="translate(1314.1 1099.4) rotate(-90)">Percent of</text>
<text font-size="22" textLength="67.1" lengthAdjust="spacingAndGlyphs" transform="translate(1342 1077) rotate(-90)">clones</text>
<line x1="1488.1" y1="968.1" x2="1514.9" y2="968.1" stroke="#c2c31e" stroke-width="1.5"/>
<circle cx="1501.5" cy="968.1" r="3" fill="#fff" stroke="#c2c31e" stroke-width="1.5"/>
<line x1="1488.1" y1="993.1" x2="1514.9" y2="993.1" stroke="#f01d23" stroke-width="1.5"/>
<circle cx="1501.5" cy="993.1" r="3" fill="#fff" stroke="#f01d23" stroke-width="1.5"/>
<text x="1523.9" y="975.3" font-size="18.5" fill="#a9aa16" textLength="417.6" lengthAdjust="spacingAndGlyphs"><tspan font-style="italic">Myc</tspan><tspan font-style="italic" font-size="10.5" dy="-6.7">WT</tspan><tspan font-style="normal" dy="6.7">: average clone size of 3.60 (</tspan><tspan font-style="italic">n</tspan><tspan font-style="normal"> = 171 clones)</tspan></text>
<text x="1523.9" y="998.7" font-size="18.5" fill="#ee1c25" textLength="413.8" lengthAdjust="spacingAndGlyphs"><tspan font-style="italic">Myc</tspan><tspan font-style="italic" font-size="10.5" dy="-6.7">KO</tspan><tspan font-style="normal" dy="6.7">: average clone size of 1.80 (</tspan><tspan font-style="italic">n</tspan><tspan font-style="normal"> = 113 clones)</tspan></text>
<text x="1600.3" y="1039.7" font-size="18.5" textLength="287" lengthAdjust="spacingAndGlyphs">Pancreatic cells clonal expansion</text>
<text x="1705.7" y="1062.9" font-size="18.5" textLength="77.2" lengthAdjust="spacingAndGlyphs">P1 to P20</text>
<text x="1302.4" y="1229.8" font-size="37" fill="#000" font-weight="bold" stroke="#000" stroke-width="1.0">i</text>
<line x1="1410.7" y1="1250.3" x2="1410.7" y2="1428.9" stroke="#1a1a1a" stroke-width="1.4"/>
<line x1="1404.2" y1="1250.8" x2="1410.7" y2="1250.8" stroke="#1a1a1a" stroke-width="1.3299999999999998"/>
<line x1="1404.2" y1="1310.3" x2="1410.7" y2="1310.3" stroke="#1a1a1a" stroke-width="1.3299999999999998"/>
<line x1="1404.2" y1="1369.8" x2="1410.7" y2="1369.8" stroke="#1a1a1a" stroke-width="1.3299999999999998"/>
<line x1="1404.6" y1="1428.9" x2="1665.9" y2="1428.9" stroke="#1a1a1a" stroke-width="1.4"/>
<line x1="1424.8" y1="1428.9" x2="1424.8" y2="1435.9" stroke="#1a1a1a" stroke-width="1.3299999999999998"/>
<line x1="1453.1" y1="1428.9" x2="1453.1" y2="1435.9" stroke="#1a1a1a" stroke-width="1.3299999999999998"/>
<line x1="1481.3" y1="1428.9" x2="1481.3" y2="1435.9" stroke="#1a1a1a" stroke-width="1.3299999999999998"/>
<line x1="1509.6" y1="1428.9" x2="1509.6" y2="1435.9" stroke="#1a1a1a" stroke-width="1.3299999999999998"/>
<line x1="1537.8" y1="1428.9" x2="1537.8" y2="1435.9" stroke="#1a1a1a" stroke-width="1.3299999999999998"/>
<line x1="1566.1" y1="1428.9" x2="1566.1" y2="1435.9" stroke="#1a1a1a" stroke-width="1.3299999999999998"/>
<line x1="1594.4" y1="1428.9" x2="1594.4" y2="1435.9" stroke="#1a1a1a" stroke-width="1.3299999999999998"/>
<line x1="1622.6" y1="1428.9" x2="1622.6" y2="1435.9" stroke="#1a1a1a" stroke-width="1.3299999999999998"/>
<line x1="1650.9" y1="1428.9" x2="1650.9" y2="1435.9" stroke="#1a1a1a" stroke-width="1.3299999999999998"/>
<polyline points="1424.8,1400.2 1453.1,1394.6 1481.3,1412.5 1509.6,1413.4 1537.8,1398 1566.1,1400.9 1594.4,1423.5 1622.6,1410.7 1650.9,1290.2" fill="none" stroke="#c2c31e" stroke-width="1.5" stroke-linejoin="round"/>
<circle cx="1424.8" cy="1400.2" r="2.8" fill="#fff" stroke="#c2c31e" stroke-width="1.5"/>
<circle cx="1453.1" cy="1394.6" r="2.8" fill="#fff" stroke="#c2c31e" stroke-width="1.5"/>
<circle cx="1481.3" cy="1412.5" r="2.8" fill="#fff" stroke="#c2c31e" stroke-width="1.5"/>
<circle cx="1509.6" cy="1413.4" r="2.8" fill="#fff" stroke="#c2c31e" stroke-width="1.5"/>
<circle cx="1537.8" cy="1398" r="2.8" fill="#fff" stroke="#c2c31e" stroke-width="1.5"/>
<circle cx="1566.1" cy="1400.9" r="2.8" fill="#fff" stroke="#c2c31e" stroke-width="1.5"/>
<circle cx="1594.4" cy="1423.5" r="2.8" fill="#fff" stroke="#c2c31e" stroke-width="1.5"/>
<circle cx="1622.6" cy="1410.7" r="2.8" fill="#fff" stroke="#c2c31e" stroke-width="1.5"/>
<circle cx="1650.9" cy="1290.2" r="2.8" fill="#fff" stroke="#c2c31e" stroke-width="1.5"/>
<polyline points="1424.8,1389.9 1453.1,1407.8 1481.3,1418.6 1509.6,1424.4 1537.8,1417.4 1566.1,1422.1 1594.4,1428.9 1622.6,1428.9 1650.9,1416.1" fill="none" stroke="#f01d23" stroke-width="1.5" stroke-linejoin="round"/>
<circle cx="1424.8" cy="1389.9" r="2.8" fill="#fff" stroke="#f01d23" stroke-width="1.5"/>
<circle cx="1453.1" cy="1407.8" r="2.8" fill="#fff" stroke="#f01d23" stroke-width="1.5"/>
<circle cx="1481.3" cy="1418.6" r="2.8" fill="#fff" stroke="#f01d23" stroke-width="1.5"/>
<circle cx="1509.6" cy="1424.4" r="2.8" fill="#fff" stroke="#f01d23" stroke-width="1.5"/>
<circle cx="1537.8" cy="1417.4" r="2.8" fill="#fff" stroke="#f01d23" stroke-width="1.5"/>
<circle cx="1566.1" cy="1422.1" r="2.8" fill="#fff" stroke="#f01d23" stroke-width="1.5"/>
<circle cx="1594.4" cy="1428.9" r="2.8" fill="#fff" stroke="#f01d23" stroke-width="1.5"/>
<circle cx="1622.6" cy="1428.9" r="2.8" fill="#fff" stroke="#f01d23" stroke-width="1.5"/>
<circle cx="1650.9" cy="1416.1" r="2.8" fill="#fff" stroke="#f01d23" stroke-width="1.5"/>
<text x="1365.9" y="1257.4" font-size="18.5" textLength="30.3" lengthAdjust="spacingAndGlyphs">150</text>
<text x="1365.9" y="1316.9" font-size="18.5" textLength="30.3" lengthAdjust="spacingAndGlyphs">100</text>
<text x="1374" y="1376.4" font-size="18.5" textLength="22.2" lengthAdjust="spacingAndGlyphs">50</text>
<text x="1385.1" y="1435.5" font-size="18.5" textLength="11.1" lengthAdjust="spacingAndGlyphs">0</text>
<text x="1419.2" y="1455.7" font-size="18.5" textLength="11.1" lengthAdjust="spacingAndGlyphs">2</text>
<text x="1447.5" y="1455.7" font-size="18.5" textLength="11.1" lengthAdjust="spacingAndGlyphs">3</text>
<text x="1475.8" y="1455.7" font-size="18.5" textLength="11.1" lengthAdjust="spacingAndGlyphs">4</text>
<text x="1504" y="1455.7" font-size="18.5" textLength="11.1" lengthAdjust="spacingAndGlyphs">5</text>
<text x="1532.3" y="1455.7" font-size="18.5" textLength="11.1" lengthAdjust="spacingAndGlyphs">6</text>
<text x="1560.5" y="1455.7" font-size="18.5" textLength="11.1" lengthAdjust="spacingAndGlyphs">7</text>
<text x="1588.8" y="1455.7" font-size="18.5" textLength="11.1" lengthAdjust="spacingAndGlyphs">8</text>
<text x="1617.1" y="1455.7" font-size="18.5" textLength="11.1" lengthAdjust="spacingAndGlyphs">9</text>
<text x="1636.5" y="1455.7" font-size="18.5" textLength="28.7" lengthAdjust="spacingAndGlyphs">≥10</text>
<text x="1484.7" y="1485.2" font-size="22" textLength="107.4" lengthAdjust="spacingAndGlyphs">Clone size</text>
<text font-size="22" textLength="184.1" lengthAdjust="spacingAndGlyphs" transform="translate(1324.1 1432.7) rotate(-90)">Normalized no. of</text>
<text font-size="22" textLength="96" lengthAdjust="spacingAndGlyphs" transform="translate(1351 1388.4) rotate(-90)">new cells</text>
<line x1="1428.6" y1="1228.5" x2="1452.3" y2="1228.5" stroke="#c2c31e" stroke-width="1.5"/>
<circle cx="1440.4" cy="1228.5" r="3" fill="#fff" stroke="#c2c31e" stroke-width="1.5"/>
<line x1="1428.6" y1="1254.9" x2="1452.3" y2="1254.9" stroke="#f01d23" stroke-width="1.5"/>
<circle cx="1440.4" cy="1254.9" r="3" fill="#fff" stroke="#f01d23" stroke-width="1.5"/>
<text x="1461.7" y="1234.7" font-size="18.5" fill="#a9aa16" textLength="201.3" lengthAdjust="spacingAndGlyphs"><tspan font-style="italic">Myc</tspan><tspan font-style="italic" font-size="10.5" dy="-6.7">WT</tspan><tspan font-style="normal" dy="6.7">: 260% more cells</tspan></text>
<text x="1461.7" y="1260.9" font-size="18.5" fill="#ee1c25" textLength="191.2" lengthAdjust="spacingAndGlyphs"><tspan font-style="italic">Myc</tspan><tspan font-style="italic" font-size="10.5" dy="-6.7">KO</tspan><tspan font-style="normal" dy="6.7">: 80% more cells</tspan></text>
<text x="1456.8" y="1301.2" font-size="18.5" textLength="135.7" lengthAdjust="spacingAndGlyphs">Pancreatic cells</text>
<text x="1451.6" y="1322.6" font-size="18.5" textLength="144.7" lengthAdjust="spacingAndGlyphs">clonal expansion</text>
<text x="1487.8" y="1344.3" font-size="18.5" textLength="77.9" lengthAdjust="spacingAndGlyphs">P1 to P20</text>
<text x="1778.5" y="1229.8" font-size="37" fill="#000" font-weight="bold" stroke="#000" stroke-width="1.0">j</text>
<rect x="1887.6" y="1268.6" width="23.3" height="24.5" fill="#d3d3d3" stroke="#111" stroke-width="1.3"/>
<rect x="1924.3" y="1293.1" width="23" height="32.4" fill="#ff0000" stroke="#111" stroke-width="1.3"/>
<line x1="1899.2" y1="1263.2" x2="1899.2" y2="1268.6" stroke="#111" stroke-width="1.3"/>
<line x1="1892.7" y1="1263.2" x2="1905.7" y2="1263.2" stroke="#111" stroke-width="1.3"/>
<line x1="1935.5" y1="1325.5" x2="1935.5" y2="1349" stroke="#111" stroke-width="1.3"/>
<line x1="1929.5" y1="1349" x2="1941.5" y2="1349" stroke="#111" stroke-width="1.3"/>
<circle cx="1899.2" cy="1262.7" r="2.3" fill="#fff" stroke="#111" stroke-width="1.2"/>
<circle cx="1894.9" cy="1271.6" r="2.3" fill="#fff" stroke="#111" stroke-width="1.2"/>
<circle cx="1903.8" cy="1270.1" r="2.3" fill="#fff" stroke="#111" stroke-width="1.2"/>
<circle cx="1931.2" cy="1313" r="2.3" fill="#fff" stroke="#111" stroke-width="1.2"/>
<circle cx="1940.2" cy="1313" r="2.3" fill="#fff" stroke="#111" stroke-width="1.2"/>
<circle cx="1935.5" cy="1352.7" r="2.3" fill="#fff" stroke="#111" stroke-width="1.2"/>
<line x1="1875.5" y1="1231.4" x2="1875.5" y2="1384.9" stroke="#1a1a1a" stroke-width="1.4"/>
<line x1="1869" y1="1231.9" x2="1875.5" y2="1231.9" stroke="#1a1a1a" stroke-width="1.3"/>
<line x1="1869" y1="1262.5" x2="1875.5" y2="1262.5" stroke="#1a1a1a" stroke-width="1.3"/>
<line x1="1869" y1="1293.1" x2="1875.5" y2="1293.1" stroke="#1a1a1a" stroke-width="1.3"/>
<line x1="1869" y1="1323.7" x2="1875.5" y2="1323.7" stroke="#1a1a1a" stroke-width="1.3"/>
<line x1="1869" y1="1354.3" x2="1875.5" y2="1354.3" stroke="#1a1a1a" stroke-width="1.3"/>
<line x1="1869" y1="1384.9" x2="1875.5" y2="1384.9" stroke="#1a1a1a" stroke-width="1.3"/>
<line x1="1875.5" y1="1293.1" x2="1960.3" y2="1293.1" stroke="#1a1a1a" stroke-width="1.4"/>
<line x1="1875.5" y1="1384.9" x2="1960.7" y2="1384.9" stroke="#1a1a1a" stroke-width="1.4"/>
<line x1="1898.8" y1="1384.9" x2="1898.8" y2="1391.2" stroke="#1a1a1a" stroke-width="1.3"/>
<line x1="1935.5" y1="1384.9" x2="1935.5" y2="1391.2" stroke="#1a1a1a" stroke-width="1.3"/>
<polyline points="1899.6,1253.4 1899.6,1244.8 1935.5,1244.8 1935.5,1283.7" fill="none" stroke="#111" stroke-width="1.3" stroke-linejoin="round"/>
<text x="1892.7" y="1238.1" font-size="15.5" textLength="49" lengthAdjust="spacingAndGlyphs">0.0127</text>
<text x="1919.7" y="1218" font-size="16" fill="#e8192c" textLength="43.2" lengthAdjust="spacingAndGlyphs">−3.7×</text>
<text x="1850.8" y="1238.5" font-size="18.5" textLength="11.1" lengthAdjust="spacingAndGlyphs">2</text>
<text x="1853.8" y="1269.1" font-size="18.5" textLength="8.1" lengthAdjust="spacingAndGlyphs">1</text>
<text x="1850.8" y="1299.7" font-size="18.5" textLength="11.1" lengthAdjust="spacingAndGlyphs">0</text>
<text x="1844.3" y="1330.3" font-size="18.5" textLength="17.6" lengthAdjust="spacingAndGlyphs">−1</text>
<text x="1841.3" y="1360.9" font-size="18.5" textLength="20.6" lengthAdjust="spacingAndGlyphs">−2</text>
<text x="1841.3" y="1391.5" font-size="18.5" textLength="20.6" lengthAdjust="spacingAndGlyphs">−3</text>
<text font-size="22" textLength="94.5" lengthAdjust="spacingAndGlyphs" transform="translate(1796.7 1355.9) rotate(-90)"><tspan>log</tspan><tspan font-size="13" dy="5">2</tspan><tspan dy="-5"> ratio</tspan></text>
<text font-size="22" textLength="155.6" lengthAdjust="spacingAndGlyphs" transform="translate(1824.3 1385.7) rotate(-90)"><tspan>(Tomato</tspan><tspan font-size="14" dy="-9">+</tspan><tspan dy="9">/YFP</tspan><tspan font-size="14" dy="-9">+</tspan><tspan dy="9">)</tspan></text>
<text font-size="18.5" textLength="63.9" lengthAdjust="spacingAndGlyphs" transform="translate(1893.6 1463.6) rotate(-90)">Control</text>
<text font-size="18.5" font-style="italic" textLength="88.5" lengthAdjust="spacingAndGlyphs" transform="translate(1911.7 1488.2) rotate(-90)">iFlpMosaic</text>
<text font-size="18.5" font-style="italic" textLength="33.3" lengthAdjust="spacingAndGlyphs" transform="translate(1936.8 1454.8) rotate(-90)">Myc</text>
<text font-size="12.5" font-style="italic" textLength="22.1" lengthAdjust="spacingAndGlyphs" transform="translate(1928.5 1420.8) rotate(-90)">flox</text>
<text font-size="18.5" font-style="italic" textLength="88.5" lengthAdjust="spacingAndGlyphs" transform="translate(1955.5 1488.2) rotate(-90)">iFlpMosaic</text>
<text x="18.6" y="1541.4" font-size="37" fill="#000" font-weight="bold" stroke="#000" stroke-width="1.0">k</text>
<g transform="translate(60.7 1512.6) scale(1.004 1.006) translate(-385.8 -46.4)">
<polygon points="399.4,46.4 409.4,48.7 419.1,48.2 438.4,51.5 452.3,56.1 461.3,61.6 466.6,70.6 466.1,81 460.6,90 450.2,95.5 434.3,100 417.7,99.1 405.2,97.2 394.8,91.7 388.6,84.5 385.8,76.8 388.6,69.9 396.9,65.3 403.6,61.2 406.3,56.5 402.7,51.2" fill="#8E3243" stroke="#8E3243" stroke-width="1" stroke-linejoin="round"/>
<polygon points="410.8,65.1 421.8,58.1 432.9,60.9 430.1,72 439.8,81.7 452.3,77.5 456.4,69.2 463.4,74.8 459.2,85.8 446.8,88.6 432.9,83.1 424.6,77.5 414.9,83.1 409.4,74.8" fill="#A24C5B" opacity="0.75"/>
<polygon points="439.8,55.4 455.1,60.9 460.6,66.5 449.5,66.5 441.2,62.3" fill="#A24C5B" opacity="0.75"/>
<polygon points="403.1,87.2 410.8,85.1 417.7,88.6 414.9,93.5 406.6,94.1" fill="#A24C5B" opacity="0.75"/>
<polygon points="446.8,84.5 453.7,81.7 455.8,86.5 449.5,90" fill="#A24C5B" opacity="0.75"/>
<polygon points="388.6,69.9 396.9,65.3 403.6,61.2 406.3,56.5 409.4,62.3 408.7,69.2 403.8,74.8 395.5,78.6 390.7,75.5" fill="#74212F"/>
<polygon points="409.4,48.7 419.1,48.2 438.4,51.5 439.8,54.7 424.6,53.3 410.8,52.6" fill="#7D2938"/>
</g>
<text x="176.9" y="1550.7" font-size="28" textLength="532.1" lengthAdjust="spacingAndGlyphs">Adult liver 2 weeks after genetic induction.</text>
<rect x="144.4" y="1567" width="52.6" height="568.4" fill="#262626"/>
<text font-size="25" textLength="271.7" lengthAdjust="spacingAndGlyphs" transform="translate(164.8 1981) rotate(-90)"><tspan fill="#ff1a1a">MbTomato</tspan><tspan fill="#f5e616"> MbYFP</tspan><tspan fill="#2a4cf5"> MbTfp1</tspan></text>
<text font-size="25" textLength="395.6" lengthAdjust="spacingAndGlyphs" transform="translate(190.2 2048.7) rotate(-90)"><tspan fill="#ff28e0">H2B–Cherry</tspan><tspan fill="#111">,</tspan><tspan fill="#2bf21c"> H2B–GFP</tspan><tspan fill="#111">,</tspan><tspan fill="#30e6e0"> H2B–Cerulean</tspan></text>
<text font-size="24" font-style="italic" textLength="42" lengthAdjust="spacingAndGlyphs" transform="translate(72.9 1799.9) rotate(-90)">iCre</text>
<text font-size="13.5" fill="#d2da26" font-style="italic" textLength="34.7" lengthAdjust="spacingAndGlyphs" transform="translate(61.8 1756.5) rotate(-90)">MYFP</text>
<text font-size="13.5" textLength="5.9" lengthAdjust="spacingAndGlyphs" transform="translate(61.8 1721.5) rotate(-90)">/</text>
<text font-size="13.5" fill="#ee2a2a" font-style="italic" textLength="59" lengthAdjust="spacingAndGlyphs" transform="translate(61.8 1714.9) rotate(-90)">MTomato</text>
<text font-size="13.5" textLength="7.3" lengthAdjust="spacingAndGlyphs" transform="translate(61.8 1655.5) rotate(-90)">/</text>
<text font-size="13.5" fill="#2a7fd0" font-style="italic" textLength="40.6" lengthAdjust="spacingAndGlyphs" transform="translate(61.8 1646.8) rotate(-90)">MTFP1</text>
<text font-size="24" font-style="italic" textLength="38.2" lengthAdjust="spacingAndGlyphs" transform="translate(105.1 1809.2) rotate(-90)">iFlp</text>
<text font-size="13.5" fill="#ec1c9c" font-style="italic" textLength="72.9" lengthAdjust="spacingAndGlyphs" transform="translate(93 1770.4) rotate(-90)">H2B-Cherry</text>
<text font-size="13.5" textLength="6.6" lengthAdjust="spacingAndGlyphs" transform="translate(93 1697.2) rotate(-90)">/</text>
<text font-size="13.5" fill="#3ab54a" font-style="italic" textLength="25" lengthAdjust="spacingAndGlyphs" transform="translate(93 1689.5) rotate(-90)">GFP</text>
<text font-size="13.5" textLength="7.3" lengthAdjust="spacingAndGlyphs" transform="translate(93 1664.2) rotate(-90)">/</text>
<text font-size="13.5" fill="#29a9e0" font-style="italic" textLength="60" lengthAdjust="spacingAndGlyphs" transform="translate(93 1655.9) rotate(-90)">Cerulean</text>
<text font-size="24" textLength="78.4" lengthAdjust="spacingAndGlyphs" transform="translate(132.9 1742.6) rotate(-90)">Control</text>
<text font-size="24" font-style="italic" textLength="190.9" lengthAdjust="spacingAndGlyphs" transform="translate(72.9 2093.8) rotate(-90)">Tg-CAG-FlpOERT2</text>
<text font-size="24" font-style="italic" textLength="37.1" lengthAdjust="spacingAndGlyphs" transform="translate(105.1 2084.1) rotate(-90)">iFlp</text>
<text font-size="13.5" fill="#ee2a2a" font-style="italic" textLength="59" lengthAdjust="spacingAndGlyphs" transform="translate(93 2045.2) rotate(-90)">MTomato</text>
<text font-size="13.5" textLength="34.7" lengthAdjust="spacingAndGlyphs" transform="translate(93 1985.5) rotate(-90)">-Cre/</text>
<text font-size="13.5" fill="#d2da26" font-style="italic" textLength="35.7" lengthAdjust="spacingAndGlyphs" transform="translate(93 1949.8) rotate(-90)">MYFP</text>
<text font-size="24" textLength="113.5" lengthAdjust="spacingAndGlyphs" transform="translate(132.9 2056.3) rotate(-90)"><tspan font-style="italic">Myc</tspan><tspan font-style="normal"> floxed</tspan></text>
<defs><filter id="bl4" x="-50%" y="-50%" width="200%" height="200%"><feGaussianBlur stdDeviation="9"/></filter><filter id="texk1" x="0" y="0" width="100%" height="100%" color-interpolation-filters="sRGB"><feTurbulence type="fractalNoise" baseFrequency="0.07" numOctaves="3" seed="12" result="n"/><feColorMatrix in="n" type="matrix" values="0 0 0 0 0.2  0 0 0 0 0.1  0 0 0 0 0.32  0 1.0 0 0 -0.38" result="g"/><feColorMatrix in="n" type="matrix" values="0 0 0 0 0.55  0 0 0 0 0.05  0 0 0 0 0.2  2.0 0 0 0 -0.95" result="r"/><feMerge><feMergeNode in="g"/><feMergeNode in="r"/></feMerge></filter><filter id="texk2" x="0" y="0" width="100%" height="100%" color-interpolation-filters="sRGB"><feTurbulence type="fractalNoise" baseFrequency="0.07" numOctaves="3" seed="15" result="n"/><feColorMatrix in="n" type="matrix" values="0 0 0 0 0.2  0 0 0 0 0.1  0 0 0 0 0.32  0 1.0 0 0 -0.38" result="g"/><feColorMatrix in="n" type="matrix" values="0 0 0 0 0.45  0 0 0 0 0.28  0 0 0 0 0.1  1.8 0 0 0 -0.9" result="r"/><feMerge><feMergeNode in="g"/><feMergeNode in="r"/></feMerge></filter></defs>
<clipPath id="m25"><rect x="200.4" y="1566.6" width="272.5" height="273.1"/></clipPath>
<g clip-path="url(#m25)">
<rect x="200.4" y="1566.6" width="272.5" height="273.1" fill="#120618"/>
<rect x="200.4" y="1566.6" width="272.5" height="273.1" filter="url(#texk1)"/>
<ellipse cx="239" cy="1581.4" rx="42.9" ry="19.8" fill="#ff9a18" opacity="0.4" filter="url(#bl4)"/>
<ellipse cx="288.6" cy="1630.9" rx="49.5" ry="26.4" fill="#e8c818" opacity="0.3" filter="url(#bl4)"/>
<ellipse cx="232.4" cy="1693.7" rx="39.6" ry="23.1" fill="#ff5a18" opacity="0.4" filter="url(#bl4)"/>
<ellipse cx="344.7" cy="1697" rx="39.6" ry="26.4" fill="#f0b018" opacity="0.4" filter="url(#bl4)"/>
<ellipse cx="447" cy="1753.1" rx="16.5" ry="42.9" fill="#ff1818" opacity="0.45" filter="url(#bl4)"/>
<ellipse cx="232.4" cy="1805.9" rx="36.3" ry="26.4" fill="#ff8a18" opacity="0.4" filter="url(#bl4)"/>
<ellipse cx="430.5" cy="1812.5" rx="33" ry="19.8" fill="#f06018" opacity="0.35" filter="url(#bl4)"/>
<ellipse cx="430.5" cy="1594.6" rx="33" ry="26.4" fill="#ff3a18" opacity="0.3" filter="url(#bl4)"/>
<g fill="#f0d020" fill-opacity="0.16" stroke="#f0d020" stroke-width="1.4" opacity="0.85" filter="url(#bl1)"><ellipse cx="290.4" cy="1620.1" rx="13.8" ry="10.1" transform="rotate(128 290.4 1620.1)"/><ellipse cx="253.9" cy="1570.4" rx="13.2" ry="12" transform="rotate(5 253.9 1570.4)"/><ellipse cx="436.3" cy="1715.2" rx="11.3" ry="11.2" transform="rotate(80 436.3 1715.2)"/><ellipse cx="461.9" cy="1590.3" rx="12.8" ry="11.9" transform="rotate(62 461.9 1590.3)"/><ellipse cx="256.2" cy="1809.7" rx="11.9" ry="11.7" transform="rotate(48 256.2 1809.7)"/><ellipse cx="312.6" cy="1712.2" rx="10" ry="8.9" transform="rotate(62 312.6 1712.2)"/><ellipse cx="397.1" cy="1591.4" rx="10.9" ry="10.7" transform="rotate(99 397.1 1591.4)"/><ellipse cx="425.8" cy="1765.2" rx="9.8" ry="8.4" transform="rotate(154 425.8 1765.2)"/><ellipse cx="437.6" cy="1600.8" rx="10.1" ry="9.4" transform="rotate(172 437.6 1600.8)"/><ellipse cx="263.7" cy="1701.1" rx="13.2" ry="10.2" transform="rotate(139 263.7 1701.1)"/><ellipse cx="255.5" cy="1626.1" rx="12.8" ry="10.9" transform="rotate(18 255.5 1626.1)"/><ellipse cx="373.8" cy="1686.9" rx="12.5" ry="10.6" transform="rotate(18 373.8 1686.9)"/><ellipse cx="451.6" cy="1742.1" rx="9.3" ry="10.7" transform="rotate(87 451.6 1742.1)"/><ellipse cx="471.8" cy="1731.8" rx="10.1" ry="8.2" transform="rotate(165 471.8 1731.8)"/><ellipse cx="274.9" cy="1570.8" rx="11.5" ry="11" transform="rotate(36 274.9 1570.8)"/><ellipse cx="211" cy="1648.3" rx="12.7" ry="9.3" transform="rotate(137 211 1648.3)"/><ellipse cx="432.3" cy="1745.1" rx="12.2" ry="9.7" transform="rotate(64 432.3 1745.1)"/><ellipse cx="383.3" cy="1809.3" rx="11.4" ry="10.5" transform="rotate(138 383.3 1809.3)"/><ellipse cx="436" cy="1620" rx="9.5" ry="11.3" transform="rotate(134 436 1620)"/><ellipse cx="379.1" cy="1596.8" rx="12" ry="10.8" transform="rotate(22 379.1 1596.8)"/><ellipse cx="232.9" cy="1622.9" rx="12.9" ry="10" transform="rotate(88 232.9 1622.9)"/><ellipse cx="201.9" cy="1592.3" rx="13.3" ry="8.6" transform="rotate(33 201.9 1592.3)"/><ellipse cx="323.2" cy="1652.2" rx="9.9" ry="9.7" transform="rotate(22 323.2 1652.2)"/><ellipse cx="224.9" cy="1830.4" rx="9.8" ry="11.8" transform="rotate(60 224.9 1830.4)"/><ellipse cx="207.9" cy="1567.2" rx="11.3" ry="9.9" transform="rotate(120 207.9 1567.2)"/><ellipse cx="347.9" cy="1772.1" rx="10.5" ry="10.9" transform="rotate(158 347.9 1772.1)"/><ellipse cx="206.4" cy="1795.9" rx="11.9" ry="10" transform="rotate(113 206.4 1795.9)"/><ellipse cx="452.5" cy="1612.4" rx="12.8" ry="11.8" transform="rotate(174 452.5 1612.4)"/><ellipse cx="386.4" cy="1568.3" rx="9.9" ry="10.3" transform="rotate(170 386.4 1568.3)"/><ellipse cx="462.7" cy="1786.3" rx="13.9" ry="9.9" transform="rotate(43 462.7 1786.3)"/><ellipse cx="396.3" cy="1778.7" rx="12" ry="9.2" transform="rotate(157 396.3 1778.7)"/></g>
<g fill="#ff7a18" fill-opacity="0.16" stroke="#ff7a18" stroke-width="1.4" opacity="0.85" filter="url(#bl1)"><ellipse cx="229.9" cy="1574.6" rx="11.2" ry="9.7" transform="rotate(179 229.9 1574.6)"/><ellipse cx="236.9" cy="1593.2" rx="11.4" ry="10.6" transform="rotate(56 236.9 1593.2)"/><ellipse cx="282.9" cy="1657.9" rx="13.8" ry="8.8" transform="rotate(29 282.9 1657.9)"/><ellipse cx="458.5" cy="1717.1" rx="12" ry="11.4" transform="rotate(87 458.5 1717.1)"/><ellipse cx="432.8" cy="1822" rx="10.5" ry="11.3" transform="rotate(58 432.8 1822)"/><ellipse cx="231.2" cy="1777.7" rx="11.9" ry="8.7" transform="rotate(153 231.2 1777.7)"/><ellipse cx="323.6" cy="1744.7" rx="11.1" ry="8.3" transform="rotate(27 323.6 1744.7)"/><ellipse cx="274.8" cy="1596.1" rx="10.6" ry="10.9" transform="rotate(136 274.8 1596.1)"/><ellipse cx="336.9" cy="1634.7" rx="11.4" ry="9.9" transform="rotate(123 336.9 1634.7)"/><ellipse cx="322" cy="1807.7" rx="12.8" ry="8.5" transform="rotate(173 322 1807.7)"/><ellipse cx="314.9" cy="1585.5" rx="13.5" ry="11.3" transform="rotate(173 314.9 1585.5)"/><ellipse cx="247.1" cy="1709.7" rx="11.9" ry="11.2" transform="rotate(87 247.1 1709.7)"/><ellipse cx="417.3" cy="1612.2" rx="9.9" ry="8.5" transform="rotate(154 417.3 1612.2)"/><ellipse cx="264.5" cy="1644.5" rx="13.8" ry="9.6" transform="rotate(17 264.5 1644.5)"/><ellipse cx="235.2" cy="1746.1" rx="10.4" ry="8.1" transform="rotate(169 235.2 1746.1)"/><ellipse cx="238.4" cy="1640.4" rx="12.4" ry="11.1" transform="rotate(167 238.4 1640.4)"/><ellipse cx="353.2" cy="1705.1" rx="9.4" ry="8.3" transform="rotate(24 353.2 1705.1)"/><ellipse cx="441.1" cy="1839.7" rx="12.3" ry="11.1" transform="rotate(159 441.1 1839.7)"/><ellipse cx="254.1" cy="1756.7" rx="11.9" ry="11.4" transform="rotate(115 254.1 1756.7)"/><ellipse cx="307.4" cy="1615.5" rx="12.6" ry="10.6" transform="rotate(65 307.4 1615.5)"/><ellipse cx="335.1" cy="1603.6" rx="11.5" ry="12" transform="rotate(44 335.1 1603.6)"/><ellipse cx="374.9" cy="1663.9" rx="9.9" ry="8.9" transform="rotate(176 374.9 1663.9)"/><ellipse cx="436.5" cy="1577.4" rx="12.1" ry="10.9" transform="rotate(29 436.5 1577.4)"/><ellipse cx="202.5" cy="1777.3" rx="13.2" ry="9.1" transform="rotate(98 202.5 1777.3)"/><ellipse cx="240.4" cy="1820.8" rx="11" ry="10.6" transform="rotate(158 240.4 1820.8)"/><ellipse cx="230.2" cy="1802.7" rx="10.5" ry="8.9" transform="rotate(24 230.2 1802.7)"/><ellipse cx="391" cy="1610.3" rx="12" ry="11.4" transform="rotate(84 391 1610.3)"/><ellipse cx="341.1" cy="1743.5" rx="10.5" ry="8.9" transform="rotate(38 341.1 1743.5)"/><ellipse cx="294.4" cy="1756.5" rx="12.8" ry="8.1" transform="rotate(21 294.4 1756.5)"/><ellipse cx="323.1" cy="1786.1" rx="11.7" ry="9.8" transform="rotate(105 323.1 1786.1)"/><ellipse cx="244.1" cy="1730.1" rx="11.5" ry="10.9" transform="rotate(158 244.1 1730.1)"/></g>
<g fill="#f01818" fill-opacity="0.16" stroke="#f01818" stroke-width="1.4" opacity="0.85" filter="url(#bl1)"><ellipse cx="332" cy="1712.3" rx="10.1" ry="8.9" transform="rotate(105 332 1712.3)"/><ellipse cx="420.6" cy="1583.6" rx="12.6" ry="8.8" transform="rotate(115 420.6 1583.6)"/><ellipse cx="453.7" cy="1764.6" rx="12" ry="10.8" transform="rotate(17 453.7 1764.6)"/><ellipse cx="409.5" cy="1805.3" rx="9.7" ry="10.3" transform="rotate(110 409.5 1805.3)"/><ellipse cx="442.1" cy="1782.1" rx="13.3" ry="10.8" transform="rotate(99 442.1 1782.1)"/><ellipse cx="210.7" cy="1695.6" rx="10.4" ry="10.1" transform="rotate(78 210.7 1695.6)"/><ellipse cx="358.3" cy="1676.8" rx="10.2" ry="10.4" transform="rotate(152 358.3 1676.8)"/><ellipse cx="251.6" cy="1786.7" rx="9.1" ry="11.6" transform="rotate(88 251.6 1786.7)"/><ellipse cx="456.7" cy="1817.4" rx="10.2" ry="11.4" transform="rotate(74 456.7 1817.4)"/><ellipse cx="205.6" cy="1815.4" rx="11.3" ry="8.5" transform="rotate(105 205.6 1815.4)"/><ellipse cx="312.9" cy="1689.9" rx="10.3" ry="10.2" transform="rotate(141 312.9 1689.9)"/><ellipse cx="235.1" cy="1687.1" rx="12.2" ry="9.2" transform="rotate(30 235.1 1687.1)"/><ellipse cx="223.8" cy="1714.3" rx="10.4" ry="9.4" transform="rotate(172 223.8 1714.3)"/><ellipse cx="337.4" cy="1680.7" rx="10.3" ry="9.1" transform="rotate(68 337.4 1680.7)"/><ellipse cx="389.1" cy="1706" rx="9.9" ry="10.9" transform="rotate(90 389.1 1706)"/><ellipse cx="406.5" cy="1745.8" rx="13.8" ry="9.1" transform="rotate(170 406.5 1745.8)"/><ellipse cx="221.2" cy="1675.4" rx="9.1" ry="9.1" transform="rotate(36 221.2 1675.4)"/><ellipse cx="418.3" cy="1832.8" rx="11.9" ry="8.2" transform="rotate(129 418.3 1832.8)"/><ellipse cx="441.9" cy="1802.8" rx="14" ry="10.7" transform="rotate(39 441.9 1802.8)"/><ellipse cx="362.5" cy="1582.4" rx="10.9" ry="10.5" transform="rotate(91 362.5 1582.4)"/><ellipse cx="305" cy="1657.7" rx="9.1" ry="9.7" transform="rotate(133 305 1657.7)"/><ellipse cx="351.9" cy="1609.7" rx="13.8" ry="10.5" transform="rotate(141 351.9 1609.7)"/><ellipse cx="315.8" cy="1826.4" rx="11.3" ry="10.8" transform="rotate(40 315.8 1826.4)"/></g>
<ellipse cx="464.9" cy="1649.5" rx="22" ry="36" fill="#000" filter="url(#bl2)"/>
<g fill="#3cf01c" filter="url(#bl1)"><ellipse cx="320.2" cy="1586.2" rx="4.7" ry="6.3"/><ellipse cx="297.9" cy="1568.9" rx="5.6" ry="3.8"/><ellipse cx="217.4" cy="1682.3" rx="4.7" ry="3.1"/><ellipse cx="223.3" cy="1685.2" rx="3.8" ry="3.8"/><ellipse cx="248.7" cy="1685.2" rx="3.8" ry="5.6"/><ellipse cx="338.1" cy="1680.8" rx="5.6" ry="4.4"/><ellipse cx="350.1" cy="1689.7" rx="4.7" ry="5.6"/><ellipse cx="449.1" cy="1697.2" rx="5.6" ry="3.8"/><ellipse cx="453.8" cy="1745.5" rx="3.1" ry="4.7"/><ellipse cx="225.4" cy="1775.3" rx="6.9" ry="4.7"/><ellipse cx="235.3" cy="1786.6" rx="3.8" ry="6.3"/></g>
<g fill="#3cf01c" opacity="0.5" filter="url(#bl1)"><ellipse cx="388.2" cy="1660.8" rx="3.8" ry="3.8"/><ellipse cx="274" cy="1780.7" rx="3.1" ry="3.8"/><ellipse cx="461.9" cy="1783.6" rx="3.8" ry="3.1"/></g>
<g fill="#d0f020" filter="url(#bl1)"><ellipse cx="354.5" cy="1709.7" rx="6.9" ry="6.9"/></g>
<g fill="#ff1fd6" filter="url(#bl1)"><ellipse cx="223.3" cy="1576.4" rx="6.9" ry="6.3"/><ellipse cx="285.9" cy="1582.4" rx="4.7" ry="3.1"/><ellipse cx="280" cy="1619.6" rx="3.8" ry="4.7"/><ellipse cx="283" cy="1626.2" rx="3.1" ry="3.8"/><ellipse cx="297.9" cy="1719.5" rx="5.3" ry="4.7"/><ellipse cx="310.7" cy="1721.9" rx="4.7" ry="3.8"/><ellipse cx="363.5" cy="1690.3" rx="3.8" ry="4.7"/><ellipse cx="206.9" cy="1817" rx="4.7" ry="4.7"/><ellipse cx="215.3" cy="1823.9" rx="4.7" ry="3.8"/><ellipse cx="293.4" cy="1825.4" rx="4.7" ry="3.8"/><ellipse cx="441" cy="1803" rx="4.7" ry="4.7"/><ellipse cx="214.4" cy="1773.2" rx="3.1" ry="2.5"/></g>
<g fill="#fff4f0" filter="url(#bl1)"><ellipse cx="373.3" cy="1676.3" rx="6.3" ry="5.6"/><ellipse cx="329.2" cy="1713.6" rx="4.7" ry="3.8"/><ellipse cx="448.5" cy="1761.9" rx="4.1" ry="4.7"/><ellipse cx="411.2" cy="1795.6" rx="4.4" ry="4.4"/><ellipse cx="414.8" cy="1814.1" rx="4.1" ry="5"/><ellipse cx="419.2" cy="1821.8" rx="4.7" ry="4.7"/></g>
<g fill="#ffc0d8" filter="url(#bl1)"><ellipse cx="241.2" cy="1819.4" rx="5.6" ry="5.6"/><ellipse cx="239.7" cy="1809" rx="3.8" ry="3.8"/><ellipse cx="323.2" cy="1710.6" rx="3.1" ry="3.1"/></g>
<ellipse cx="320.2" cy="1586.2" rx="11" ry="13" fill="none" stroke="#e8e0f0" stroke-width="1.4" transform="rotate(-15 320.2 1586.2)"/>
<rect x="375.1" y="1827.5" width="90.6" height="8.6" fill="#fff"/>
</g>
<clipPath id="m26"><rect x="200.4" y="1863" width="272.5" height="272.9"/></clipPath>
<g clip-path="url(#m26)">
<rect x="200.4" y="1863" width="272.5" height="272.9" fill="#120618"/>
<rect x="200.4" y="1863" width="272.5" height="272.9" filter="url(#texk2)"/>
<ellipse cx="437.1" cy="1885.1" rx="33" ry="23.1" fill="#e8d818" opacity="0.35" filter="url(#bl4)"/>
<ellipse cx="354.6" cy="1928.1" rx="39.6" ry="19.8" fill="#e86018" opacity="0.3" filter="url(#bl4)"/>
<ellipse cx="437.1" cy="1944.6" rx="33" ry="26.4" fill="#f0c018" opacity="0.4" filter="url(#bl4)"/>
<ellipse cx="288.6" cy="2010.6" rx="66" ry="29.7" fill="#d8d018" opacity="0.3" filter="url(#bl4)"/>
<ellipse cx="420.6" cy="2000.7" rx="39.6" ry="26.4" fill="#e0d018" opacity="0.3" filter="url(#bl4)"/>
<ellipse cx="255.5" cy="2083.2" rx="49.5" ry="23.1" fill="#d8d018" opacity="0.3" filter="url(#bl4)"/>
<ellipse cx="437.1" cy="2096.4" rx="26.4" ry="19.8" fill="#e8d818" opacity="0.35" filter="url(#bl4)"/>
<ellipse cx="371.1" cy="2050.2" rx="33" ry="16.5" fill="#e02018" opacity="0.3" filter="url(#bl4)"/>
<g fill="#e8d820" fill-opacity="0.16" stroke="#e8d820" stroke-width="1.4" opacity="0.8" filter="url(#bl1)"><ellipse cx="416.4" cy="2091" rx="10.9" ry="10.5" transform="rotate(143 416.4 2091)"/><ellipse cx="439.8" cy="2112.1" rx="13.8" ry="8.1" transform="rotate(67 439.8 2112.1)"/><ellipse cx="211.1" cy="2075.3" rx="13.2" ry="11.7" transform="rotate(6 211.1 2075.3)"/><ellipse cx="226.9" cy="2101" rx="12.5" ry="9.3" transform="rotate(84 226.9 2101)"/><ellipse cx="313.9" cy="1981.4" rx="11.8" ry="9.9" transform="rotate(101 313.9 1981.4)"/><ellipse cx="243.4" cy="1994.6" rx="11.4" ry="11.8" transform="rotate(177 243.4 1994.6)"/><ellipse cx="386" cy="2050.9" rx="12.8" ry="8.3" transform="rotate(92 386 2050.9)"/><ellipse cx="209.4" cy="1935.3" rx="11.6" ry="10.7" transform="rotate(84 209.4 1935.3)"/><ellipse cx="275.4" cy="2066.3" rx="11.2" ry="11.9" transform="rotate(156 275.4 2066.3)"/><ellipse cx="237.9" cy="2081.8" rx="12.3" ry="9.7" transform="rotate(66 237.9 2081.8)"/><ellipse cx="448" cy="1963.4" rx="12.9" ry="11.2" transform="rotate(95 448 1963.4)"/><ellipse cx="432" cy="1875.1" rx="11.7" ry="10.5" transform="rotate(8 432 1875.1)"/><ellipse cx="423.4" cy="2028.1" rx="11.7" ry="11" transform="rotate(111 423.4 2028.1)"/><ellipse cx="222.4" cy="1997.1" rx="13.8" ry="9.7" transform="rotate(63 222.4 1997.1)"/><ellipse cx="363.6" cy="2047.6" rx="13.5" ry="10.6" transform="rotate(81 363.6 2047.6)"/><ellipse cx="452.5" cy="1882.6" rx="9.2" ry="9.1" transform="rotate(86 452.5 1882.6)"/><ellipse cx="381.2" cy="1915.4" rx="11.7" ry="11.2" transform="rotate(104 381.2 1915.4)"/><ellipse cx="452.7" cy="2036" rx="10.1" ry="8.8" transform="rotate(153 452.7 2036)"/><ellipse cx="415.4" cy="1893.2" rx="13.1" ry="9" transform="rotate(18 415.4 1893.2)"/><ellipse cx="454.3" cy="2080" rx="12" ry="10.5" transform="rotate(83 454.3 2080)"/><ellipse cx="370.4" cy="1995.3" rx="11.3" ry="11.7" transform="rotate(71 370.4 1995.3)"/><ellipse cx="340.4" cy="2056.4" rx="11.5" ry="9.7" transform="rotate(164 340.4 2056.4)"/><ellipse cx="354" cy="1947.4" rx="13.8" ry="9.6" transform="rotate(179 354 1947.4)"/><ellipse cx="405.9" cy="2000.7" rx="10.4" ry="8.7" transform="rotate(125 405.9 2000.7)"/><ellipse cx="405" cy="2051" rx="12.1" ry="10.2" transform="rotate(144 405 2051)"/><ellipse cx="250.3" cy="1901.7" rx="9.8" ry="8.4" transform="rotate(106 250.3 1901.7)"/><ellipse cx="233.6" cy="1976.2" rx="10.1" ry="11.7" transform="rotate(138 233.6 1976.2)"/><ellipse cx="291.3" cy="2101.8" rx="13" ry="11.3" transform="rotate(54 291.3 2101.8)"/><ellipse cx="457.6" cy="2109.3" rx="11.5" ry="9" transform="rotate(130 457.6 2109.3)"/><ellipse cx="307.5" cy="2071.9" rx="9.4" ry="10.9" transform="rotate(178 307.5 2071.9)"/><ellipse cx="281.5" cy="2021.2" rx="9.1" ry="10.1" transform="rotate(95 281.5 2021.2)"/><ellipse cx="254.2" cy="2037.7" rx="11.9" ry="9.3" transform="rotate(145 254.2 2037.7)"/><ellipse cx="201.3" cy="2100.9" rx="10.9" ry="11.1" transform="rotate(34 201.3 2100.9)"/><ellipse cx="339.4" cy="1873.3" rx="12" ry="9.2" transform="rotate(109 339.4 1873.3)"/><ellipse cx="434.9" cy="2084" rx="13.3" ry="11.8" transform="rotate(67 434.9 2084)"/><ellipse cx="312.7" cy="2021.6" rx="11.1" ry="10.8" transform="rotate(104 312.7 2021.6)"/><ellipse cx="360.6" cy="1882.2" rx="9.6" ry="11.1" transform="rotate(110 360.6 1882.2)"/><ellipse cx="467.4" cy="1933.2" rx="13.5" ry="10.5" transform="rotate(161 467.4 1933.2)"/><ellipse cx="400.2" cy="2019.1" rx="13" ry="9.9" transform="rotate(58 400.2 2019.1)"/><ellipse cx="424.5" cy="1934.9" rx="14" ry="9.8" transform="rotate(137 424.5 1934.9)"/><ellipse cx="227.6" cy="2067.7" rx="12.2" ry="11.8" transform="rotate(65 227.6 2067.7)"/><ellipse cx="246.8" cy="2101.3" rx="12.6" ry="8.2" transform="rotate(58 246.8 2101.3)"/><ellipse cx="275" cy="1969.3" rx="11.8" ry="8.5" transform="rotate(67 275 1969.3)"/><ellipse cx="381.1" cy="2010" rx="9.6" ry="10.4" transform="rotate(158 381.1 2010)"/><ellipse cx="293.9" cy="1888.8" rx="12.8" ry="9.1" transform="rotate(179 293.9 1888.8)"/><ellipse cx="258.4" cy="2062.2" rx="10.1" ry="8.2" transform="rotate(55 258.4 2062.2)"/><ellipse cx="418.5" cy="1985" rx="10.7" ry="11.5" transform="rotate(113 418.5 1985)"/><ellipse cx="436.6" cy="1917.8" rx="9.8" ry="10.9" transform="rotate(13 436.6 1917.8)"/><ellipse cx="246.7" cy="2016.9" rx="11.5" ry="12" transform="rotate(172 246.7 2016.9)"/><ellipse cx="254.4" cy="2131.2" rx="10.2" ry="10.4" transform="rotate(62 254.4 2131.2)"/><ellipse cx="458.5" cy="1904.4" rx="13.2" ry="10.8" transform="rotate(178 458.5 1904.4)"/><ellipse cx="206.2" cy="2022" rx="13.8" ry="10.2" transform="rotate(10 206.2 2022)"/><ellipse cx="340.4" cy="1910.4" rx="10" ry="10.9" transform="rotate(177 340.4 1910.4)"/><ellipse cx="354.9" cy="2019.1" rx="9.3" ry="9.2" transform="rotate(78 354.9 2019.1)"/><ellipse cx="471.2" cy="1950.4" rx="11.1" ry="9" transform="rotate(38 471.2 1950.4)"/><ellipse cx="263.6" cy="1931.2" rx="11.9" ry="11.9" transform="rotate(131 263.6 1931.2)"/><ellipse cx="472.2" cy="2035.9" rx="9.1" ry="9.4" transform="rotate(37 472.2 2035.9)"/><ellipse cx="301.3" cy="1865.3" rx="10.5" ry="8.7" transform="rotate(92 301.3 1865.3)"/><ellipse cx="392.9" cy="1982.3" rx="10" ry="10" transform="rotate(171 392.9 1982.3)"/><ellipse cx="205.1" cy="2056.3" rx="11.9" ry="10.2" transform="rotate(58 205.1 2056.3)"/><ellipse cx="368.5" cy="2133.8" rx="11.9" ry="11.2" transform="rotate(142 368.5 2133.8)"/><ellipse cx="423" cy="2059.8" rx="11.4" ry="11.1" transform="rotate(131 423 2059.8)"/><ellipse cx="351.3" cy="2098.2" rx="9.4" ry="8.5" transform="rotate(157 351.3 2098.2)"/><ellipse cx="242.1" cy="2056" rx="11.6" ry="11.1" transform="rotate(139 242.1 2056)"/><ellipse cx="287.6" cy="2124.9" rx="11.2" ry="8.2" transform="rotate(0 287.6 2124.9)"/></g>
<g fill="#e01818" fill-opacity="0.16" stroke="#e01818" stroke-width="1.4" opacity="0.75" filter="url(#bl1)"><ellipse cx="396.9" cy="1928.1" rx="12.6" ry="8" transform="rotate(146 396.9 1928.1)"/><ellipse cx="359.2" cy="1916.6" rx="11.5" ry="11" transform="rotate(63 359.2 1916.6)"/><ellipse cx="461.2" cy="1984.5" rx="10.6" ry="10.7" transform="rotate(27 461.2 1984.5)"/><ellipse cx="220.7" cy="1889" rx="13.1" ry="11.9" transform="rotate(104 220.7 1889)"/><ellipse cx="274.1" cy="2106.6" rx="11.5" ry="11" transform="rotate(82 274.1 2106.6)"/><ellipse cx="353.2" cy="2116.6" rx="10.2" ry="11.3" transform="rotate(32 353.2 2116.6)"/><ellipse cx="342.8" cy="1933.7" rx="10.2" ry="8" transform="rotate(97 342.8 1933.7)"/><ellipse cx="285.9" cy="2050.2" rx="10.2" ry="9.5" transform="rotate(148 285.9 2050.2)"/><ellipse cx="436.5" cy="2014.9" rx="13.6" ry="11.2" transform="rotate(150 436.5 2014.9)"/><ellipse cx="439.2" cy="1948.8" rx="11.3" ry="11.2" transform="rotate(75 439.2 1948.8)"/><ellipse cx="382.8" cy="1897.8" rx="11.7" ry="11.7" transform="rotate(50 382.8 1897.8)"/><ellipse cx="315.6" cy="1930.4" rx="10.1" ry="8.3" transform="rotate(11 315.6 1930.4)"/></g>
<g fill="#7030a0" fill-opacity="0.16" stroke="#7030a0" stroke-width="1.4" opacity="0.6" filter="url(#bl1)"><ellipse cx="286.1" cy="2000.8" rx="11.6" ry="9.2" transform="rotate(171 286.1 2000.8)"/><ellipse cx="414.4" cy="1954.1" rx="11.5" ry="10.1" transform="rotate(56 414.4 1954.1)"/><ellipse cx="378.8" cy="1935.3" rx="11.8" ry="11.4" transform="rotate(31 378.8 1935.3)"/><ellipse cx="305.8" cy="2090.7" rx="11.2" ry="10.3" transform="rotate(17 305.8 2090.7)"/><ellipse cx="454.4" cy="2011.7" rx="10.5" ry="10.6" transform="rotate(153 454.4 2011.7)"/><ellipse cx="210.1" cy="1974" rx="11.1" ry="11.1" transform="rotate(76 210.1 1974)"/><ellipse cx="450" cy="1934.8" rx="11.4" ry="8.2" transform="rotate(89 450 1934.8)"/><ellipse cx="338" cy="1993.1" rx="11" ry="11.2" transform="rotate(30 338 1993.1)"/></g>
<ellipse cx="347.1" cy="1922.1" rx="13.4" ry="10.4" fill="#e01818" stroke="#f02020" stroke-width="1.3" fill-opacity="0.35" opacity="0.8" filter="url(#bl1)"/>
<ellipse cx="397.8" cy="1938.5" rx="14.9" ry="11.9" fill="#e01818" stroke="#f02020" stroke-width="1.3" fill-opacity="0.35" opacity="0.8" filter="url(#bl1)"/>
<ellipse cx="366.5" cy="2004.1" rx="8.9" ry="8.9" fill="#e01818" stroke="#f02020" stroke-width="1.3" fill-opacity="0.35" opacity="0.8" filter="url(#bl1)"/>
<ellipse cx="421.6" cy="2010.1" rx="10.4" ry="8.9" fill="#e01818" stroke="#f02020" stroke-width="1.3" fill-opacity="0.35" opacity="0.8" filter="url(#bl1)"/>
<ellipse cx="341.1" cy="2051.8" rx="10.4" ry="8.9" fill="#e01818" stroke="#f02020" stroke-width="1.3" fill-opacity="0.35" opacity="0.8" filter="url(#bl1)"/>
<ellipse cx="212.9" cy="2090.6" rx="11.9" ry="11.9" fill="#e01818" stroke="#f02020" stroke-width="1.3" fill-opacity="0.35" opacity="0.8" filter="url(#bl1)"/>
<ellipse cx="385.8" cy="2057.8" rx="8.9" ry="8.9" fill="#e01818" stroke="#f02020" stroke-width="1.3" fill-opacity="0.35" opacity="0.8" filter="url(#bl1)"/>
<ellipse cx="457.4" cy="1935.5" rx="12" ry="9" fill="#ffb010" opacity="0.85" filter="url(#bl1)"/>
<ellipse cx="347.1" cy="2020.5" rx="7" ry="7" fill="#ff9a10" opacity="0.9" filter="url(#bl1)"/>
<ellipse cx="245.1" cy="2072.7" rx="10.5" ry="13" fill="#5a4ae8" filter="url(#bl1)"/>
<g fill="#d0f020" filter="url(#bl1)"><ellipse cx="314.9" cy="1883.3" rx="4.1" ry="5"/><ellipse cx="323.2" cy="1889.3" rx="4.1" ry="5"/><ellipse cx="387.3" cy="1925.7" rx="4.7" ry="4.4"/><ellipse cx="396.9" cy="1924.2" rx="4.4" ry="4.4"/><ellipse cx="282.1" cy="1993.7" rx="4.4" ry="4.4"/><ellipse cx="205.4" cy="1965.3" rx="5" ry="4.4"/><ellipse cx="285.9" cy="2039" rx="5.6" ry="5.3"/><ellipse cx="289.8" cy="2045.8" rx="4.4" ry="3.8"/><ellipse cx="411.8" cy="2038.4" rx="5" ry="5"/><ellipse cx="406.7" cy="2047.3" rx="4.7" ry="4.7"/><ellipse cx="457.4" cy="2036.9" rx="3.8" ry="4.4"/><ellipse cx="458.9" cy="2044.3" rx="3.8" ry="4.4"/><ellipse cx="244.2" cy="2106.4" rx="4.7" ry="4.7"/><ellipse cx="254.6" cy="2109.4" rx="4.7" ry="4.4"/><ellipse cx="275.5" cy="2074.8" rx="4.7" ry="3.8"/><ellipse cx="449.9" cy="2099.5" rx="5.3" ry="6.3"/><ellipse cx="454.4" cy="1881.8" rx="4.7" ry="4.7"/><ellipse cx="454.4" cy="1890.8" rx="4.7" ry="3.8"/><ellipse cx="359" cy="2018.4" rx="4.4" ry="4.4"/><ellipse cx="454.4" cy="1995.7" rx="4.4" ry="3.8"/><ellipse cx="459.8" cy="1996.3" rx="3.1" ry="3.1"/></g>
<g fill="#f4ffc0" filter="url(#bl1)"><ellipse cx="304.7" cy="2026.5" rx="5.6" ry="5.6"/></g>
<g fill="#3cf01c" opacity="0.85" filter="url(#bl1)"><ellipse cx="303.8" cy="2114.4" rx="4.4" ry="3.8"/><ellipse cx="311.3" cy="2113.8" rx="4.4" ry="3.8"/><ellipse cx="381.4" cy="1969.8" rx="3.8" ry="4.4"/><ellipse cx="302.3" cy="2016" rx="3.8" ry="3.8"/><ellipse cx="260.6" cy="2013" rx="3.8" ry="3.1"/><ellipse cx="387.3" cy="1869.3" rx="3.8" ry="3.1"/></g>
<g fill="#ff1fd6" filter="url(#bl1)"><ellipse cx="212.9" cy="1906.3" rx="3.8" ry="3.1"/><ellipse cx="218.3" cy="1907.8" rx="3.1" ry="3.1"/><ellipse cx="407.3" cy="1908.7" rx="3.8" ry="5"/><ellipse cx="334.6" cy="1948" rx="4.4" ry="3.8"/><ellipse cx="333.1" cy="1958.8" rx="4.4" ry="4.4"/><ellipse cx="328.6" cy="1971.9" rx="4.7" ry="4.7"/><ellipse cx="338.1" cy="1976.4" rx="5" ry="4.4"/><ellipse cx="262.1" cy="2024.4" rx="4.4" ry="4.4"/><ellipse cx="258.2" cy="2032.4" rx="4.7" ry="4.7"/><ellipse cx="215.9" cy="2030" rx="4.7" ry="4.1"/><ellipse cx="203.3" cy="2037.5" rx="3.1" ry="3.8"/><ellipse cx="442.5" cy="1994.6" rx="5.6" ry="4.4"/><ellipse cx="362" cy="2039.9" rx="3.8" ry="3.8"/><ellipse cx="367.9" cy="2045.8" rx="3.8" ry="4.4"/><ellipse cx="224.8" cy="2107" rx="4.4" ry="3.8"/><ellipse cx="220.3" cy="2112.9" rx="4.4" ry="3.8"/><ellipse cx="282.4" cy="2115.9" rx="5.6" ry="4.7"/><ellipse cx="400.7" cy="2111.4" rx="4.4" ry="3.8"/><ellipse cx="397.8" cy="2118.9" rx="4.4" ry="3.1"/><ellipse cx="469.3" cy="1962.9" rx="3.1" ry="4.4"/><ellipse cx="457.4" cy="1922.1" rx="3.8" ry="4.4"/><ellipse cx="357.5" cy="1866.3" rx="4.4" ry="3.1"/><ellipse cx="433.5" cy="2045.8" rx="3.1" ry="3.1"/><ellipse cx="438" cy="2133.8" rx="3.8" ry="1.9"/></g>
<g fill="#ffb0e8" filter="url(#bl1)"><ellipse cx="464.9" cy="1902.7" rx="3.1" ry="3.8"/><ellipse cx="461.3" cy="1910.2" rx="3.1" ry="3.8"/></g>
<g fill="#20d8e8" filter="url(#bl1)"><ellipse cx="239.7" cy="1905.7" rx="3.8" ry="3.1"/><ellipse cx="245.7" cy="1906.3" rx="3.1" ry="3.1"/><ellipse cx="357.5" cy="2121.3" rx="3.8" ry="4.4"/></g>
<g fill="#20d8e8" opacity="0.5" filter="url(#bl1)"><ellipse cx="362" cy="1962.3" rx="3.8" ry="3.8"/><ellipse cx="417.1" cy="1934" rx="3.8" ry="3.8"/><ellipse cx="224.8" cy="1993.7" rx="6.3" ry="3.8"/><ellipse cx="266.6" cy="2056.3" rx="7.8" ry="3.8"/><ellipse cx="405.2" cy="2078.6" rx="5.6" ry="3.1"/><ellipse cx="452.9" cy="1951.9" rx="3.8" ry="4.4"/><ellipse cx="463.4" cy="1922.1" rx="3.1" ry="3.1"/><ellipse cx="469.3" cy="2016" rx="2.5" ry="3.1"/></g>
<rect x="375.1" y="2124.9" width="90.6" height="8.1" fill="#fff"/>
</g>
<circle cx="618.4" cy="1685.2" r="12.5" fill="#fff" stroke="#aab8b0" stroke-width="1.2"/>
<circle cx="579.4" cy="1718.9" r="12.5" fill="#fff" stroke="#aab8b0" stroke-width="1.2"/>
<circle cx="573.1" cy="1573.4" r="5.7" fill="#f5ab62"/>
<circle cx="573.1" cy="1573.4" r="3" fill="#10b020"/>
<circle cx="561.2" cy="1583.9" r="5.7" fill="#f5a3b8"/>
<circle cx="561.2" cy="1583.9" r="3" fill="#dc1070"/>
<circle cx="597" cy="1588.3" r="5.7" fill="#f2a2f2"/>
<circle cx="597" cy="1588.3" r="3" fill="#38d8f2"/>
<circle cx="524.2" cy="1685.2" r="5.7" fill="#f5ab62"/>
<circle cx="524.2" cy="1685.2" r="3" fill="#10b020"/>
<circle cx="647.1" cy="1678.4" r="5.7" fill="#f5ab62"/>
<circle cx="647.1" cy="1678.4" r="3" fill="#ffe000"/>
<circle cx="630.7" cy="1711.8" r="5.7" fill="#f5ab62"/>
<circle cx="630.7" cy="1711.8" r="3" fill="#38d8f2"/>
<circle cx="725.2" cy="1696.9" r="5.7" fill="#b4f092"/>
<circle cx="725.2" cy="1696.9" r="3" fill="#10b020"/>
<circle cx="480.1" cy="1708.2" r="5.7" fill="#f5a3b8"/>
<circle cx="480.1" cy="1708.2" r="3" fill="#10b020"/>
<circle cx="731.1" cy="1747.3" r="5.7" fill="#f5a3b8"/>
<circle cx="731.1" cy="1747.3" r="3" fill="#10b020"/>
<circle cx="723.1" cy="1761.9" r="5.7" fill="#f5a3b8"/>
<circle cx="723.1" cy="1761.9" r="3" fill="#ffe000"/>
<circle cx="501.2" cy="1774.7" r="5.7" fill="#f5ab62"/>
<circle cx="501.2" cy="1774.7" r="3" fill="#10b020"/>
<circle cx="510.5" cy="1787.2" r="5.7" fill="#f5ab62"/>
<circle cx="510.5" cy="1787.2" r="3" fill="#10b020"/>
<circle cx="687.3" cy="1794.1" r="5.7" fill="#f5ab62"/>
<circle cx="687.3" cy="1794.1" r="3" fill="#ffe000"/>
<circle cx="716.8" cy="1802.7" r="5.7" fill="#b4f092"/>
<circle cx="716.8" cy="1802.7" r="3" fill="#dc1070"/>
<circle cx="614.3" cy="1680.8" r="5.7" fill="#b4f092"/>
<circle cx="614.3" cy="1680.8" r="3" fill="#10b020"/>
<circle cx="623.5" cy="1690.3" r="5.7" fill="#b4f092"/>
<circle cx="623.5" cy="1690.3" r="3" fill="#10b020"/>
<circle cx="573.1" cy="1717.7" r="5.7" fill="#f5ab62"/>
<circle cx="573.1" cy="1717.7" r="3" fill="#dc1070"/>
<circle cx="586.5" cy="1722.8" r="5.7" fill="#f5ab62"/>
<circle cx="586.5" cy="1722.8" r="3" fill="#dc1070"/>
<circle cx="497.4" cy="1576.7" r="5" fill="#f5ab62"/>
<circle cx="494.1" cy="1579.7" r="2.5" fill="#dc1070"/>
<circle cx="500.3" cy="1574.3" r="2.5" fill="#dc1070"/>
<circle cx="557.9" cy="1623.8" r="5" fill="#f5ab62"/>
<circle cx="555.5" cy="1620.5" r="2.5" fill="#dc1070"/>
<circle cx="560.3" cy="1627.7" r="2.5" fill="#dc1070"/>
<circle cx="602.3" cy="1712.1" r="5" fill="#f5ab62"/>
<circle cx="598.4" cy="1711.2" r="2.5" fill="#ffe000"/>
<circle cx="605.9" cy="1713" r="2.5" fill="#ffe000"/>
<circle cx="487.8" cy="1820.9" r="5" fill="#f5ab62"/>
<circle cx="484.5" cy="1818.5" r="2.5" fill="#dc1070"/>
<circle cx="491.4" cy="1822.7" r="2.5" fill="#dc1070"/>
<circle cx="516.7" cy="1814.9" r="5" fill="#b4f092"/>
<circle cx="516.1" cy="1810.8" r="2.5" fill="#ffe000"/>
<circle cx="517.3" cy="1818.8" r="2.5" fill="#ffe000"/>
<circle cx="692.7" cy="1817.9" r="5" fill="#f5a3b8"/>
<circle cx="690.3" cy="1814.9" r="2.5" fill="#ffe000"/>
<circle cx="695.1" cy="1821.5" r="2.5" fill="#ffe000"/>
<rect x="476.5" y="1568" width="269.3" height="269.3" fill="none" stroke="#111" stroke-width="1.4"/>
<circle cx="608.6" cy="1951.3" r="12.5" fill="#fff" stroke="#aab8b0" stroke-width="1.2"/>
<circle cx="681.3" cy="1907.2" r="5.7" fill="#b4f092"/>
<circle cx="681.3" cy="1907.2" r="3" fill="#dc1070"/>
<circle cx="636.6" cy="1962.6" r="5.7" fill="#b4f092"/>
<circle cx="636.6" cy="1962.6" r="3" fill="#1010f0"/>
<circle cx="557.3" cy="1993.7" r="5.7" fill="#b4f092"/>
<circle cx="557.3" cy="1993.7" r="3" fill="#10b020"/>
<circle cx="557.3" cy="2036.9" r="5.7" fill="#b4f092"/>
<circle cx="557.3" cy="2036.9" r="3" fill="#10b020"/>
<circle cx="549.2" cy="2069.7" r="5.7" fill="#b4f092"/>
<circle cx="549.2" cy="2069.7" r="3" fill="#10b020"/>
<circle cx="724.6" cy="2099.5" r="5.7" fill="#b4f092"/>
<circle cx="724.6" cy="2099.5" r="3" fill="#10b020"/>
<circle cx="608.6" cy="1945.1" r="5.7" fill="#b4f092"/>
<circle cx="608.6" cy="1945.1" r="3" fill="#dc1070"/>
<circle cx="608.6" cy="1958.5" r="5.7" fill="#b4f092"/>
<circle cx="608.6" cy="1958.5" r="3" fill="#dc1070"/>
<circle cx="728.8" cy="1884.2" r="5" fill="#b4f092"/>
<circle cx="730.2" cy="1880.3" r="2.5" fill="#10b020"/>
<circle cx="727.3" cy="1887.8" r="2.5" fill="#10b020"/>
<circle cx="735.9" cy="1905.7" r="5" fill="#b4f092"/>
<circle cx="737.4" cy="1901.8" r="2.5" fill="#9212c2"/>
<circle cx="734.4" cy="1909.6" r="2.5" fill="#9212c2"/>
<circle cx="666.1" cy="1923.6" r="5" fill="#f5a3b8"/>
<circle cx="662.3" cy="1924.5" r="2.5" fill="#10b020"/>
<circle cx="670.3" cy="1922.7" r="2.5" fill="#10b020"/>
<circle cx="690.9" cy="1934.3" r="5" fill="#f5a3b8"/>
<circle cx="690.9" cy="1930.4" r="2.5" fill="#1010f0"/>
<circle cx="690.9" cy="1938.5" r="2.5" fill="#1010f0"/>
<circle cx="501.5" cy="1994.6" r="5" fill="#b4f092"/>
<circle cx="497.4" cy="1994.3" r="2.5" fill="#1010f0"/>
<circle cx="505.7" cy="1994.3" r="2.5" fill="#1010f0"/>
<circle cx="728.8" cy="1993.7" r="5" fill="#b4f092"/>
<circle cx="724.6" cy="1993.7" r="2.5" fill="#10b020"/>
<circle cx="732.9" cy="1993.7" r="2.5" fill="#10b020"/>
<circle cx="535.5" cy="2026.8" r="5" fill="#b4f092"/>
<circle cx="537" cy="2022.9" r="2.5" fill="#dc1070"/>
<circle cx="534" cy="2030.6" r="2.5" fill="#dc1070"/>
<circle cx="540.3" cy="2052.4" r="5" fill="#b4f092"/>
<circle cx="536.4" cy="2052.4" r="2.5" fill="#1010f0"/>
<circle cx="544.5" cy="2052.4" r="2.5" fill="#1010f0"/>
<circle cx="638.1" cy="2042" r="5" fill="#f5ab62"/>
<circle cx="635.4" cy="2038.7" r="2.5" fill="#dc1070"/>
<circle cx="640.8" cy="2044.6" r="2.5" fill="#dc1070"/>
<circle cx="682.2" cy="2041.4" r="5" fill="#b4f092"/>
<circle cx="684.3" cy="2037.8" r="2.5" fill="#10b020"/>
<circle cx="680.4" cy="2044.9" r="2.5" fill="#10b020"/>
<circle cx="732.3" cy="2038.4" r="5" fill="#b4f092"/>
<circle cx="731.1" cy="2034.5" r="2.5" fill="#10b020"/>
<circle cx="733.5" cy="2042.3" r="2.5" fill="#10b020"/>
<rect x="477.1" y="1866" width="268.9" height="269.3" fill="none" stroke="#111" stroke-width="1.4"/>
<circle cx="772.7" cy="1627.5" r="6.6" fill="#c4c4c4"/>
<circle cx="772.7" cy="1627.5" r="3.3" fill="#000"/>
<circle cx="773" cy="1660.1" r="11" fill="#bdbdbd"/>
<circle cx="761.7" cy="1660.1" r="3.7" fill="#000"/>
<circle cx="784" cy="1660.8" r="3.7" fill="#000"/>
<circle cx="775.2" cy="1702.1" r="20.5" fill="#fff" stroke="#aab8b0" stroke-width="1.3"/>
<circle cx="764.3" cy="1701.4" r="6.6" fill="#c4c4c4"/>
<circle cx="764.3" cy="1701.4" r="3.3" fill="#000"/>
<circle cx="786.6" cy="1701.4" r="6.6" fill="#c4c4c4"/>
<circle cx="786.6" cy="1701.4" r="3.3" fill="#000"/>
<text x="801.9" y="1632.6" font-size="17" textLength="221.3" lengthAdjust="spacingAndGlyphs"><tspan>2</tspan><tspan font-style="italic">n</tspan><tspan font-style="normal"> (one mononucleated cell)</tspan></text>
<text x="801.9" y="1664.8" font-size="17" textLength="216.5" lengthAdjust="spacingAndGlyphs"><tspan>2 × 2</tspan><tspan font-style="italic">n</tspan><tspan font-style="normal"> (one binucleated cell)</tspan></text>
<text x="801.9" y="1706.5" font-size="17" textLength="264.1" lengthAdjust="spacingAndGlyphs"><tspan>2</tspan><tspan font-style="italic">n</tspan><tspan font-style="normal"> + 2</tspan><tspan font-style="italic">n</tspan><tspan font-style="normal"> (two mononucleated cells)</tspan></text>
<text font-size="17" textLength="40.2" lengthAdjust="spacingAndGlyphs" transform="translate(765.4 1905.1) rotate(-90)">MYFP</text>
<text font-size="17" textLength="70.6" lengthAdjust="spacingAndGlyphs" transform="translate(786.2 1905.1) rotate(-90)">MTomato</text>
<text font-size="17" textLength="129.1" lengthAdjust="spacingAndGlyphs" transform="translate(808.2 1905.1) rotate(-90)">MTomato + MYFP</text>
<text font-size="17" textLength="134.6" lengthAdjust="spacingAndGlyphs" transform="translate(828.3 1905.1) rotate(-90)">MTomato + MTFP1</text>
<text font-size="17" textLength="193.8" lengthAdjust="spacingAndGlyphs" transform="translate(851.3 1905.1) rotate(-90)">MTomato + MYFP + MTFP1</text>
<circle cx="759.5" cy="1923.7" r="6.4" fill="#b4f092"/>
<circle cx="759.5" cy="1923.7" r="3.3" fill="#10b020"/>
<circle cx="759.5" cy="1949.7" r="6.4" fill="#b4f092"/>
<circle cx="759.5" cy="1949.7" r="3.3" fill="#dc1070"/>
<circle cx="759.5" cy="1976.4" r="6.4" fill="#b4f092"/>
<circle cx="759.5" cy="1976.4" r="3.3" fill="#1010f0"/>
<circle cx="759.5" cy="2002.7" r="6.4" fill="#b4f092"/>
<circle cx="759.5" cy="2002.7" r="3.3" fill="#ffe000"/>
<circle cx="759.5" cy="2026.5" r="6.4" fill="#b4f092"/>
<circle cx="759.5" cy="2026.5" r="3.3" fill="#38d8f2"/>
<circle cx="759.5" cy="2052.8" r="6.4" fill="#b4f092"/>
<circle cx="759.5" cy="2052.8" r="3.3" fill="#9212c2"/>
<circle cx="759.5" cy="2079.2" r="6.4" fill="#b4f092"/>
<circle cx="759.5" cy="2079.2" r="3.3" fill="#f452e2"/>
<circle cx="780.7" cy="1923.7" r="6.4" fill="#f5a3b8"/>
<circle cx="780.7" cy="1923.7" r="3.3" fill="#10b020"/>
<circle cx="780.7" cy="1949.7" r="6.4" fill="#f5a3b8"/>
<circle cx="780.7" cy="1949.7" r="3.3" fill="#dc1070"/>
<circle cx="780.7" cy="1976.4" r="6.4" fill="#f5a3b8"/>
<circle cx="780.7" cy="1976.4" r="3.3" fill="#1010f0"/>
<circle cx="780.7" cy="2002.7" r="6.4" fill="#f5a3b8"/>
<circle cx="780.7" cy="2002.7" r="3.3" fill="#ffe000"/>
<circle cx="780.7" cy="2026.5" r="6.4" fill="#f5a3b8"/>
<circle cx="780.7" cy="2026.5" r="3.3" fill="#38d8f2"/>
<circle cx="780.7" cy="2052.8" r="6.4" fill="#f5a3b8"/>
<circle cx="780.7" cy="2052.8" r="3.3" fill="#9212c2"/>
<circle cx="780.7" cy="2079.2" r="6.4" fill="#f5a3b8"/>
<circle cx="780.7" cy="2079.2" r="3.3" fill="#f452e2"/>
<circle cx="801.6" cy="1923.7" r="6.4" fill="#f5ab62"/>
<circle cx="801.6" cy="1923.7" r="3.3" fill="#10b020"/>
<circle cx="801.6" cy="1949.7" r="6.4" fill="#f5ab62"/>
<circle cx="801.6" cy="1949.7" r="3.3" fill="#dc1070"/>
<circle cx="801.6" cy="1976.4" r="6.4" fill="#f5ab62"/>
<circle cx="801.6" cy="1976.4" r="3.3" fill="#1010f0"/>
<circle cx="801.6" cy="2002.7" r="6.4" fill="#f5ab62"/>
<circle cx="801.6" cy="2002.7" r="3.3" fill="#ffe000"/>
<circle cx="801.6" cy="2026.5" r="6.4" fill="#f5ab62"/>
<circle cx="801.6" cy="2026.5" r="3.3" fill="#38d8f2"/>
<circle cx="801.6" cy="2052.8" r="6.4" fill="#f5ab62"/>
<circle cx="801.6" cy="2052.8" r="3.3" fill="#9212c2"/>
<circle cx="801.6" cy="2079.2" r="6.4" fill="#f5ab62"/>
<circle cx="801.6" cy="2079.2" r="3.3" fill="#f452e2"/>
<circle cx="822.8" cy="1923.7" r="6.4" fill="#c274f2"/>
<circle cx="822.8" cy="1923.7" r="3.3" fill="#10b020"/>
<circle cx="822.8" cy="1949.7" r="6.4" fill="#c274f2"/>
<circle cx="822.8" cy="1949.7" r="3.3" fill="#dc1070"/>
<circle cx="822.8" cy="1976.4" r="6.4" fill="#c274f2"/>
<circle cx="822.8" cy="1976.4" r="3.3" fill="#1010f0"/>
<circle cx="822.8" cy="2002.7" r="6.4" fill="#c274f2"/>
<circle cx="822.8" cy="2002.7" r="3.3" fill="#ffe000"/>
<circle cx="822.8" cy="2026.5" r="6.4" fill="#c274f2"/>
<circle cx="822.8" cy="2026.5" r="3.3" fill="#38d8f2"/>
<circle cx="822.8" cy="2052.8" r="6.4" fill="#c274f2"/>
<circle cx="822.8" cy="2052.8" r="3.3" fill="#9212c2"/>
<circle cx="822.8" cy="2079.2" r="6.4" fill="#c274f2"/>
<circle cx="822.8" cy="2079.2" r="3.3" fill="#f452e2"/>
<circle cx="845.5" cy="1923.7" r="6.4" fill="#f2a2f2"/>
<circle cx="845.5" cy="1923.7" r="3.3" fill="#10b020"/>
<circle cx="845.5" cy="1949.7" r="6.4" fill="#f2a2f2"/>
<circle cx="845.5" cy="1949.7" r="3.3" fill="#dc1070"/>
<circle cx="845.5" cy="1976.4" r="6.4" fill="#f2a2f2"/>
<circle cx="845.5" cy="1976.4" r="3.3" fill="#1010f0"/>
<circle cx="845.5" cy="2002.7" r="6.4" fill="#f2a2f2"/>
<circle cx="845.5" cy="2002.7" r="3.3" fill="#ffe000"/>
<circle cx="845.5" cy="2026.5" r="6.4" fill="#f2a2f2"/>
<circle cx="845.5" cy="2026.5" r="3.3" fill="#38d8f2"/>
<circle cx="845.5" cy="2052.8" r="6.4" fill="#f2a2f2"/>
<circle cx="845.5" cy="2052.8" r="3.3" fill="#9212c2"/>
<circle cx="845.5" cy="2079.2" r="6.4" fill="#f2a2f2"/>
<circle cx="845.5" cy="2079.2" r="3.3" fill="#f452e2"/>
<rect x="750.7" y="1912.4" width="104.3" height="176.3" fill="none" stroke="#111" stroke-width="1.4"/>
<rect x="750.7" y="1912.4" width="81.2" height="77.2" fill="none" stroke="#e8303a" stroke-width="1.2"/>
<text x="861.5" y="1925.2" font-size="17" textLength="70.3" lengthAdjust="spacingAndGlyphs">H2B–GFP</text>
<text x="861.5" y="1951.5" font-size="17" textLength="91.1" lengthAdjust="spacingAndGlyphs">H2B–Cherry</text>
<text x="861.5" y="1977.5" font-size="17" textLength="107.9" lengthAdjust="spacingAndGlyphs">H2B–Cerulean</text>
<text x="860.8" y="2003.1" font-size="17" textLength="178.9" lengthAdjust="spacingAndGlyphs">H2B–GFP + H2B–Cherry</text>
<text x="860.8" y="2029.4" font-size="17" textLength="196" lengthAdjust="spacingAndGlyphs">H2B–GFP + H2B–Cerulean</text>
<text x="860.8" y="2055.4" font-size="17" textLength="216.5" lengthAdjust="spacingAndGlyphs">H2B–Cerulean + H2B–Cherry</text>
<text x="859.7" y="2081.4" font-size="17" textLength="209.9" lengthAdjust="spacingAndGlyphs">H2B–GFP + H2B–Cerulean +</text>
<text x="859.7" y="2100.7" font-size="17" textLength="90.3" lengthAdjust="spacingAndGlyphs">H2B–Cherry</text>
<rect x="763.5" y="2096.3" width="17.6" height="13.6" fill="none" stroke="#e8303a" stroke-width="1.2"/>
<rect x="763.5" y="2119.8" width="17.6" height="13.1" fill="none" stroke="#111" stroke-width="1.4"/>
<text x="786.6" y="2108.8" font-size="17" textLength="69.1" lengthAdjust="spacingAndGlyphs"><tspan>2</tspan><tspan font-style="italic">n</tspan><tspan font-style="normal"> nuclei</tspan></text>
<text x="786.6" y="2132.2" font-size="17" textLength="69.4" lengthAdjust="spacingAndGlyphs"><tspan>4</tspan><tspan font-style="italic">n</tspan><tspan font-style="normal"> nuclei</tspan></text>
<text x="1071.5" y="1540.7" font-size="37" fill="#000" font-weight="bold" stroke="#000" stroke-width="1.0">l</text>
<rect x="1163.1" y="1534.3" width="19.2" height="9.6" fill="#ffff00" stroke="#111" stroke-width="1.2"/>
<rect x="1163.1" y="1554.6" width="19.2" height="9.6" fill="#ff0000" stroke="#111" stroke-width="1.2"/>
<text x="1192.6" y="1546" font-size="18" textLength="52.7" lengthAdjust="spacingAndGlyphs"><tspan>MYFP</tspan><tspan font-size="10" dy="-7">+</tspan><tspan dy="7"></tspan></text>
<text x="1192.6" y="1566.4" font-size="18" textLength="86.2" lengthAdjust="spacingAndGlyphs"><tspan>MTomato</tspan><tspan font-size="10" dy="-7">+</tspan><tspan dy="7"></tspan></text>
<rect x="1149.9" y="1585.6" width="13.9" height="136.8" fill="#ffff00" stroke="#111" stroke-width="1.2"/>
<rect x="1167.4" y="1582.6" width="13.7" height="139.8" fill="#ff0000" stroke="#111" stroke-width="1.2"/>
<rect x="1198.8" y="1706.7" width="14.1" height="15.7" fill="#ffff00" stroke="#111" stroke-width="1.2"/>
<rect x="1216.5" y="1710.9" width="13.7" height="11.5" fill="#ff0000" stroke="#111" stroke-width="1.2"/>
<rect x="1264.9" y="1720.9" width="14.7" height="1.5" fill="#ff0000" stroke="#111" stroke-width="1.2"/>
<line x1="1142.7" y1="1569" x2="1142.7" y2="1722.4" stroke="#1a1a1a" stroke-width="1.4"/>
<line x1="1136.1" y1="1691.8" x2="1142.7" y2="1691.8" stroke="#1a1a1a" stroke-width="1.3299999999999998"/>
<line x1="1136.1" y1="1661.2" x2="1142.7" y2="1661.2" stroke="#1a1a1a" stroke-width="1.3299999999999998"/>
<line x1="1136.1" y1="1630.7" x2="1142.7" y2="1630.7" stroke="#1a1a1a" stroke-width="1.3299999999999998"/>
<line x1="1136.1" y1="1600.1" x2="1142.7" y2="1600.1" stroke="#1a1a1a" stroke-width="1.3299999999999998"/>
<line x1="1136.1" y1="1569.5" x2="1142.7" y2="1569.5" stroke="#1a1a1a" stroke-width="1.3299999999999998"/>
<line x1="1136.3" y1="1722.4" x2="1280" y2="1722.4" stroke="#1a1a1a" stroke-width="1.4"/>
<line x1="1165.3" y1="1722.4" x2="1165.3" y2="1728.9" stroke="#1a1a1a" stroke-width="1.3299999999999998"/>
<line x1="1214.4" y1="1722.4" x2="1214.4" y2="1728.9" stroke="#1a1a1a" stroke-width="1.3299999999999998"/>
<line x1="1263.5" y1="1722.4" x2="1263.5" y2="1728.9" stroke="#1a1a1a" stroke-width="1.3299999999999998"/>
<text x="1118.2" y="1728.5" font-size="17" textLength="10.2" lengthAdjust="spacingAndGlyphs">0</text>
<text x="1108" y="1697.9" font-size="17" textLength="20.4" lengthAdjust="spacingAndGlyphs">20</text>
<text x="1108" y="1667.3" font-size="17" textLength="20.4" lengthAdjust="spacingAndGlyphs">40</text>
<text x="1108" y="1636.7" font-size="17" textLength="20.4" lengthAdjust="spacingAndGlyphs">60</text>
<text x="1108" y="1606.1" font-size="17" textLength="20.4" lengthAdjust="spacingAndGlyphs">80</text>
<text x="1100.6" y="1575.6" font-size="17" textLength="27.8" lengthAdjust="spacingAndGlyphs">100</text>
<text x="1161.6" y="1749.7" font-size="17" textLength="7.4" lengthAdjust="spacingAndGlyphs">1</text>
<text x="1209.3" y="1749.7" font-size="17" textLength="10.2" lengthAdjust="spacingAndGlyphs">2</text>
<text x="1254" y="1749.7" font-size="17" textLength="18.9" lengthAdjust="spacingAndGlyphs">≥3</text>
<text font-size="20" textLength="163.4" lengthAdjust="spacingAndGlyphs" transform="translate(1087.1 1727.6) rotate(-90)">Percent of clones</text>
<text x="1090" y="1778.4" font-size="21" textLength="241.6" lengthAdjust="spacingAndGlyphs">Average clone size of 1.10</text>
<text x="1138.7" y="1806" font-size="21" textLength="144.2" lengthAdjust="spacingAndGlyphs"><tspan>(</tspan><tspan font-style="italic">n</tspan><tspan font-style="normal"> = 261 clones)</tspan></text>
<text x="1289.2" y="1540.7" font-size="37" fill="#000" font-weight="bold" stroke="#000" stroke-width="1.0">m</text>
<rect x="1380.2" y="1619.8" width="13.6" height="100.2" fill="#ffff00" stroke="#111" stroke-width="1.2"/>
<rect x="1401" y="1633.3" width="13.8" height="86.7" fill="#ff0000" stroke="#111" stroke-width="1.2"/>
<rect x="1436.1" y="1611.9" width="13.6" height="108.1" fill="#ffff00" stroke="#111" stroke-width="1.2"/>
<rect x="1456.9" y="1630.5" width="13.8" height="89.5" fill="#ff0000" stroke="#111" stroke-width="1.2"/>
<rect x="1491.9" y="1693.5" width="13.6" height="26.5" fill="#ffff00" stroke="#111" stroke-width="1.2"/>
<rect x="1512.7" y="1707.5" width="13.8" height="12.5" fill="#ff0000" stroke="#111" stroke-width="1.2"/>
<rect x="1624.4" y="1718.7" width="13.8" height="1.3" fill="#ff0000" stroke="#111" stroke-width="1.2"/>
<rect x="1659.5" y="1704.7" width="13.6" height="15.3" fill="#ffff00" stroke="#111" stroke-width="1.2"/>
<rect x="1680.3" y="1688.6" width="13.8" height="31.4" fill="#ff0000" stroke="#111" stroke-width="1.2"/>
<rect x="1715.1" y="1716.4" width="13.6" height="3.6" fill="#ffff00" stroke="#111" stroke-width="1.2"/>
<rect x="1735.9" y="1693.5" width="13.8" height="26.5" fill="#ff0000" stroke="#111" stroke-width="1.2"/>
<rect x="1791.2" y="1716.2" width="13.8" height="3.8" fill="#ff0000" stroke="#111" stroke-width="1.2"/>
<rect x="1903.4" y="1719" width="13.8" height="1" fill="#ff0000" stroke="#111" stroke-width="1.2"/>
<line x1="1373" y1="1566.6" x2="1373" y2="1720" stroke="#1a1a1a" stroke-width="1.4"/>
<line x1="1366.4" y1="1669" x2="1373" y2="1669" stroke="#1a1a1a" stroke-width="1.3299999999999998"/>
<line x1="1366.4" y1="1618" x2="1373" y2="1618" stroke="#1a1a1a" stroke-width="1.3299999999999998"/>
<line x1="1366.4" y1="1567" x2="1373" y2="1567" stroke="#1a1a1a" stroke-width="1.3299999999999998"/>
<line x1="1366.4" y1="1720" x2="1925" y2="1720" stroke="#1a1a1a" stroke-width="1.4"/>
<line x1="1397.1" y1="1720" x2="1397.1" y2="1726.6" stroke="#1a1a1a" stroke-width="1.3299999999999998"/>
<line x1="1453" y1="1720" x2="1453" y2="1726.6" stroke="#1a1a1a" stroke-width="1.3299999999999998"/>
<line x1="1508.8" y1="1720" x2="1508.8" y2="1726.6" stroke="#1a1a1a" stroke-width="1.3299999999999998"/>
<line x1="1564.4" y1="1720" x2="1564.4" y2="1726.6" stroke="#1a1a1a" stroke-width="1.3299999999999998"/>
<line x1="1620.5" y1="1720" x2="1620.5" y2="1726.6" stroke="#1a1a1a" stroke-width="1.3299999999999998"/>
<line x1="1676.4" y1="1720" x2="1676.4" y2="1726.6" stroke="#1a1a1a" stroke-width="1.3299999999999998"/>
<line x1="1732" y1="1720" x2="1732" y2="1726.6" stroke="#1a1a1a" stroke-width="1.3299999999999998"/>
<line x1="1787.3" y1="1720" x2="1787.3" y2="1726.6" stroke="#1a1a1a" stroke-width="1.3299999999999998"/>
<line x1="1844.2" y1="1720" x2="1844.2" y2="1726.6" stroke="#1a1a1a" stroke-width="1.3299999999999998"/>
<line x1="1899.5" y1="1720" x2="1899.5" y2="1726.6" stroke="#1a1a1a" stroke-width="1.3299999999999998"/>
<text x="1348.2" y="1726.1" font-size="17" textLength="10.2" lengthAdjust="spacingAndGlyphs">0</text>
<text x="1338" y="1675.1" font-size="17" textLength="20.4" lengthAdjust="spacingAndGlyphs">20</text>
<text x="1338" y="1624.1" font-size="17" textLength="20.4" lengthAdjust="spacingAndGlyphs">40</text>
<text x="1338" y="1573.1" font-size="17" textLength="20.4" lengthAdjust="spacingAndGlyphs">60</text>
<text font-size="20" textLength="148.5" lengthAdjust="spacingAndGlyphs" transform="translate(1300.4 1720.4) rotate(-90)">Control percent</text>
<text font-size="20" textLength="84.3" lengthAdjust="spacingAndGlyphs" transform="translate(1323.2 1685.7) rotate(-90)">of clones</text>
<text x="1455.9" y="1549" font-size="18.5" fill="#a9aa16" textLength="50.2" lengthAdjust="spacingAndGlyphs"><tspan font-style="italic">Myc</tspan><tspan font-style="italic" font-size="10.5" dy="-7">WT</tspan><tspan dy="7"></tspan></text>
<rect x="1509.1" y="1538.6" width="18.6" height="9.6" fill="#ffff00" stroke="#111" stroke-width="1.2"/>
<text x="1544.1" y="1549" font-size="18.5" fill="#a9aa16" textLength="305.4" lengthAdjust="spacingAndGlyphs"><tspan>MYFP</tspan><tspan font-size="10" dy="-7">+</tspan><tspan dy="7"> (66 dual or trilabeled clones)</tspan></text>
<text x="1455.9" y="1573" font-size="18.5" fill="#ee1c25" textLength="50.2" lengthAdjust="spacingAndGlyphs"><tspan font-style="italic">Myc</tspan><tspan font-style="italic" font-size="10.5" dy="-7">KO</tspan><tspan dy="7"></tspan></text>
<rect x="1509.1" y="1562.6" width="18.6" height="9.6" fill="#ff0000" stroke="#111" stroke-width="1.2"/>
<text x="1544.1" y="1573" font-size="18.5" fill="#ee1c25" textLength="346.1" lengthAdjust="spacingAndGlyphs"><tspan>MTomato</tspan><tspan font-size="10" dy="-7">+</tspan><tspan dy="7"> (195 dual or trilabeled clones)</tspan></text>
<circle cx="1390.9" cy="1749.5" r="10.6" fill="#d4d4d4" stroke="#a0a0a0" stroke-width="0.9"/>
<circle cx="1390.9" cy="1749.5" r="2.9" fill="#585858"/>
<circle cx="1446.8" cy="1749.5" r="10.6" fill="#d4d4d4" stroke="#a0a0a0" stroke-width="0.9"/>
<circle cx="1450" cy="1746.7" r="2.9" fill="#585858"/>
<circle cx="1443.8" cy="1752.4" r="2.9" fill="#585858"/>
<circle cx="1491.3" cy="1748.4" r="10.6" fill="#d4d4d4" stroke="#a0a0a0" stroke-width="0.9"/>
<circle cx="1491.3" cy="1748.4" r="2.9" fill="#585858"/>
<circle cx="1505.8" cy="1763.6" r="10.6" fill="#d4d4d4" stroke="#a0a0a0" stroke-width="0.9"/>
<circle cx="1505.8" cy="1763.6" r="2.9" fill="#585858"/>
<circle cx="1546.9" cy="1745.8" r="10.6" fill="#d4d4d4" stroke="#a0a0a0" stroke-width="0.9"/>
<circle cx="1550.1" cy="1743" r="2.9" fill="#585858"/>
<circle cx="1543.9" cy="1748.7" r="2.9" fill="#585858"/>
<circle cx="1561.4" cy="1761" r="10.6" fill="#d4d4d4" stroke="#a0a0a0" stroke-width="0.9"/>
<circle cx="1564.6" cy="1758.2" r="2.9" fill="#585858"/>
<circle cx="1558.4" cy="1763.9" r="2.9" fill="#585858"/>
<circle cx="1603" cy="1745.8" r="10.6" fill="#d4d4d4" stroke="#a0a0a0" stroke-width="0.9"/>
<circle cx="1603" cy="1745.8" r="2.9" fill="#585858"/>
<circle cx="1617.5" cy="1761" r="10.6" fill="#d4d4d4" stroke="#a0a0a0" stroke-width="0.9"/>
<circle cx="1620.7" cy="1758.2" r="2.9" fill="#585858"/>
<circle cx="1614.5" cy="1763.9" r="2.9" fill="#585858"/>
<circle cx="1670.2" cy="1749.5" r="10.6" fill="#d4d4d4" stroke="#a0a0a0" stroke-width="0.9"/>
<ellipse cx="1670.2" cy="1749.5" rx="5.4" ry="4.6" fill="#585858"/>
<circle cx="1725.8" cy="1749.5" r="10.6" fill="#d4d4d4" stroke="#a0a0a0" stroke-width="0.9"/>
<circle cx="1729.4" cy="1746.3" r="4.6" fill="#585858"/>
<circle cx="1722.2" cy="1752.9" r="4.6" fill="#585858"/>
<circle cx="1769.8" cy="1748.4" r="10.6" fill="#d4d4d4" stroke="#a0a0a0" stroke-width="0.9"/>
<ellipse cx="1769.8" cy="1748.4" rx="5.4" ry="4.6" fill="#585858"/>
<circle cx="1784.3" cy="1763.6" r="10.6" fill="#d4d4d4" stroke="#a0a0a0" stroke-width="0.9"/>
<ellipse cx="1784.3" cy="1763.6" rx="5.4" ry="4.6" fill="#585858"/>
<circle cx="1826.7" cy="1745.8" r="10.6" fill="#d4d4d4" stroke="#a0a0a0" stroke-width="0.9"/>
<circle cx="1830.3" cy="1742.6" r="4.6" fill="#585858"/>
<circle cx="1823.1" cy="1749.2" r="4.6" fill="#585858"/>
<circle cx="1841.2" cy="1761" r="10.6" fill="#d4d4d4" stroke="#a0a0a0" stroke-width="0.9"/>
<circle cx="1844.8" cy="1757.8" r="4.6" fill="#585858"/>
<circle cx="1837.6" cy="1764.4" r="4.6" fill="#585858"/>
<circle cx="1882" cy="1745.8" r="10.6" fill="#d4d4d4" stroke="#a0a0a0" stroke-width="0.9"/>
<ellipse cx="1882" cy="1745.8" rx="5.4" ry="4.6" fill="#585858"/>
<circle cx="1896.5" cy="1761" r="10.6" fill="#d4d4d4" stroke="#a0a0a0" stroke-width="0.9"/>
<circle cx="1900.1" cy="1757.8" r="4.6" fill="#585858"/>
<circle cx="1892.9" cy="1764.4" r="4.6" fill="#585858"/>
<line x1="1372.1" y1="1783.6" x2="1463.3" y2="1783.6" stroke="#333" stroke-width="1.3"/>
<line x1="1480.4" y1="1783.6" x2="1635.5" y2="1783.6" stroke="#333" stroke-width="1.3"/>
<line x1="1652.1" y1="1783.6" x2="1745" y2="1783.6" stroke="#333" stroke-width="1.3"/>
<line x1="1771.2" y1="1783.6" x2="1910.3" y2="1783.6" stroke="#333" stroke-width="1.3"/>
<text x="1355.1" y="1805" font-size="17" textLength="125.9" lengthAdjust="spacingAndGlyphs">Nonproliferative</text>
<text x="1402.7" y="1827" font-size="17" textLength="30.1" lengthAdjust="spacingAndGlyphs"><tspan>(2</tspan><tspan font-style="italic">n</tspan><tspan font-style="normal">)</tspan></text>
<text x="1511.5" y="1805" font-size="17" textLength="92.6" lengthAdjust="spacingAndGlyphs">Proliferative</text>
<text x="1543.4" y="1827" font-size="17" textLength="28.9" lengthAdjust="spacingAndGlyphs"><tspan>(2</tspan><tspan font-style="italic">n</tspan><tspan font-style="normal">)</tspan></text>
<text x="1636.7" y="1805" font-size="17" textLength="124.2" lengthAdjust="spacingAndGlyphs">Nonproliferative</text>
<text x="1683.2" y="1827" font-size="17" textLength="31.1" lengthAdjust="spacingAndGlyphs"><tspan>(4</tspan><tspan font-style="italic">n</tspan><tspan font-style="normal">)</tspan></text>
<text x="1794.7" y="1805" font-size="17" textLength="92.3" lengthAdjust="spacingAndGlyphs">Proliferative</text>
<text x="1825" y="1827" font-size="17" textLength="30.9" lengthAdjust="spacingAndGlyphs"><tspan>(4</tspan><tspan font-style="italic">n</tspan><tspan font-style="normal">)</tspan></text>
<text x="1933.8" y="1540.6" font-size="37" fill="#000" font-weight="bold" stroke="#000" stroke-width="1.0">n</text>
<defs><pattern id="dp" width="3" height="3" patternUnits="userSpaceOnUse"><rect x="0.6" y="0.6" width="1" height="1" fill="#111"/></pattern></defs>
<rect x="2014.4" y="1611.8" width="28.3" height="129.2" fill="#f4ffbe" stroke="#111" stroke-width="1.2"/>
<rect x="2014.4" y="1595.8" width="28.3" height="16" fill="#ffff00" stroke="#111" stroke-width="1.2"/>
<rect x="2015" y="1596.4" width="27.1" height="14.8" fill="url(#dp)"/>
<rect x="2057.8" y="1607.4" width="28.5" height="133.6" fill="#ffa2a2" stroke="#111" stroke-width="1.2"/>
<rect x="2057.8" y="1595.8" width="28.5" height="11.6" fill="#ff0000" stroke="#111" stroke-width="1.2"/>
<rect x="2058.4" y="1596.4" width="27.3" height="10.4" fill="url(#dp)"/>
<line x1="1999.3" y1="1587.2" x2="1999.3" y2="1741" stroke="#1a1a1a" stroke-width="1.4"/>
<line x1="1992.7" y1="1704.7" x2="1999.3" y2="1704.7" stroke="#1a1a1a" stroke-width="1.3299999999999998"/>
<line x1="1992.7" y1="1668.4" x2="1999.3" y2="1668.4" stroke="#1a1a1a" stroke-width="1.3299999999999998"/>
<line x1="1992.7" y1="1632.1" x2="1999.3" y2="1632.1" stroke="#1a1a1a" stroke-width="1.3299999999999998"/>
<line x1="1992.7" y1="1595.8" x2="1999.3" y2="1595.8" stroke="#1a1a1a" stroke-width="1.3299999999999998"/>
<line x1="1992.7" y1="1741" x2="2102" y2="1741" stroke="#1a1a1a" stroke-width="1.4"/>
<line x1="2028.6" y1="1741" x2="2028.6" y2="1747.6" stroke="#1a1a1a" stroke-width="1.3299999999999998"/>
<line x1="2072.1" y1="1741" x2="2072.1" y2="1747.6" stroke="#1a1a1a" stroke-width="1.3299999999999998"/>
<text x="1974" y="1747.1" font-size="17" textLength="10.2" lengthAdjust="spacingAndGlyphs">0</text>
<text x="1963.8" y="1710.8" font-size="17" textLength="20.4" lengthAdjust="spacingAndGlyphs">25</text>
<text x="1963.8" y="1674.5" font-size="17" textLength="20.4" lengthAdjust="spacingAndGlyphs">50</text>
<text x="1963.8" y="1638.2" font-size="17" textLength="20.4" lengthAdjust="spacingAndGlyphs">75</text>
<text x="1956.4" y="1601.9" font-size="17" textLength="27.8" lengthAdjust="spacingAndGlyphs">100</text>
<text x="2016.5" y="1575.5" font-size="18.5" textLength="64.5" lengthAdjust="spacingAndGlyphs">Control</text>
<text transform="translate(2030.6 1755.5) rotate(-46)" font-size="16.3" text-anchor="end"><tspan>MYFP</tspan><tspan font-size="9" dy="-6">+</tspan><tspan dy="6"></tspan></text>
<text transform="translate(2074.1 1755.5) rotate(-46)" font-size="16.3" text-anchor="end"><tspan>MTomato</tspan><tspan font-size="9" dy="-6">+</tspan><tspan dy="6"></tspan></text>
<text font-size="20" textLength="140.1" lengthAdjust="spacingAndGlyphs" transform="translate(1949.8 1734.1) rotate(-90)">percent clones</text>
<rect x="1964.4" y="1820.3" width="19.2" height="10" fill="#fff" stroke="#111" stroke-width="1.1"/>
<rect x="1965" y="1820.9" width="18" height="8.8" fill="url(#dp)"/>
<rect x="1964.4" y="1838.4" width="19.2" height="10.4" fill="#f6f6f6" stroke="#111" stroke-width="1.1"/>
<text x="1998.3" y="1831.6" font-size="14" textLength="80.5" lengthAdjust="spacingAndGlyphs">Proliferative</text>
<text x="1998.3" y="1849.2" font-size="14" textLength="108.2" lengthAdjust="spacingAndGlyphs">Nonproliferative</text>
<text x="1081.8" y="1880.7" font-size="37" fill="#000" font-weight="bold" stroke="#000" stroke-width="1.0">o</text>
<rect x="1182.5" y="1972.2" width="28" height="76.2" fill="#d3d3d3" stroke="#111" stroke-width="1.3"/>
<rect x="1226.1" y="2048.4" width="28.3" height="1.9" fill="#ff0000" stroke="#7a0000" stroke-width="0.8"/>
<line x1="1196.6" y1="1957.3" x2="1196.6" y2="1985.9" stroke="#111" stroke-width="1.3"/>
<line x1="1189.9" y1="1957.3" x2="1203.3" y2="1957.3" stroke="#111" stroke-width="1.3"/>
<line x1="1189.9" y1="1985.9" x2="1203.3" y2="1985.9" stroke="#111" stroke-width="1.3"/>
<line x1="1240.5" y1="2042.2" x2="1240.5" y2="2059.7" stroke="#111" stroke-width="1.3"/>
<line x1="1233.8" y1="2042.2" x2="1247.2" y2="2042.2" stroke="#111" stroke-width="1.3"/>
<line x1="1233.8" y1="2059.7" x2="1247.2" y2="2059.7" stroke="#111" stroke-width="1.3"/>
<circle cx="1196.6" cy="1961.7" r="2.3" fill="#fff" stroke="#111" stroke-width="1.2"/>
<circle cx="1196.6" cy="1981.8" r="2.3" fill="#fff" stroke="#111" stroke-width="1.2"/>
<circle cx="1240.5" cy="2045.3" r="2.3" fill="#fff" stroke="#111" stroke-width="1.2"/>
<circle cx="1240.5" cy="2056.6" r="2.3" fill="#fff" stroke="#111" stroke-width="1.2"/>
<line x1="1167.4" y1="1932.9" x2="1167.4" y2="2086.7" stroke="#1a1a1a" stroke-width="1.4"/>
<line x1="1161.2" y1="1933.5" x2="1167.4" y2="1933.5" stroke="#1a1a1a" stroke-width="1.3"/>
<line x1="1161.2" y1="1971.8" x2="1167.4" y2="1971.8" stroke="#1a1a1a" stroke-width="1.3"/>
<line x1="1161.2" y1="2010.1" x2="1167.4" y2="2010.1" stroke="#1a1a1a" stroke-width="1.3"/>
<line x1="1161.2" y1="2048.4" x2="1167.4" y2="2048.4" stroke="#1a1a1a" stroke-width="1.3"/>
<line x1="1161.2" y1="2086.7" x2="1167.4" y2="2086.7" stroke="#1a1a1a" stroke-width="1.3"/>
<line x1="1167.4" y1="2048.4" x2="1270" y2="2048.4" stroke="#1a1a1a" stroke-width="1.4"/>
<line x1="1167.4" y1="2086.7" x2="1270" y2="2086.7" stroke="#1a1a1a" stroke-width="1.4"/>
<line x1="1196.6" y1="2086.7" x2="1196.6" y2="2092.8" stroke="#1a1a1a" stroke-width="1.3"/>
<line x1="1240.5" y1="2086.7" x2="1240.5" y2="2092.8" stroke="#1a1a1a" stroke-width="1.3"/>
<polyline points="1196.6,1947.8 1196.6,1939.9 1240.5,1939.9 1240.5,2010.1" fill="none" stroke="#111" stroke-width="1.3" stroke-linejoin="round"/>
<text x="1196.6" y="1935.1" font-size="14.5" textLength="45.6" lengthAdjust="spacingAndGlyphs">0.0213</text>
<text x="1217.7" y="2029.7" font-size="16" fill="#e8192c" textLength="43.9" lengthAdjust="spacingAndGlyphs">−4.2×</text>
<text x="1144.5" y="1939.6" font-size="17" textLength="10.2" lengthAdjust="spacingAndGlyphs">3</text>
<text x="1144.5" y="1977.9" font-size="17" textLength="10.2" lengthAdjust="spacingAndGlyphs">2</text>
<text x="1147.3" y="2016.2" font-size="17" textLength="7.4" lengthAdjust="spacingAndGlyphs">1</text>
<text x="1144.5" y="2054.5" font-size="17" textLength="10.2" lengthAdjust="spacingAndGlyphs">0</text>
<text x="1138.5" y="2092.8" font-size="17" textLength="16.2" lengthAdjust="spacingAndGlyphs">−1</text>
<text font-size="20" textLength="216.9" lengthAdjust="spacingAndGlyphs" transform="translate(1119 2118.4) rotate(-90)"><tspan>log</tspan><tspan font-size="12" dy="5">2</tspan><tspan dy="-5"> ratio Tomato</tspan><tspan font-size="13" dy="-8">+</tspan><tspan dy="8">/YFP</tspan><tspan font-size="13" dy="-8">+</tspan><tspan dy="8"></tspan></text>
<text transform="translate(1203.5 2108.5) rotate(-41)" font-size="17" text-anchor="end">Control</text>
<text transform="translate(1212.5 2121) rotate(-41)" font-size="17" text-anchor="end">iFlpMosaic</text>
<text transform="translate(1251 2108.5) rotate(-41)" font-size="17" text-anchor="end"><tspan>Myc</tspan><tspan font-size="10.5" dy="-7" dx="1">flox</tspan><tspan dy="7"></tspan></text>
<text transform="translate(1263 2121) rotate(-41)" font-size="17" text-anchor="end">iFlpMosaic</text>
<text x="1289.8" y="1880.7" font-size="37" fill="#000" font-weight="bold" stroke="#000" stroke-width="1.0">p</text>
<rect x="1372.2" y="1931.9" width="13.6" height="132.3" fill="#ffff00" stroke="#111" stroke-width="1.2"/>
<rect x="1393" y="1929.3" width="13.8" height="134.9" fill="#ff0000" stroke="#111" stroke-width="1.2"/>
<rect x="1428" y="2015.6" width="13.6" height="48.6" fill="#ffff00" stroke="#111" stroke-width="1.2"/>
<rect x="1448.8" y="1978.7" width="13.8" height="85.5" fill="#ff0000" stroke="#111" stroke-width="1.2"/>
<rect x="1483.8" y="2030.4" width="13.6" height="33.8" fill="#ffff00" stroke="#111" stroke-width="1.2"/>
<rect x="1504.6" y="2052.5" width="13.8" height="11.7" fill="#ff0000" stroke="#111" stroke-width="1.2"/>
<rect x="1616.3" y="2060.6" width="13.8" height="3.6" fill="#ff0000" stroke="#111" stroke-width="1.2"/>
<rect x="1651.1" y="2053.3" width="13.6" height="10.9" fill="#ffff00" stroke="#111" stroke-width="1.2"/>
<rect x="1671.9" y="2060.6" width="13.8" height="3.6" fill="#ff0000" stroke="#111" stroke-width="1.2"/>
<rect x="1707" y="2045.6" width="13.6" height="18.6" fill="#ffff00" stroke="#111" stroke-width="1.2"/>
<rect x="1727.8" y="2052.5" width="13.8" height="11.7" fill="#ff0000" stroke="#111" stroke-width="1.2"/>
<rect x="1762.6" y="2057.3" width="13.6" height="6.9" fill="#ffff00" stroke="#111" stroke-width="1.2"/>
<line x1="1365.1" y1="1910.8" x2="1365.1" y2="2064.2" stroke="#1a1a1a" stroke-width="1.4"/>
<line x1="1358.5" y1="2013.3" x2="1365.1" y2="2013.3" stroke="#1a1a1a" stroke-width="1.3299999999999998"/>
<line x1="1358.5" y1="1962.4" x2="1365.1" y2="1962.4" stroke="#1a1a1a" stroke-width="1.3299999999999998"/>
<line x1="1358.5" y1="1911.5" x2="1365.1" y2="1911.5" stroke="#1a1a1a" stroke-width="1.3299999999999998"/>
<line x1="1358.5" y1="2064.2" x2="1925" y2="2064.2" stroke="#1a1a1a" stroke-width="1.4"/>
<line x1="1389.1" y1="2064.2" x2="1389.1" y2="2070.8" stroke="#1a1a1a" stroke-width="1.3299999999999998"/>
<line x1="1444.9" y1="2064.2" x2="1444.9" y2="2070.8" stroke="#1a1a1a" stroke-width="1.3299999999999998"/>
<line x1="1500.7" y1="2064.2" x2="1500.7" y2="2070.8" stroke="#1a1a1a" stroke-width="1.3299999999999998"/>
<line x1="1556.6" y1="2064.2" x2="1556.6" y2="2070.8" stroke="#1a1a1a" stroke-width="1.3299999999999998"/>
<line x1="1612.4" y1="2064.2" x2="1612.4" y2="2070.8" stroke="#1a1a1a" stroke-width="1.3299999999999998"/>
<line x1="1668" y1="2064.2" x2="1668" y2="2070.8" stroke="#1a1a1a" stroke-width="1.3299999999999998"/>
<line x1="1723.9" y1="2064.2" x2="1723.9" y2="2070.8" stroke="#1a1a1a" stroke-width="1.3299999999999998"/>
<line x1="1779.5" y1="2064.2" x2="1779.5" y2="2070.8" stroke="#1a1a1a" stroke-width="1.3299999999999998"/>
<line x1="1835.3" y1="2064.2" x2="1835.3" y2="2070.8" stroke="#1a1a1a" stroke-width="1.3299999999999998"/>
<line x1="1891.4" y1="2064.2" x2="1891.4" y2="2070.8" stroke="#1a1a1a" stroke-width="1.3299999999999998"/>
<text x="1339.8" y="2070.3" font-size="17" textLength="10.2" lengthAdjust="spacingAndGlyphs">0</text>
<text x="1329.6" y="2019.4" font-size="17" textLength="20.4" lengthAdjust="spacingAndGlyphs">20</text>
<text x="1329.6" y="1968.5" font-size="17" textLength="20.4" lengthAdjust="spacingAndGlyphs">40</text>
<text x="1329.6" y="1917.6" font-size="17" textLength="20.4" lengthAdjust="spacingAndGlyphs">60</text>
<text font-size="20" textLength="181.4" lengthAdjust="spacingAndGlyphs" transform="translate(1293.9 2081.2) rotate(-90)"><tspan font-style="italic">Myc</tspan><tspan font-style="normal"> floxed percent</tspan></text>
<text font-size="20" textLength="85.1" lengthAdjust="spacingAndGlyphs" transform="translate(1320.8 2030.9) rotate(-90)">of clones</text>
<text x="1476.7" y="1908.8" font-size="18.5" fill="#a9aa16" textLength="49" lengthAdjust="spacingAndGlyphs"><tspan font-style="italic">Myc</tspan><tspan font-style="italic" font-size="10.5" dy="-7">WT</tspan><tspan dy="7"></tspan></text>
<rect x="1537.5" y="1898.4" width="18.8" height="9.6" fill="#ffff00" stroke="#111" stroke-width="1.2"/>
<text x="1563.7" y="1908.8" font-size="18.5" fill="#a9aa16" textLength="303.7" lengthAdjust="spacingAndGlyphs"><tspan>MYFP</tspan><tspan font-size="10" dy="-7">+</tspan><tspan dy="7"> (67 dual or trilabeled clones)</tspan></text>
<text x="1476.7" y="1933.8" font-size="18.5" fill="#ee1c25" textLength="49" lengthAdjust="spacingAndGlyphs"><tspan font-style="italic">Myc</tspan><tspan font-style="italic" font-size="10.5" dy="-7">KO</tspan><tspan dy="7"></tspan></text>
<rect x="1537.5" y="1923.4" width="18.8" height="9.6" fill="#ff0000" stroke="#111" stroke-width="1.2"/>
<text x="1563.7" y="1933.8" font-size="18.5" fill="#ee1c25" textLength="336.8" lengthAdjust="spacingAndGlyphs"><tspan>MTomato</tspan><tspan font-size="10" dy="-7">+</tspan><tspan dy="7"> (62 dual or trilabeled clones)</tspan></text>
<circle cx="1389.6" cy="2092" r="10.6" fill="#d4d4d4" stroke="#a0a0a0" stroke-width="0.9"/>
<circle cx="1389.6" cy="2092" r="2.9" fill="#585858"/>
<circle cx="1445.4" cy="2092" r="10.6" fill="#d4d4d4" stroke="#a0a0a0" stroke-width="0.9"/>
<circle cx="1448.6" cy="2089.2" r="2.9" fill="#585858"/>
<circle cx="1442.4" cy="2094.9" r="2.9" fill="#585858"/>
<circle cx="1489.9" cy="2090.4" r="10.6" fill="#d4d4d4" stroke="#a0a0a0" stroke-width="0.9"/>
<circle cx="1489.9" cy="2090.4" r="2.9" fill="#585858"/>
<circle cx="1504.4" cy="2105.6" r="10.6" fill="#d4d4d4" stroke="#a0a0a0" stroke-width="0.9"/>
<circle cx="1504.4" cy="2105.6" r="2.9" fill="#585858"/>
<circle cx="1545.8" cy="2087.8" r="10.6" fill="#d4d4d4" stroke="#a0a0a0" stroke-width="0.9"/>
<circle cx="1549" cy="2085" r="2.9" fill="#585858"/>
<circle cx="1542.8" cy="2090.7" r="2.9" fill="#585858"/>
<circle cx="1560.3" cy="2103" r="10.6" fill="#d4d4d4" stroke="#a0a0a0" stroke-width="0.9"/>
<circle cx="1563.5" cy="2100.2" r="2.9" fill="#585858"/>
<circle cx="1557.3" cy="2105.9" r="2.9" fill="#585858"/>
<circle cx="1601.6" cy="2087.8" r="10.6" fill="#d4d4d4" stroke="#a0a0a0" stroke-width="0.9"/>
<circle cx="1601.6" cy="2087.8" r="2.9" fill="#585858"/>
<circle cx="1616.1" cy="2103" r="10.6" fill="#d4d4d4" stroke="#a0a0a0" stroke-width="0.9"/>
<circle cx="1619.3" cy="2100.2" r="2.9" fill="#585858"/>
<circle cx="1613.1" cy="2105.9" r="2.9" fill="#585858"/>
<circle cx="1668.5" cy="2092" r="10.6" fill="#d4d4d4" stroke="#a0a0a0" stroke-width="0.9"/>
<ellipse cx="1668.5" cy="2092" rx="5.4" ry="4.6" fill="#585858"/>
<circle cx="1724.4" cy="2092" r="10.6" fill="#d4d4d4" stroke="#a0a0a0" stroke-width="0.9"/>
<circle cx="1728" cy="2088.8" r="4.6" fill="#585858"/>
<circle cx="1720.8" cy="2095.4" r="4.6" fill="#585858"/>
<circle cx="1768.7" cy="2090.4" r="10.6" fill="#d4d4d4" stroke="#a0a0a0" stroke-width="0.9"/>
<ellipse cx="1768.7" cy="2090.4" rx="5.4" ry="4.6" fill="#585858"/>
<circle cx="1783.2" cy="2105.6" r="10.6" fill="#d4d4d4" stroke="#a0a0a0" stroke-width="0.9"/>
<ellipse cx="1783.2" cy="2105.6" rx="5.4" ry="4.6" fill="#585858"/>
<circle cx="1824.5" cy="2087.8" r="10.6" fill="#d4d4d4" stroke="#a0a0a0" stroke-width="0.9"/>
<circle cx="1828.1" cy="2084.6" r="4.6" fill="#585858"/>
<circle cx="1820.9" cy="2091.2" r="4.6" fill="#585858"/>
<circle cx="1839" cy="2103" r="10.6" fill="#d4d4d4" stroke="#a0a0a0" stroke-width="0.9"/>
<circle cx="1842.6" cy="2099.8" r="4.6" fill="#585858"/>
<circle cx="1835.4" cy="2106.4" r="4.6" fill="#585858"/>
<circle cx="1880.6" cy="2087.8" r="10.6" fill="#d4d4d4" stroke="#a0a0a0" stroke-width="0.9"/>
<ellipse cx="1880.6" cy="2087.8" rx="5.4" ry="4.6" fill="#585858"/>
<circle cx="1895.1" cy="2103" r="10.6" fill="#d4d4d4" stroke="#a0a0a0" stroke-width="0.9"/>
<circle cx="1898.7" cy="2099.8" r="4.6" fill="#585858"/>
<circle cx="1891.5" cy="2106.4" r="4.6" fill="#585858"/>
<line x1="1371.1" y1="2126" x2="1462.2" y2="2126" stroke="#333" stroke-width="1.3"/>
<line x1="1479.2" y1="2126" x2="1634" y2="2126" stroke="#333" stroke-width="1.3"/>
<line x1="1651.1" y1="2126" x2="1743.7" y2="2126" stroke="#333" stroke-width="1.3"/>
<line x1="1770.2" y1="2126" x2="1911" y2="2126" stroke="#333" stroke-width="1.3"/>
<text x="1353.8" y="2146.8" font-size="17" textLength="125.1" lengthAdjust="spacingAndGlyphs">Nonproliferative</text>
<text x="1402.7" y="2168.6" font-size="17" textLength="28.3" lengthAdjust="spacingAndGlyphs"><tspan>(2</tspan><tspan font-style="italic">n</tspan><tspan font-style="normal">)</tspan></text>
<text x="1510.5" y="2146.8" font-size="17" textLength="92.4" lengthAdjust="spacingAndGlyphs">Proliferative</text>
<text x="1542.4" y="2168.6" font-size="17" textLength="28.9" lengthAdjust="spacingAndGlyphs"><tspan>(2</tspan><tspan font-style="italic">n</tspan><tspan font-style="normal">)</tspan></text>
<text x="1634.7" y="2146.8" font-size="17" textLength="125.4" lengthAdjust="spacingAndGlyphs">Nonproliferative</text>
<text x="1682.5" y="2168.6" font-size="17" textLength="29.4" lengthAdjust="spacingAndGlyphs"><tspan>(4</tspan><tspan font-style="italic">n</tspan><tspan font-style="normal">)</tspan></text>
<text x="1793.4" y="2146.8" font-size="17" textLength="92.9" lengthAdjust="spacingAndGlyphs">Proliferative</text>
<text x="1824.1" y="2168.6" font-size="17" textLength="29.9" lengthAdjust="spacingAndGlyphs"><tspan>(4</tspan><tspan font-style="italic">n</tspan><tspan font-style="normal">)</tspan></text>
<text x="1931.8" y="1880.6" font-size="37" fill="#000" font-weight="bold" stroke="#000" stroke-width="1.0">q</text>
<rect x="2016.6" y="1964.1" width="27.9" height="120.9" fill="#f4ffbe" stroke="#111" stroke-width="1.2"/>
<rect x="2016.6" y="1939.3" width="27.9" height="24.8" fill="#ffff00" stroke="#111" stroke-width="1.2"/>
<rect x="2017.2" y="1939.9" width="26.7" height="23.6" fill="url(#dp)"/>
<rect x="2060.3" y="1949.2" width="28.3" height="135.8" fill="#ffa2a2" stroke="#111" stroke-width="1.2"/>
<rect x="2060.3" y="1939.3" width="28.3" height="9.9" fill="#ff0000" stroke="#111" stroke-width="1.2"/>
<rect x="2060.9" y="1939.9" width="27.1" height="8.7" fill="url(#dp)"/>
<line x1="2001.7" y1="1931.6" x2="2001.7" y2="2085" stroke="#1a1a1a" stroke-width="1.4"/>
<line x1="1995.1" y1="2048.6" x2="2001.7" y2="2048.6" stroke="#1a1a1a" stroke-width="1.3299999999999998"/>
<line x1="1995.1" y1="2012.2" x2="2001.7" y2="2012.2" stroke="#1a1a1a" stroke-width="1.3299999999999998"/>
<line x1="1995.1" y1="1975.7" x2="2001.7" y2="1975.7" stroke="#1a1a1a" stroke-width="1.3299999999999998"/>
<line x1="1995.1" y1="1939.3" x2="2001.7" y2="1939.3" stroke="#1a1a1a" stroke-width="1.3299999999999998"/>
<line x1="1995.1" y1="2085" x2="2104.4" y2="2085" stroke="#1a1a1a" stroke-width="1.4"/>
<line x1="2030.5" y1="2085" x2="2030.5" y2="2091.6" stroke="#1a1a1a" stroke-width="1.3299999999999998"/>
<line x1="2074.4" y1="2085" x2="2074.4" y2="2091.6" stroke="#1a1a1a" stroke-width="1.3299999999999998"/>
<text x="1977.3" y="2091.1" font-size="17" textLength="10.2" lengthAdjust="spacingAndGlyphs">0</text>
<text x="1967.1" y="2054.6" font-size="17" textLength="20.4" lengthAdjust="spacingAndGlyphs">25</text>
<text x="1967.1" y="2018.2" font-size="17" textLength="20.4" lengthAdjust="spacingAndGlyphs">50</text>
<text x="1967.1" y="1981.8" font-size="17" textLength="20.4" lengthAdjust="spacingAndGlyphs">75</text>
<text x="1959.7" y="1945.4" font-size="17" textLength="27.8" lengthAdjust="spacingAndGlyphs">100</text>
<text x="2001.7" y="1918.9" font-size="18.5" textLength="93.8" lengthAdjust="spacingAndGlyphs"><tspan font-style="italic">Myc</tspan><tspan font-style="normal"> floxed</tspan></text>
<text transform="translate(2032.5 2099.5) rotate(-46)" font-size="16.3" text-anchor="end"><tspan>MYFP</tspan><tspan font-size="9" dy="-6">+</tspan><tspan dy="6"></tspan></text>
<text transform="translate(2076.4 2099.5) rotate(-46)" font-size="16.3" text-anchor="end"><tspan>MTomato</tspan><tspan font-size="9" dy="-6">+</tspan><tspan dy="6"></tspan></text>
<text font-size="20" textLength="139.4" lengthAdjust="spacingAndGlyphs" transform="translate(1948.3 2077.7) rotate(-90)">percent clones</text>
<rect x="1932.8" y="2163.7" width="27.4" height="10.6" fill="#fff" stroke="#111" stroke-width="1.1"/>
<rect x="1933.4" y="2164.3" width="26.2" height="9.4" fill="url(#dp)"/>
<rect x="1932.8" y="2191.6" width="27.4" height="10.9" fill="#f8f8f8" stroke="#111" stroke-width="1.1"/>
<text x="1976" y="2174.3" font-size="17.5" textLength="101.7" lengthAdjust="spacingAndGlyphs">Proliferative</text>
<text x="1976" y="2202" font-size="17.5" textLength="143" lengthAdjust="spacingAndGlyphs">Nonproliferative</text>
</svg>
</body></html>
